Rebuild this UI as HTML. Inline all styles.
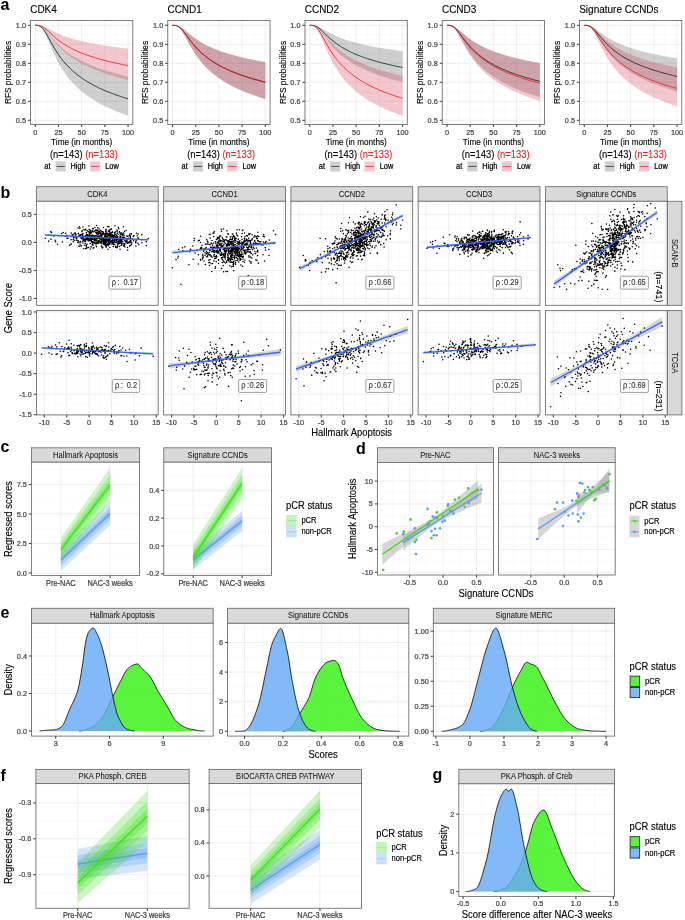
<!DOCTYPE html>
<html><head><meta charset="utf-8"><style>
html,body{margin:0;padding:0;background:#fff;}
svg{display:block;font-family:"Liberation Sans", sans-serif;will-change:transform;}
</style></head><body>
<svg width="685" height="920" viewBox="0 0 685 920">
<text x="0.6" y="9.6" font-size="16" font-weight="bold">a</text>
<rect x="30.5" y="20.5" width="102.3" height="104" fill="#fff"/>
<line x1="46.85" y1="20.5" x2="46.85" y2="124.5" stroke="#f3f3f3" stroke-width="0.45"/>
<line x1="70.05" y1="20.5" x2="70.05" y2="124.5" stroke="#f3f3f3" stroke-width="0.45"/>
<line x1="93.25" y1="20.5" x2="93.25" y2="124.5" stroke="#f3f3f3" stroke-width="0.45"/>
<line x1="116.45" y1="20.5" x2="116.45" y2="124.5" stroke="#f3f3f3" stroke-width="0.45"/>
<line x1="30.5" y1="110.8" x2="132.8" y2="110.8" stroke="#f3f3f3" stroke-width="0.45"/>
<line x1="30.5" y1="91.8" x2="132.8" y2="91.8" stroke="#f3f3f3" stroke-width="0.45"/>
<line x1="30.5" y1="72.8" x2="132.8" y2="72.8" stroke="#f3f3f3" stroke-width="0.45"/>
<line x1="30.5" y1="53.8" x2="132.8" y2="53.8" stroke="#f3f3f3" stroke-width="0.45"/>
<line x1="30.5" y1="34.8" x2="132.8" y2="34.8" stroke="#f3f3f3" stroke-width="0.45"/>
<line x1="35.25" y1="20.5" x2="35.25" y2="124.5" stroke="#e8e8e8" stroke-width="0.7"/>
<line x1="58.45" y1="20.5" x2="58.45" y2="124.5" stroke="#e8e8e8" stroke-width="0.7"/>
<line x1="81.65" y1="20.5" x2="81.65" y2="124.5" stroke="#e8e8e8" stroke-width="0.7"/>
<line x1="104.85" y1="20.5" x2="104.85" y2="124.5" stroke="#e8e8e8" stroke-width="0.7"/>
<line x1="128.05" y1="20.5" x2="128.05" y2="124.5" stroke="#e8e8e8" stroke-width="0.7"/>
<line x1="30.5" y1="120.3" x2="132.8" y2="120.3" stroke="#e8e8e8" stroke-width="0.7"/>
<line x1="30.5" y1="101.3" x2="132.8" y2="101.3" stroke="#e8e8e8" stroke-width="0.7"/>
<line x1="30.5" y1="82.3" x2="132.8" y2="82.3" stroke="#e8e8e8" stroke-width="0.7"/>
<line x1="30.5" y1="63.3" x2="132.8" y2="63.3" stroke="#e8e8e8" stroke-width="0.7"/>
<line x1="30.5" y1="44.3" x2="132.8" y2="44.3" stroke="#e8e8e8" stroke-width="0.7"/>
<line x1="30.5" y1="25.3" x2="132.8" y2="25.3" stroke="#e8e8e8" stroke-width="0.7"/>
<path d="M35.25 25.3 L36.18 25.3 L37.11 25.34 L38.03 25.42 L38.96 25.58 L39.89 25.84 L40.82 26.21 L41.75 26.71 L42.67 27.33 L43.6 28.08 L44.53 28.93 L45.46 29.87 L46.39 30.88 L47.31 31.95 L48.24 33.05 L49.17 34.17 L50.1 35.3 L51.03 36.43 L51.95 37.54 L52.88 38.64 L53.81 39.71 L54.74 40.76 L55.67 41.79 L56.59 42.78 L57.52 43.75 L58.45 44.68 L59.38 45.59 L60.31 46.47 L61.23 47.33 L62.16 48.15 L63.09 48.96 L64.02 49.74 L64.95 50.49 L65.87 51.22 L66.8 51.94 L67.73 52.63 L68.66 53.3 L69.59 53.95 L70.51 54.59 L71.44 55.21 L72.37 55.81 L73.3 56.4 L74.23 56.97 L75.15 57.53 L76.08 58.07 L77.01 58.6 L77.94 59.12 L78.87 59.62 L79.79 60.12 L80.72 60.6 L81.65 61.08 L82.58 61.54 L83.51 61.99 L84.43 62.43 L85.36 62.87 L86.29 63.29 L87.22 63.71 L88.15 64.12 L89.07 64.52 L90 64.91 L90.93 65.29 L91.86 65.67 L92.79 66.04 L93.71 66.41 L94.64 66.77 L95.57 67.12 L96.5 67.46 L97.43 67.8 L98.35 68.14 L99.28 68.47 L100.21 68.79 L101.14 69.11 L102.07 69.42 L102.99 69.73 L103.92 70.03 L104.85 70.33 L105.78 70.63 L106.71 70.92 L107.63 71.2 L108.56 71.48 L109.49 71.76 L110.42 72.03 L111.35 72.3 L112.27 72.57 L113.2 72.83 L114.13 73.09 L115.06 73.35 L115.99 73.6 L116.91 73.85 L117.84 74.09 L118.77 74.33 L119.7 74.57 L120.63 74.81 L121.55 75.04 L122.48 75.27 L123.41 75.5 L124.34 75.73 L125.27 75.95 L126.19 76.17 L127.12 76.39 L128.05 76.6 L128.05 115.55 L127.12 115.23 L126.19 114.91 L125.27 114.59 L124.34 114.26 L123.41 113.93 L122.48 113.59 L121.55 113.24 L120.63 112.9 L119.7 112.54 L118.77 112.18 L117.84 111.82 L116.91 111.45 L115.99 111.08 L115.06 110.7 L114.13 110.31 L113.2 109.92 L112.27 109.52 L111.35 109.12 L110.42 108.71 L109.49 108.29 L108.56 107.87 L107.63 107.44 L106.71 107 L105.78 106.55 L104.85 106.1 L103.92 105.64 L102.99 105.17 L102.07 104.69 L101.14 104.21 L100.21 103.71 L99.28 103.21 L98.35 102.69 L97.43 102.17 L96.5 101.63 L95.57 101.09 L94.64 100.53 L93.71 99.96 L92.79 99.39 L91.86 98.79 L90.93 98.19 L90 97.57 L89.07 96.94 L88.15 96.3 L87.22 95.64 L86.29 94.97 L85.36 94.28 L84.43 93.57 L83.51 92.85 L82.58 92.11 L81.65 91.35 L80.72 90.57 L79.79 89.77 L78.87 88.95 L77.94 88.11 L77.01 87.24 L76.08 86.35 L75.15 85.44 L74.23 84.5 L73.3 83.53 L72.37 82.53 L71.44 81.5 L70.51 80.44 L69.59 79.34 L68.66 78.21 L67.73 77.05 L66.8 75.84 L65.87 74.59 L64.95 73.3 L64.02 71.97 L63.09 70.58 L62.16 69.15 L61.23 67.66 L60.31 66.12 L59.38 64.52 L58.45 62.87 L57.52 61.15 L56.59 59.37 L55.67 57.52 L54.74 55.61 L53.81 53.64 L52.88 51.61 L51.95 49.52 L51.03 47.39 L50.1 45.22 L49.17 43.03 L48.24 40.83 L47.31 38.67 L46.39 36.56 L45.46 34.54 L44.53 32.65 L43.6 30.94 L42.67 29.44 L41.75 28.18 L40.82 27.17 L39.89 26.4 L38.96 25.87 L38.03 25.54 L37.11 25.37 L36.18 25.31 L35.25 25.3Z" fill="#000000" fill-opacity="0.19"/>
<path d="M35.25 25.3 L36.18 25.3 L37.11 25.31 L38.03 25.35 L38.96 25.42 L39.89 25.53 L40.82 25.68 L41.75 25.89 L42.67 26.15 L43.6 26.46 L44.53 26.82 L45.46 27.22 L46.39 27.65 L47.31 28.1 L48.24 28.57 L49.17 29.05 L50.1 29.54 L51.03 30.02 L51.95 30.51 L52.88 30.98 L53.81 31.45 L54.74 31.91 L55.67 32.36 L56.59 32.8 L57.52 33.22 L58.45 33.64 L59.38 34.04 L60.31 34.43 L61.23 34.82 L62.16 35.19 L63.09 35.55 L64.02 35.9 L64.95 36.24 L65.87 36.58 L66.8 36.9 L67.73 37.21 L68.66 37.52 L69.59 37.82 L70.51 38.11 L71.44 38.4 L72.37 38.68 L73.3 38.95 L74.23 39.21 L75.15 39.47 L76.08 39.72 L77.01 39.97 L77.94 40.21 L78.87 40.45 L79.79 40.68 L80.72 40.91 L81.65 41.13 L82.58 41.35 L83.51 41.56 L84.43 41.77 L85.36 41.98 L86.29 42.18 L87.22 42.38 L88.15 42.57 L89.07 42.76 L90 42.95 L90.93 43.13 L91.86 43.32 L92.79 43.49 L93.71 43.67 L94.64 43.84 L95.57 44.01 L96.5 44.18 L97.43 44.34 L98.35 44.5 L99.28 44.66 L100.21 44.82 L101.14 44.97 L102.07 45.13 L102.99 45.28 L103.92 45.42 L104.85 45.57 L105.78 45.71 L106.71 45.86 L107.63 46 L108.56 46.13 L109.49 46.27 L110.42 46.4 L111.35 46.54 L112.27 46.67 L113.2 46.8 L114.13 46.92 L115.06 47.05 L115.99 47.18 L116.91 47.3 L117.84 47.42 L118.77 47.54 L119.7 47.66 L120.63 47.78 L121.55 47.89 L122.48 48.01 L123.41 48.12 L124.34 48.23 L125.27 48.34 L126.19 48.45 L127.12 48.56 L128.05 48.67 L128.05 79.83 L127.12 79.6 L126.19 79.38 L125.27 79.15 L124.34 78.91 L123.41 78.68 L122.48 78.44 L121.55 78.19 L120.63 77.95 L119.7 77.7 L118.77 77.45 L117.84 77.2 L116.91 76.94 L115.99 76.68 L115.06 76.41 L114.13 76.14 L113.2 75.87 L112.27 75.59 L111.35 75.31 L110.42 75.03 L109.49 74.74 L108.56 74.45 L107.63 74.15 L106.71 73.85 L105.78 73.55 L104.85 73.24 L103.92 72.92 L102.99 72.6 L102.07 72.28 L101.14 71.95 L100.21 71.61 L99.28 71.27 L98.35 70.93 L97.43 70.57 L96.5 70.22 L95.57 69.85 L94.64 69.48 L93.71 69.1 L92.79 68.72 L91.86 68.32 L90.93 67.93 L90 67.52 L89.07 67.1 L88.15 66.68 L87.22 66.25 L86.29 65.81 L85.36 65.36 L84.43 64.9 L83.51 64.43 L82.58 63.95 L81.65 63.47 L80.72 62.96 L79.79 62.45 L78.87 61.93 L77.94 61.39 L77.01 60.85 L76.08 60.28 L75.15 59.71 L74.23 59.12 L73.3 58.51 L72.37 57.89 L71.44 57.25 L70.51 56.59 L69.59 55.92 L68.66 55.22 L67.73 54.51 L66.8 53.77 L65.87 53.02 L64.95 52.24 L64.02 51.43 L63.09 50.6 L62.16 49.75 L61.23 48.87 L60.31 47.96 L59.38 47.02 L58.45 46.05 L57.52 45.05 L56.59 44.02 L55.67 42.96 L54.74 41.87 L53.81 40.75 L52.88 39.6 L51.95 38.43 L51.03 37.24 L50.1 36.03 L49.17 34.82 L48.24 33.62 L47.31 32.44 L46.39 31.29 L45.46 30.21 L44.53 29.2 L43.6 28.28 L42.67 27.49 L41.75 26.82 L40.82 26.28 L39.89 25.88 L38.96 25.6 L38.03 25.43 L37.11 25.34 L36.18 25.3 L35.25 25.3Z" fill="#cb1f3b" fill-opacity="0.25"/>
<path d="M35.25 25.3 L36.18 25.31 L37.11 25.36 L38.03 25.49 L38.96 25.74 L39.89 26.14 L40.82 26.72 L41.75 27.49 L42.67 28.45 L43.6 29.6 L44.53 30.91 L45.46 32.36 L46.39 33.91 L47.31 35.54 L48.24 37.22 L49.17 38.92 L50.1 40.63 L51.03 42.32 L51.95 44 L52.88 45.64 L53.81 47.24 L54.74 48.8 L55.67 50.31 L56.59 51.78 L57.52 53.2 L58.45 54.57 L59.38 55.9 L60.31 57.19 L61.23 58.43 L62.16 59.63 L63.09 60.79 L64.02 61.91 L64.95 63 L65.87 64.05 L66.8 65.07 L67.73 66.06 L68.66 67.02 L69.59 67.95 L70.51 68.85 L71.44 69.73 L72.37 70.58 L73.3 71.4 L74.23 72.21 L75.15 72.99 L76.08 73.75 L77.01 74.5 L77.94 75.22 L78.87 75.92 L79.79 76.61 L80.72 77.28 L81.65 77.94 L82.58 78.58 L83.51 79.2 L84.43 79.81 L85.36 80.41 L86.29 81 L87.22 81.57 L88.15 82.13 L89.07 82.67 L90 83.21 L90.93 83.74 L91.86 84.25 L92.79 84.76 L93.71 85.25 L94.64 85.74 L95.57 86.22 L96.5 86.68 L97.43 87.14 L98.35 87.59 L99.28 88.04 L100.21 88.47 L101.14 88.9 L102.07 89.32 L102.99 89.74 L103.92 90.14 L104.85 90.54 L105.78 90.94 L106.71 91.32 L107.63 91.7 L108.56 92.08 L109.49 92.45 L110.42 92.81 L111.35 93.17 L112.27 93.52 L113.2 93.87 L114.13 94.21 L115.06 94.55 L115.99 94.89 L116.91 95.21 L117.84 95.54 L118.77 95.86 L119.7 96.17 L120.63 96.48 L121.55 96.79 L122.48 97.09 L123.41 97.39 L124.34 97.69 L125.27 97.98 L126.19 98.27 L127.12 98.55 L128.05 98.83" fill="none" stroke="#222" stroke-width="0.9" stroke-linejoin="round"/>
<path d="M35.25 25.3 L36.18 25.3 L37.11 25.33 L38.03 25.39 L38.96 25.51 L39.89 25.71 L40.82 25.99 L41.75 26.37 L42.67 26.84 L43.6 27.41 L44.53 28.05 L45.46 28.77 L46.39 29.54 L47.31 30.36 L48.24 31.2 L49.17 32.06 L50.1 32.92 L51.03 33.79 L51.95 34.64 L52.88 35.49 L53.81 36.32 L54.74 37.13 L55.67 37.92 L56.59 38.69 L57.52 39.44 L58.45 40.16 L59.38 40.87 L60.31 41.56 L61.23 42.22 L62.16 42.87 L63.09 43.5 L64.02 44.1 L64.95 44.7 L65.87 45.27 L66.8 45.83 L67.73 46.37 L68.66 46.9 L69.59 47.42 L70.51 47.92 L71.44 48.41 L72.37 48.88 L73.3 49.35 L74.23 49.8 L75.15 50.24 L76.08 50.67 L77.01 51.09 L77.94 51.5 L78.87 51.9 L79.79 52.3 L80.72 52.68 L81.65 53.06 L82.58 53.43 L83.51 53.79 L84.43 54.14 L85.36 54.49 L86.29 54.83 L87.22 55.16 L88.15 55.49 L89.07 55.81 L90 56.12 L90.93 56.43 L91.86 56.73 L92.79 57.03 L93.71 57.32 L94.64 57.61 L95.57 57.89 L96.5 58.17 L97.43 58.45 L98.35 58.71 L99.28 58.98 L100.21 59.24 L101.14 59.5 L102.07 59.75 L102.99 60 L103.92 60.24 L104.85 60.48 L105.78 60.72 L106.71 60.96 L107.63 61.19 L108.56 61.42 L109.49 61.64 L110.42 61.86 L111.35 62.08 L112.27 62.3 L113.2 62.51 L114.13 62.72 L115.06 62.93 L115.99 63.13 L116.91 63.34 L117.84 63.53 L118.77 63.73 L119.7 63.93 L120.63 64.12 L121.55 64.31 L122.48 64.5 L123.41 64.68 L124.34 64.87 L125.27 65.05 L126.19 65.23 L127.12 65.4 L128.05 65.58" fill="none" stroke="#ee2020" stroke-width="0.9" stroke-linejoin="round"/>
<rect x="30.5" y="20.5" width="102.3" height="104" fill="none" stroke="#707070" stroke-width="0.9"/>
<line x1="27.9" y1="120.3" x2="30.5" y2="120.3" stroke="#4a4a4a" stroke-width="1.1"/>
<text x="26" y="122.85" font-size="7.3" stroke="#444444" stroke-width="0.22" text-anchor="end" fill="#444444" transform="translate(26 122.85) scale(1 1.1) translate(-26 -122.85)">0.5</text>
<line x1="27.9" y1="101.3" x2="30.5" y2="101.3" stroke="#4a4a4a" stroke-width="1.1"/>
<text x="26" y="103.85" font-size="7.3" stroke="#444444" stroke-width="0.22" text-anchor="end" fill="#444444" transform="translate(26 103.85) scale(1 1.1) translate(-26 -103.85)">0.6</text>
<line x1="27.9" y1="82.3" x2="30.5" y2="82.3" stroke="#4a4a4a" stroke-width="1.1"/>
<text x="26" y="84.86" font-size="7.3" stroke="#444444" stroke-width="0.22" text-anchor="end" fill="#444444" transform="translate(26 84.86) scale(1 1.1) translate(-26 -84.86)">0.7</text>
<line x1="27.9" y1="63.3" x2="30.5" y2="63.3" stroke="#4a4a4a" stroke-width="1.1"/>
<text x="26" y="65.85" font-size="7.3" stroke="#444444" stroke-width="0.22" text-anchor="end" fill="#444444" transform="translate(26 65.85) scale(1 1.1) translate(-26 -65.85)">0.8</text>
<line x1="27.9" y1="44.3" x2="30.5" y2="44.3" stroke="#4a4a4a" stroke-width="1.1"/>
<text x="26" y="46.85" font-size="7.3" stroke="#444444" stroke-width="0.22" text-anchor="end" fill="#444444" transform="translate(26 46.85) scale(1 1.1) translate(-26 -46.85)">0.9</text>
<line x1="27.9" y1="25.3" x2="30.5" y2="25.3" stroke="#4a4a4a" stroke-width="1.1"/>
<text x="26" y="27.86" font-size="7.3" stroke="#444444" stroke-width="0.22" text-anchor="end" fill="#444444" transform="translate(26 27.86) scale(1 1.1) translate(-26 -27.86)">1.0</text>
<line x1="35.25" y1="124.5" x2="35.25" y2="127.1" stroke="#4a4a4a" stroke-width="1.1"/>
<text x="35.25" y="134.56" font-size="7.3" stroke="#444444" stroke-width="0.22" text-anchor="middle" fill="#444444" transform="translate(35.25 134.56) scale(1 1.1) translate(-35.25 -134.56)">0</text>
<line x1="58.45" y1="124.5" x2="58.45" y2="127.1" stroke="#4a4a4a" stroke-width="1.1"/>
<text x="58.45" y="134.56" font-size="7.3" stroke="#444444" stroke-width="0.22" text-anchor="middle" fill="#444444" transform="translate(58.45 134.56) scale(1 1.1) translate(-58.45 -134.56)">25</text>
<line x1="81.65" y1="124.5" x2="81.65" y2="127.1" stroke="#4a4a4a" stroke-width="1.1"/>
<text x="81.65" y="134.56" font-size="7.3" stroke="#444444" stroke-width="0.22" text-anchor="middle" fill="#444444" transform="translate(81.65 134.56) scale(1 1.1) translate(-81.65 -134.56)">50</text>
<line x1="104.85" y1="124.5" x2="104.85" y2="127.1" stroke="#4a4a4a" stroke-width="1.1"/>
<text x="104.85" y="134.56" font-size="7.3" stroke="#444444" stroke-width="0.22" text-anchor="middle" fill="#444444" transform="translate(104.85 134.56) scale(1 1.1) translate(-104.85 -134.56)">75</text>
<line x1="128.05" y1="124.5" x2="128.05" y2="127.1" stroke="#4a4a4a" stroke-width="1.1"/>
<text x="128.05" y="134.56" font-size="7.3" stroke="#444444" stroke-width="0.22" text-anchor="middle" fill="#444444" transform="translate(128.05 134.56) scale(1 1.1) translate(-128.05 -134.56)">100</text>
<text x="30.2" y="13.3" font-size="10" stroke="#000" stroke-width="0.12" transform="translate(30.2 13.3) scale(1 1.1) translate(-30.2 -13.3)">CDK4</text>
<text x="11.1" y="72.5" font-size="8.3" stroke="#000" stroke-width="0.12" text-anchor="middle" transform="rotate(-90 11.1 72.5) translate(11.1 72.5) scale(1 1.1) translate(-11.1 -72.5)">RFS probabilities</text>
<text x="81.7" y="144.9" font-size="8.2" stroke="#000" stroke-width="0.12" text-anchor="middle" transform="translate(81.7 144.9) scale(1 1.1) translate(-81.7 -144.9)">Time (in months)</text>
<text x="83.9" y="158.2" font-size="9.4" text-anchor="middle" stroke="#000" stroke-width="0.1" transform="translate(83.9 158.2) scale(1 1.1) translate(-83.9 -158.2)">(n=143) <tspan fill="#ee2222" stroke="#ee2222">(n=133)</tspan></text>
<text x="44.3" y="169.1" font-size="7.4" stroke="#000" stroke-width="0.22" transform="translate(44.3 169.1) scale(1 1.1) translate(-44.3 -169.1)">at</text>
<rect x="55.6" y="161.4" width="10.2" height="10.1" fill="#cfcfcf"/>
<line x1="56.7" y1="166.45" x2="64.7" y2="166.45" stroke="#222" stroke-width="0.75"/>
<text x="70.5" y="169.1" font-size="7.4" stroke="#000" stroke-width="0.22" transform="translate(70.5 169.1) scale(1 1.1) translate(-70.5 -169.1)">High</text>
<rect x="89.9" y="161.4" width="10.4" height="10.1" fill="#f2c7ce"/>
<line x1="91" y1="166.45" x2="99.2" y2="166.45" stroke="#ee2020" stroke-width="0.75"/>
<text x="105.2" y="169.1" font-size="7.4" stroke="#000" stroke-width="0.22" transform="translate(105.2 169.1) scale(1 1.1) translate(-105.2 -169.1)">Low</text>
<rect x="167.75" y="20.5" width="102.3" height="104" fill="#fff"/>
<line x1="184.1" y1="20.5" x2="184.1" y2="124.5" stroke="#f3f3f3" stroke-width="0.45"/>
<line x1="207.3" y1="20.5" x2="207.3" y2="124.5" stroke="#f3f3f3" stroke-width="0.45"/>
<line x1="230.5" y1="20.5" x2="230.5" y2="124.5" stroke="#f3f3f3" stroke-width="0.45"/>
<line x1="253.7" y1="20.5" x2="253.7" y2="124.5" stroke="#f3f3f3" stroke-width="0.45"/>
<line x1="167.75" y1="110.8" x2="270.05" y2="110.8" stroke="#f3f3f3" stroke-width="0.45"/>
<line x1="167.75" y1="91.8" x2="270.05" y2="91.8" stroke="#f3f3f3" stroke-width="0.45"/>
<line x1="167.75" y1="72.8" x2="270.05" y2="72.8" stroke="#f3f3f3" stroke-width="0.45"/>
<line x1="167.75" y1="53.8" x2="270.05" y2="53.8" stroke="#f3f3f3" stroke-width="0.45"/>
<line x1="167.75" y1="34.8" x2="270.05" y2="34.8" stroke="#f3f3f3" stroke-width="0.45"/>
<line x1="172.5" y1="20.5" x2="172.5" y2="124.5" stroke="#e8e8e8" stroke-width="0.7"/>
<line x1="195.7" y1="20.5" x2="195.7" y2="124.5" stroke="#e8e8e8" stroke-width="0.7"/>
<line x1="218.9" y1="20.5" x2="218.9" y2="124.5" stroke="#e8e8e8" stroke-width="0.7"/>
<line x1="242.1" y1="20.5" x2="242.1" y2="124.5" stroke="#e8e8e8" stroke-width="0.7"/>
<line x1="265.3" y1="20.5" x2="265.3" y2="124.5" stroke="#e8e8e8" stroke-width="0.7"/>
<line x1="167.75" y1="120.3" x2="270.05" y2="120.3" stroke="#e8e8e8" stroke-width="0.7"/>
<line x1="167.75" y1="101.3" x2="270.05" y2="101.3" stroke="#e8e8e8" stroke-width="0.7"/>
<line x1="167.75" y1="82.3" x2="270.05" y2="82.3" stroke="#e8e8e8" stroke-width="0.7"/>
<line x1="167.75" y1="63.3" x2="270.05" y2="63.3" stroke="#e8e8e8" stroke-width="0.7"/>
<line x1="167.75" y1="44.3" x2="270.05" y2="44.3" stroke="#e8e8e8" stroke-width="0.7"/>
<line x1="167.75" y1="25.3" x2="270.05" y2="25.3" stroke="#e8e8e8" stroke-width="0.7"/>
<path d="M172.5 25.3 L173.43 25.3 L174.36 25.32 L175.28 25.38 L176.21 25.49 L177.14 25.67 L178.07 25.93 L179 26.27 L179.92 26.7 L180.85 27.21 L181.78 27.79 L182.71 28.44 L183.64 29.14 L184.56 29.88 L185.49 30.65 L186.42 31.43 L187.35 32.21 L188.28 33 L189.2 33.78 L190.13 34.55 L191.06 35.3 L191.99 36.04 L192.92 36.76 L193.84 37.46 L194.77 38.14 L195.7 38.81 L196.63 39.45 L197.56 40.08 L198.48 40.68 L199.41 41.27 L200.34 41.85 L201.27 42.4 L202.2 42.95 L203.12 43.47 L204.05 43.98 L204.98 44.48 L205.91 44.96 L206.84 45.44 L207.76 45.89 L208.69 46.34 L209.62 46.78 L210.55 47.2 L211.48 47.62 L212.4 48.02 L213.33 48.42 L214.26 48.8 L215.19 49.18 L216.12 49.55 L217.04 49.91 L217.97 50.26 L218.9 50.61 L219.83 50.95 L220.76 51.28 L221.68 51.61 L222.61 51.92 L223.54 52.24 L224.47 52.54 L225.4 52.84 L226.32 53.14 L227.25 53.43 L228.18 53.71 L229.11 53.99 L230.04 54.27 L230.96 54.53 L231.89 54.8 L232.82 55.06 L233.75 55.32 L234.68 55.57 L235.6 55.82 L236.53 56.06 L237.46 56.3 L238.39 56.54 L239.32 56.77 L240.24 57 L241.17 57.23 L242.1 57.45 L243.03 57.67 L243.96 57.89 L244.88 58.1 L245.81 58.31 L246.74 58.52 L247.67 58.72 L248.6 58.92 L249.52 59.12 L250.45 59.32 L251.38 59.51 L252.31 59.71 L253.24 59.9 L254.16 60.08 L255.09 60.27 L256.02 60.45 L256.95 60.63 L257.88 60.81 L258.8 60.98 L259.73 61.16 L260.66 61.33 L261.59 61.5 L262.52 61.67 L263.44 61.83 L264.37 62 L265.3 62.16 L265.3 99.02 L264.37 98.74 L263.44 98.45 L262.52 98.17 L261.59 97.88 L260.66 97.58 L259.73 97.28 L258.8 96.98 L257.88 96.67 L256.95 96.36 L256.02 96.04 L255.09 95.72 L254.16 95.4 L253.24 95.07 L252.31 94.74 L251.38 94.4 L250.45 94.05 L249.52 93.7 L248.6 93.35 L247.67 92.99 L246.74 92.63 L245.81 92.26 L244.88 91.88 L243.96 91.5 L243.03 91.11 L242.1 90.72 L241.17 90.32 L240.24 89.91 L239.32 89.49 L238.39 89.07 L237.46 88.64 L236.53 88.21 L235.6 87.76 L234.68 87.31 L233.75 86.85 L232.82 86.38 L231.89 85.9 L230.96 85.42 L230.04 84.92 L229.11 84.41 L228.18 83.9 L227.25 83.37 L226.32 82.83 L225.4 82.28 L224.47 81.72 L223.54 81.15 L222.61 80.56 L221.68 79.97 L220.76 79.35 L219.83 78.73 L218.9 78.09 L217.97 77.43 L217.04 76.76 L216.12 76.07 L215.19 75.36 L214.26 74.64 L213.33 73.89 L212.4 73.13 L211.48 72.34 L210.55 71.54 L209.62 70.71 L208.69 69.86 L207.76 68.98 L206.84 68.07 L205.91 67.14 L204.98 66.18 L204.05 65.19 L203.12 64.17 L202.2 63.11 L201.27 62.02 L200.34 60.9 L199.41 59.73 L198.48 58.53 L197.56 57.28 L196.63 56 L195.7 54.66 L194.77 53.28 L193.84 51.86 L192.92 50.39 L191.99 48.87 L191.06 47.31 L190.13 45.7 L189.2 44.06 L188.28 42.38 L187.35 40.68 L186.42 38.96 L185.49 37.26 L184.56 35.57 L183.64 33.94 L182.71 32.38 L181.78 30.93 L180.85 29.62 L179.92 28.47 L179 27.5 L178.07 26.72 L177.14 26.14 L176.21 25.74 L175.28 25.49 L174.36 25.36 L173.43 25.31 L172.5 25.3Z" fill="#000000" fill-opacity="0.19"/>
<path d="M172.5 25.3 L173.43 25.3 L174.36 25.32 L175.28 25.38 L176.21 25.49 L177.14 25.67 L178.07 25.93 L179 26.27 L179.92 26.7 L180.85 27.21 L181.78 27.79 L182.71 28.44 L183.64 29.14 L184.56 29.88 L185.49 30.65 L186.42 31.43 L187.35 32.21 L188.28 33 L189.2 33.78 L190.13 34.55 L191.06 35.3 L191.99 36.04 L192.92 36.76 L193.84 37.46 L194.77 38.14 L195.7 38.81 L196.63 39.45 L197.56 40.08 L198.48 40.68 L199.41 41.27 L200.34 41.85 L201.27 42.4 L202.2 42.95 L203.12 43.47 L204.05 43.98 L204.98 44.48 L205.91 44.96 L206.84 45.44 L207.76 45.89 L208.69 46.34 L209.62 46.78 L210.55 47.2 L211.48 47.62 L212.4 48.02 L213.33 48.42 L214.26 48.8 L215.19 49.18 L216.12 49.55 L217.04 49.91 L217.97 50.26 L218.9 50.61 L219.83 50.95 L220.76 51.28 L221.68 51.61 L222.61 51.92 L223.54 52.24 L224.47 52.54 L225.4 52.84 L226.32 53.14 L227.25 53.43 L228.18 53.71 L229.11 53.99 L230.04 54.27 L230.96 54.53 L231.89 54.8 L232.82 55.06 L233.75 55.32 L234.68 55.57 L235.6 55.82 L236.53 56.06 L237.46 56.3 L238.39 56.54 L239.32 56.77 L240.24 57 L241.17 57.23 L242.1 57.45 L243.03 57.67 L243.96 57.89 L244.88 58.1 L245.81 58.31 L246.74 58.52 L247.67 58.72 L248.6 58.92 L249.52 59.12 L250.45 59.32 L251.38 59.51 L252.31 59.71 L253.24 59.9 L254.16 60.08 L255.09 60.27 L256.02 60.45 L256.95 60.63 L257.88 60.81 L258.8 60.98 L259.73 61.16 L260.66 61.33 L261.59 61.5 L262.52 61.67 L263.44 61.83 L264.37 62 L265.3 62.16 L265.3 99.02 L264.37 98.74 L263.44 98.45 L262.52 98.17 L261.59 97.88 L260.66 97.58 L259.73 97.28 L258.8 96.98 L257.88 96.67 L256.95 96.36 L256.02 96.04 L255.09 95.72 L254.16 95.4 L253.24 95.07 L252.31 94.74 L251.38 94.4 L250.45 94.05 L249.52 93.7 L248.6 93.35 L247.67 92.99 L246.74 92.63 L245.81 92.26 L244.88 91.88 L243.96 91.5 L243.03 91.11 L242.1 90.72 L241.17 90.32 L240.24 89.91 L239.32 89.49 L238.39 89.07 L237.46 88.64 L236.53 88.21 L235.6 87.76 L234.68 87.31 L233.75 86.85 L232.82 86.38 L231.89 85.9 L230.96 85.42 L230.04 84.92 L229.11 84.41 L228.18 83.9 L227.25 83.37 L226.32 82.83 L225.4 82.28 L224.47 81.72 L223.54 81.15 L222.61 80.56 L221.68 79.97 L220.76 79.35 L219.83 78.73 L218.9 78.09 L217.97 77.43 L217.04 76.76 L216.12 76.07 L215.19 75.36 L214.26 74.64 L213.33 73.89 L212.4 73.13 L211.48 72.34 L210.55 71.54 L209.62 70.71 L208.69 69.86 L207.76 68.98 L206.84 68.07 L205.91 67.14 L204.98 66.18 L204.05 65.19 L203.12 64.17 L202.2 63.11 L201.27 62.02 L200.34 60.9 L199.41 59.73 L198.48 58.53 L197.56 57.28 L196.63 56 L195.7 54.66 L194.77 53.28 L193.84 51.86 L192.92 50.39 L191.99 48.87 L191.06 47.31 L190.13 45.7 L189.2 44.06 L188.28 42.38 L187.35 40.68 L186.42 38.96 L185.49 37.26 L184.56 35.57 L183.64 33.94 L182.71 32.38 L181.78 30.93 L180.85 29.62 L179.92 28.47 L179 27.5 L178.07 26.72 L177.14 26.14 L176.21 25.74 L175.28 25.49 L174.36 25.36 L173.43 25.31 L172.5 25.3Z" fill="#cb1f3b" fill-opacity="0.25"/>
<path d="M172.5 25.3 L173.43 25.31 L174.36 25.34 L175.28 25.43 L176.21 25.62 L177.14 25.91 L178.07 26.33 L179 26.89 L179.92 27.6 L180.85 28.43 L181.78 29.39 L182.71 30.45 L183.64 31.59 L184.56 32.79 L185.49 34.03 L186.42 35.29 L187.35 36.55 L188.28 37.82 L189.2 39.06 L190.13 40.29 L191.06 41.49 L191.99 42.66 L192.92 43.8 L193.84 44.91 L194.77 45.99 L195.7 47.03 L196.63 48.04 L197.56 49.02 L198.48 49.97 L199.41 50.89 L200.34 51.78 L201.27 52.65 L202.2 53.48 L203.12 54.3 L204.05 55.08 L204.98 55.85 L205.91 56.59 L206.84 57.32 L207.76 58.02 L208.69 58.7 L209.62 59.37 L210.55 60.01 L211.48 60.64 L212.4 61.26 L213.33 61.86 L214.26 62.44 L215.19 63.01 L216.12 63.57 L217.04 64.11 L217.97 64.64 L218.9 65.16 L219.83 65.67 L220.76 66.17 L221.68 66.66 L222.61 67.13 L223.54 67.6 L224.47 68.05 L225.4 68.5 L226.32 68.94 L227.25 69.37 L228.18 69.79 L229.11 70.21 L230.04 70.61 L230.96 71.01 L231.89 71.4 L232.82 71.79 L233.75 72.17 L234.68 72.54 L235.6 72.9 L236.53 73.26 L237.46 73.61 L238.39 73.96 L239.32 74.3 L240.24 74.64 L241.17 74.97 L242.1 75.3 L243.03 75.62 L243.96 75.93 L244.88 76.24 L245.81 76.55 L246.74 76.85 L247.67 77.15 L248.6 77.44 L249.52 77.73 L250.45 78.02 L251.38 78.3 L252.31 78.58 L253.24 78.85 L254.16 79.12 L255.09 79.39 L256.02 79.65 L256.95 79.91 L257.88 80.17 L258.8 80.42 L259.73 80.67 L260.66 80.92 L261.59 81.16 L262.52 81.4 L263.44 81.64 L264.37 81.88 L265.3 82.11" fill="none" stroke="#222" stroke-width="0.9" stroke-linejoin="round"/>
<path d="M172.5 25.3 L173.43 25.31 L174.36 25.34 L175.28 25.44 L176.21 25.62 L177.14 25.91 L178.07 26.34 L179 26.91 L179.92 27.61 L180.85 28.46 L181.78 29.42 L182.71 30.49 L183.64 31.64 L184.56 32.85 L185.49 34.1 L186.42 35.37 L187.35 36.64 L188.28 37.91 L189.2 39.17 L190.13 40.4 L191.06 41.61 L191.99 42.79 L192.92 43.94 L193.84 45.06 L194.77 46.14 L195.7 47.19 L196.63 48.21 L197.56 49.2 L198.48 50.16 L199.41 51.08 L200.34 51.98 L201.27 52.85 L202.2 53.69 L203.12 54.51 L204.05 55.3 L204.98 56.07 L205.91 56.82 L206.84 57.55 L207.76 58.26 L208.69 58.94 L209.62 59.61 L210.55 60.26 L211.48 60.9 L212.4 61.52 L213.33 62.12 L214.26 62.71 L215.19 63.28 L216.12 63.84 L217.04 64.39 L217.97 64.93 L218.9 65.45 L219.83 65.96 L220.76 66.46 L221.68 66.95 L222.61 67.43 L223.54 67.9 L224.47 68.36 L225.4 68.81 L226.32 69.25 L227.25 69.68 L228.18 70.1 L229.11 70.52 L230.04 70.93 L230.96 71.33 L231.89 71.72 L232.82 72.11 L233.75 72.49 L234.68 72.86 L235.6 73.23 L236.53 73.59 L237.46 73.95 L238.39 74.3 L239.32 74.64 L240.24 74.98 L241.17 75.31 L242.1 75.64 L243.03 75.96 L243.96 76.28 L244.88 76.59 L245.81 76.9 L246.74 77.2 L247.67 77.5 L248.6 77.8 L249.52 78.09 L250.45 78.38 L251.38 78.66 L252.31 78.94 L253.24 79.21 L254.16 79.49 L255.09 79.75 L256.02 80.02 L256.95 80.28 L257.88 80.54 L258.8 80.79 L259.73 81.04 L260.66 81.29 L261.59 81.54 L262.52 81.78 L263.44 82.02 L264.37 82.26 L265.3 82.49" fill="none" stroke="#ee2020" stroke-width="0.9" stroke-linejoin="round"/>
<rect x="167.75" y="20.5" width="102.3" height="104" fill="none" stroke="#707070" stroke-width="0.9"/>
<line x1="165.15" y1="120.3" x2="167.75" y2="120.3" stroke="#4a4a4a" stroke-width="1.1"/>
<text x="163.25" y="122.85" font-size="7.3" stroke="#444444" stroke-width="0.22" text-anchor="end" fill="#444444" transform="translate(163.25 122.85) scale(1 1.1) translate(-163.25 -122.85)">0.5</text>
<line x1="165.15" y1="101.3" x2="167.75" y2="101.3" stroke="#4a4a4a" stroke-width="1.1"/>
<text x="163.25" y="103.85" font-size="7.3" stroke="#444444" stroke-width="0.22" text-anchor="end" fill="#444444" transform="translate(163.25 103.85) scale(1 1.1) translate(-163.25 -103.85)">0.6</text>
<line x1="165.15" y1="82.3" x2="167.75" y2="82.3" stroke="#4a4a4a" stroke-width="1.1"/>
<text x="163.25" y="84.86" font-size="7.3" stroke="#444444" stroke-width="0.22" text-anchor="end" fill="#444444" transform="translate(163.25 84.86) scale(1 1.1) translate(-163.25 -84.86)">0.7</text>
<line x1="165.15" y1="63.3" x2="167.75" y2="63.3" stroke="#4a4a4a" stroke-width="1.1"/>
<text x="163.25" y="65.85" font-size="7.3" stroke="#444444" stroke-width="0.22" text-anchor="end" fill="#444444" transform="translate(163.25 65.85) scale(1 1.1) translate(-163.25 -65.85)">0.8</text>
<line x1="165.15" y1="44.3" x2="167.75" y2="44.3" stroke="#4a4a4a" stroke-width="1.1"/>
<text x="163.25" y="46.85" font-size="7.3" stroke="#444444" stroke-width="0.22" text-anchor="end" fill="#444444" transform="translate(163.25 46.85) scale(1 1.1) translate(-163.25 -46.85)">0.9</text>
<line x1="165.15" y1="25.3" x2="167.75" y2="25.3" stroke="#4a4a4a" stroke-width="1.1"/>
<text x="163.25" y="27.86" font-size="7.3" stroke="#444444" stroke-width="0.22" text-anchor="end" fill="#444444" transform="translate(163.25 27.86) scale(1 1.1) translate(-163.25 -27.86)">1.0</text>
<line x1="172.5" y1="124.5" x2="172.5" y2="127.1" stroke="#4a4a4a" stroke-width="1.1"/>
<text x="172.5" y="134.56" font-size="7.3" stroke="#444444" stroke-width="0.22" text-anchor="middle" fill="#444444" transform="translate(172.5 134.56) scale(1 1.1) translate(-172.5 -134.56)">0</text>
<line x1="195.7" y1="124.5" x2="195.7" y2="127.1" stroke="#4a4a4a" stroke-width="1.1"/>
<text x="195.7" y="134.56" font-size="7.3" stroke="#444444" stroke-width="0.22" text-anchor="middle" fill="#444444" transform="translate(195.7 134.56) scale(1 1.1) translate(-195.7 -134.56)">25</text>
<line x1="218.9" y1="124.5" x2="218.9" y2="127.1" stroke="#4a4a4a" stroke-width="1.1"/>
<text x="218.9" y="134.56" font-size="7.3" stroke="#444444" stroke-width="0.22" text-anchor="middle" fill="#444444" transform="translate(218.9 134.56) scale(1 1.1) translate(-218.9 -134.56)">50</text>
<line x1="242.1" y1="124.5" x2="242.1" y2="127.1" stroke="#4a4a4a" stroke-width="1.1"/>
<text x="242.1" y="134.56" font-size="7.3" stroke="#444444" stroke-width="0.22" text-anchor="middle" fill="#444444" transform="translate(242.1 134.56) scale(1 1.1) translate(-242.1 -134.56)">75</text>
<line x1="265.3" y1="124.5" x2="265.3" y2="127.1" stroke="#4a4a4a" stroke-width="1.1"/>
<text x="265.3" y="134.56" font-size="7.3" stroke="#444444" stroke-width="0.22" text-anchor="middle" fill="#444444" transform="translate(265.3 134.56) scale(1 1.1) translate(-265.3 -134.56)">100</text>
<text x="167.45" y="13.3" font-size="10" stroke="#000" stroke-width="0.12" transform="translate(167.45 13.3) scale(1 1.1) translate(-167.45 -13.3)">CCND1</text>
<text x="148.35" y="72.5" font-size="8.3" stroke="#000" stroke-width="0.12" text-anchor="middle" transform="rotate(-90 148.35 72.5) translate(148.35 72.5) scale(1 1.1) translate(-148.35 -72.5)">RFS probabilities</text>
<text x="218.95" y="144.9" font-size="8.2" stroke="#000" stroke-width="0.12" text-anchor="middle" transform="translate(218.95 144.9) scale(1 1.1) translate(-218.95 -144.9)">Time (in months)</text>
<text x="221.15" y="158.2" font-size="9.4" text-anchor="middle" stroke="#000" stroke-width="0.1" transform="translate(221.15 158.2) scale(1 1.1) translate(-221.15 -158.2)">(n=143) <tspan fill="#ee2222" stroke="#ee2222">(n=133)</tspan></text>
<text x="181.55" y="169.1" font-size="7.4" stroke="#000" stroke-width="0.22" transform="translate(181.55 169.1) scale(1 1.1) translate(-181.55 -169.1)">at</text>
<rect x="192.85" y="161.4" width="10.2" height="10.1" fill="#cfcfcf"/>
<line x1="193.95" y1="166.45" x2="201.95" y2="166.45" stroke="#222" stroke-width="0.75"/>
<text x="207.75" y="169.1" font-size="7.4" stroke="#000" stroke-width="0.22" transform="translate(207.75 169.1) scale(1 1.1) translate(-207.75 -169.1)">High</text>
<rect x="227.15" y="161.4" width="10.4" height="10.1" fill="#f2c7ce"/>
<line x1="228.25" y1="166.45" x2="236.45" y2="166.45" stroke="#ee2020" stroke-width="0.75"/>
<text x="242.45" y="169.1" font-size="7.4" stroke="#000" stroke-width="0.22" transform="translate(242.45 169.1) scale(1 1.1) translate(-242.45 -169.1)">Low</text>
<rect x="305" y="20.5" width="102.3" height="104" fill="#fff"/>
<line x1="321.35" y1="20.5" x2="321.35" y2="124.5" stroke="#f3f3f3" stroke-width="0.45"/>
<line x1="344.55" y1="20.5" x2="344.55" y2="124.5" stroke="#f3f3f3" stroke-width="0.45"/>
<line x1="367.75" y1="20.5" x2="367.75" y2="124.5" stroke="#f3f3f3" stroke-width="0.45"/>
<line x1="390.95" y1="20.5" x2="390.95" y2="124.5" stroke="#f3f3f3" stroke-width="0.45"/>
<line x1="305" y1="110.8" x2="407.3" y2="110.8" stroke="#f3f3f3" stroke-width="0.45"/>
<line x1="305" y1="91.8" x2="407.3" y2="91.8" stroke="#f3f3f3" stroke-width="0.45"/>
<line x1="305" y1="72.8" x2="407.3" y2="72.8" stroke="#f3f3f3" stroke-width="0.45"/>
<line x1="305" y1="53.8" x2="407.3" y2="53.8" stroke="#f3f3f3" stroke-width="0.45"/>
<line x1="305" y1="34.8" x2="407.3" y2="34.8" stroke="#f3f3f3" stroke-width="0.45"/>
<line x1="309.75" y1="20.5" x2="309.75" y2="124.5" stroke="#e8e8e8" stroke-width="0.7"/>
<line x1="332.95" y1="20.5" x2="332.95" y2="124.5" stroke="#e8e8e8" stroke-width="0.7"/>
<line x1="356.15" y1="20.5" x2="356.15" y2="124.5" stroke="#e8e8e8" stroke-width="0.7"/>
<line x1="379.35" y1="20.5" x2="379.35" y2="124.5" stroke="#e8e8e8" stroke-width="0.7"/>
<line x1="402.55" y1="20.5" x2="402.55" y2="124.5" stroke="#e8e8e8" stroke-width="0.7"/>
<line x1="305" y1="120.3" x2="407.3" y2="120.3" stroke="#e8e8e8" stroke-width="0.7"/>
<line x1="305" y1="101.3" x2="407.3" y2="101.3" stroke="#e8e8e8" stroke-width="0.7"/>
<line x1="305" y1="82.3" x2="407.3" y2="82.3" stroke="#e8e8e8" stroke-width="0.7"/>
<line x1="305" y1="63.3" x2="407.3" y2="63.3" stroke="#e8e8e8" stroke-width="0.7"/>
<line x1="305" y1="44.3" x2="407.3" y2="44.3" stroke="#e8e8e8" stroke-width="0.7"/>
<line x1="305" y1="25.3" x2="407.3" y2="25.3" stroke="#e8e8e8" stroke-width="0.7"/>
<path d="M309.75 25.3 L310.68 25.3 L311.61 25.32 L312.53 25.36 L313.46 25.43 L314.39 25.55 L315.32 25.72 L316.25 25.96 L317.17 26.25 L318.1 26.6 L319.03 26.99 L319.96 27.44 L320.89 27.91 L321.81 28.42 L322.74 28.94 L323.67 29.48 L324.6 30.01 L325.53 30.55 L326.45 31.09 L327.38 31.62 L328.31 32.14 L329.24 32.65 L330.17 33.14 L331.09 33.63 L332.02 34.1 L332.95 34.56 L333.88 35.01 L334.81 35.45 L335.73 35.87 L336.66 36.28 L337.59 36.68 L338.52 37.07 L339.45 37.45 L340.37 37.82 L341.3 38.17 L342.23 38.52 L343.16 38.86 L344.09 39.19 L345.01 39.52 L345.94 39.83 L346.87 40.14 L347.8 40.44 L348.73 40.73 L349.65 41.01 L350.58 41.29 L351.51 41.57 L352.44 41.83 L353.37 42.1 L354.29 42.35 L355.22 42.6 L356.15 42.85 L357.08 43.09 L358.01 43.32 L358.93 43.55 L359.86 43.78 L360.79 44 L361.72 44.22 L362.65 44.43 L363.57 44.65 L364.5 44.85 L365.43 45.05 L366.36 45.25 L367.29 45.45 L368.21 45.64 L369.14 45.83 L370.07 46.02 L371 46.2 L371.93 46.38 L372.85 46.56 L373.78 46.74 L374.71 46.91 L375.64 47.08 L376.57 47.25 L377.49 47.41 L378.42 47.57 L379.35 47.73 L380.28 47.89 L381.21 48.05 L382.13 48.2 L383.06 48.35 L383.99 48.5 L384.92 48.65 L385.85 48.8 L386.77 48.94 L387.7 49.08 L388.63 49.22 L389.56 49.36 L390.49 49.5 L391.41 49.63 L392.34 49.77 L393.27 49.9 L394.2 50.03 L395.13 50.16 L396.05 50.29 L396.98 50.41 L397.91 50.54 L398.84 50.66 L399.77 50.78 L400.69 50.9 L401.62 51.02 L402.55 51.14 L402.55 82.3 L401.62 82.07 L400.69 81.83 L399.77 81.59 L398.84 81.35 L397.91 81.11 L396.98 80.86 L396.05 80.61 L395.13 80.35 L394.2 80.1 L393.27 79.83 L392.34 79.57 L391.41 79.3 L390.49 79.03 L389.56 78.76 L388.63 78.48 L387.7 78.2 L386.77 77.91 L385.85 77.62 L384.92 77.33 L383.99 77.03 L383.06 76.72 L382.13 76.42 L381.21 76.11 L380.28 75.79 L379.35 75.47 L378.42 75.14 L377.49 74.81 L376.57 74.47 L375.64 74.13 L374.71 73.78 L373.78 73.43 L372.85 73.07 L371.93 72.7 L371 72.33 L370.07 71.95 L369.14 71.56 L368.21 71.17 L367.29 70.77 L366.36 70.36 L365.43 69.95 L364.5 69.52 L363.57 69.09 L362.65 68.65 L361.72 68.2 L360.79 67.75 L359.86 67.28 L358.93 66.8 L358.01 66.31 L357.08 65.82 L356.15 65.31 L355.22 64.78 L354.29 64.25 L353.37 63.71 L352.44 63.15 L351.51 62.58 L350.58 61.99 L349.65 61.39 L348.73 60.77 L347.8 60.14 L346.87 59.49 L345.94 58.82 L345.01 58.14 L344.09 57.43 L343.16 56.71 L342.23 55.96 L341.3 55.19 L340.37 54.4 L339.45 53.59 L338.52 52.75 L337.59 51.88 L336.66 50.99 L335.73 50.06 L334.81 49.11 L333.88 48.13 L332.95 47.11 L332.02 46.07 L331.09 44.99 L330.17 43.87 L329.24 42.73 L328.31 41.55 L327.38 40.35 L326.45 39.12 L325.53 37.86 L324.6 36.6 L323.67 35.33 L322.74 34.06 L321.81 32.82 L320.89 31.62 L319.96 30.47 L319.03 29.41 L318.1 28.45 L317.17 27.6 L316.25 26.9 L315.32 26.34 L314.39 25.91 L313.46 25.62 L312.53 25.44 L311.61 25.34 L310.68 25.31 L309.75 25.3Z" fill="#000000" fill-opacity="0.19"/>
<path d="M309.75 25.3 L310.68 25.3 L311.61 25.34 L312.53 25.42 L313.46 25.58 L314.39 25.83 L315.32 26.2 L316.25 26.69 L317.17 27.31 L318.1 28.04 L319.03 28.88 L319.96 29.81 L320.89 30.81 L321.81 31.86 L322.74 32.95 L323.67 34.06 L324.6 35.18 L325.53 36.29 L326.45 37.39 L327.38 38.47 L328.31 39.53 L329.24 40.57 L330.17 41.58 L331.09 42.56 L332.02 43.52 L332.95 44.44 L333.88 45.34 L334.81 46.21 L335.73 47.06 L336.66 47.87 L337.59 48.67 L338.52 49.44 L339.45 50.18 L340.37 50.91 L341.3 51.61 L342.23 52.3 L343.16 52.96 L344.09 53.61 L345.01 54.24 L345.94 54.85 L346.87 55.45 L347.8 56.03 L348.73 56.59 L349.65 57.14 L350.58 57.68 L351.51 58.21 L352.44 58.72 L353.37 59.22 L354.29 59.71 L355.22 60.19 L356.15 60.66 L357.08 61.11 L358.01 61.56 L358.93 62 L359.86 62.43 L360.79 62.85 L361.72 63.26 L362.65 63.67 L363.57 64.06 L364.5 64.45 L365.43 64.83 L366.36 65.21 L367.29 65.57 L368.21 65.93 L369.14 66.29 L370.07 66.64 L371 66.98 L371.93 67.32 L372.85 67.65 L373.78 67.97 L374.71 68.29 L375.64 68.61 L376.57 68.92 L377.49 69.22 L378.42 69.52 L379.35 69.82 L380.28 70.11 L381.21 70.4 L382.13 70.68 L383.06 70.96 L383.99 71.23 L384.92 71.51 L385.85 71.77 L386.77 72.04 L387.7 72.3 L388.63 72.55 L389.56 72.81 L390.49 73.05 L391.41 73.3 L392.34 73.54 L393.27 73.78 L394.2 74.02 L395.13 74.26 L396.05 74.49 L396.98 74.72 L397.91 74.94 L398.84 75.16 L399.77 75.38 L400.69 75.6 L401.62 75.82 L402.55 76.03 L402.55 115.74 L401.62 115.42 L400.69 115.1 L399.77 114.78 L398.84 114.45 L397.91 114.11 L396.98 113.77 L396.05 113.43 L395.13 113.08 L394.2 112.73 L393.27 112.37 L392.34 112.01 L391.41 111.64 L390.49 111.26 L389.56 110.88 L388.63 110.5 L387.7 110.11 L386.77 109.71 L385.85 109.3 L384.92 108.89 L383.99 108.47 L383.06 108.05 L382.13 107.62 L381.21 107.18 L380.28 106.73 L379.35 106.28 L378.42 105.82 L377.49 105.35 L376.57 104.87 L375.64 104.38 L374.71 103.89 L373.78 103.38 L372.85 102.86 L371.93 102.34 L371 101.8 L370.07 101.26 L369.14 100.7 L368.21 100.13 L367.29 99.55 L366.36 98.96 L365.43 98.36 L364.5 97.74 L363.57 97.11 L362.65 96.46 L361.72 95.8 L360.79 95.13 L359.86 94.44 L358.93 93.73 L358.01 93.01 L357.08 92.26 L356.15 91.5 L355.22 90.72 L354.29 89.92 L353.37 89.1 L352.44 88.26 L351.51 87.39 L350.58 86.5 L349.65 85.58 L348.73 84.64 L347.8 83.67 L346.87 82.67 L345.94 81.64 L345.01 80.58 L344.09 79.48 L343.16 78.35 L342.23 77.18 L341.3 75.97 L340.37 74.72 L339.45 73.43 L338.52 72.09 L337.59 70.7 L336.66 69.26 L335.73 67.77 L334.81 66.23 L333.88 64.63 L332.95 62.97 L332.02 61.24 L331.09 59.46 L330.17 57.61 L329.24 55.7 L328.31 53.72 L327.38 51.68 L326.45 49.59 L325.53 47.45 L324.6 45.27 L323.67 43.08 L322.74 40.88 L321.81 38.7 L320.89 36.59 L319.96 34.57 L319.03 32.68 L318.1 30.96 L317.17 29.46 L316.25 28.19 L315.32 27.17 L314.39 26.41 L313.46 25.87 L312.53 25.54 L311.61 25.37 L310.68 25.31 L309.75 25.3Z" fill="#cb1f3b" fill-opacity="0.25"/>
<path d="M309.75 25.3 L310.68 25.3 L311.61 25.33 L312.53 25.4 L313.46 25.52 L314.39 25.73 L315.32 26.03 L316.25 26.43 L317.17 26.92 L318.1 27.52 L319.03 28.2 L319.96 28.95 L320.89 29.77 L321.81 30.62 L322.74 31.51 L323.67 32.41 L324.6 33.32 L325.53 34.23 L326.45 35.13 L327.38 36.02 L328.31 36.89 L329.24 37.74 L330.17 38.57 L331.09 39.38 L332.02 40.16 L332.95 40.93 L333.88 41.67 L334.81 42.39 L335.73 43.08 L336.66 43.76 L337.59 44.42 L338.52 45.06 L339.45 45.68 L340.37 46.28 L341.3 46.87 L342.23 47.43 L343.16 47.99 L344.09 48.53 L345.01 49.05 L345.94 49.56 L346.87 50.06 L347.8 50.54 L348.73 51.02 L349.65 51.48 L350.58 51.93 L351.51 52.37 L352.44 52.8 L353.37 53.22 L354.29 53.63 L355.22 54.03 L356.15 54.43 L357.08 54.81 L358.01 55.19 L358.93 55.56 L359.86 55.92 L360.79 56.27 L361.72 56.62 L362.65 56.96 L363.57 57.3 L364.5 57.62 L365.43 57.95 L366.36 58.26 L367.29 58.57 L368.21 58.88 L369.14 59.18 L370.07 59.47 L371 59.76 L371.93 60.05 L372.85 60.33 L373.78 60.61 L374.71 60.88 L375.64 61.14 L376.57 61.41 L377.49 61.67 L378.42 61.92 L379.35 62.17 L380.28 62.42 L381.21 62.67 L382.13 62.91 L383.06 63.15 L383.99 63.38 L384.92 63.61 L385.85 63.84 L386.77 64.06 L387.7 64.29 L388.63 64.5 L389.56 64.72 L390.49 64.93 L391.41 65.14 L392.34 65.35 L393.27 65.56 L394.2 65.76 L395.13 65.96 L396.05 66.16 L396.98 66.35 L397.91 66.55 L398.84 66.74 L399.77 66.93 L400.69 67.11 L401.62 67.3 L402.55 67.48" fill="none" stroke="#222" stroke-width="0.9" stroke-linejoin="round"/>
<path d="M309.75 25.3 L310.68 25.31 L311.61 25.35 L312.53 25.48 L313.46 25.73 L314.39 26.13 L315.32 26.7 L316.25 27.47 L317.17 28.42 L318.1 29.56 L319.03 30.86 L319.96 32.29 L320.89 33.83 L321.81 35.44 L322.74 37.1 L323.67 38.79 L324.6 40.48 L325.53 42.16 L326.45 43.82 L327.38 45.44 L328.31 47.03 L329.24 48.58 L330.17 50.08 L331.09 51.53 L332.02 52.94 L332.95 54.3 L333.88 55.62 L334.81 56.9 L335.73 58.13 L336.66 59.32 L337.59 60.47 L338.52 61.59 L339.45 62.67 L340.37 63.71 L341.3 64.72 L342.23 65.7 L343.16 66.65 L344.09 67.57 L345.01 68.47 L345.94 69.34 L346.87 70.18 L347.8 71 L348.73 71.8 L349.65 72.58 L350.58 73.34 L351.51 74.07 L352.44 74.79 L353.37 75.49 L354.29 76.18 L355.22 76.84 L356.15 77.49 L357.08 78.13 L358.01 78.75 L358.93 79.36 L359.86 79.95 L360.79 80.53 L361.72 81.1 L362.65 81.65 L363.57 82.2 L364.5 82.73 L365.43 83.25 L366.36 83.77 L367.29 84.27 L368.21 84.76 L369.14 85.24 L370.07 85.72 L371 86.18 L371.93 86.64 L372.85 87.09 L373.78 87.53 L374.71 87.96 L375.64 88.39 L376.57 88.8 L377.49 89.22 L378.42 89.62 L379.35 90.02 L380.28 90.41 L381.21 90.79 L382.13 91.17 L383.06 91.55 L383.99 91.91 L384.92 92.28 L385.85 92.63 L386.77 92.98 L387.7 93.33 L388.63 93.67 L389.56 94.01 L390.49 94.34 L391.41 94.66 L392.34 94.99 L393.27 95.3 L394.2 95.62 L395.13 95.93 L396.05 96.23 L396.98 96.53 L397.91 96.83 L398.84 97.12 L399.77 97.41 L400.69 97.7 L401.62 97.98 L402.55 98.26" fill="none" stroke="#ee2020" stroke-width="0.9" stroke-linejoin="round"/>
<rect x="305" y="20.5" width="102.3" height="104" fill="none" stroke="#707070" stroke-width="0.9"/>
<line x1="302.4" y1="120.3" x2="305" y2="120.3" stroke="#4a4a4a" stroke-width="1.1"/>
<text x="300.5" y="122.85" font-size="7.3" stroke="#444444" stroke-width="0.22" text-anchor="end" fill="#444444" transform="translate(300.5 122.85) scale(1 1.1) translate(-300.5 -122.85)">0.5</text>
<line x1="302.4" y1="101.3" x2="305" y2="101.3" stroke="#4a4a4a" stroke-width="1.1"/>
<text x="300.5" y="103.85" font-size="7.3" stroke="#444444" stroke-width="0.22" text-anchor="end" fill="#444444" transform="translate(300.5 103.85) scale(1 1.1) translate(-300.5 -103.85)">0.6</text>
<line x1="302.4" y1="82.3" x2="305" y2="82.3" stroke="#4a4a4a" stroke-width="1.1"/>
<text x="300.5" y="84.86" font-size="7.3" stroke="#444444" stroke-width="0.22" text-anchor="end" fill="#444444" transform="translate(300.5 84.86) scale(1 1.1) translate(-300.5 -84.86)">0.7</text>
<line x1="302.4" y1="63.3" x2="305" y2="63.3" stroke="#4a4a4a" stroke-width="1.1"/>
<text x="300.5" y="65.85" font-size="7.3" stroke="#444444" stroke-width="0.22" text-anchor="end" fill="#444444" transform="translate(300.5 65.85) scale(1 1.1) translate(-300.5 -65.85)">0.8</text>
<line x1="302.4" y1="44.3" x2="305" y2="44.3" stroke="#4a4a4a" stroke-width="1.1"/>
<text x="300.5" y="46.85" font-size="7.3" stroke="#444444" stroke-width="0.22" text-anchor="end" fill="#444444" transform="translate(300.5 46.85) scale(1 1.1) translate(-300.5 -46.85)">0.9</text>
<line x1="302.4" y1="25.3" x2="305" y2="25.3" stroke="#4a4a4a" stroke-width="1.1"/>
<text x="300.5" y="27.86" font-size="7.3" stroke="#444444" stroke-width="0.22" text-anchor="end" fill="#444444" transform="translate(300.5 27.86) scale(1 1.1) translate(-300.5 -27.86)">1.0</text>
<line x1="309.75" y1="124.5" x2="309.75" y2="127.1" stroke="#4a4a4a" stroke-width="1.1"/>
<text x="309.75" y="134.56" font-size="7.3" stroke="#444444" stroke-width="0.22" text-anchor="middle" fill="#444444" transform="translate(309.75 134.56) scale(1 1.1) translate(-309.75 -134.56)">0</text>
<line x1="332.95" y1="124.5" x2="332.95" y2="127.1" stroke="#4a4a4a" stroke-width="1.1"/>
<text x="332.95" y="134.56" font-size="7.3" stroke="#444444" stroke-width="0.22" text-anchor="middle" fill="#444444" transform="translate(332.95 134.56) scale(1 1.1) translate(-332.95 -134.56)">25</text>
<line x1="356.15" y1="124.5" x2="356.15" y2="127.1" stroke="#4a4a4a" stroke-width="1.1"/>
<text x="356.15" y="134.56" font-size="7.3" stroke="#444444" stroke-width="0.22" text-anchor="middle" fill="#444444" transform="translate(356.15 134.56) scale(1 1.1) translate(-356.15 -134.56)">50</text>
<line x1="379.35" y1="124.5" x2="379.35" y2="127.1" stroke="#4a4a4a" stroke-width="1.1"/>
<text x="379.35" y="134.56" font-size="7.3" stroke="#444444" stroke-width="0.22" text-anchor="middle" fill="#444444" transform="translate(379.35 134.56) scale(1 1.1) translate(-379.35 -134.56)">75</text>
<line x1="402.55" y1="124.5" x2="402.55" y2="127.1" stroke="#4a4a4a" stroke-width="1.1"/>
<text x="402.55" y="134.56" font-size="7.3" stroke="#444444" stroke-width="0.22" text-anchor="middle" fill="#444444" transform="translate(402.55 134.56) scale(1 1.1) translate(-402.55 -134.56)">100</text>
<text x="304.7" y="13.3" font-size="10" stroke="#000" stroke-width="0.12" transform="translate(304.7 13.3) scale(1 1.1) translate(-304.7 -13.3)">CCND2</text>
<text x="285.6" y="72.5" font-size="8.3" stroke="#000" stroke-width="0.12" text-anchor="middle" transform="rotate(-90 285.6 72.5) translate(285.6 72.5) scale(1 1.1) translate(-285.6 -72.5)">RFS probabilities</text>
<text x="356.2" y="144.9" font-size="8.2" stroke="#000" stroke-width="0.12" text-anchor="middle" transform="translate(356.2 144.9) scale(1 1.1) translate(-356.2 -144.9)">Time (in months)</text>
<text x="358.4" y="158.2" font-size="9.4" text-anchor="middle" stroke="#000" stroke-width="0.1" transform="translate(358.4 158.2) scale(1 1.1) translate(-358.4 -158.2)">(n=143) <tspan fill="#ee2222" stroke="#ee2222">(n=133)</tspan></text>
<text x="318.8" y="169.1" font-size="7.4" stroke="#000" stroke-width="0.22" transform="translate(318.8 169.1) scale(1 1.1) translate(-318.8 -169.1)">at</text>
<rect x="330.1" y="161.4" width="10.2" height="10.1" fill="#cfcfcf"/>
<line x1="331.2" y1="166.45" x2="339.2" y2="166.45" stroke="#222" stroke-width="0.75"/>
<text x="345" y="169.1" font-size="7.4" stroke="#000" stroke-width="0.22" transform="translate(345 169.1) scale(1 1.1) translate(-345 -169.1)">High</text>
<rect x="364.4" y="161.4" width="10.4" height="10.1" fill="#f2c7ce"/>
<line x1="365.5" y1="166.45" x2="373.7" y2="166.45" stroke="#ee2020" stroke-width="0.75"/>
<text x="379.7" y="169.1" font-size="7.4" stroke="#000" stroke-width="0.22" transform="translate(379.7 169.1) scale(1 1.1) translate(-379.7 -169.1)">Low</text>
<rect x="442.25" y="20.5" width="102.3" height="104" fill="#fff"/>
<line x1="458.6" y1="20.5" x2="458.6" y2="124.5" stroke="#f3f3f3" stroke-width="0.45"/>
<line x1="481.8" y1="20.5" x2="481.8" y2="124.5" stroke="#f3f3f3" stroke-width="0.45"/>
<line x1="505" y1="20.5" x2="505" y2="124.5" stroke="#f3f3f3" stroke-width="0.45"/>
<line x1="528.2" y1="20.5" x2="528.2" y2="124.5" stroke="#f3f3f3" stroke-width="0.45"/>
<line x1="442.25" y1="110.8" x2="544.55" y2="110.8" stroke="#f3f3f3" stroke-width="0.45"/>
<line x1="442.25" y1="91.8" x2="544.55" y2="91.8" stroke="#f3f3f3" stroke-width="0.45"/>
<line x1="442.25" y1="72.8" x2="544.55" y2="72.8" stroke="#f3f3f3" stroke-width="0.45"/>
<line x1="442.25" y1="53.8" x2="544.55" y2="53.8" stroke="#f3f3f3" stroke-width="0.45"/>
<line x1="442.25" y1="34.8" x2="544.55" y2="34.8" stroke="#f3f3f3" stroke-width="0.45"/>
<line x1="447" y1="20.5" x2="447" y2="124.5" stroke="#e8e8e8" stroke-width="0.7"/>
<line x1="470.2" y1="20.5" x2="470.2" y2="124.5" stroke="#e8e8e8" stroke-width="0.7"/>
<line x1="493.4" y1="20.5" x2="493.4" y2="124.5" stroke="#e8e8e8" stroke-width="0.7"/>
<line x1="516.6" y1="20.5" x2="516.6" y2="124.5" stroke="#e8e8e8" stroke-width="0.7"/>
<line x1="539.8" y1="20.5" x2="539.8" y2="124.5" stroke="#e8e8e8" stroke-width="0.7"/>
<line x1="442.25" y1="120.3" x2="544.55" y2="120.3" stroke="#e8e8e8" stroke-width="0.7"/>
<line x1="442.25" y1="101.3" x2="544.55" y2="101.3" stroke="#e8e8e8" stroke-width="0.7"/>
<line x1="442.25" y1="82.3" x2="544.55" y2="82.3" stroke="#e8e8e8" stroke-width="0.7"/>
<line x1="442.25" y1="63.3" x2="544.55" y2="63.3" stroke="#e8e8e8" stroke-width="0.7"/>
<line x1="442.25" y1="44.3" x2="544.55" y2="44.3" stroke="#e8e8e8" stroke-width="0.7"/>
<line x1="442.25" y1="25.3" x2="544.55" y2="25.3" stroke="#e8e8e8" stroke-width="0.7"/>
<path d="M447 25.3 L447.93 25.3 L448.86 25.32 L449.78 25.38 L450.71 25.5 L451.64 25.68 L452.57 25.94 L453.5 26.29 L454.42 26.73 L455.35 27.25 L456.28 27.85 L457.21 28.52 L458.14 29.23 L459.06 29.99 L459.99 30.77 L460.92 31.57 L461.85 32.37 L462.78 33.17 L463.7 33.97 L464.63 34.75 L465.56 35.52 L466.49 36.28 L467.42 37.01 L468.34 37.73 L469.27 38.43 L470.2 39.11 L471.13 39.76 L472.06 40.4 L472.98 41.02 L473.91 41.63 L474.84 42.21 L475.77 42.78 L476.7 43.33 L477.62 43.87 L478.55 44.39 L479.48 44.9 L480.41 45.39 L481.34 45.87 L482.26 46.34 L483.19 46.8 L484.12 47.24 L485.05 47.68 L485.98 48.1 L486.9 48.51 L487.83 48.92 L488.76 49.31 L489.69 49.7 L490.62 50.07 L491.54 50.44 L492.47 50.8 L493.4 51.15 L494.33 51.5 L495.26 51.84 L496.18 52.17 L497.11 52.49 L498.04 52.81 L498.97 53.12 L499.9 53.43 L500.82 53.73 L501.75 54.02 L502.68 54.31 L503.61 54.6 L504.54 54.88 L505.46 55.15 L506.39 55.42 L507.32 55.69 L508.25 55.95 L509.18 56.21 L510.1 56.46 L511.03 56.71 L511.96 56.95 L512.89 57.19 L513.82 57.43 L514.74 57.67 L515.67 57.9 L516.6 58.12 L517.53 58.35 L518.46 58.57 L519.38 58.79 L520.31 59 L521.24 59.21 L522.17 59.42 L523.1 59.63 L524.02 59.83 L524.95 60.03 L525.88 60.23 L526.81 60.42 L527.74 60.61 L528.66 60.81 L529.59 60.99 L530.52 61.18 L531.45 61.36 L532.38 61.54 L533.3 61.72 L534.23 61.9 L535.16 62.07 L536.09 62.25 L537.02 62.42 L537.94 62.59 L538.87 62.75 L539.8 62.92 L539.8 97.12 L538.87 96.84 L537.94 96.56 L537.02 96.28 L536.09 95.99 L535.16 95.7 L534.23 95.41 L533.3 95.11 L532.38 94.81 L531.45 94.51 L530.52 94.2 L529.59 93.88 L528.66 93.56 L527.74 93.24 L526.81 92.91 L525.88 92.58 L524.95 92.24 L524.02 91.9 L523.1 91.55 L522.17 91.2 L521.24 90.84 L520.31 90.48 L519.38 90.11 L518.46 89.74 L517.53 89.36 L516.6 88.97 L515.67 88.58 L514.74 88.18 L513.82 87.77 L512.89 87.36 L511.96 86.94 L511.03 86.51 L510.1 86.07 L509.18 85.63 L508.25 85.18 L507.32 84.72 L506.39 84.25 L505.46 83.78 L504.54 83.29 L503.61 82.79 L502.68 82.29 L501.75 81.77 L500.82 81.25 L499.9 80.71 L498.97 80.16 L498.04 79.6 L497.11 79.03 L496.18 78.44 L495.26 77.84 L494.33 77.23 L493.4 76.6 L492.47 75.96 L491.54 75.3 L490.62 74.63 L489.69 73.94 L488.76 73.23 L487.83 72.51 L486.9 71.76 L485.98 70.99 L485.05 70.21 L484.12 69.4 L483.19 68.57 L482.26 67.71 L481.34 66.83 L480.41 65.92 L479.48 64.98 L478.55 64.02 L477.62 63.02 L476.7 62 L475.77 60.93 L474.84 59.84 L473.91 58.7 L472.98 57.53 L472.06 56.32 L471.13 55.07 L470.2 53.77 L469.27 52.43 L468.34 51.05 L467.42 49.62 L466.49 48.14 L465.56 46.62 L464.63 45.06 L463.7 43.47 L462.78 41.84 L461.85 40.19 L460.92 38.53 L459.99 36.87 L459.06 35.24 L458.14 33.66 L457.21 32.15 L456.28 30.75 L455.35 29.48 L454.42 28.36 L453.5 27.43 L452.57 26.68 L451.64 26.11 L450.71 25.72 L449.78 25.48 L448.86 25.35 L447.93 25.31 L447 25.3Z" fill="#000000" fill-opacity="0.19"/>
<path d="M447 25.3 L447.93 25.3 L448.86 25.33 L449.78 25.38 L450.71 25.5 L451.64 25.68 L452.57 25.95 L453.5 26.3 L454.42 26.75 L455.35 27.27 L456.28 27.88 L457.21 28.55 L458.14 29.28 L459.06 30.04 L459.99 30.83 L460.92 31.64 L461.85 32.45 L462.78 33.26 L463.7 34.07 L464.63 34.86 L465.56 35.64 L466.49 36.4 L467.42 37.14 L468.34 37.87 L469.27 38.57 L470.2 39.26 L471.13 39.92 L472.06 40.57 L472.98 41.19 L473.91 41.8 L474.84 42.39 L475.77 42.97 L476.7 43.53 L477.62 44.07 L478.55 44.6 L479.48 45.11 L480.41 45.61 L481.34 46.09 L482.26 46.57 L483.19 47.03 L484.12 47.48 L485.05 47.91 L485.98 48.34 L486.9 48.76 L487.83 49.17 L488.76 49.56 L489.69 49.95 L490.62 50.33 L491.54 50.7 L492.47 51.07 L493.4 51.42 L494.33 51.77 L495.26 52.11 L496.18 52.45 L497.11 52.78 L498.04 53.1 L498.97 53.41 L499.9 53.72 L500.82 54.03 L501.75 54.32 L502.68 54.62 L503.61 54.9 L504.54 55.19 L505.46 55.46 L506.39 55.74 L507.32 56 L508.25 56.27 L509.18 56.53 L510.1 56.78 L511.03 57.03 L511.96 57.28 L512.89 57.52 L513.82 57.76 L514.74 58 L515.67 58.23 L516.6 58.46 L517.53 58.69 L518.46 58.91 L519.38 59.13 L520.31 59.34 L521.24 59.56 L522.17 59.77 L523.1 59.98 L524.02 60.18 L524.95 60.38 L525.88 60.58 L526.81 60.78 L527.74 60.97 L528.66 61.17 L529.59 61.36 L530.52 61.54 L531.45 61.73 L532.38 61.91 L533.3 62.09 L534.23 62.27 L535.16 62.45 L536.09 62.62 L537.02 62.79 L537.94 62.96 L538.87 63.13 L539.8 63.3 L539.8 100.92 L538.87 100.63 L537.94 100.35 L537.02 100.05 L536.09 99.76 L535.16 99.46 L534.23 99.15 L533.3 98.84 L532.38 98.53 L531.45 98.21 L530.52 97.89 L529.59 97.57 L528.66 97.24 L527.74 96.9 L526.81 96.56 L525.88 96.22 L524.95 95.87 L524.02 95.51 L523.1 95.15 L522.17 94.79 L521.24 94.42 L520.31 94.04 L519.38 93.65 L518.46 93.27 L517.53 92.87 L516.6 92.47 L515.67 92.06 L514.74 91.64 L513.82 91.22 L512.89 90.79 L511.96 90.36 L511.03 89.91 L510.1 89.46 L509.18 89 L508.25 88.53 L507.32 88.05 L506.39 87.56 L505.46 87.06 L504.54 86.56 L503.61 86.04 L502.68 85.51 L501.75 84.98 L500.82 84.43 L499.9 83.87 L498.97 83.29 L498.04 82.71 L497.11 82.11 L496.18 81.5 L495.26 80.87 L494.33 80.23 L493.4 79.58 L492.47 78.91 L491.54 78.22 L490.62 77.51 L489.69 76.79 L488.76 76.05 L487.83 75.29 L486.9 74.5 L485.98 73.7 L485.05 72.88 L484.12 72.03 L483.19 71.15 L482.26 70.25 L481.34 69.33 L480.41 68.37 L479.48 67.39 L478.55 66.37 L477.62 65.33 L476.7 64.24 L475.77 63.12 L474.84 61.97 L473.91 60.77 L472.98 59.54 L472.06 58.26 L471.13 56.93 L470.2 55.57 L469.27 54.15 L468.34 52.68 L467.42 51.17 L466.49 49.61 L465.56 48 L464.63 46.35 L463.7 44.65 L462.78 42.92 L461.85 41.17 L460.92 39.41 L459.99 37.64 L459.06 35.91 L458.14 34.22 L457.21 32.61 L456.28 31.12 L455.35 29.76 L454.42 28.57 L453.5 27.57 L452.57 26.77 L451.64 26.17 L450.71 25.75 L449.78 25.49 L448.86 25.36 L447.93 25.31 L447 25.3Z" fill="#cb1f3b" fill-opacity="0.25"/>
<path d="M447 25.3 L447.93 25.3 L448.86 25.34 L449.78 25.43 L450.71 25.61 L451.64 25.9 L452.57 26.31 L453.5 26.87 L454.42 27.56 L455.35 28.38 L456.28 29.33 L457.21 30.37 L458.14 31.49 L459.06 32.67 L459.99 33.89 L460.92 35.13 L461.85 36.38 L462.78 37.62 L463.7 38.85 L464.63 40.06 L465.56 41.24 L466.49 42.4 L467.42 43.52 L468.34 44.61 L469.27 45.67 L470.2 46.7 L471.13 47.7 L472.06 48.67 L472.98 49.6 L473.91 50.51 L474.84 51.39 L475.77 52.24 L476.7 53.07 L477.62 53.87 L478.55 54.65 L479.48 55.4 L480.41 56.13 L481.34 56.85 L482.26 57.54 L483.19 58.22 L484.12 58.87 L485.05 59.51 L485.98 60.13 L486.9 60.74 L487.83 61.33 L488.76 61.91 L489.69 62.47 L490.62 63.02 L491.54 63.56 L492.47 64.08 L493.4 64.6 L494.33 65.1 L495.26 65.59 L496.18 66.07 L497.11 66.54 L498.04 67 L498.97 67.45 L499.9 67.89 L500.82 68.33 L501.75 68.75 L502.68 69.17 L503.61 69.58 L504.54 69.98 L505.46 70.37 L506.39 70.76 L507.32 71.14 L508.25 71.51 L509.18 71.88 L510.1 72.24 L511.03 72.6 L511.96 72.95 L512.89 73.29 L513.82 73.63 L514.74 73.96 L515.67 74.29 L516.6 74.61 L517.53 74.93 L518.46 75.24 L519.38 75.55 L520.31 75.85 L521.24 76.15 L522.17 76.44 L523.1 76.73 L524.02 77.02 L524.95 77.3 L525.88 77.58 L526.81 77.85 L527.74 78.13 L528.66 78.39 L529.59 78.66 L530.52 78.92 L531.45 79.17 L532.38 79.43 L533.3 79.68 L534.23 79.93 L535.16 80.17 L536.09 80.41 L537.02 80.65 L537.94 80.89 L538.87 81.12 L539.8 81.35" fill="none" stroke="#222" stroke-width="0.9" stroke-linejoin="round"/>
<path d="M447 25.3 L447.93 25.31 L448.86 25.34 L449.78 25.44 L450.71 25.62 L451.64 25.92 L452.57 26.36 L453.5 26.93 L454.42 27.65 L455.35 28.51 L456.28 29.49 L457.21 30.57 L458.14 31.74 L459.06 32.97 L459.99 34.23 L460.92 35.52 L461.85 36.82 L462.78 38.11 L463.7 39.38 L464.63 40.64 L465.56 41.86 L466.49 43.06 L467.42 44.23 L468.34 45.36 L469.27 46.46 L470.2 47.52 L471.13 48.56 L472.06 49.56 L472.98 50.53 L473.91 51.46 L474.84 52.37 L475.77 53.26 L476.7 54.11 L477.62 54.94 L478.55 55.74 L479.48 56.52 L480.41 57.28 L481.34 58.02 L482.26 58.74 L483.19 59.43 L484.12 60.11 L485.05 60.77 L485.98 61.41 L486.9 62.04 L487.83 62.65 L488.76 63.24 L489.69 63.83 L490.62 64.39 L491.54 64.95 L492.47 65.49 L493.4 66.02 L494.33 66.53 L495.26 67.04 L496.18 67.54 L497.11 68.02 L498.04 68.49 L498.97 68.96 L499.9 69.41 L500.82 69.86 L501.75 70.3 L502.68 70.73 L503.61 71.15 L504.54 71.56 L505.46 71.97 L506.39 72.37 L507.32 72.76 L508.25 73.14 L509.18 73.52 L510.1 73.89 L511.03 74.26 L511.96 74.62 L512.89 74.97 L513.82 75.32 L514.74 75.66 L515.67 75.99 L516.6 76.33 L517.53 76.65 L518.46 76.97 L519.38 77.29 L520.31 77.6 L521.24 77.91 L522.17 78.21 L523.1 78.51 L524.02 78.8 L524.95 79.09 L525.88 79.38 L526.81 79.66 L527.74 79.94 L528.66 80.21 L529.59 80.49 L530.52 80.75 L531.45 81.02 L532.38 81.28 L533.3 81.53 L534.23 81.79 L535.16 82.04 L536.09 82.29 L537.02 82.53 L537.94 82.77 L538.87 83.01 L539.8 83.25" fill="none" stroke="#ee2020" stroke-width="0.9" stroke-linejoin="round"/>
<rect x="442.25" y="20.5" width="102.3" height="104" fill="none" stroke="#707070" stroke-width="0.9"/>
<line x1="439.65" y1="120.3" x2="442.25" y2="120.3" stroke="#4a4a4a" stroke-width="1.1"/>
<text x="437.75" y="122.85" font-size="7.3" stroke="#444444" stroke-width="0.22" text-anchor="end" fill="#444444" transform="translate(437.75 122.85) scale(1 1.1) translate(-437.75 -122.85)">0.5</text>
<line x1="439.65" y1="101.3" x2="442.25" y2="101.3" stroke="#4a4a4a" stroke-width="1.1"/>
<text x="437.75" y="103.85" font-size="7.3" stroke="#444444" stroke-width="0.22" text-anchor="end" fill="#444444" transform="translate(437.75 103.85) scale(1 1.1) translate(-437.75 -103.85)">0.6</text>
<line x1="439.65" y1="82.3" x2="442.25" y2="82.3" stroke="#4a4a4a" stroke-width="1.1"/>
<text x="437.75" y="84.86" font-size="7.3" stroke="#444444" stroke-width="0.22" text-anchor="end" fill="#444444" transform="translate(437.75 84.86) scale(1 1.1) translate(-437.75 -84.86)">0.7</text>
<line x1="439.65" y1="63.3" x2="442.25" y2="63.3" stroke="#4a4a4a" stroke-width="1.1"/>
<text x="437.75" y="65.85" font-size="7.3" stroke="#444444" stroke-width="0.22" text-anchor="end" fill="#444444" transform="translate(437.75 65.85) scale(1 1.1) translate(-437.75 -65.85)">0.8</text>
<line x1="439.65" y1="44.3" x2="442.25" y2="44.3" stroke="#4a4a4a" stroke-width="1.1"/>
<text x="437.75" y="46.85" font-size="7.3" stroke="#444444" stroke-width="0.22" text-anchor="end" fill="#444444" transform="translate(437.75 46.85) scale(1 1.1) translate(-437.75 -46.85)">0.9</text>
<line x1="439.65" y1="25.3" x2="442.25" y2="25.3" stroke="#4a4a4a" stroke-width="1.1"/>
<text x="437.75" y="27.86" font-size="7.3" stroke="#444444" stroke-width="0.22" text-anchor="end" fill="#444444" transform="translate(437.75 27.86) scale(1 1.1) translate(-437.75 -27.86)">1.0</text>
<line x1="447" y1="124.5" x2="447" y2="127.1" stroke="#4a4a4a" stroke-width="1.1"/>
<text x="447" y="134.56" font-size="7.3" stroke="#444444" stroke-width="0.22" text-anchor="middle" fill="#444444" transform="translate(447 134.56) scale(1 1.1) translate(-447 -134.56)">0</text>
<line x1="470.2" y1="124.5" x2="470.2" y2="127.1" stroke="#4a4a4a" stroke-width="1.1"/>
<text x="470.2" y="134.56" font-size="7.3" stroke="#444444" stroke-width="0.22" text-anchor="middle" fill="#444444" transform="translate(470.2 134.56) scale(1 1.1) translate(-470.2 -134.56)">25</text>
<line x1="493.4" y1="124.5" x2="493.4" y2="127.1" stroke="#4a4a4a" stroke-width="1.1"/>
<text x="493.4" y="134.56" font-size="7.3" stroke="#444444" stroke-width="0.22" text-anchor="middle" fill="#444444" transform="translate(493.4 134.56) scale(1 1.1) translate(-493.4 -134.56)">50</text>
<line x1="516.6" y1="124.5" x2="516.6" y2="127.1" stroke="#4a4a4a" stroke-width="1.1"/>
<text x="516.6" y="134.56" font-size="7.3" stroke="#444444" stroke-width="0.22" text-anchor="middle" fill="#444444" transform="translate(516.6 134.56) scale(1 1.1) translate(-516.6 -134.56)">75</text>
<line x1="539.8" y1="124.5" x2="539.8" y2="127.1" stroke="#4a4a4a" stroke-width="1.1"/>
<text x="539.8" y="134.56" font-size="7.3" stroke="#444444" stroke-width="0.22" text-anchor="middle" fill="#444444" transform="translate(539.8 134.56) scale(1 1.1) translate(-539.8 -134.56)">100</text>
<text x="441.95" y="13.3" font-size="10" stroke="#000" stroke-width="0.12" transform="translate(441.95 13.3) scale(1 1.1) translate(-441.95 -13.3)">CCND3</text>
<text x="422.85" y="72.5" font-size="8.3" stroke="#000" stroke-width="0.12" text-anchor="middle" transform="rotate(-90 422.85 72.5) translate(422.85 72.5) scale(1 1.1) translate(-422.85 -72.5)">RFS probabilities</text>
<text x="493.45" y="144.9" font-size="8.2" stroke="#000" stroke-width="0.12" text-anchor="middle" transform="translate(493.45 144.9) scale(1 1.1) translate(-493.45 -144.9)">Time (in months)</text>
<text x="495.65" y="158.2" font-size="9.4" text-anchor="middle" stroke="#000" stroke-width="0.1" transform="translate(495.65 158.2) scale(1 1.1) translate(-495.65 -158.2)">(n=143) <tspan fill="#ee2222" stroke="#ee2222">(n=133)</tspan></text>
<text x="456.05" y="169.1" font-size="7.4" stroke="#000" stroke-width="0.22" transform="translate(456.05 169.1) scale(1 1.1) translate(-456.05 -169.1)">at</text>
<rect x="467.35" y="161.4" width="10.2" height="10.1" fill="#cfcfcf"/>
<line x1="468.45" y1="166.45" x2="476.45" y2="166.45" stroke="#222" stroke-width="0.75"/>
<text x="482.25" y="169.1" font-size="7.4" stroke="#000" stroke-width="0.22" transform="translate(482.25 169.1) scale(1 1.1) translate(-482.25 -169.1)">High</text>
<rect x="501.65" y="161.4" width="10.4" height="10.1" fill="#f2c7ce"/>
<line x1="502.75" y1="166.45" x2="510.95" y2="166.45" stroke="#ee2020" stroke-width="0.75"/>
<text x="516.95" y="169.1" font-size="7.4" stroke="#000" stroke-width="0.22" transform="translate(516.95 169.1) scale(1 1.1) translate(-516.95 -169.1)">Low</text>
<rect x="579.5" y="20.5" width="102.3" height="104" fill="#fff"/>
<line x1="595.85" y1="20.5" x2="595.85" y2="124.5" stroke="#f3f3f3" stroke-width="0.45"/>
<line x1="619.05" y1="20.5" x2="619.05" y2="124.5" stroke="#f3f3f3" stroke-width="0.45"/>
<line x1="642.25" y1="20.5" x2="642.25" y2="124.5" stroke="#f3f3f3" stroke-width="0.45"/>
<line x1="665.45" y1="20.5" x2="665.45" y2="124.5" stroke="#f3f3f3" stroke-width="0.45"/>
<line x1="579.5" y1="110.8" x2="681.8" y2="110.8" stroke="#f3f3f3" stroke-width="0.45"/>
<line x1="579.5" y1="91.8" x2="681.8" y2="91.8" stroke="#f3f3f3" stroke-width="0.45"/>
<line x1="579.5" y1="72.8" x2="681.8" y2="72.8" stroke="#f3f3f3" stroke-width="0.45"/>
<line x1="579.5" y1="53.8" x2="681.8" y2="53.8" stroke="#f3f3f3" stroke-width="0.45"/>
<line x1="579.5" y1="34.8" x2="681.8" y2="34.8" stroke="#f3f3f3" stroke-width="0.45"/>
<line x1="584.25" y1="20.5" x2="584.25" y2="124.5" stroke="#e8e8e8" stroke-width="0.7"/>
<line x1="607.45" y1="20.5" x2="607.45" y2="124.5" stroke="#e8e8e8" stroke-width="0.7"/>
<line x1="630.65" y1="20.5" x2="630.65" y2="124.5" stroke="#e8e8e8" stroke-width="0.7"/>
<line x1="653.85" y1="20.5" x2="653.85" y2="124.5" stroke="#e8e8e8" stroke-width="0.7"/>
<line x1="677.05" y1="20.5" x2="677.05" y2="124.5" stroke="#e8e8e8" stroke-width="0.7"/>
<line x1="579.5" y1="120.3" x2="681.8" y2="120.3" stroke="#e8e8e8" stroke-width="0.7"/>
<line x1="579.5" y1="101.3" x2="681.8" y2="101.3" stroke="#e8e8e8" stroke-width="0.7"/>
<line x1="579.5" y1="82.3" x2="681.8" y2="82.3" stroke="#e8e8e8" stroke-width="0.7"/>
<line x1="579.5" y1="63.3" x2="681.8" y2="63.3" stroke="#e8e8e8" stroke-width="0.7"/>
<line x1="579.5" y1="44.3" x2="681.8" y2="44.3" stroke="#e8e8e8" stroke-width="0.7"/>
<line x1="579.5" y1="25.3" x2="681.8" y2="25.3" stroke="#e8e8e8" stroke-width="0.7"/>
<path d="M584.25 25.3 L585.18 25.3 L586.11 25.32 L587.03 25.37 L587.96 25.47 L588.89 25.63 L589.82 25.86 L590.75 26.16 L591.67 26.54 L592.6 26.99 L593.53 27.51 L594.46 28.09 L595.39 28.71 L596.31 29.37 L597.24 30.05 L598.17 30.74 L599.1 31.44 L600.03 32.14 L600.95 32.83 L601.88 33.52 L602.81 34.19 L603.74 34.85 L604.67 35.49 L605.59 36.12 L606.52 36.73 L607.45 37.32 L608.38 37.9 L609.31 38.46 L610.23 39 L611.16 39.53 L612.09 40.04 L613.02 40.54 L613.95 41.03 L614.87 41.5 L615.8 41.96 L616.73 42.4 L617.66 42.84 L618.59 43.26 L619.51 43.67 L620.44 44.07 L621.37 44.46 L622.3 44.85 L623.23 45.22 L624.15 45.58 L625.08 45.94 L626.01 46.29 L626.94 46.63 L627.87 46.96 L628.79 47.28 L629.72 47.6 L630.65 47.91 L631.58 48.22 L632.51 48.52 L633.43 48.81 L634.36 49.1 L635.29 49.38 L636.22 49.65 L637.15 49.93 L638.07 50.19 L639 50.45 L639.93 50.71 L640.86 50.96 L641.79 51.21 L642.71 51.45 L643.64 51.69 L644.57 51.93 L645.5 52.16 L646.43 52.39 L647.35 52.61 L648.28 52.83 L649.21 53.05 L650.14 53.26 L651.07 53.47 L651.99 53.68 L652.92 53.89 L653.85 54.09 L654.78 54.29 L655.71 54.48 L656.63 54.68 L657.56 54.87 L658.49 55.06 L659.42 55.24 L660.35 55.42 L661.27 55.61 L662.2 55.78 L663.13 55.96 L664.06 56.13 L664.99 56.31 L665.91 56.47 L666.84 56.64 L667.77 56.81 L668.7 56.97 L669.63 57.13 L670.55 57.29 L671.48 57.45 L672.41 57.61 L673.34 57.76 L674.27 57.91 L675.19 58.06 L676.12 58.21 L677.05 58.36 L677.05 91.42 L676.12 91.16 L675.19 90.9 L674.27 90.63 L673.34 90.36 L672.41 90.08 L671.48 89.81 L670.55 89.53 L669.63 89.24 L668.7 88.95 L667.77 88.66 L666.84 88.37 L665.91 88.07 L664.99 87.76 L664.06 87.45 L663.13 87.14 L662.2 86.82 L661.27 86.5 L660.35 86.18 L659.42 85.84 L658.49 85.51 L657.56 85.17 L656.63 84.82 L655.71 84.47 L654.78 84.11 L653.85 83.75 L652.92 83.38 L651.99 83.01 L651.07 82.63 L650.14 82.24 L649.21 81.84 L648.28 81.44 L647.35 81.04 L646.43 80.62 L645.5 80.2 L644.57 79.77 L643.64 79.33 L642.71 78.89 L641.79 78.43 L640.86 77.97 L639.93 77.5 L639 77.02 L638.07 76.53 L637.15 76.03 L636.22 75.51 L635.29 74.99 L634.36 74.46 L633.43 73.91 L632.51 73.36 L631.58 72.79 L630.65 72.21 L629.72 71.61 L628.79 71 L627.87 70.37 L626.94 69.73 L626.01 69.08 L625.08 68.4 L624.15 67.71 L623.23 67 L622.3 66.27 L621.37 65.53 L620.44 64.76 L619.51 63.97 L618.59 63.15 L617.66 62.31 L616.73 61.45 L615.8 60.56 L614.87 59.64 L613.95 58.7 L613.02 57.72 L612.09 56.71 L611.16 55.67 L610.23 54.59 L609.31 53.48 L608.38 52.33 L607.45 51.15 L606.52 49.92 L605.59 48.66 L604.67 47.35 L603.74 46 L602.81 44.62 L601.88 43.2 L600.95 41.74 L600.03 40.26 L599.1 38.77 L598.17 37.26 L597.24 35.76 L596.31 34.28 L595.39 32.85 L594.46 31.48 L593.53 30.21 L592.6 29.07 L591.67 28.06 L590.75 27.22 L589.82 26.54 L588.89 26.03 L587.96 25.68 L587.03 25.46 L586.11 25.35 L585.18 25.31 L584.25 25.3Z" fill="#000000" fill-opacity="0.19"/>
<path d="M584.25 25.3 L585.18 25.3 L586.11 25.33 L587.03 25.4 L587.96 25.52 L588.89 25.73 L589.82 26.03 L590.75 26.43 L591.67 26.92 L592.6 27.52 L593.53 28.2 L594.46 28.95 L595.39 29.77 L596.31 30.62 L597.24 31.51 L598.17 32.41 L599.1 33.32 L600.03 34.23 L600.95 35.13 L601.88 36.02 L602.81 36.89 L603.74 37.74 L604.67 38.57 L605.59 39.38 L606.52 40.16 L607.45 40.93 L608.38 41.67 L609.31 42.39 L610.23 43.08 L611.16 43.76 L612.09 44.42 L613.02 45.06 L613.95 45.68 L614.87 46.28 L615.8 46.87 L616.73 47.43 L617.66 47.99 L618.59 48.53 L619.51 49.05 L620.44 49.56 L621.37 50.06 L622.3 50.54 L623.23 51.02 L624.15 51.48 L625.08 51.93 L626.01 52.37 L626.94 52.8 L627.87 53.22 L628.79 53.63 L629.72 54.03 L630.65 54.43 L631.58 54.81 L632.51 55.19 L633.43 55.56 L634.36 55.92 L635.29 56.27 L636.22 56.62 L637.15 56.96 L638.07 57.3 L639 57.62 L639.93 57.95 L640.86 58.26 L641.79 58.57 L642.71 58.88 L643.64 59.18 L644.57 59.47 L645.5 59.76 L646.43 60.05 L647.35 60.33 L648.28 60.61 L649.21 60.88 L650.14 61.14 L651.07 61.41 L651.99 61.67 L652.92 61.92 L653.85 62.17 L654.78 62.42 L655.71 62.67 L656.63 62.91 L657.56 63.15 L658.49 63.38 L659.42 63.61 L660.35 63.84 L661.27 64.06 L662.2 64.29 L663.13 64.5 L664.06 64.72 L664.99 64.93 L665.91 65.14 L666.84 65.35 L667.77 65.56 L668.7 65.76 L669.63 65.96 L670.55 66.16 L671.48 66.35 L672.41 66.55 L673.34 66.74 L674.27 66.93 L675.19 67.11 L676.12 67.3 L677.05 67.48 L677.05 106.24 L676.12 105.94 L675.19 105.64 L674.27 105.33 L673.34 105.03 L672.41 104.71 L671.48 104.39 L670.55 104.07 L669.63 103.74 L668.7 103.41 L667.77 103.08 L666.84 102.74 L665.91 102.39 L664.99 102.04 L664.06 101.69 L663.13 101.33 L662.2 100.96 L661.27 100.59 L660.35 100.21 L659.42 99.83 L658.49 99.44 L657.56 99.04 L656.63 98.64 L655.71 98.23 L654.78 97.82 L653.85 97.4 L652.92 96.97 L651.99 96.53 L651.07 96.09 L650.14 95.63 L649.21 95.18 L648.28 94.71 L647.35 94.23 L646.43 93.75 L645.5 93.25 L644.57 92.75 L643.64 92.23 L642.71 91.71 L641.79 91.18 L640.86 90.63 L639.93 90.07 L639 89.51 L638.07 88.93 L637.15 88.33 L636.22 87.73 L635.29 87.11 L634.36 86.48 L633.43 85.83 L632.51 85.17 L631.58 84.49 L630.65 83.79 L629.72 83.08 L628.79 82.35 L627.87 81.61 L626.94 80.84 L626.01 80.05 L625.08 79.24 L624.15 78.41 L623.23 77.56 L622.3 76.68 L621.37 75.77 L620.44 74.84 L619.51 73.88 L618.59 72.89 L617.66 71.88 L616.73 70.82 L615.8 69.74 L614.87 68.62 L613.95 67.46 L613.02 66.26 L612.09 65.02 L611.16 63.74 L610.23 62.41 L609.31 61.04 L608.38 59.62 L607.45 58.15 L606.52 56.62 L605.59 55.04 L604.67 53.41 L603.74 51.72 L602.81 49.98 L601.88 48.2 L600.95 46.36 L600.03 44.49 L599.1 42.59 L598.17 40.67 L597.24 38.76 L596.31 36.87 L595.39 35.04 L594.46 33.29 L593.53 31.65 L592.6 30.17 L591.67 28.87 L590.75 27.78 L589.82 26.91 L588.89 26.25 L587.96 25.79 L587.03 25.51 L586.11 25.36 L585.18 25.31 L584.25 25.3Z" fill="#cb1f3b" fill-opacity="0.25"/>
<path d="M584.25 25.3 L585.18 25.3 L586.11 25.34 L587.03 25.42 L587.96 25.58 L588.89 25.84 L589.82 26.21 L590.75 26.71 L591.67 27.33 L592.6 28.07 L593.53 28.91 L594.46 29.85 L595.39 30.86 L596.31 31.92 L597.24 33.02 L598.17 34.14 L599.1 35.26 L600.03 36.38 L600.95 37.49 L601.88 38.58 L602.81 39.65 L603.74 40.7 L604.67 41.72 L605.59 42.71 L606.52 43.67 L607.45 44.6 L608.38 45.51 L609.31 46.38 L610.23 47.24 L611.16 48.06 L612.09 48.86 L613.02 49.64 L613.95 50.39 L614.87 51.12 L615.8 51.83 L616.73 52.52 L617.66 53.19 L618.59 53.84 L619.51 54.47 L620.44 55.09 L621.37 55.69 L622.3 56.27 L623.23 56.84 L624.15 57.4 L625.08 57.94 L626.01 58.47 L626.94 58.99 L627.87 59.49 L628.79 59.98 L629.72 60.46 L630.65 60.94 L631.58 61.4 L632.51 61.85 L633.43 62.29 L634.36 62.72 L635.29 63.14 L636.22 63.56 L637.15 63.97 L638.07 64.36 L639 64.76 L639.93 65.14 L640.86 65.52 L641.79 65.89 L642.71 66.25 L643.64 66.61 L644.57 66.96 L645.5 67.3 L646.43 67.64 L647.35 67.97 L648.28 68.3 L649.21 68.62 L650.14 68.94 L651.07 69.25 L651.99 69.56 L652.92 69.86 L653.85 70.16 L654.78 70.45 L655.71 70.74 L656.63 71.03 L657.56 71.31 L658.49 71.58 L659.42 71.86 L660.35 72.13 L661.27 72.39 L662.2 72.65 L663.13 72.91 L664.06 73.17 L664.99 73.42 L665.91 73.66 L666.84 73.91 L667.77 74.15 L668.7 74.39 L669.63 74.63 L670.55 74.86 L671.48 75.09 L672.41 75.31 L673.34 75.54 L674.27 75.76 L675.19 75.98 L676.12 76.2 L677.05 76.41" fill="none" stroke="#222" stroke-width="0.9" stroke-linejoin="round"/>
<path d="M584.25 25.3 L585.18 25.31 L586.11 25.35 L587.03 25.45 L587.96 25.66 L588.89 25.99 L589.82 26.47 L590.75 27.11 L591.67 27.9 L592.6 28.85 L593.53 29.94 L594.46 31.14 L595.39 32.43 L596.31 33.78 L597.24 35.18 L598.17 36.6 L599.1 38.03 L600.03 39.45 L600.95 40.85 L601.88 42.23 L602.81 43.58 L603.74 44.89 L604.67 46.17 L605.59 47.41 L606.52 48.62 L607.45 49.78 L608.38 50.91 L609.31 52 L610.23 53.06 L611.16 54.09 L612.09 55.08 L613.02 56.04 L613.95 56.97 L614.87 57.87 L615.8 58.75 L616.73 59.6 L617.66 60.42 L618.59 61.22 L619.51 62 L620.44 62.76 L621.37 63.49 L622.3 64.21 L623.23 64.9 L624.15 65.58 L625.08 66.24 L626.01 66.89 L626.94 67.52 L627.87 68.13 L628.79 68.73 L629.72 69.32 L630.65 69.89 L631.58 70.45 L632.51 70.99 L633.43 71.53 L634.36 72.05 L635.29 72.56 L636.22 73.06 L637.15 73.55 L638.07 74.03 L639 74.5 L639.93 74.97 L640.86 75.42 L641.79 75.87 L642.71 76.3 L643.64 76.73 L644.57 77.15 L645.5 77.56 L646.43 77.97 L647.35 78.37 L648.28 78.76 L649.21 79.15 L650.14 79.52 L651.07 79.9 L651.99 80.26 L652.92 80.62 L653.85 80.98 L654.78 81.33 L655.71 81.67 L656.63 82.01 L657.56 82.35 L658.49 82.67 L659.42 83 L660.35 83.32 L661.27 83.63 L662.2 83.94 L663.13 84.25 L664.06 84.55 L664.99 84.85 L665.91 85.14 L666.84 85.43 L667.77 85.72 L668.7 86 L669.63 86.28 L670.55 86.55 L671.48 86.82 L672.41 87.09 L673.34 87.35 L674.27 87.62 L675.19 87.87 L676.12 88.13 L677.05 88.38" fill="none" stroke="#ee2020" stroke-width="0.9" stroke-linejoin="round"/>
<rect x="579.5" y="20.5" width="102.3" height="104" fill="none" stroke="#707070" stroke-width="0.9"/>
<line x1="576.9" y1="120.3" x2="579.5" y2="120.3" stroke="#4a4a4a" stroke-width="1.1"/>
<text x="575" y="122.85" font-size="7.3" stroke="#444444" stroke-width="0.22" text-anchor="end" fill="#444444" transform="translate(575 122.85) scale(1 1.1) translate(-575 -122.85)">0.5</text>
<line x1="576.9" y1="101.3" x2="579.5" y2="101.3" stroke="#4a4a4a" stroke-width="1.1"/>
<text x="575" y="103.85" font-size="7.3" stroke="#444444" stroke-width="0.22" text-anchor="end" fill="#444444" transform="translate(575 103.85) scale(1 1.1) translate(-575 -103.85)">0.6</text>
<line x1="576.9" y1="82.3" x2="579.5" y2="82.3" stroke="#4a4a4a" stroke-width="1.1"/>
<text x="575" y="84.86" font-size="7.3" stroke="#444444" stroke-width="0.22" text-anchor="end" fill="#444444" transform="translate(575 84.86) scale(1 1.1) translate(-575 -84.86)">0.7</text>
<line x1="576.9" y1="63.3" x2="579.5" y2="63.3" stroke="#4a4a4a" stroke-width="1.1"/>
<text x="575" y="65.85" font-size="7.3" stroke="#444444" stroke-width="0.22" text-anchor="end" fill="#444444" transform="translate(575 65.85) scale(1 1.1) translate(-575 -65.85)">0.8</text>
<line x1="576.9" y1="44.3" x2="579.5" y2="44.3" stroke="#4a4a4a" stroke-width="1.1"/>
<text x="575" y="46.85" font-size="7.3" stroke="#444444" stroke-width="0.22" text-anchor="end" fill="#444444" transform="translate(575 46.85) scale(1 1.1) translate(-575 -46.85)">0.9</text>
<line x1="576.9" y1="25.3" x2="579.5" y2="25.3" stroke="#4a4a4a" stroke-width="1.1"/>
<text x="575" y="27.86" font-size="7.3" stroke="#444444" stroke-width="0.22" text-anchor="end" fill="#444444" transform="translate(575 27.86) scale(1 1.1) translate(-575 -27.86)">1.0</text>
<line x1="584.25" y1="124.5" x2="584.25" y2="127.1" stroke="#4a4a4a" stroke-width="1.1"/>
<text x="584.25" y="134.56" font-size="7.3" stroke="#444444" stroke-width="0.22" text-anchor="middle" fill="#444444" transform="translate(584.25 134.56) scale(1 1.1) translate(-584.25 -134.56)">0</text>
<line x1="607.45" y1="124.5" x2="607.45" y2="127.1" stroke="#4a4a4a" stroke-width="1.1"/>
<text x="607.45" y="134.56" font-size="7.3" stroke="#444444" stroke-width="0.22" text-anchor="middle" fill="#444444" transform="translate(607.45 134.56) scale(1 1.1) translate(-607.45 -134.56)">25</text>
<line x1="630.65" y1="124.5" x2="630.65" y2="127.1" stroke="#4a4a4a" stroke-width="1.1"/>
<text x="630.65" y="134.56" font-size="7.3" stroke="#444444" stroke-width="0.22" text-anchor="middle" fill="#444444" transform="translate(630.65 134.56) scale(1 1.1) translate(-630.65 -134.56)">50</text>
<line x1="653.85" y1="124.5" x2="653.85" y2="127.1" stroke="#4a4a4a" stroke-width="1.1"/>
<text x="653.85" y="134.56" font-size="7.3" stroke="#444444" stroke-width="0.22" text-anchor="middle" fill="#444444" transform="translate(653.85 134.56) scale(1 1.1) translate(-653.85 -134.56)">75</text>
<line x1="677.05" y1="124.5" x2="677.05" y2="127.1" stroke="#4a4a4a" stroke-width="1.1"/>
<text x="677.05" y="134.56" font-size="7.3" stroke="#444444" stroke-width="0.22" text-anchor="middle" fill="#444444" transform="translate(677.05 134.56) scale(1 1.1) translate(-677.05 -134.56)">100</text>
<text x="579.2" y="13.3" font-size="10" stroke="#000" stroke-width="0.12" transform="translate(579.2 13.3) scale(1 1.1) translate(-579.2 -13.3)">Signature CCNDs</text>
<text x="560.1" y="72.5" font-size="8.3" stroke="#000" stroke-width="0.12" text-anchor="middle" transform="rotate(-90 560.1 72.5) translate(560.1 72.5) scale(1 1.1) translate(-560.1 -72.5)">RFS probabilities</text>
<text x="630.7" y="144.9" font-size="8.2" stroke="#000" stroke-width="0.12" text-anchor="middle" transform="translate(630.7 144.9) scale(1 1.1) translate(-630.7 -144.9)">Time (in months)</text>
<text x="632.9" y="158.2" font-size="9.4" text-anchor="middle" stroke="#000" stroke-width="0.1" transform="translate(632.9 158.2) scale(1 1.1) translate(-632.9 -158.2)">(n=143) <tspan fill="#ee2222" stroke="#ee2222">(n=133)</tspan></text>
<text x="593.3" y="169.1" font-size="7.4" stroke="#000" stroke-width="0.22" transform="translate(593.3 169.1) scale(1 1.1) translate(-593.3 -169.1)">at</text>
<rect x="604.6" y="161.4" width="10.2" height="10.1" fill="#cfcfcf"/>
<line x1="605.7" y1="166.45" x2="613.7" y2="166.45" stroke="#222" stroke-width="0.75"/>
<text x="619.5" y="169.1" font-size="7.4" stroke="#000" stroke-width="0.22" transform="translate(619.5 169.1) scale(1 1.1) translate(-619.5 -169.1)">High</text>
<rect x="638.9" y="161.4" width="10.4" height="10.1" fill="#f2c7ce"/>
<line x1="640" y1="166.45" x2="648.2" y2="166.45" stroke="#ee2020" stroke-width="0.75"/>
<text x="654.2" y="169.1" font-size="7.4" stroke="#000" stroke-width="0.22" transform="translate(654.2 169.1) scale(1 1.1) translate(-654.2 -169.1)">Low</text>
<text x="0.6" y="198" font-size="16" font-weight="bold">b</text>
<rect x="36.4" y="186.7" width="121.8" height="14.6" fill="#d9d9d9" stroke="#707070" stroke-width="0.9"/>
<text x="97.3" y="196.66" font-size="7.6" stroke="#1a1a1a" stroke-width="0.05" text-anchor="middle" fill="#1a1a1a" transform="translate(97.3 196.66) scale(1 1.1) translate(-97.3 -196.66)">CDK4</text>
<rect x="36.4" y="201.3" width="121.8" height="104" fill="#fff"/>
<line x1="33.1" y1="201.3" x2="33.1" y2="305.3" stroke="#f3f3f3" stroke-width="0.45"/>
<line x1="55.5" y1="201.3" x2="55.5" y2="305.3" stroke="#f3f3f3" stroke-width="0.45"/>
<line x1="77.9" y1="201.3" x2="77.9" y2="305.3" stroke="#f3f3f3" stroke-width="0.45"/>
<line x1="100.3" y1="201.3" x2="100.3" y2="305.3" stroke="#f3f3f3" stroke-width="0.45"/>
<line x1="122.7" y1="201.3" x2="122.7" y2="305.3" stroke="#f3f3f3" stroke-width="0.45"/>
<line x1="145.1" y1="201.3" x2="145.1" y2="305.3" stroke="#f3f3f3" stroke-width="0.45"/>
<line x1="36.4" y1="284.45" x2="158.2" y2="284.45" stroke="#f3f3f3" stroke-width="0.45"/>
<line x1="36.4" y1="256.42" x2="158.2" y2="256.42" stroke="#f3f3f3" stroke-width="0.45"/>
<line x1="36.4" y1="228.38" x2="158.2" y2="228.38" stroke="#f3f3f3" stroke-width="0.45"/>
<line x1="44.3" y1="201.3" x2="44.3" y2="305.3" stroke="#e8e8e8" stroke-width="0.7"/>
<line x1="66.7" y1="201.3" x2="66.7" y2="305.3" stroke="#e8e8e8" stroke-width="0.7"/>
<line x1="89.1" y1="201.3" x2="89.1" y2="305.3" stroke="#e8e8e8" stroke-width="0.7"/>
<line x1="111.5" y1="201.3" x2="111.5" y2="305.3" stroke="#e8e8e8" stroke-width="0.7"/>
<line x1="133.9" y1="201.3" x2="133.9" y2="305.3" stroke="#e8e8e8" stroke-width="0.7"/>
<line x1="156.3" y1="201.3" x2="156.3" y2="305.3" stroke="#e8e8e8" stroke-width="0.7"/>
<line x1="36.4" y1="298.47" x2="158.2" y2="298.47" stroke="#e8e8e8" stroke-width="0.7"/>
<line x1="36.4" y1="270.44" x2="158.2" y2="270.44" stroke="#e8e8e8" stroke-width="0.7"/>
<line x1="36.4" y1="242.4" x2="158.2" y2="242.4" stroke="#e8e8e8" stroke-width="0.7"/>
<line x1="36.4" y1="214.37" x2="158.2" y2="214.37" stroke="#e8e8e8" stroke-width="0.7"/>
<path d="M45.2 233.84 L48.75 234.08 L52.3 234.31 L55.86 234.54 L59.41 234.78 L62.96 235.01 L66.51 235.24 L70.07 235.47 L73.62 235.7 L77.17 235.92 L80.73 236.15 L84.28 236.37 L87.83 236.59 L91.39 236.8 L94.94 237.01 L98.49 237.2 L102.05 237.38 L105.6 237.55 L109.15 237.7 L112.7 237.84 L116.26 237.97 L119.81 238.09 L123.36 238.21 L126.92 238.32 L130.47 238.43 L134.02 238.54 L137.58 238.65 L141.13 238.75 L144.68 238.86 L148.24 238.96 L148.24 240.79 L144.68 240.56 L141.13 240.33 L137.58 240.1 L134.02 239.87 L130.47 239.64 L126.92 239.41 L123.36 239.19 L119.81 238.97 L116.26 238.76 L112.7 238.55 L109.15 238.35 L105.6 238.17 L102.05 238 L98.49 237.84 L94.94 237.7 L91.39 237.57 L87.83 237.45 L84.28 237.33 L80.73 237.21 L77.17 237.1 L73.62 236.99 L70.07 236.88 L66.51 236.78 L62.96 236.67 L59.41 236.57 L55.86 236.46 L52.3 236.36 L48.75 236.26 L45.2 236.15Z" fill="#999999" fill-opacity="0.4"/>
<path d="M106.59 238.2h0.01M111.26 236.21h0.01M102.27 234.95h0.01M92.61 237.57h0.01M99.44 233.25h0.01M91.02 246.89h0.01M107.52 238.51h0.01M127.59 243.25h0.01M98.85 233.51h0.01M96.84 238.41h0.01M114.25 242.01h0.01M112.17 236.6h0.01M108.22 241.82h0.01M91.98 242.51h0.01M106.11 244.47h0.01M117.47 238.53h0.01M85.49 239.77h0.01M99.4 233.26h0.01M76.76 237.09h0.01M86.35 232.54h0.01M77.69 236.46h0.01M102.89 238.12h0.01M86.7 234.55h0.01M110.83 233.65h0.01M109.03 239.46h0.01M103.64 242.92h0.01M67.11 238.27h0.01M98.13 237.16h0.01M105.81 241.65h0.01M108.35 233.67h0.01M82.58 238.45h0.01M99.08 240.63h0.01M91.23 240.65h0.01M93.89 235.8h0.01M123.21 237.05h0.01M93.91 239.07h0.01M106.06 229.38h0.01M120.44 240.87h0.01M97.42 230h0.01M104.82 233.79h0.01M108.3 240.77h0.01M107.57 239.56h0.01M87.36 237h0.01M107.77 240.3h0.01M127.88 238.71h0.01M82.31 238.34h0.01M120.05 249.25h0.01M108.44 242.12h0.01M96.51 246.76h0.01M137.94 237.83h0.01M118.52 241.52h0.01M87.77 240.02h0.01M107.74 238.88h0.01M115.61 237.19h0.01M103.61 243.79h0.01M117.28 246.85h0.01M105.53 242.34h0.01M117.03 247.82h0.01M129.13 243.04h0.01M95.98 230.71h0.01M109.76 242.5h0.01M99.31 237.1h0.01M108.57 243.77h0.01M87.96 238.24h0.01M97.49 238.82h0.01M103.5 238.01h0.01M120.66 236.18h0.01M124.53 231.37h0.01M85.82 238.68h0.01M94.11 236.79h0.01M116.72 242.48h0.01M75.33 233.97h0.01M99.31 238.6h0.01M105.05 234.33h0.01M126.28 241.33h0.01M117.38 231.1h0.01M101.44 246h0.01M100.79 238.88h0.01M102.65 234.01h0.01M130.46 240.51h0.01M99.86 240.92h0.01M101.81 238.8h0.01M112.1 243.97h0.01M104.68 237.31h0.01M103.48 227.5h0.01M89.1 232.26h0.01M106.39 242.56h0.01M99.62 241.25h0.01M124.86 240.47h0.01M116.81 235.85h0.01M106.19 241.34h0.01M117.05 241.3h0.01M101.24 233.93h0.01M123.07 235.05h0.01M106.49 239.47h0.01M115.72 247.17h0.01M86.33 245.39h0.01M112.01 241.66h0.01M80.1 246.03h0.01M74.66 233.24h0.01M101.8 240.33h0.01M92.46 235.21h0.01M109.14 230.17h0.01M141.77 234.64h0.01M93.53 242.13h0.01M96.79 233.79h0.01M109.79 237.44h0.01M114.3 241.41h0.01M103.81 241.78h0.01M103.34 238.21h0.01M117.59 245.16h0.01M114.72 233.94h0.01M90.36 248.9h0.01M105.33 242.5h0.01M107.13 239.06h0.01M90.04 238.08h0.01M110.65 237.4h0.01M93.12 237.53h0.01M121.81 239.52h0.01M109.59 233.27h0.01M107.97 249.16h0.01M97.3 238.74h0.01M104.71 240.82h0.01M75.25 235.86h0.01M88.83 236.14h0.01M112.26 242.62h0.01M73.2 239.71h0.01M119.85 237.95h0.01M79.19 235.14h0.01M118.44 241.33h0.01M93.31 228.7h0.01M118.79 228.77h0.01M108.63 244.15h0.01M82.47 236.3h0.01M126.16 230.44h0.01M129.18 235.68h0.01M105.54 236.93h0.01M102.28 238.58h0.01M104.07 240.06h0.01M91.28 238.74h0.01M123.8 243.47h0.01M98.06 236.66h0.01M105.77 239.54h0.01M94.13 239.17h0.01M96.76 242.5h0.01M86.54 237.16h0.01M126.28 242.6h0.01M104.16 240.16h0.01M121.72 234.24h0.01M106.78 236.38h0.01M95.68 235.79h0.01M101.45 236.16h0.01M97.79 237.24h0.01M106.7 238.45h0.01M100.69 238.92h0.01M101.87 234.49h0.01M84.96 241.44h0.01M93.92 231.67h0.01M132.51 238.99h0.01M96.05 245.11h0.01M90.04 239.87h0.01M111.86 241h0.01M128.64 238.28h0.01M83.77 240.56h0.01M103.3 232.95h0.01M96.66 240.72h0.01M78.96 246.15h0.01M118.1 243.77h0.01M106.2 246.33h0.01M107.69 238.13h0.01M94.78 236.93h0.01M113.7 235.52h0.01M98.12 243.13h0.01M104.33 241.68h0.01M89.19 229.6h0.01M87.5 235.66h0.01M127.51 238.88h0.01M98.62 233.09h0.01M111.15 229.15h0.01M106.04 232.43h0.01M99.65 236.99h0.01M98.61 236.04h0.01M116.45 235.78h0.01M101.84 240.26h0.01M104.2 242.24h0.01M106.92 237.7h0.01M125.02 243.93h0.01M117.24 238.67h0.01M112.57 238.33h0.01M97.74 227.78h0.01M84.9 240.65h0.01M121.46 239.12h0.01M121.73 239.31h0.01M104.37 235.96h0.01M115.07 234.25h0.01M118.83 241.17h0.01M119.6 241.98h0.01M121.02 245.49h0.01M99.43 241.46h0.01M130.33 236.77h0.01M87.03 236.79h0.01M120.08 242.81h0.01M114.32 239.84h0.01M120.27 242.92h0.01M136.03 240.16h0.01M129.85 241.5h0.01M88.62 238.23h0.01M80.09 244.3h0.01M119.38 243.35h0.01M90.66 230.35h0.01M106.38 247.1h0.01M119.74 239.95h0.01M80.8 235.76h0.01M73.49 237.91h0.01M110.64 241.5h0.01M107.27 238.19h0.01M102.72 237.74h0.01M107.18 238.28h0.01M93.08 245.16h0.01M82.84 237.4h0.01M103.96 241.38h0.01M91.34 239.49h0.01M80.8 235.73h0.01M114.5 235.59h0.01M105.61 234.09h0.01M112.95 243.42h0.01M91.06 233.28h0.01M96.25 232.48h0.01M90.91 233.17h0.01M92.67 231.4h0.01M109.64 238.66h0.01M94.29 238.06h0.01M112.16 234.7h0.01M111.9 243.9h0.01M138.33 238.53h0.01M84.73 239.1h0.01M120.49 240.11h0.01M105.17 245.16h0.01M106.35 241.64h0.01M83.84 236.91h0.01M99.36 236.16h0.01M118.23 234.29h0.01M105.28 238.4h0.01M107.84 238.76h0.01M102.01 241.18h0.01M124.68 237.62h0.01M106.24 242.41h0.01M72.07 235.06h0.01M95.72 230.02h0.01M75.7 236.92h0.01M55.59 241.79h0.01M98.26 241.13h0.01M127.48 247.48h0.01M107.31 244.73h0.01M88.19 231.55h0.01M91.82 239.44h0.01M124.3 245.14h0.01M109.04 235.27h0.01M107.32 234.07h0.01M105.73 240.5h0.01M107.17 240.78h0.01M119.2 239.92h0.01M115.24 237.12h0.01M109.95 235.37h0.01M90.22 232.16h0.01M114.59 233.19h0.01M95.84 232.41h0.01M123.72 232.99h0.01M86.64 234.18h0.01M104.41 244.24h0.01M106.46 238.45h0.01M85.8 235.6h0.01M133.57 240.79h0.01M129.47 235.16h0.01M99.3 241.55h0.01M118.67 242.37h0.01M112.51 232.11h0.01M65.59 233.16h0.01M110.5 237.17h0.01M105.61 233.96h0.01M107.88 233.5h0.01M89.69 235.87h0.01M102.35 248.04h0.01M103.78 240.61h0.01M125.2 240.71h0.01M111.82 242.29h0.01M106.48 237.06h0.01M130.55 238.72h0.01M97.87 241.04h0.01M100.47 242.64h0.01M78.09 228.03h0.01M131.18 240.97h0.01M121.69 244.63h0.01M120.95 238.35h0.01M117.06 236.61h0.01M108.3 240.95h0.01M109.95 234.74h0.01M102.62 239.77h0.01M103.38 241.63h0.01M107.42 237.19h0.01M130.28 235.79h0.01M115.29 242.44h0.01M105.66 240.1h0.01M97.49 237.87h0.01M96.62 225.56h0.01M131.7 242.92h0.01M114.52 232.46h0.01M107.63 238.17h0.01M101.14 238.18h0.01M89.18 234.05h0.01M105.52 234.1h0.01M120.27 237.16h0.01M100.42 238.58h0.01M103.01 240.26h0.01M103.11 240h0.01M108.29 235.84h0.01M81.59 234.28h0.01M102.88 231.85h0.01M93.18 235.51h0.01M120.44 234.1h0.01M94.49 230.95h0.01M115.62 237.64h0.01M130.48 245.28h0.01M101.65 242.63h0.01M97.14 243.5h0.01M109.57 231.35h0.01M106.54 242.25h0.01M90.99 231.99h0.01M113.8 241.1h0.01M138.18 234h0.01M102.52 233.49h0.01M103.39 238.18h0.01M90.19 237.97h0.01M111.58 237.78h0.01M87.02 237.93h0.01M89.22 239.31h0.01M126.64 238.99h0.01M92.37 230.46h0.01M123.53 245.87h0.01M130.47 237.95h0.01M110.64 241.91h0.01M115.25 237.53h0.01M137.18 235.82h0.01M103.49 238h0.01M97.27 234.21h0.01M85.35 243.59h0.01M107.23 233.28h0.01M129.76 241.54h0.01M121.62 240.16h0.01M91.8 236.44h0.01M93.16 248.14h0.01M98.67 240.71h0.01M111.15 237.19h0.01M103.35 232.38h0.01M109.93 240.11h0.01M111.22 237.04h0.01M101.89 243.64h0.01M105.94 231.86h0.01M109.81 232.12h0.01M105.26 237.72h0.01M114.47 239.2h0.01M135.91 246.1h0.01M115.85 234.63h0.01M107.45 226.58h0.01M80.13 235.11h0.01M112.66 235.15h0.01M76.05 234.18h0.01M84.48 245.2h0.01M119.97 235.93h0.01M117.65 243.62h0.01M104.22 238.68h0.01M79.76 235.46h0.01M100.75 233.92h0.01M95.93 235.65h0.01M116.56 240.63h0.01M141.97 242.78h0.01M109.97 243.49h0.01M94.35 237.07h0.01M88.22 240.78h0.01M105.69 243.36h0.01M103.8 244.38h0.01M88.52 239.11h0.01M108.4 245.78h0.01M88.53 247.42h0.01M124.01 245.61h0.01M123.23 237.93h0.01M123.58 237.28h0.01M99.14 229.11h0.01M114.64 244.58h0.01M104.5 240.66h0.01M100.48 233.81h0.01M101.25 238.56h0.01M86.19 238.31h0.01M83.93 229.65h0.01M119.03 239.92h0.01M103.57 242.62h0.01M109.97 244.27h0.01M122.28 237.24h0.01M79.4 235.33h0.01M94.28 243.09h0.01M109.32 242.18h0.01M112.72 235.95h0.01M100.66 235.2h0.01M122.71 241.37h0.01M109.87 235.65h0.01M87.55 234.6h0.01M91.98 244.71h0.01M119.2 239.81h0.01M113.84 236.5h0.01M76.79 238.9h0.01M127.7 250.12h0.01M115.95 239.54h0.01M127.64 236.26h0.01M100.56 234.49h0.01M101.94 246.9h0.01M88.91 226.08h0.01M146.35 245.46h0.01M103.82 233.75h0.01M131.46 233.89h0.01M96.42 233.29h0.01M109.14 237.4h0.01M80.37 241.55h0.01M100.57 234.99h0.01M122 241.64h0.01M86.94 247.58h0.01M123.38 226.8h0.01M111.86 235.18h0.01M90.2 230.27h0.01M98.71 242.81h0.01M99.37 231.39h0.01M105.8 231.18h0.01M98.17 230.97h0.01M93.6 239.47h0.01M101.8 242.73h0.01M90.47 240.49h0.01M86.35 246.21h0.01M105.82 245.03h0.01M120.42 238.17h0.01M82.59 240.94h0.01M106.63 238.6h0.01M96.38 240.45h0.01M91.25 231.96h0.01M119.95 233.08h0.01M98.45 237.71h0.01M130.07 233.93h0.01M94.34 240.6h0.01M112.63 243.01h0.01M103.01 233.91h0.01M94.75 242.57h0.01M115.79 240.78h0.01M104.14 243.34h0.01M116.03 237.86h0.01M105.83 231h0.01M89.55 240.26h0.01M104.97 236.88h0.01M107.39 243.89h0.01M121.6 243.45h0.01M92.36 242.43h0.01M105.96 233.3h0.01M79.57 226.69h0.01M116.79 236.36h0.01M89.61 240.11h0.01M78.25 233.6h0.01M105.64 239.82h0.01M123.91 235.36h0.01M82.67 235.55h0.01M89.51 235.92h0.01M94.92 236.02h0.01M88.86 239.5h0.01M112.52 239.89h0.01M93.91 247.72h0.01M95.26 239.23h0.01M115.72 246.32h0.01M94.73 237.95h0.01M113.36 246.43h0.01M91.34 236.76h0.01M87.57 235.8h0.01M77.79 242.51h0.01M135.76 242.71h0.01M101.55 241.63h0.01M110.4 236.57h0.01M106.09 230.71h0.01M109.08 234.58h0.01M107.35 239.41h0.01M136.49 233.16h0.01M90.28 243.5h0.01M82.15 230.44h0.01M90.7 240.68h0.01M85.64 248.61h0.01M118.28 227.31h0.01M119.44 231.88h0.01M91.5 241.53h0.01M84.77 236.16h0.01M101.01 241.7h0.01M128.38 238.51h0.01M62.36 242.05h0.01M114.83 241.16h0.01M89.7 235.14h0.01M122.88 238.3h0.01M89.67 232.06h0.01M102.1 237.36h0.01M82.95 226.91h0.01M91.25 240.19h0.01M128.3 242.17h0.01M119.44 246.57h0.01M100.27 242.88h0.01M92.93 231.67h0.01M76.88 240.46h0.01M100.4 235.38h0.01M106.09 238.14h0.01M105.25 242.58h0.01M105.1 239.3h0.01M88.98 240.79h0.01M105.53 239.9h0.01M105.97 234.71h0.01M126.81 236.12h0.01M135.84 241.72h0.01M104.42 241.62h0.01M94.56 239.31h0.01M105.55 238.28h0.01M97.04 233.13h0.01M94.93 227.5h0.01M105.65 234.32h0.01M90.21 237.28h0.01M116.08 239.08h0.01M104.94 241.43h0.01M110.49 241.9h0.01M103.7 241.99h0.01M95.17 239.03h0.01M91.71 239h0.01M102.85 234.6h0.01M97.97 241.89h0.01M110.24 238.91h0.01M106.5 244.84h0.01M85.21 229.98h0.01M107.62 235.82h0.01M85.52 229.38h0.01M96.91 235.7h0.01M101.96 231.42h0.01M74.03 237.41h0.01M108.01 234.96h0.01M108.94 226.64h0.01M104.09 242.93h0.01M99.92 232.8h0.01M100.71 230.49h0.01M91.26 235.41h0.01M102.34 234.49h0.01M97.91 232.11h0.01M108.01 240.79h0.01M87.69 235.26h0.01M110.27 241.81h0.01M108.82 240.92h0.01M104.35 240.46h0.01M99.69 240.41h0.01M115.23 237.68h0.01M80.47 234.72h0.01M113.79 244.35h0.01M110.38 229.56h0.01M111.02 233.14h0.01M112.58 235.06h0.01M96.32 238.96h0.01M102.5 238.27h0.01M116.56 236.02h0.01M113.32 236.45h0.01M109.81 247.52h0.01M82.83 233.59h0.01M115.01 225.74h0.01M124.91 246.73h0.01M122.4 235.23h0.01M110.24 236.49h0.01M82.15 237.23h0.01M121.35 232.69h0.01M104.26 242.9h0.01M66.86 235.32h0.01M112.49 231.87h0.01M83.17 239.14h0.01M86.24 238.75h0.01M96.62 238.62h0.01M126.53 240.77h0.01M100.76 230.95h0.01M110.82 242.02h0.01M133.98 235.43h0.01M131.57 244.5h0.01M104.95 234.94h0.01M102.78 238.18h0.01M86.8 248.13h0.01M95.68 239.17h0.01M113.24 242.83h0.01M112.78 240.12h0.01M108.3 231.34h0.01M122.17 243.47h0.01M94.46 243.2h0.01M105.69 231.64h0.01M118.04 237.95h0.01M115.73 231.67h0.01M123.36 237.79h0.01M112.8 243.81h0.01M101.72 237.96h0.01M112.25 234.57h0.01M90.85 233.52h0.01M80.87 237.08h0.01M115.68 238.12h0.01M105.71 238.35h0.01M111.41 240.63h0.01M79.95 228.29h0.01M100.85 237.6h0.01M97.17 242.35h0.01M93.02 239.33h0.01M71.21 233.09h0.01M101.32 234.88h0.01M120.64 239.57h0.01M112.55 241.08h0.01M97.15 237.35h0.01M106.34 245.13h0.01M118.44 244.09h0.01M63.29 232.4h0.01M104.62 239.92h0.01M115.09 236.69h0.01M117.27 233.14h0.01M133.24 236.52h0.01M124.37 238.66h0.01M111.47 228.94h0.01M111.31 235.24h0.01M118.91 240.02h0.01M98.12 234.34h0.01M105.94 236.11h0.01M120.78 242.28h0.01M137.26 239.67h0.01M104.07 239.15h0.01M105.81 246.37h0.01M109.68 238.8h0.01M127.63 241.32h0.01M106.1 239.78h0.01M129.61 246.11h0.01M91.41 238.72h0.01M103.65 239.16h0.01M103.46 237.7h0.01M118.9 243.4h0.01M122.96 238.94h0.01M82.9 242.95h0.01M92.22 238.19h0.01M111.85 232.51h0.01M96.24 243.04h0.01M82.7 238.98h0.01M122.86 234.04h0.01M114.32 239.93h0.01M114.31 239.55h0.01M99.12 236.6h0.01M122.71 234.13h0.01M102.81 247.25h0.01M123.76 243.63h0.01M92.28 241.58h0.01M93.18 241.96h0.01M109.78 243.08h0.01M95.56 241.01h0.01M117.16 237.11h0.01M110.65 241.93h0.01M92.1 236.69h0.01M107.71 236.23h0.01M101.06 242.27h0.01M120.93 241.27h0.01M96.65 230.38h0.01M99.69 236.19h0.01M125.56 241.55h0.01M141.67 239.85h0.01M137.92 243.33h0.01M107.56 236.79h0.01M110 234.36h0.01M130.62 242.57h0.01M104.62 239.24h0.01M91.26 232.58h0.01M108.4 240.13h0.01M113.65 237.43h0.01M93.57 242.57h0.01M80.76 242.12h0.01M84.04 239.58h0.01M117.01 229.9h0.01M94.68 239.06h0.01M104.36 240.03h0.01M109.9 240.43h0.01M116.28 239.67h0.01M101.32 235.56h0.01M114.39 238.36h0.01M92.62 228.59h0.01M100.9 238.77h0.01M90.51 231.06h0.01M124.32 237.58h0.01M106.15 236.28h0.01M94.98 243.43h0.01M101.05 238.18h0.01M103.1 238.03h0.01M117.56 239.45h0.01M81.55 245.77h0.01M90.31 233.43h0.01M100.64 239.25h0.01M146.28 241.63h0.01M121.56 239.69h0.01M104.82 238.78h0.01M117.74 236.72h0.01M138.83 244.78h0.01M74.76 240.31h0.01M72.98 235.09h0.01M94.19 237.73h0.01M84.54 240.88h0.01M86.92 239.39h0.01M71.07 239.73h0.01M103.76 238.02h0.01M100.88 232.67h0.01M85.51 241.36h0.01M87.1 230.58h0.01M50.65 231.71h0.01M86.47 239.61h0.01M75.29 233.13h0.01M83.73 248.74h0.01M87.07 244.26h0.01M73.31 241.75h0.01M55.18 240.3h0.01M82.84 238.15h0.01M67.94 238.24h0.01M73.46 236.41h0.01M69.78 245.14h0.01M73.31 234.25h0.01M48.78 241.14h0.01M94.26 240.1h0.01M81.3 238.44h0.01M92.84 243.86h0.01M104.51 243.57h0.01M78.2 240.79h0.01M53.68 236.06h0.01M65.89 236.15h0.01M61.68 233.41h0.01M71.15 244.14h0.01M78.97 242.35h0.01M50.99 239.14h0.01M82.5 234.87h0.01M57.6 244.15h0.01M81.9 231.53h0.01M76.43 238.52h0.01M45.2 238.29h0.01M148.24 238.45h0.01M51.47 232.46h0.01" stroke="#000" stroke-width="1.55" stroke-linecap="round"/>
<line x1="45.2" y1="235" x2="148.24" y2="239.88" stroke="#3366ff" stroke-width="1.35"/>
<rect x="36.4" y="201.3" width="121.8" height="104" fill="none" stroke="#707070" stroke-width="0.9"/>
<rect x="109" y="276.2" width="31.6" height="12.9" fill="#fff" stroke="#7f7f7f" stroke-width="0.75" rx="1.3"/>
<text x="111.7" y="285.1" font-size="7.6" stroke="#333" stroke-width="0.1" fill="#333" transform="translate(111.7 285.1) scale(1 1.1) translate(-111.7 -285.1)">ρ</text>
<text x="117.4" y="285.1" font-size="7.6" stroke="#333" stroke-width="0.1" fill="#333" transform="translate(117.4 285.1) scale(1 1.1) translate(-117.4 -285.1)">:</text>
<text x="138" y="285.1" font-size="7.5" stroke="#333" stroke-width="0.1" text-anchor="end" fill="#333" transform="translate(138 285.1) scale(1 1.1) translate(-138 -285.1)">0.17</text>
<line x1="33.8" y1="298.47" x2="36.4" y2="298.47" stroke="#4a4a4a" stroke-width="1.1"/>
<text x="31.9" y="301.03" font-size="7.3" stroke="#444444" stroke-width="0.22" text-anchor="end" fill="#444444" transform="translate(31.9 301.03) scale(1 1.1) translate(-31.9 -301.03)">-1.0</text>
<line x1="33.8" y1="270.44" x2="36.4" y2="270.44" stroke="#4a4a4a" stroke-width="1.1"/>
<text x="31.9" y="272.99" font-size="7.3" stroke="#444444" stroke-width="0.22" text-anchor="end" fill="#444444" transform="translate(31.9 272.99) scale(1 1.1) translate(-31.9 -272.99)">-0.5</text>
<line x1="33.8" y1="242.4" x2="36.4" y2="242.4" stroke="#4a4a4a" stroke-width="1.1"/>
<text x="31.9" y="244.96" font-size="7.3" stroke="#444444" stroke-width="0.22" text-anchor="end" fill="#444444" transform="translate(31.9 244.96) scale(1 1.1) translate(-31.9 -244.96)">0.0</text>
<line x1="33.8" y1="214.37" x2="36.4" y2="214.37" stroke="#4a4a4a" stroke-width="1.1"/>
<text x="31.9" y="216.92" font-size="7.3" stroke="#444444" stroke-width="0.22" text-anchor="end" fill="#444444" transform="translate(31.9 216.92) scale(1 1.1) translate(-31.9 -216.92)">0.5</text>
<rect x="36.4" y="310.6" width="121.8" height="104.3" fill="#fff"/>
<line x1="33.1" y1="310.6" x2="33.1" y2="414.9" stroke="#f3f3f3" stroke-width="0.45"/>
<line x1="55.5" y1="310.6" x2="55.5" y2="414.9" stroke="#f3f3f3" stroke-width="0.45"/>
<line x1="77.9" y1="310.6" x2="77.9" y2="414.9" stroke="#f3f3f3" stroke-width="0.45"/>
<line x1="100.3" y1="310.6" x2="100.3" y2="414.9" stroke="#f3f3f3" stroke-width="0.45"/>
<line x1="122.7" y1="310.6" x2="122.7" y2="414.9" stroke="#f3f3f3" stroke-width="0.45"/>
<line x1="145.1" y1="310.6" x2="145.1" y2="414.9" stroke="#f3f3f3" stroke-width="0.45"/>
<line x1="36.4" y1="404.48" x2="158.2" y2="404.48" stroke="#f3f3f3" stroke-width="0.45"/>
<line x1="36.4" y1="383.93" x2="158.2" y2="383.93" stroke="#f3f3f3" stroke-width="0.45"/>
<line x1="36.4" y1="363.38" x2="158.2" y2="363.38" stroke="#f3f3f3" stroke-width="0.45"/>
<line x1="36.4" y1="342.83" x2="158.2" y2="342.83" stroke="#f3f3f3" stroke-width="0.45"/>
<line x1="36.4" y1="322.28" x2="158.2" y2="322.28" stroke="#f3f3f3" stroke-width="0.45"/>
<line x1="44.3" y1="310.6" x2="44.3" y2="414.9" stroke="#e8e8e8" stroke-width="0.7"/>
<line x1="66.7" y1="310.6" x2="66.7" y2="414.9" stroke="#e8e8e8" stroke-width="0.7"/>
<line x1="89.1" y1="310.6" x2="89.1" y2="414.9" stroke="#e8e8e8" stroke-width="0.7"/>
<line x1="111.5" y1="310.6" x2="111.5" y2="414.9" stroke="#e8e8e8" stroke-width="0.7"/>
<line x1="133.9" y1="310.6" x2="133.9" y2="414.9" stroke="#e8e8e8" stroke-width="0.7"/>
<line x1="156.3" y1="310.6" x2="156.3" y2="414.9" stroke="#e8e8e8" stroke-width="0.7"/>
<line x1="36.4" y1="414.75" x2="158.2" y2="414.75" stroke="#e8e8e8" stroke-width="0.7"/>
<line x1="36.4" y1="394.2" x2="158.2" y2="394.2" stroke="#e8e8e8" stroke-width="0.7"/>
<line x1="36.4" y1="373.65" x2="158.2" y2="373.65" stroke="#e8e8e8" stroke-width="0.7"/>
<line x1="36.4" y1="353.1" x2="158.2" y2="353.1" stroke="#e8e8e8" stroke-width="0.7"/>
<line x1="36.4" y1="332.55" x2="158.2" y2="332.55" stroke="#e8e8e8" stroke-width="0.7"/>
<line x1="36.4" y1="312" x2="158.2" y2="312" stroke="#e8e8e8" stroke-width="0.7"/>
<path d="M41.61 346.67 L45.46 346.95 L49.31 347.24 L53.15 347.52 L57 347.8 L60.85 348.08 L64.69 348.36 L68.54 348.64 L72.38 348.9 L76.23 349.17 L80.08 349.42 L83.92 349.66 L87.77 349.89 L91.62 350.1 L95.46 350.29 L99.31 350.46 L103.16 350.62 L107 350.77 L110.85 350.92 L114.7 351.05 L118.54 351.18 L122.39 351.31 L126.24 351.43 L130.08 351.56 L133.93 351.68 L137.78 351.8 L141.62 351.92 L145.47 352.03 L149.32 352.15 L153.16 352.27 L153.16 355.33 L149.32 355.04 L145.47 354.75 L141.62 354.47 L137.78 354.18 L133.93 353.89 L130.08 353.61 L126.24 353.33 L122.39 353.04 L118.54 352.77 L114.7 352.49 L110.85 352.22 L107 351.96 L103.16 351.7 L99.31 351.46 L95.46 351.23 L91.62 351.02 L87.77 350.82 L83.92 350.64 L80.08 350.48 L76.23 350.32 L72.38 350.18 L68.54 350.04 L64.69 349.91 L60.85 349.79 L57 349.66 L53.15 349.54 L49.31 349.42 L45.46 349.3 L41.61 349.18Z" fill="#999999" fill-opacity="0.4"/>
<path d="M84.26 344.36h0.01M89 348.3h0.01M79.8 348.06h0.01M78.37 350.63h0.01M57.27 353.69h0.01M89.86 350.78h0.01M126.82 356.09h0.01M129.48 349.23h0.01M116.5 351.97h0.01M104.36 345.41h0.01M77.11 348.49h0.01M118.88 350.63h0.01M89.34 352.64h0.01M89.09 349.69h0.01M84.7 347.91h0.01M92.26 347.37h0.01M81.87 352.52h0.01M88.79 352.71h0.01M69.06 340.21h0.01M83.08 350.42h0.01M135.4 353.76h0.01M89.07 352.84h0.01M85.74 356.63h0.01M100.94 346.89h0.01M104.4 351.02h0.01M68.49 348.29h0.01M86.36 343.83h0.01M108.55 342.68h0.01M95.76 353.88h0.01M92.85 346.94h0.01M121.08 349.93h0.01M77.08 351.38h0.01M92.08 349.31h0.01M80.19 350.03h0.01M119.82 346.48h0.01M51.97 346.31h0.01M77.23 348.59h0.01M80.01 345.58h0.01M103.52 350.99h0.01M102.39 349.51h0.01M117.95 352.72h0.01M59.42 342.72h0.01M105.24 349.48h0.01M84.66 350.49h0.01M77.32 352.79h0.01M101.08 352.25h0.01M72.31 353.2h0.01M49.5 347.95h0.01M83.15 349.2h0.01M60.92 357.03h0.01M77.65 350.43h0.01M97.77 348.6h0.01M96.59 350.23h0.01M121.72 355.47h0.01M86.51 345.85h0.01M60.22 351.33h0.01M75.54 353.99h0.01M72.32 353.31h0.01M66.44 349.27h0.01M99.03 347.5h0.01M77.73 345.74h0.01M51.47 347.7h0.01M104.18 358.14h0.01M88.25 352.67h0.01M97.48 354.85h0.01M92.53 351.22h0.01M102.9 357.34h0.01M91.19 350.14h0.01M114.81 349.52h0.01M98.82 351.45h0.01M98.17 350.01h0.01M98.52 355.78h0.01M61.73 355.71h0.01M87.2 352.55h0.01M85.33 346.18h0.01M94.54 348.21h0.01M63.66 351.47h0.01M122.66 347.98h0.01M92.5 351.73h0.01M66.57 343.95h0.01M56.76 347.03h0.01M84.9 351.78h0.01M88.68 347.62h0.01M76.29 352.45h0.01M92.26 353.86h0.01M77.81 356.77h0.01M101.32 350.16h0.01M76.16 349.93h0.01M89.69 350.72h0.01M109.74 353.74h0.01M141.14 348.14h0.01M70.58 351.58h0.01M81.29 352.54h0.01M73.89 345.27h0.01M105.9 346.46h0.01M67.81 348.12h0.01M80.9 356.07h0.01M89.86 356.08h0.01M71.15 347.34h0.01M71.57 350.16h0.01M81.07 349.19h0.01M49.04 353.09h0.01M61.95 346.62h0.01M82.3 352.26h0.01M93.37 346.03h0.01M86.78 350.56h0.01M55.48 345.05h0.01M81.3 352.27h0.01M106.18 356.25h0.01M101.4 354.95h0.01M88.89 352.53h0.01M72.95 353.8h0.01M102.89 350.97h0.01M79.03 345.22h0.01M67.4 348.33h0.01M74.63 353.27h0.01M118.99 352.41h0.01M94.78 353.12h0.01M113.3 346.62h0.01M81 348.89h0.01M108.94 350.46h0.01M78.59 351.27h0.01M87.34 357.36h0.01M139.45 355.77h0.01M105.57 357.2h0.01M80.56 348.68h0.01M88.77 352.27h0.01M96.87 353.63h0.01M114.3 353.11h0.01M80.8 344.51h0.01M56.12 354.43h0.01M84.93 353.57h0.01M90.75 351.31h0.01M92.6 353.05h0.01M116.4 353.65h0.01M96.69 348.97h0.01M106.47 345.76h0.01M68.74 355.57h0.01M107.55 355.8h0.01M131.76 352.53h0.01M105.68 351.59h0.01M95.44 351.41h0.01M93.48 351.84h0.01M125.67 350.26h0.01M72.17 352.63h0.01M88.25 350.82h0.01M99.52 351.23h0.01M105.11 352.89h0.01M81.82 350.64h0.01M96.5 347.32h0.01M84.97 350.24h0.01M92.82 350.01h0.01M87.84 350.54h0.01M67.94 352.81h0.01M90.03 353.37h0.01M107.73 355.07h0.01M71.38 349.09h0.01M85.69 352.74h0.01M103.55 357.75h0.01M69.35 348.55h0.01M94.04 351.8h0.01M69.55 355.54h0.01M112.81 347.28h0.01M136.03 352.78h0.01M130.31 352.98h0.01M86.12 346.54h0.01M105.03 351.02h0.01M92.83 352.73h0.01M92.46 342.93h0.01M120.95 355.86h0.01M64.44 349.47h0.01M111.25 348.63h0.01M89.48 354.72h0.01M118.21 352.31h0.01M94.13 351.4h0.01M77.18 345.73h0.01M95.91 354.35h0.01M104.95 351.43h0.01M91.15 348.23h0.01M100.06 350.72h0.01M80.16 354.15h0.01M48.38 346.85h0.01M108.19 351.05h0.01M104.23 349.66h0.01M93.36 346.7h0.01M91.79 347.03h0.01M110.87 350.15h0.01M81.43 348.93h0.01M76.52 353.6h0.01M86.73 350.77h0.01M113.88 351.74h0.01M63.1 351.3h0.01M113.94 351.39h0.01M77.84 352.71h0.01M68.75 346.93h0.01M115.28 345.38h0.01M88.53 352.39h0.01M64.81 347.75h0.01M83.37 353.99h0.01M108.8 347.05h0.01M113.94 350.21h0.01M82.03 349.86h0.01M98.45 351.7h0.01M104.52 350.8h0.01M77.74 353.32h0.01M97.44 348.5h0.01M89.82 352.96h0.01M79.88 348.07h0.01M80.74 351.4h0.01M91.77 346.74h0.01M91.03 350.58h0.01M79.3 346.33h0.01M82.05 354.16h0.01M112.39 349.52h0.01M94.66 351.5h0.01M107.89 350.73h0.01M114.13 353.23h0.01M102.05 347.83h0.01M135.21 359.91h0.01M74.18 350.82h0.01M106.38 359.28h0.01M84.17 345.95h0.01M127.03 361.53h0.01M123.96 356.17h0.01M51.92 354.31h0.01M71.35 343.76h0.01M103.54 355.69h0.01M106.01 350.92h0.01M104.96 353.13h0.01M41.61 354.21h0.01M153.16 356.36h0.01" stroke="#000" stroke-width="1.55" stroke-linecap="round"/>
<line x1="41.61" y1="347.92" x2="153.16" y2="353.8" stroke="#3366ff" stroke-width="1.35"/>
<rect x="36.4" y="310.6" width="121.8" height="104.3" fill="none" stroke="#707070" stroke-width="0.9"/>
<rect x="112.3" y="379.5" width="27.4" height="12.9" fill="#fff" stroke="#7f7f7f" stroke-width="0.75" rx="1.3"/>
<text x="115" y="388.4" font-size="7.6" stroke="#333" stroke-width="0.1" fill="#333" transform="translate(115 388.4) scale(1 1.1) translate(-115 -388.4)">ρ</text>
<text x="120.7" y="388.4" font-size="7.6" stroke="#333" stroke-width="0.1" fill="#333" transform="translate(120.7 388.4) scale(1 1.1) translate(-120.7 -388.4)">:</text>
<text x="137.1" y="388.4" font-size="7.5" stroke="#333" stroke-width="0.1" text-anchor="end" fill="#333" transform="translate(137.1 388.4) scale(1 1.1) translate(-137.1 -388.4)">0.2</text>
<line x1="33.8" y1="414.75" x2="36.4" y2="414.75" stroke="#4a4a4a" stroke-width="1.1"/>
<text x="31.9" y="417.31" font-size="7.3" stroke="#444444" stroke-width="0.22" text-anchor="end" fill="#444444" transform="translate(31.9 417.31) scale(1 1.1) translate(-31.9 -417.31)">-1.5</text>
<line x1="33.8" y1="394.2" x2="36.4" y2="394.2" stroke="#4a4a4a" stroke-width="1.1"/>
<text x="31.9" y="396.76" font-size="7.3" stroke="#444444" stroke-width="0.22" text-anchor="end" fill="#444444" transform="translate(31.9 396.76) scale(1 1.1) translate(-31.9 -396.76)">-1.0</text>
<line x1="33.8" y1="373.65" x2="36.4" y2="373.65" stroke="#4a4a4a" stroke-width="1.1"/>
<text x="31.9" y="376.21" font-size="7.3" stroke="#444444" stroke-width="0.22" text-anchor="end" fill="#444444" transform="translate(31.9 376.21) scale(1 1.1) translate(-31.9 -376.21)">-0.5</text>
<line x1="33.8" y1="353.1" x2="36.4" y2="353.1" stroke="#4a4a4a" stroke-width="1.1"/>
<text x="31.9" y="355.66" font-size="7.3" stroke="#444444" stroke-width="0.22" text-anchor="end" fill="#444444" transform="translate(31.9 355.66) scale(1 1.1) translate(-31.9 -355.66)">0.0</text>
<line x1="33.8" y1="332.55" x2="36.4" y2="332.55" stroke="#4a4a4a" stroke-width="1.1"/>
<text x="31.9" y="335.11" font-size="7.3" stroke="#444444" stroke-width="0.22" text-anchor="end" fill="#444444" transform="translate(31.9 335.11) scale(1 1.1) translate(-31.9 -335.11)">0.5</text>
<line x1="33.8" y1="312" x2="36.4" y2="312" stroke="#4a4a4a" stroke-width="1.1"/>
<text x="31.9" y="314.56" font-size="7.3" stroke="#444444" stroke-width="0.22" text-anchor="end" fill="#444444" transform="translate(31.9 314.56) scale(1 1.1) translate(-31.9 -314.56)">1.0</text>
<line x1="44.3" y1="414.9" x2="44.3" y2="417.5" stroke="#4a4a4a" stroke-width="1.1"/>
<text x="44.3" y="424.96" font-size="7.3" stroke="#444444" stroke-width="0.22" text-anchor="middle" fill="#444444" transform="translate(44.3 424.96) scale(1 1.1) translate(-44.3 -424.96)">-10</text>
<line x1="66.7" y1="414.9" x2="66.7" y2="417.5" stroke="#4a4a4a" stroke-width="1.1"/>
<text x="66.7" y="424.96" font-size="7.3" stroke="#444444" stroke-width="0.22" text-anchor="middle" fill="#444444" transform="translate(66.7 424.96) scale(1 1.1) translate(-66.7 -424.96)">-5</text>
<line x1="89.1" y1="414.9" x2="89.1" y2="417.5" stroke="#4a4a4a" stroke-width="1.1"/>
<text x="89.1" y="424.96" font-size="7.3" stroke="#444444" stroke-width="0.22" text-anchor="middle" fill="#444444" transform="translate(89.1 424.96) scale(1 1.1) translate(-89.1 -424.96)">0</text>
<line x1="111.5" y1="414.9" x2="111.5" y2="417.5" stroke="#4a4a4a" stroke-width="1.1"/>
<text x="111.5" y="424.96" font-size="7.3" stroke="#444444" stroke-width="0.22" text-anchor="middle" fill="#444444" transform="translate(111.5 424.96) scale(1 1.1) translate(-111.5 -424.96)">5</text>
<line x1="133.9" y1="414.9" x2="133.9" y2="417.5" stroke="#4a4a4a" stroke-width="1.1"/>
<text x="133.9" y="424.96" font-size="7.3" stroke="#444444" stroke-width="0.22" text-anchor="middle" fill="#444444" transform="translate(133.9 424.96) scale(1 1.1) translate(-133.9 -424.96)">10</text>
<line x1="156.3" y1="414.9" x2="156.3" y2="417.5" stroke="#4a4a4a" stroke-width="1.1"/>
<text x="156.3" y="424.96" font-size="7.3" stroke="#444444" stroke-width="0.22" text-anchor="middle" fill="#444444" transform="translate(156.3 424.96) scale(1 1.1) translate(-156.3 -424.96)">15</text>
<rect x="163.65" y="186.7" width="121.8" height="14.6" fill="#d9d9d9" stroke="#707070" stroke-width="0.9"/>
<text x="224.55" y="196.66" font-size="7.6" stroke="#1a1a1a" stroke-width="0.05" text-anchor="middle" fill="#1a1a1a" transform="translate(224.55 196.66) scale(1 1.1) translate(-224.55 -196.66)">CCND1</text>
<rect x="163.65" y="201.3" width="121.8" height="104" fill="#fff"/>
<line x1="160.35" y1="201.3" x2="160.35" y2="305.3" stroke="#f3f3f3" stroke-width="0.45"/>
<line x1="182.75" y1="201.3" x2="182.75" y2="305.3" stroke="#f3f3f3" stroke-width="0.45"/>
<line x1="205.15" y1="201.3" x2="205.15" y2="305.3" stroke="#f3f3f3" stroke-width="0.45"/>
<line x1="227.55" y1="201.3" x2="227.55" y2="305.3" stroke="#f3f3f3" stroke-width="0.45"/>
<line x1="249.95" y1="201.3" x2="249.95" y2="305.3" stroke="#f3f3f3" stroke-width="0.45"/>
<line x1="272.35" y1="201.3" x2="272.35" y2="305.3" stroke="#f3f3f3" stroke-width="0.45"/>
<line x1="163.65" y1="284.45" x2="285.45" y2="284.45" stroke="#f3f3f3" stroke-width="0.45"/>
<line x1="163.65" y1="256.42" x2="285.45" y2="256.42" stroke="#f3f3f3" stroke-width="0.45"/>
<line x1="163.65" y1="228.38" x2="285.45" y2="228.38" stroke="#f3f3f3" stroke-width="0.45"/>
<line x1="171.55" y1="201.3" x2="171.55" y2="305.3" stroke="#e8e8e8" stroke-width="0.7"/>
<line x1="193.95" y1="201.3" x2="193.95" y2="305.3" stroke="#e8e8e8" stroke-width="0.7"/>
<line x1="216.35" y1="201.3" x2="216.35" y2="305.3" stroke="#e8e8e8" stroke-width="0.7"/>
<line x1="238.75" y1="201.3" x2="238.75" y2="305.3" stroke="#e8e8e8" stroke-width="0.7"/>
<line x1="261.15" y1="201.3" x2="261.15" y2="305.3" stroke="#e8e8e8" stroke-width="0.7"/>
<line x1="283.55" y1="201.3" x2="283.55" y2="305.3" stroke="#e8e8e8" stroke-width="0.7"/>
<line x1="163.65" y1="298.47" x2="285.45" y2="298.47" stroke="#e8e8e8" stroke-width="0.7"/>
<line x1="163.65" y1="270.44" x2="285.45" y2="270.44" stroke="#e8e8e8" stroke-width="0.7"/>
<line x1="163.65" y1="242.4" x2="285.45" y2="242.4" stroke="#e8e8e8" stroke-width="0.7"/>
<line x1="163.65" y1="214.37" x2="285.45" y2="214.37" stroke="#e8e8e8" stroke-width="0.7"/>
<path d="M172.45 250.58 L176 250.35 L179.55 250.13 L183.11 249.9 L186.66 249.68 L190.21 249.45 L193.76 249.22 L197.32 248.99 L200.87 248.76 L204.42 248.52 L207.98 248.28 L211.53 248.04 L215.08 247.79 L218.64 247.52 L222.19 247.25 L225.74 246.96 L229.3 246.64 L232.85 246.3 L236.4 245.93 L239.95 245.55 L243.51 245.14 L247.06 244.73 L250.61 244.3 L254.17 243.87 L257.72 243.43 L261.27 242.99 L264.83 242.55 L268.38 242.1 L271.93 241.66 L275.49 241.21 L275.49 244.37 L271.93 244.6 L268.38 244.83 L264.83 245.06 L261.27 245.29 L257.72 245.52 L254.17 245.76 L250.61 246.01 L247.06 246.26 L243.51 246.51 L239.95 246.78 L236.4 247.07 L232.85 247.38 L229.3 247.72 L225.74 248.07 L222.19 248.46 L218.64 248.86 L215.08 249.27 L211.53 249.69 L207.98 250.12 L204.42 250.56 L200.87 251 L197.32 251.44 L193.76 251.89 L190.21 252.33 L186.66 252.78 L183.11 253.23 L179.55 253.68 L176 254.13 L172.45 254.58Z" fill="#999999" fill-opacity="0.4"/>
<path d="M233.84 250.91h0.01M238.51 241.86h0.01M229.52 251.51h0.01M219.86 249h0.01M226.69 244.86h0.01M218.27 237.93h0.01M234.77 241.07h0.01M254.84 235.51h0.01M226.1 250.43h0.01M224.09 249.91h0.01M241.5 249.66h0.01M239.42 248.41h0.01M235.47 262.62h0.01M219.23 236.09h0.01M233.36 248.26h0.01M244.72 252.75h0.01M212.74 245.2h0.01M226.65 245.16h0.01M204.01 248.99h0.01M213.6 243.05h0.01M204.94 252.68h0.01M230.14 250.68h0.01M213.95 260.88h0.01M238.08 256.75h0.01M236.28 233.13h0.01M230.89 259.01h0.01M194.36 238.56h0.01M225.38 254.9h0.01M233.06 248.52h0.01M235.6 240.49h0.01M209.83 244.43h0.01M226.33 245.4h0.01M218.48 260.23h0.01M221.14 245.31h0.01M250.46 252.62h0.01M221.16 229.23h0.01M233.31 248.35h0.01M247.69 244.06h0.01M224.67 255.98h0.01M232.07 250.4h0.01M235.55 264.14h0.01M234.82 239.5h0.01M214.61 250.48h0.01M235.02 242.53h0.01M255.13 253.6h0.01M209.56 254.89h0.01M247.3 236.08h0.01M235.69 253.65h0.01M223.76 261.65h0.01M265.19 247.8h0.01M245.77 253.93h0.01M215.02 251.74h0.01M234.99 240.27h0.01M242.86 259h0.01M230.86 247.46h0.01M244.53 262.19h0.01M232.78 241.71h0.01M244.28 238.2h0.01M256.38 248.04h0.01M223.23 249.31h0.01M237.01 252.51h0.01M226.56 245.98h0.01M235.82 238.18h0.01M215.21 268.27h0.01M224.74 250.69h0.01M230.75 259.37h0.01M247.91 251.68h0.01M251.78 258.07h0.01M213.07 233.38h0.01M221.36 247.5h0.01M243.97 244h0.01M202.58 254.64h0.01M226.56 239.92h0.01M232.3 262.22h0.01M253.53 244.68h0.01M244.63 233.07h0.01M228.69 252.59h0.01M228.04 256.16h0.01M229.9 242.22h0.01M257.71 250.39h0.01M227.11 247.22h0.01M229.06 241.47h0.01M239.35 252.73h0.01M231.93 250.19h0.01M230.73 253.62h0.01M216.35 248.44h0.01M233.64 246.36h0.01M226.87 236.8h0.01M252.11 239.73h0.01M244.06 247.55h0.01M233.44 264.62h0.01M244.3 240.54h0.01M228.49 249.37h0.01M250.32 251.86h0.01M233.74 270.67h0.01M242.97 254.2h0.01M213.58 250.97h0.01M239.26 253.99h0.01M207.35 252.61h0.01M201.91 248.17h0.01M229.05 241.54h0.01M219.71 248.22h0.01M236.39 249.15h0.01M269.02 255.27h0.01M220.78 236.1h0.01M224.04 253.88h0.01M237.04 260.49h0.01M241.55 256.19h0.01M231.06 252.77h0.01M230.59 242.83h0.01M244.84 250.96h0.01M241.97 239.47h0.01M217.61 245.65h0.01M232.58 248.26h0.01M234.38 247.41h0.01M217.29 244.68h0.01M237.9 252.59h0.01M220.37 250.4h0.01M249.06 233.64h0.01M236.84 255.27h0.01M235.22 250.07h0.01M224.55 247.46h0.01M231.96 248.09h0.01M202.5 259.05h0.01M216.08 258.08h0.01M239.51 242.3h0.01M200.45 242.48h0.01M247.1 244.08h0.01M206.44 251.5h0.01M245.69 243.77h0.01M220.56 255.54h0.01M246.04 244.36h0.01M235.88 251.49h0.01M209.72 250.71h0.01M253.41 243.37h0.01M256.43 236.8h0.01M232.79 254.06h0.01M229.53 245.13h0.01M231.32 250.44h0.01M218.53 259.87h0.01M251.05 247.46h0.01M225.31 258.92h0.01M233.02 246.79h0.01M221.38 245.82h0.01M224.01 249.14h0.01M213.79 255.76h0.01M253.53 247.17h0.01M231.41 246.95h0.01M248.97 255.81h0.01M234.03 246.42h0.01M222.93 256.91h0.01M228.7 258.39h0.01M225.04 248.27h0.01M233.95 245.34h0.01M227.94 259.31h0.01M229.12 258.59h0.01M212.21 251h0.01M221.17 244.49h0.01M259.76 241.66h0.01M223.3 241.24h0.01M217.29 239.02h0.01M239.11 242.63h0.01M255.89 260h0.01M211.02 256.43h0.01M230.55 260.62h0.01M223.91 253.77h0.01M206.21 247.42h0.01M245.35 244.04h0.01M233.45 246.75h0.01M234.94 247.75h0.01M222.03 243.27h0.01M240.95 255.07h0.01M225.37 253.98h0.01M231.58 244.71h0.01M216.44 252.38h0.01M214.75 258.6h0.01M254.76 241.18h0.01M225.87 248.03h0.01M238.4 247.92h0.01M233.29 249.96h0.01M226.9 230.8h0.01M225.86 253.04h0.01M243.7 247.4h0.01M229.09 245.26h0.01M231.45 255.39h0.01M234.17 247.43h0.01M252.27 238.82h0.01M244.49 238.93h0.01M239.82 243.34h0.01M224.99 257.32h0.01M212.15 257.32h0.01M248.71 238.35h0.01M248.98 246.44h0.01M231.62 257.8h0.01M242.32 245.2h0.01M246.08 238.98h0.01M246.85 243.1h0.01M248.27 240.46h0.01M226.68 262.18h0.01M257.58 235.8h0.01M214.28 231.54h0.01M247.33 235.73h0.01M241.57 248.33h0.01M247.52 251.63h0.01M263.28 241.93h0.01M257.1 251.73h0.01M215.87 243.16h0.01M207.34 253.09h0.01M246.63 244.27h0.01M217.91 248.21h0.01M233.63 261.58h0.01M246.99 243.36h0.01M208.05 254.29h0.01M200.74 260.17h0.01M237.89 250.86h0.01M234.52 248.28h0.01M229.97 239.58h0.01M234.43 257.78h0.01M220.33 240.37h0.01M210.09 234.29h0.01M231.21 242.64h0.01M218.59 247.44h0.01M208.05 249.29h0.01M241.75 254.56h0.01M232.86 242.94h0.01M240.2 243.34h0.01M218.31 242.89h0.01M223.5 229h0.01M218.16 242.93h0.01M219.92 245.1h0.01M236.89 235.07h0.01M221.54 257.72h0.01M239.41 254.55h0.01M239.15 248.98h0.01M265.58 250.34h0.01M211.98 243.76h0.01M247.74 247.74h0.01M232.42 234.2h0.01M233.6 235.69h0.01M211.09 243.29h0.01M226.61 250.25h0.01M245.48 241.14h0.01M232.53 241.2h0.01M235.09 260.79h0.01M229.26 244.64h0.01M251.93 247.96h0.01M233.49 245.2h0.01M199.32 240.18h0.01M222.97 238.93h0.01M202.95 255.7h0.01M182.84 250.68h0.01M225.51 263.09h0.01M254.73 240.54h0.01M234.56 253h0.01M215.44 241.76h0.01M219.07 252.91h0.01M251.55 246.58h0.01M236.29 247.57h0.01M234.57 257.29h0.01M232.98 233.96h0.01M234.42 247.95h0.01M246.45 235.51h0.01M242.49 242.79h0.01M237.2 241.51h0.01M217.47 237.53h0.01M241.84 244.27h0.01M223.09 241.2h0.01M250.97 263.14h0.01M213.89 247.51h0.01M231.66 248.72h0.01M233.71 247.74h0.01M213.05 248.66h0.01M260.82 241.66h0.01M256.72 238.38h0.01M226.55 260.95h0.01M245.92 245.28h0.01M239.76 251.41h0.01M192.84 246.09h0.01M237.75 249.46h0.01M232.86 243.51h0.01M235.13 249.52h0.01M216.94 245.03h0.01M229.6 239.75h0.01M231.03 249.91h0.01M252.45 249.75h0.01M239.07 256.6h0.01M233.73 244.53h0.01M257.8 243.91h0.01M225.12 251.62h0.01M227.72 259.93h0.01M205.34 264.57h0.01M258.43 263.13h0.01M248.94 256.98h0.01M248.2 248.92h0.01M244.31 245.62h0.01M235.55 247.16h0.01M237.2 246.92h0.01M229.87 242h0.01M230.63 262.33h0.01M234.67 255.88h0.01M257.53 255.61h0.01M242.54 230.52h0.01M232.91 266.31h0.01M224.74 248.9h0.01M223.87 239.59h0.01M258.95 243.44h0.01M241.77 252.8h0.01M234.88 246.63h0.01M228.39 240.97h0.01M216.43 239.59h0.01M232.77 259.4h0.01M247.52 239.9h0.01M227.67 245.49h0.01M230.26 239.04h0.01M230.36 236.94h0.01M235.54 249.09h0.01M208.84 262.78h0.01M230.13 244.21h0.01M220.43 241.49h0.01M247.69 248.9h0.01M221.74 246.22h0.01M242.87 230h0.01M257.73 252.06h0.01M228.9 240.63h0.01M224.39 251.8h0.01M236.82 246.1h0.01M233.79 246.1h0.01M218.24 242.6h0.01M241.05 259.16h0.01M265.43 247.65h0.01M229.77 265.71h0.01M230.64 256.41h0.01M217.44 251.64h0.01M238.83 243.2h0.01M214.27 256.43h0.01M216.47 255.53h0.01M253.89 237.27h0.01M219.62 249.37h0.01M250.78 240.58h0.01M257.72 240.63h0.01M237.89 251.98h0.01M242.5 257.29h0.01M264.43 236.66h0.01M230.74 251.69h0.01M224.52 240.46h0.01M212.6 263.43h0.01M234.48 258.75h0.01M257.01 260.16h0.01M248.87 251.71h0.01M219.05 240.56h0.01M220.41 243.9h0.01M225.92 252.1h0.01M238.4 250.39h0.01M230.6 241.51h0.01M237.18 248.63h0.01M238.47 243.42h0.01M229.14 258.22h0.01M233.19 262.75h0.01M237.06 249.25h0.01M232.51 236.97h0.01M241.72 248.88h0.01M263.16 245h0.01M243.1 250.29h0.01M234.7 251.97h0.01M207.38 241.07h0.01M239.91 248.12h0.01M203.3 257.1h0.01M211.73 271.53h0.01M247.22 249.65h0.01M244.9 260.03h0.01M231.47 266.72h0.01M207.01 243.92h0.01M228 242.14h0.01M223.18 265.53h0.01M243.81 241.45h0.01M269.22 240.04h0.01M237.22 252.14h0.01M221.6 246.7h0.01M215.47 266.74h0.01M232.94 255.61h0.01M231.05 257.51h0.01M215.77 256.56h0.01M235.65 240.17h0.01M215.78 258.18h0.01M251.26 253.48h0.01M250.48 256.93h0.01M250.83 243.71h0.01M226.39 249.93h0.01M241.89 242.13h0.01M231.75 252.13h0.01M227.73 257.61h0.01M228.5 257.97h0.01M213.44 250.31h0.01M211.18 255.71h0.01M246.28 243.57h0.01M230.82 236.71h0.01M237.22 250.71h0.01M249.53 244.99h0.01M206.65 239.54h0.01M221.53 252.71h0.01M236.57 252.74h0.01M239.97 254.22h0.01M227.91 244.5h0.01M249.96 241.56h0.01M237.12 250.3h0.01M214.8 248.36h0.01M219.23 238.97h0.01M246.45 239.36h0.01M241.09 256.41h0.01M204.04 249.79h0.01M254.95 244.13h0.01M243.2 246.55h0.01M254.89 251.16h0.01M227.81 254.16h0.01M229.19 261.67h0.01M216.16 261.76h0.01M273.6 243.35h0.01M231.07 251.56h0.01M258.71 241.19h0.01M223.67 255.4h0.01M236.39 249.9h0.01M207.62 256.59h0.01M227.82 255.32h0.01M249.25 240.42h0.01M214.19 252.24h0.01M250.63 242.16h0.01M239.11 254.66h0.01M217.45 247.85h0.01M225.96 271.55h0.01M226.62 251.19h0.01M233.05 257.32h0.01M225.42 243.58h0.01M220.85 246.96h0.01M229.05 248.77h0.01M217.72 245.96h0.01M213.6 247.58h0.01M233.07 247.14h0.01M247.67 240.16h0.01M209.84 249.82h0.01M233.88 249.19h0.01M223.63 245.65h0.01M218.5 251.56h0.01M247.2 251.29h0.01M225.7 239.77h0.01M257.32 238.62h0.01M221.59 254.15h0.01M239.88 255.86h0.01M230.26 247.82h0.01M222 258.96h0.01M243.04 242.68h0.01M231.39 257h0.01M243.28 247.71h0.01M233.08 248.86h0.01M216.8 252.18h0.01M232.22 248.4h0.01M234.64 236.72h0.01M248.85 234.82h0.01M219.61 243.86h0.01M233.21 245.19h0.01M206.82 256.71h0.01M244.04 242.06h0.01M216.86 248.28h0.01M205.5 248.18h0.01M232.89 250.95h0.01M251.16 246.14h0.01M209.92 250.7h0.01M216.76 246.42h0.01M222.17 237.81h0.01M216.11 250.85h0.01M239.77 258.59h0.01M221.16 255.35h0.01M222.51 259.69h0.01M242.97 261.41h0.01M221.98 255.04h0.01M240.61 243.53h0.01M218.59 252.9h0.01M214.82 246.96h0.01M205.04 255.34h0.01M263.01 254.66h0.01M228.8 260.37h0.01M237.65 258.85h0.01M233.34 236.81h0.01M236.33 257.87h0.01M234.6 237.98h0.01M263.74 234.6h0.01M217.53 249.98h0.01M209.4 265.41h0.01M217.95 253.07h0.01M212.89 249.28h0.01M245.53 241.21h0.01M246.69 250.03h0.01M218.75 241.29h0.01M212.02 240.55h0.01M228.26 245.15h0.01M255.63 242.67h0.01M189.61 251.77h0.01M242.08 243.82h0.01M216.95 256.83h0.01M250.13 251.95h0.01M216.92 247.24h0.01M229.35 253.82h0.01M210.2 238.11h0.01M218.5 263.59h0.01M255.55 253.27h0.01M246.69 247.3h0.01M227.52 271.41h0.01M220.18 254.18h0.01M204.13 261.04h0.01M227.65 254.75h0.01M233.34 248.14h0.01M232.5 244.93h0.01M232.35 239.24h0.01M216.23 245.01h0.01M232.78 238.62h0.01M233.22 242.91h0.01M254.06 248.62h0.01M263.09 236.24h0.01M231.67 250.9h0.01M221.81 252.75h0.01M232.8 241.6h0.01M224.29 242.31h0.01M222.18 246.65h0.01M232.9 241.76h0.01M217.46 242.3h0.01M243.33 256.16h0.01M232.19 247.98h0.01M237.74 255.36h0.01M230.95 253.23h0.01M222.42 257.7h0.01M218.96 244.98h0.01M230.1 243.73h0.01M225.22 253.88h0.01M237.49 246.94h0.01M233.75 263.51h0.01M212.46 248.88h0.01M234.87 253.07h0.01M212.77 247.24h0.01M224.16 262.12h0.01M229.21 259.65h0.01M201.28 247.3h0.01M235.26 244.79h0.01M236.19 238.49h0.01M231.34 256.76h0.01M227.17 243.98h0.01M227.96 253.92h0.01M218.51 247.19h0.01M229.59 244.61h0.01M225.16 248.77h0.01M235.26 251.23h0.01M214.94 247.61h0.01M237.52 255.32h0.01M236.07 257.23h0.01M231.6 243.33h0.01M226.94 248.22h0.01M242.48 266.21h0.01M207.72 255.84h0.01M241.04 246.34h0.01M237.63 235.86h0.01M238.27 239.13h0.01M239.83 240.78h0.01M223.57 271.66h0.01M229.75 248.27h0.01M243.81 242.75h0.01M240.57 259.07h0.01M237.06 243.83h0.01M210.08 259.46h0.01M242.26 233.56h0.01M252.16 234.67h0.01M249.65 246.35h0.01M237.49 253.96h0.01M209.4 234.53h0.01M248.6 249.8h0.01M231.51 241.61h0.01M194.11 240.58h0.01M239.74 253.49h0.01M210.42 247.28h0.01M213.49 251.64h0.01M223.87 244.37h0.01M253.78 242.94h0.01M228.01 233.55h0.01M238.07 242.47h0.01M261.23 244.63h0.01M258.82 236.6h0.01M232.2 249.31h0.01M230.03 250.2h0.01M214.05 232.74h0.01M222.93 254.19h0.01M240.49 250.1h0.01M240.03 260.14h0.01M235.55 254.71h0.01M249.42 261.06h0.01M221.71 240.63h0.01M232.94 252.98h0.01M245.29 250.03h0.01M242.98 249.02h0.01M250.61 252.73h0.01M240.05 254.41h0.01M228.97 247.97h0.01M239.5 229.65h0.01M218.1 243.3h0.01M208.12 244.17h0.01M242.93 257.28h0.01M232.96 247.43h0.01M238.66 255.34h0.01M207.2 244.08h0.01M228.1 249.38h0.01M224.42 247.79h0.01M220.27 249.48h0.01M198.46 254.79h0.01M228.57 258.77h0.01M247.89 241.62h0.01M239.8 257.03h0.01M224.4 257.37h0.01M233.59 249.37h0.01M245.69 252.28h0.01M190.54 249.38h0.01M231.87 248.36h0.01M242.34 244.55h0.01M244.52 244.73h0.01M260.49 244.47h0.01M251.62 244.81h0.01M238.72 261.97h0.01M238.56 244.05h0.01M246.16 252.81h0.01M225.37 256.97h0.01M233.19 247.2h0.01M248.03 248.65h0.01M264.51 261.01h0.01M231.32 239.39h0.01M233.06 264.2h0.01M236.93 247.41h0.01M254.88 236.81h0.01M233.35 240.9h0.01M256.86 243.63h0.01M218.66 247.88h0.01M230.9 257.92h0.01M230.71 255.67h0.01M246.15 240.82h0.01M250.21 242.99h0.01M210.15 254.76h0.01M219.47 250.5h0.01M239.1 244.77h0.01M223.49 260.92h0.01M209.95 254.65h0.01M250.11 233.84h0.01M241.57 236.77h0.01M241.56 247.23h0.01M226.37 237.12h0.01M249.96 249.47h0.01M230.06 253.44h0.01M251.01 261.86h0.01M219.53 244.81h0.01M220.43 251.18h0.01M237.03 229.82h0.01M222.81 245.8h0.01M244.41 250.5h0.01M237.9 259.95h0.01M219.35 237.61h0.01M234.96 249.71h0.01M228.31 250.32h0.01M248.18 275.61h0.01M223.9 241.36h0.01M226.94 240.62h0.01M252.81 254.67h0.01M268.92 249.57h0.01M265.17 242.6h0.01M234.81 240.05h0.01M237.25 246.08h0.01M257.87 232.32h0.01M231.87 249.11h0.01M218.51 253.04h0.01M235.65 250.39h0.01M240.9 264.98h0.01M220.82 254.28h0.01M208.01 242.27h0.01M211.29 247.37h0.01M244.26 252.13h0.01M221.93 246.74h0.01M231.61 262.08h0.01M237.15 248.91h0.01M243.53 242.4h0.01M228.57 251.19h0.01M241.64 252.05h0.01M219.87 241.82h0.01M228.15 234.43h0.01M217.76 251.78h0.01M251.57 240.06h0.01M233.4 266.15h0.01M222.23 262.54h0.01M228.3 243.2h0.01M230.35 258.62h0.01M244.81 253.22h0.01M208.8 260.25h0.01M217.56 250.82h0.01M227.89 241.79h0.01M273.53 230.83h0.01M248.81 247.29h0.01M232.07 259.33h0.01M244.99 236.78h0.01M266.08 241.56h0.01M202.01 245.18h0.01M200.23 248.99h0.01M221.44 231.36h0.01M211.79 251.79h0.01M214.17 252.27h0.01M198.32 264.01h0.01M231.01 251.61h0.01M228.13 256.07h0.01M212.76 249.34h0.01M214.35 254.38h0.01M177.9 257.9h0.01M213.72 236.41h0.01M202.54 257.86h0.01M210.98 263.69h0.01M214.32 247.24h0.01M200.56 259.4h0.01M182.43 247.84h0.01M210.09 244.76h0.01M195.19 252.92h0.01M200.71 236.34h0.01M197.03 250.02h0.01M200.56 248.23h0.01M176.03 259.61h0.01M221.51 268.52h0.01M208.55 254.12h0.01M220.09 250.77h0.01M231.76 254.41h0.01M205.45 244.21h0.01M180.93 284.37h0.01M193.14 259.26h0.01M188.93 264.71h0.01M198.4 240.7h0.01M206.22 253.86h0.01M178.24 256.16h0.01M209.75 262.2h0.01M184.85 246.87h0.01M209.15 252.47h0.01M203.68 251.31h0.01M172.45 267.79h0.01M275.49 234.62h0.01M178.72 249.47h0.01" stroke="#000" stroke-width="1.55" stroke-linecap="round"/>
<line x1="172.45" y1="252.58" x2="275.49" y2="242.79" stroke="#3366ff" stroke-width="1.35"/>
<rect x="163.65" y="201.3" width="121.8" height="104" fill="none" stroke="#707070" stroke-width="0.9"/>
<rect x="238.65" y="276.2" width="28" height="12.9" fill="#fff" stroke="#7f7f7f" stroke-width="0.75" rx="1.3"/>
<text x="241.35" y="285.1" font-size="7.6" stroke="#333" stroke-width="0.1" fill="#333" transform="translate(241.35 285.1) scale(1 1.1) translate(-241.35 -285.1)">ρ</text>
<text x="247.05" y="285.1" font-size="7.6" stroke="#333" stroke-width="0.1" fill="#333" transform="translate(247.05 285.1) scale(1 1.1) translate(-247.05 -285.1)">:</text>
<text x="264.05" y="285.1" font-size="7.5" stroke="#333" stroke-width="0.1" text-anchor="end" fill="#333" transform="translate(264.05 285.1) scale(1 1.1) translate(-264.05 -285.1)">0.18</text>
<rect x="163.65" y="310.6" width="121.8" height="104.3" fill="#fff"/>
<line x1="160.35" y1="310.6" x2="160.35" y2="414.9" stroke="#f3f3f3" stroke-width="0.45"/>
<line x1="182.75" y1="310.6" x2="182.75" y2="414.9" stroke="#f3f3f3" stroke-width="0.45"/>
<line x1="205.15" y1="310.6" x2="205.15" y2="414.9" stroke="#f3f3f3" stroke-width="0.45"/>
<line x1="227.55" y1="310.6" x2="227.55" y2="414.9" stroke="#f3f3f3" stroke-width="0.45"/>
<line x1="249.95" y1="310.6" x2="249.95" y2="414.9" stroke="#f3f3f3" stroke-width="0.45"/>
<line x1="272.35" y1="310.6" x2="272.35" y2="414.9" stroke="#f3f3f3" stroke-width="0.45"/>
<line x1="163.65" y1="404.48" x2="285.45" y2="404.48" stroke="#f3f3f3" stroke-width="0.45"/>
<line x1="163.65" y1="383.93" x2="285.45" y2="383.93" stroke="#f3f3f3" stroke-width="0.45"/>
<line x1="163.65" y1="363.38" x2="285.45" y2="363.38" stroke="#f3f3f3" stroke-width="0.45"/>
<line x1="163.65" y1="342.83" x2="285.45" y2="342.83" stroke="#f3f3f3" stroke-width="0.45"/>
<line x1="163.65" y1="322.28" x2="285.45" y2="322.28" stroke="#f3f3f3" stroke-width="0.45"/>
<line x1="171.55" y1="310.6" x2="171.55" y2="414.9" stroke="#e8e8e8" stroke-width="0.7"/>
<line x1="193.95" y1="310.6" x2="193.95" y2="414.9" stroke="#e8e8e8" stroke-width="0.7"/>
<line x1="216.35" y1="310.6" x2="216.35" y2="414.9" stroke="#e8e8e8" stroke-width="0.7"/>
<line x1="238.75" y1="310.6" x2="238.75" y2="414.9" stroke="#e8e8e8" stroke-width="0.7"/>
<line x1="261.15" y1="310.6" x2="261.15" y2="414.9" stroke="#e8e8e8" stroke-width="0.7"/>
<line x1="283.55" y1="310.6" x2="283.55" y2="414.9" stroke="#e8e8e8" stroke-width="0.7"/>
<line x1="163.65" y1="414.75" x2="285.45" y2="414.75" stroke="#e8e8e8" stroke-width="0.7"/>
<line x1="163.65" y1="394.2" x2="285.45" y2="394.2" stroke="#e8e8e8" stroke-width="0.7"/>
<line x1="163.65" y1="373.65" x2="285.45" y2="373.65" stroke="#e8e8e8" stroke-width="0.7"/>
<line x1="163.65" y1="353.1" x2="285.45" y2="353.1" stroke="#e8e8e8" stroke-width="0.7"/>
<line x1="163.65" y1="332.55" x2="285.45" y2="332.55" stroke="#e8e8e8" stroke-width="0.7"/>
<line x1="163.65" y1="312" x2="285.45" y2="312" stroke="#e8e8e8" stroke-width="0.7"/>
<path d="M168.86 363.03 L172.71 362.75 L176.56 362.47 L180.4 362.18 L184.25 361.89 L188.1 361.59 L191.94 361.29 L195.79 360.98 L199.63 360.66 L203.48 360.32 L207.33 359.96 L211.17 359.58 L215.02 359.16 L218.87 358.71 L222.71 358.22 L226.56 357.68 L230.41 357.12 L234.25 356.54 L238.1 355.93 L241.95 355.31 L245.79 354.68 L249.64 354.04 L253.49 353.4 L257.33 352.75 L261.18 352.1 L265.03 351.44 L268.87 350.78 L272.72 350.12 L276.57 349.46 L280.41 348.8 L280.41 355.65 L276.57 355.92 L272.72 356.2 L268.87 356.48 L265.03 356.76 L261.18 357.05 L257.33 357.33 L253.49 357.62 L249.64 357.92 L245.79 358.22 L241.95 358.53 L238.1 358.85 L234.25 359.18 L230.41 359.53 L226.56 359.91 L222.71 360.32 L218.87 360.76 L215.02 361.25 L211.17 361.77 L207.33 362.33 L203.48 362.91 L199.63 363.51 L195.79 364.13 L191.94 364.76 L188.1 365.39 L184.25 366.04 L180.4 366.69 L176.56 367.34 L172.71 367.99 L168.86 368.65Z" fill="#999999" fill-opacity="0.4"/>
<path d="M211.51 357.32h0.01M216.25 352.72h0.01M207.05 364.05h0.01M205.62 386.65h0.01M184.52 366.14h0.01M217.11 368.73h0.01M254.07 370.62h0.01M256.73 361.16h0.01M243.75 342.19h0.01M231.61 357.6h0.01M204.36 367.19h0.01M246.13 359.75h0.01M216.59 367.94h0.01M216.34 361.99h0.01M211.95 348.33h0.01M219.51 360.74h0.01M209.12 353.1h0.01M216.04 366.84h0.01M196.31 359.48h0.01M210.33 342.19h0.01M262.65 364.77h0.01M216.32 349.82h0.01M212.99 359.22h0.01M228.19 372.68h0.01M231.65 368.78h0.01M195.74 369.58h0.01M213.61 352.21h0.01M235.8 361.61h0.01M223.01 359.94h0.01M220.1 353.46h0.01M248.33 355.41h0.01M204.33 359.15h0.01M219.33 361.59h0.01M207.44 351.76h0.01M247.07 361.77h0.01M179.22 350.9h0.01M204.48 374.87h0.01M207.26 373.42h0.01M230.77 352.64h0.01M229.64 354.31h0.01M245.2 376.22h0.01M186.67 362.29h0.01M232.49 368.03h0.01M211.91 368.65h0.01M204.57 354.75h0.01M228.33 372.66h0.01M199.56 358.74h0.01M176.75 367.27h0.01M210.4 345.1h0.01M188.17 363.66h0.01M204.9 370.05h0.01M225.02 375.02h0.01M223.84 365.64h0.01M248.97 380.45h0.01M213.76 363.49h0.01M187.47 355.45h0.01M202.79 359.85h0.01M199.57 360.55h0.01M193.69 368.35h0.01M226.28 359.31h0.01M204.98 358.62h0.01M178.72 358h0.01M231.43 351.56h0.01M215.5 363.89h0.01M224.73 373.5h0.01M219.78 365.42h0.01M230.15 359.73h0.01M218.44 378.72h0.01M242.06 360.12h0.01M226.07 354.85h0.01M225.42 362.84h0.01M225.77 367.13h0.01M188.98 349.2h0.01M214.45 348.98h0.01M212.58 362.04h0.01M221.79 355.08h0.01M190.91 352.53h0.01M249.91 376.03h0.01M219.75 338.23h0.01M193.82 369.65h0.01M184.01 388.78h0.01M212.15 381.88h0.01M215.93 359.04h0.01M203.54 371.43h0.01M219.51 359.27h0.01M205.06 352.53h0.01M228.57 356.45h0.01M203.41 363.25h0.01M216.94 347.47h0.01M236.99 364.1h0.01M268.39 345.71h0.01M197.83 364.24h0.01M208.54 358.9h0.01M201.14 361.24h0.01M233.15 359.14h0.01M195.06 366.26h0.01M208.15 366.75h0.01M217.11 376.04h0.01M198.4 358.4h0.01M198.82 362.64h0.01M208.32 373.18h0.01M176.29 370.07h0.01M189.2 377.19h0.01M209.55 360.94h0.01M220.62 357.77h0.01M214.03 359.26h0.01M182.73 368.91h0.01M208.55 360.52h0.01M233.43 368.31h0.01M228.65 386.35h0.01M216.14 372.57h0.01M200.2 374.61h0.01M230.14 372.48h0.01M206.28 370.39h0.01M194.65 369.64h0.01M201.88 370.97h0.01M246.24 353.97h0.01M222.03 362.9h0.01M240.55 366.49h0.01M208.25 375.49h0.01M236.19 353.78h0.01M205.84 358.08h0.01M214.59 354h0.01M266.7 339.39h0.01M232.82 355.71h0.01M207.81 358.69h0.01M216.02 360.86h0.01M224.12 370.77h0.01M241.55 359.53h0.01M208.05 367.88h0.01M183.37 348.34h0.01M212.18 374.94h0.01M218 357.72h0.01M219.85 356.02h0.01M243.65 355.41h0.01M223.94 366.51h0.01M233.72 359.31h0.01M195.99 366.03h0.01M234.8 366.09h0.01M259.01 355.11h0.01M232.93 361.13h0.01M222.69 363.51h0.01M220.73 364.17h0.01M252.92 363.8h0.01M199.42 358.63h0.01M215.5 364.88h0.01M226.77 357.92h0.01M232.36 357.53h0.01M209.07 359.04h0.01M223.75 369.32h0.01M212.22 377.52h0.01M220.07 366.28h0.01M215.09 358.85h0.01M195.19 356.82h0.01M217.28 351.54h0.01M234.98 361.7h0.01M198.63 361.58h0.01M212.94 373.11h0.01M230.8 375.62h0.01M196.6 369.26h0.01M221.29 366.28h0.01M196.8 374.6h0.01M240.06 371.08h0.01M263.28 350.23h0.01M257.56 361.35h0.01M213.37 373.59h0.01M232.28 344.79h0.01M220.08 370.72h0.01M219.71 377.25h0.01M248.2 350.99h0.01M191.69 369.09h0.01M238.5 353.34h0.01M216.73 372.89h0.01M245.46 366.81h0.01M221.38 360.65h0.01M204.43 387.62h0.01M223.16 348.39h0.01M232.2 377.22h0.01M218.4 365.67h0.01M227.31 357.04h0.01M207.41 356.95h0.01M175.63 357.41h0.01M235.44 355.25h0.01M231.48 344.87h0.01M220.61 365.65h0.01M219.04 358.58h0.01M238.12 350.96h0.01M208.68 364.91h0.01M203.77 365.59h0.01M213.98 364.2h0.01M241.13 382.53h0.01M190.35 372.27h0.01M241.19 361.6h0.01M205.09 373.75h0.01M196 359.86h0.01M242.53 369.53h0.01M215.78 344.34h0.01M192.06 362.05h0.01M210.62 352.45h0.01M236.05 359.6h0.01M241.19 361.9h0.01M209.28 353.6h0.01M225.7 357.83h0.01M231.77 354.14h0.01M204.99 367.37h0.01M224.69 352.14h0.01M217.07 384.77h0.01M207.13 369.68h0.01M207.99 380.77h0.01M219.02 365.18h0.01M218.28 356.27h0.01M206.55 365.11h0.01M209.3 373.21h0.01M239.64 367.49h0.01M221.91 362.23h0.01M235.14 356.4h0.01M241.38 400.71h0.01M229.3 354.43h0.01M262.46 370.06h0.01M201.43 374.27h0.01M233.63 368.43h0.01M211.42 354.21h0.01M254.28 374.55h0.01M251.21 364.87h0.01M179.17 360.33h0.01M198.6 365.2h0.01M230.79 354.98h0.01M233.26 365.14h0.01M232.21 356.21h0.01M168.86 366.22h0.01M280.41 350.1h0.01" stroke="#000" stroke-width="1.55" stroke-linecap="round"/>
<line x1="168.86" y1="365.84" x2="280.41" y2="352.22" stroke="#3366ff" stroke-width="1.35"/>
<rect x="163.65" y="310.6" width="121.8" height="104.3" fill="none" stroke="#707070" stroke-width="0.9"/>
<rect x="238.65" y="379.5" width="28" height="12.9" fill="#fff" stroke="#7f7f7f" stroke-width="0.75" rx="1.3"/>
<text x="241.35" y="388.4" font-size="7.6" stroke="#333" stroke-width="0.1" fill="#333" transform="translate(241.35 388.4) scale(1 1.1) translate(-241.35 -388.4)">ρ</text>
<text x="247.05" y="388.4" font-size="7.6" stroke="#333" stroke-width="0.1" fill="#333" transform="translate(247.05 388.4) scale(1 1.1) translate(-247.05 -388.4)">:</text>
<text x="264.05" y="388.4" font-size="7.5" stroke="#333" stroke-width="0.1" text-anchor="end" fill="#333" transform="translate(264.05 388.4) scale(1 1.1) translate(-264.05 -388.4)">0.26</text>
<line x1="171.55" y1="414.9" x2="171.55" y2="417.5" stroke="#4a4a4a" stroke-width="1.1"/>
<text x="171.55" y="424.96" font-size="7.3" stroke="#444444" stroke-width="0.22" text-anchor="middle" fill="#444444" transform="translate(171.55 424.96) scale(1 1.1) translate(-171.55 -424.96)">-10</text>
<line x1="193.95" y1="414.9" x2="193.95" y2="417.5" stroke="#4a4a4a" stroke-width="1.1"/>
<text x="193.95" y="424.96" font-size="7.3" stroke="#444444" stroke-width="0.22" text-anchor="middle" fill="#444444" transform="translate(193.95 424.96) scale(1 1.1) translate(-193.95 -424.96)">-5</text>
<line x1="216.35" y1="414.9" x2="216.35" y2="417.5" stroke="#4a4a4a" stroke-width="1.1"/>
<text x="216.35" y="424.96" font-size="7.3" stroke="#444444" stroke-width="0.22" text-anchor="middle" fill="#444444" transform="translate(216.35 424.96) scale(1 1.1) translate(-216.35 -424.96)">0</text>
<line x1="238.75" y1="414.9" x2="238.75" y2="417.5" stroke="#4a4a4a" stroke-width="1.1"/>
<text x="238.75" y="424.96" font-size="7.3" stroke="#444444" stroke-width="0.22" text-anchor="middle" fill="#444444" transform="translate(238.75 424.96) scale(1 1.1) translate(-238.75 -424.96)">5</text>
<line x1="261.15" y1="414.9" x2="261.15" y2="417.5" stroke="#4a4a4a" stroke-width="1.1"/>
<text x="261.15" y="424.96" font-size="7.3" stroke="#444444" stroke-width="0.22" text-anchor="middle" fill="#444444" transform="translate(261.15 424.96) scale(1 1.1) translate(-261.15 -424.96)">10</text>
<line x1="283.55" y1="414.9" x2="283.55" y2="417.5" stroke="#4a4a4a" stroke-width="1.1"/>
<text x="283.55" y="424.96" font-size="7.3" stroke="#444444" stroke-width="0.22" text-anchor="middle" fill="#444444" transform="translate(283.55 424.96) scale(1 1.1) translate(-283.55 -424.96)">15</text>
<rect x="290.9" y="186.7" width="121.8" height="14.6" fill="#d9d9d9" stroke="#707070" stroke-width="0.9"/>
<text x="351.8" y="196.66" font-size="7.6" stroke="#1a1a1a" stroke-width="0.05" text-anchor="middle" fill="#1a1a1a" transform="translate(351.8 196.66) scale(1 1.1) translate(-351.8 -196.66)">CCND2</text>
<rect x="290.9" y="201.3" width="121.8" height="104" fill="#fff"/>
<line x1="287.6" y1="201.3" x2="287.6" y2="305.3" stroke="#f3f3f3" stroke-width="0.45"/>
<line x1="310" y1="201.3" x2="310" y2="305.3" stroke="#f3f3f3" stroke-width="0.45"/>
<line x1="332.4" y1="201.3" x2="332.4" y2="305.3" stroke="#f3f3f3" stroke-width="0.45"/>
<line x1="354.8" y1="201.3" x2="354.8" y2="305.3" stroke="#f3f3f3" stroke-width="0.45"/>
<line x1="377.2" y1="201.3" x2="377.2" y2="305.3" stroke="#f3f3f3" stroke-width="0.45"/>
<line x1="399.6" y1="201.3" x2="399.6" y2="305.3" stroke="#f3f3f3" stroke-width="0.45"/>
<line x1="290.9" y1="284.45" x2="412.7" y2="284.45" stroke="#f3f3f3" stroke-width="0.45"/>
<line x1="290.9" y1="256.42" x2="412.7" y2="256.42" stroke="#f3f3f3" stroke-width="0.45"/>
<line x1="290.9" y1="228.38" x2="412.7" y2="228.38" stroke="#f3f3f3" stroke-width="0.45"/>
<line x1="298.8" y1="201.3" x2="298.8" y2="305.3" stroke="#e8e8e8" stroke-width="0.7"/>
<line x1="321.2" y1="201.3" x2="321.2" y2="305.3" stroke="#e8e8e8" stroke-width="0.7"/>
<line x1="343.6" y1="201.3" x2="343.6" y2="305.3" stroke="#e8e8e8" stroke-width="0.7"/>
<line x1="366" y1="201.3" x2="366" y2="305.3" stroke="#e8e8e8" stroke-width="0.7"/>
<line x1="388.4" y1="201.3" x2="388.4" y2="305.3" stroke="#e8e8e8" stroke-width="0.7"/>
<line x1="410.8" y1="201.3" x2="410.8" y2="305.3" stroke="#e8e8e8" stroke-width="0.7"/>
<line x1="290.9" y1="298.47" x2="412.7" y2="298.47" stroke="#e8e8e8" stroke-width="0.7"/>
<line x1="290.9" y1="270.44" x2="412.7" y2="270.44" stroke="#e8e8e8" stroke-width="0.7"/>
<line x1="290.9" y1="242.4" x2="412.7" y2="242.4" stroke="#e8e8e8" stroke-width="0.7"/>
<line x1="290.9" y1="214.37" x2="412.7" y2="214.37" stroke="#e8e8e8" stroke-width="0.7"/>
<path d="M299.7 266.3 L303.25 264.61 L306.8 262.91 L310.36 261.22 L313.91 259.52 L317.46 257.82 L321.01 256.13 L324.57 254.42 L328.12 252.72 L331.67 251.01 L335.23 249.3 L338.78 247.58 L342.33 245.86 L345.89 244.12 L349.44 242.36 L352.99 240.59 L356.55 238.78 L360.1 236.94 L363.65 235.08 L367.2 233.18 L370.76 231.27 L374.31 229.34 L377.86 227.4 L381.42 225.45 L384.97 223.49 L388.52 221.54 L392.08 219.57 L395.63 217.61 L399.18 215.64 L402.74 213.67 L402.74 217.57 L399.18 219.26 L395.63 220.96 L392.08 222.66 L388.52 224.36 L384.97 226.07 L381.42 227.78 L377.86 229.5 L374.31 231.22 L370.76 232.96 L367.2 234.71 L363.65 236.48 L360.1 238.27 L356.55 240.1 L352.99 241.96 L349.44 243.85 L345.89 245.76 L342.33 247.68 L338.78 249.62 L335.23 251.57 L331.67 253.52 L328.12 255.48 L324.57 257.44 L321.01 259.41 L317.46 261.37 L313.91 263.34 L310.36 265.31 L306.8 267.28 L303.25 269.25 L299.7 271.22Z" fill="#999999" fill-opacity="0.4"/>
<path d="M361.09 224.01h0.01M365.76 230.44h0.01M356.77 250.56h0.01M347.11 256.97h0.01M353.94 233.63h0.01M345.52 257.9h0.01M362.02 239.4h0.01M382.09 229.16h0.01M353.35 222.04h0.01M351.34 244.99h0.01M368.75 221.7h0.01M366.67 245.17h0.01M362.72 243.69h0.01M346.48 235.95h0.01M360.61 238.28h0.01M371.97 247.16h0.01M339.99 242.55h0.01M353.9 235.35h0.01M331.26 258.23h0.01M340.85 245.85h0.01M332.19 252.14h0.01M357.39 243.62h0.01M341.2 252.85h0.01M365.33 241.17h0.01M363.53 238.54h0.01M358.14 250.75h0.01M321.61 258.12h0.01M352.63 261.95h0.01M360.31 237.12h0.01M362.85 243.04h0.01M337.08 259h0.01M353.58 233.67h0.01M345.73 229.7h0.01M348.39 232.14h0.01M377.71 240.99h0.01M348.41 232.59h0.01M360.56 235.72h0.01M374.94 231.39h0.01M351.92 247.43h0.01M359.32 239.12h0.01M362.8 224.15h0.01M362.07 232.04h0.01M341.86 251h0.01M362.27 242.76h0.01M382.38 230.13h0.01M336.81 244.7h0.01M374.55 213.84h0.01M362.94 245.86h0.01M351.01 243.31h0.01M392.44 224.67h0.01M373.02 237.95h0.01M342.27 243.57h0.01M362.24 231.9h0.01M370.11 245.37h0.01M358.11 248.16h0.01M371.78 229.66h0.01M360.03 239.06h0.01M371.53 227.38h0.01M383.63 230.24h0.01M350.48 246.26h0.01M364.26 231.69h0.01M353.81 245.92h0.01M363.07 246.26h0.01M342.46 247.6h0.01M351.99 234.05h0.01M358 248.28h0.01M375.16 220.75h0.01M379.03 221.91h0.01M340.32 255.79h0.01M348.61 248.51h0.01M371.22 232.57h0.01M329.83 247.89h0.01M353.81 235.24h0.01M359.55 249.78h0.01M380.78 244.64h0.01M371.88 222.69h0.01M355.94 242.63h0.01M355.29 238.97h0.01M357.15 236.47h0.01M384.96 211.49h0.01M354.36 251.6h0.01M356.31 230.19h0.01M366.6 243.72h0.01M359.18 231.93h0.01M357.98 227.1h0.01M343.6 258.7h0.01M360.89 233.93h0.01M354.12 243.46h0.01M379.36 230.56h0.01M371.31 231.75h0.01M360.69 246.94h0.01M371.55 240.56h0.01M355.74 234.32h0.01M377.57 221.4h0.01M360.99 242.49h0.01M370.22 245.61h0.01M340.83 228.45h0.01M366.51 224.86h0.01M334.6 247.87h0.01M329.16 263.01h0.01M356.3 245.04h0.01M346.96 242.54h0.01M363.64 249.01h0.01M396.27 205.05h0.01M348.03 252.18h0.01M351.29 238.98h0.01M364.29 244.87h0.01M368.8 241.47h0.01M358.31 245.82h0.01M357.84 236.63h0.01M372.09 234.08h0.01M369.22 235.77h0.01M344.86 242.98h0.01M359.83 236.06h0.01M361.63 228.94h0.01M344.54 247.68h0.01M365.15 249.88h0.01M347.62 244.45h0.01M376.31 216.61h0.01M364.09 245.06h0.01M362.47 236.26h0.01M351.8 245.35h0.01M359.21 240.87h0.01M329.75 251.3h0.01M343.33 253.72h0.01M366.76 236.49h0.01M327.7 246.31h0.01M374.35 220.89h0.01M333.69 243.38h0.01M372.94 223.67h0.01M347.81 247.18h0.01M373.29 234.32h0.01M363.13 236.91h0.01M336.97 263.87h0.01M380.66 232.38h0.01M383.68 243.62h0.01M360.04 245.07h0.01M356.78 245.85h0.01M358.57 249.33h0.01M345.78 240.18h0.01M378.3 235.01h0.01M352.56 245.03h0.01M360.27 243.64h0.01M348.63 250.31h0.01M351.26 229.93h0.01M341.04 255.47h0.01M380.78 228.8h0.01M358.66 250.16h0.01M376.22 236.95h0.01M361.28 245.85h0.01M350.18 245.72h0.01M355.95 245.19h0.01M352.29 242h0.01M361.2 223.6h0.01M355.19 241.6h0.01M356.37 241.05h0.01M339.46 251.98h0.01M348.42 222.74h0.01M387.01 209.81h0.01M350.55 237.92h0.01M344.54 239.71h0.01M366.36 240.92h0.01M383.14 235.1h0.01M338.27 253.57h0.01M357.8 238.03h0.01M351.16 250.91h0.01M333.46 258.5h0.01M372.6 226.91h0.01M360.7 234.83h0.01M362.19 259.15h0.01M349.28 242.66h0.01M368.2 222.52h0.01M352.62 247.43h0.01M358.83 236.43h0.01M343.69 259.15h0.01M342 239.89h0.01M382.01 236.4h0.01M353.12 252.5h0.01M365.65 237.82h0.01M360.54 216.8h0.01M354.15 251.93h0.01M353.11 255.76h0.01M370.95 228.23h0.01M356.34 237.81h0.01M358.7 224.02h0.01M361.42 251.32h0.01M379.52 241.89h0.01M371.74 234.65h0.01M367.07 233.1h0.01M352.24 238.8h0.01M339.4 239.01h0.01M375.96 245.87h0.01M376.23 236.82h0.01M358.87 239.68h0.01M369.57 225.74h0.01M373.33 226.87h0.01M374.1 234.37h0.01M375.52 238.91h0.01M353.93 233.3h0.01M384.83 223.07h0.01M341.53 223.59h0.01M374.58 231.97h0.01M368.82 219.1h0.01M374.77 247.83h0.01M390.53 230.86h0.01M384.35 231.33h0.01M343.12 252.03h0.01M334.59 258.73h0.01M373.88 235.55h0.01M345.16 246.06h0.01M360.88 241.43h0.01M374.24 224.78h0.01M335.3 254.52h0.01M327.99 258.29h0.01M365.14 222.32h0.01M361.77 240.61h0.01M357.22 238h0.01M361.68 237.23h0.01M347.58 243.78h0.01M337.34 247.43h0.01M358.46 245.77h0.01M345.84 235.16h0.01M335.3 236.85h0.01M369 224.99h0.01M360.11 242.19h0.01M367.45 248.08h0.01M345.56 256.12h0.01M350.75 241.34h0.01M345.41 239.22h0.01M347.17 248.29h0.01M364.14 242.29h0.01M348.79 230.33h0.01M366.66 240.38h0.01M366.4 227.15h0.01M392.83 213.04h0.01M339.23 260.32h0.01M374.99 230.38h0.01M359.67 242.99h0.01M360.85 251h0.01M338.34 265.35h0.01M353.86 254.86h0.01M372.73 227.72h0.01M359.78 244.59h0.01M362.34 234.31h0.01M356.51 249.06h0.01M379.18 230.85h0.01M360.74 242.66h0.01M326.57 268.74h0.01M350.22 261.2h0.01M330.2 252.22h0.01M310.09 262.37h0.01M352.76 253.07h0.01M381.98 227.48h0.01M361.81 231.16h0.01M342.69 230.76h0.01M346.32 252.78h0.01M378.8 222.81h0.01M363.54 217.48h0.01M361.82 241.15h0.01M360.23 224.91h0.01M361.67 259.79h0.01M373.7 218.12h0.01M369.74 237.3h0.01M364.45 252.12h0.01M344.72 238.95h0.01M369.09 229.65h0.01M350.34 232.28h0.01M378.22 217.98h0.01M341.14 247.91h0.01M358.91 246.44h0.01M360.96 241.48h0.01M340.3 248.39h0.01M388.07 220.28h0.01M383.97 235.64h0.01M353.8 240.69h0.01M373.17 223.42h0.01M367.01 231.45h0.01M320.09 238.33h0.01M365 216.37h0.01M360.11 249.91h0.01M362.38 246.31h0.01M344.19 257.6h0.01M356.85 249.79h0.01M358.28 234.01h0.01M379.7 236.5h0.01M366.32 243.88h0.01M360.98 239.79h0.01M385.05 217.96h0.01M352.37 244.99h0.01M354.97 243.66h0.01M332.59 243.97h0.01M385.68 220.53h0.01M376.19 225.55h0.01M375.45 221.61h0.01M371.56 240.88h0.01M362.8 234.58h0.01M364.45 241.21h0.01M357.12 230.36h0.01M357.88 231.83h0.01M361.92 246.13h0.01M384.78 215.63h0.01M369.79 243.17h0.01M360.16 227.53h0.01M351.99 240.25h0.01M351.12 250.19h0.01M386.2 239.69h0.01M369.02 235.96h0.01M362.13 237.04h0.01M355.64 246.44h0.01M343.68 241.37h0.01M360.02 250.27h0.01M374.77 230.37h0.01M354.92 240.54h0.01M357.51 255.72h0.01M357.61 236.43h0.01M362.79 248.4h0.01M336.09 282.87h0.01M357.38 244.69h0.01M347.68 246.3h0.01M374.94 222.24h0.01M348.99 247.9h0.01M370.12 219.7h0.01M384.98 218.76h0.01M356.15 230.26h0.01M351.64 230.55h0.01M364.07 233.96h0.01M361.04 242.31h0.01M345.49 239.68h0.01M368.3 231.61h0.01M392.68 218.97h0.01M357.02 243.82h0.01M357.89 252.88h0.01M344.69 239.85h0.01M366.08 233.72h0.01M341.52 258.97h0.01M343.72 248.39h0.01M381.14 226.95h0.01M346.87 245.67h0.01M378.03 221.7h0.01M384.97 218.38h0.01M365.14 248.34h0.01M369.75 235.57h0.01M391.68 217.3h0.01M357.99 230.86h0.01M351.77 240.73h0.01M339.85 265.29h0.01M361.73 237.63h0.01M384.26 219.08h0.01M376.12 226.47h0.01M346.3 230.06h0.01M347.66 257.07h0.01M353.17 244.76h0.01M365.65 244.35h0.01M357.85 232.89h0.01M364.43 247.37h0.01M365.72 224.5h0.01M356.39 232.89h0.01M360.44 233.39h0.01M364.31 254.94h0.01M359.76 245.92h0.01M368.97 226.67h0.01M390.41 234.81h0.01M370.35 234.72h0.01M361.95 237.85h0.01M334.63 243.13h0.01M367.16 231.74h0.01M330.55 250.69h0.01M338.98 258.4h0.01M374.47 230.42h0.01M372.15 232.86h0.01M358.72 232.14h0.01M334.26 252.8h0.01M355.25 231.23h0.01M350.43 257.92h0.01M371.06 221.6h0.01M396.47 222.63h0.01M364.47 225.63h0.01M348.85 245.99h0.01M342.72 239.28h0.01M360.19 224.6h0.01M358.3 243.73h0.01M343.02 245.99h0.01M362.9 237.96h0.01M343.03 244.85h0.01M378.51 242.75h0.01M377.73 230.32h0.01M378.08 234.9h0.01M353.64 248.2h0.01M369.14 248.63h0.01M359 252.14h0.01M354.98 228.15h0.01M355.75 236.18h0.01M340.69 231.21h0.01M338.43 256.82h0.01M373.53 241.32h0.01M358.07 236.91h0.01M364.47 253.69h0.01M376.78 231.09h0.01M333.9 257.65h0.01M348.78 246.71h0.01M363.82 233.74h0.01M367.22 239.3h0.01M355.16 223.96h0.01M377.21 223.49h0.01M364.37 247.16h0.01M342.05 238.54h0.01M346.48 256.81h0.01M373.7 234.67h0.01M368.34 244.72h0.01M331.29 260.11h0.01M382.2 214.88h0.01M370.45 237.52h0.01M382.14 235.2h0.01M355.06 245.51h0.01M356.44 242.59h0.01M343.41 233.76h0.01M400.85 228.99h0.01M358.32 249.81h0.01M385.96 219.46h0.01M350.92 256.81h0.01M363.64 239.36h0.01M334.87 240.93h0.01M355.07 240.53h0.01M376.5 233.75h0.01M341.44 253.87h0.01M377.88 236.91h0.01M366.36 244.46h0.01M344.7 244.7h0.01M353.21 230.51h0.01M353.87 232.63h0.01M360.3 242.9h0.01M352.67 253.64h0.01M348.1 238.02h0.01M356.3 256.05h0.01M344.97 249.7h0.01M340.85 250.82h0.01M360.32 247.75h0.01M374.92 239.2h0.01M337.09 246.82h0.01M361.13 252.17h0.01M350.88 250.9h0.01M345.75 256.92h0.01M374.45 229.94h0.01M352.95 258.03h0.01M384.57 216.97h0.01M348.84 246.62h0.01M367.13 236.78h0.01M357.51 247.66h0.01M349.25 249.67h0.01M370.29 241.55h0.01M358.64 228.71h0.01M370.53 230.96h0.01M360.33 239.27h0.01M344.05 242.59h0.01M359.47 248h0.01M361.89 231.67h0.01M376.1 229.72h0.01M346.86 252.88h0.01M360.46 233.45h0.01M334.07 264.84h0.01M371.29 226.67h0.01M344.11 254.27h0.01M332.75 248.7h0.01M360.14 225.98h0.01M378.41 223.76h0.01M337.17 255.38h0.01M344.01 246.92h0.01M349.42 247h0.01M343.36 257.25h0.01M367.02 244.47h0.01M348.41 243.91h0.01M349.76 238.86h0.01M370.22 253.19h0.01M349.23 244.54h0.01M367.86 229.82h0.01M345.84 244.69h0.01M342.07 256.47h0.01M332.29 243.52h0.01M390.26 233.51h0.01M356.05 234.7h0.01M364.9 221.73h0.01M360.59 256.11h0.01M363.58 234.29h0.01M361.85 234.69h0.01M390.99 220.44h0.01M344.78 260.8h0.01M336.65 253.22h0.01M345.2 258.39h0.01M340.14 247.52h0.01M372.78 227.12h0.01M373.94 237.26h0.01M346 256.47h0.01M339.27 253.32h0.01M355.51 240.86h0.01M382.88 226.13h0.01M316.86 261.64h0.01M369.33 233.07h0.01M344.2 258.18h0.01M377.38 253.57h0.01M344.17 241.22h0.01M356.6 227.73h0.01M337.45 268.53h0.01M345.75 259.2h0.01M382.8 233.21h0.01M373.94 222.93h0.01M354.77 235.5h0.01M347.43 233.75h0.01M331.38 263.88h0.01M354.9 237.5h0.01M360.59 240.48h0.01M359.75 242.45h0.01M359.6 228.15h0.01M343.48 241.56h0.01M360.03 229.9h0.01M360.47 241.72h0.01M381.31 219.17h0.01M390.34 238.88h0.01M358.92 237.15h0.01M349.06 267.16h0.01M360.05 252.83h0.01M351.54 236.42h0.01M349.43 247.95h0.01M360.15 236.94h0.01M344.71 263h0.01M370.58 219.49h0.01M359.44 233.6h0.01M364.99 238.82h0.01M358.2 235.82h0.01M349.67 249.59h0.01M346.21 236.29h0.01M357.35 238.04h0.01M352.47 255.36h0.01M364.74 238.35h0.01M361 226.77h0.01M339.71 247.08h0.01M362.12 241.15h0.01M340.02 243.5h0.01M351.41 241.96h0.01M356.46 235.03h0.01M328.53 268.71h0.01M362.51 245.14h0.01M363.44 230.93h0.01M358.59 243.3h0.01M354.42 238.35h0.01M355.21 223.83h0.01M345.76 248.63h0.01M356.84 238.06h0.01M352.41 247.36h0.01M362.51 242.74h0.01M342.19 248.39h0.01M364.77 255.87h0.01M363.32 255.52h0.01M358.85 227.47h0.01M354.19 243.67h0.01M369.73 223.68h0.01M334.97 250.39h0.01M368.29 232.97h0.01M364.88 230.16h0.01M365.52 229.41h0.01M367.08 245.45h0.01M350.82 232.69h0.01M357 248.61h0.01M371.06 231.07h0.01M367.82 212.11h0.01M364.31 243.28h0.01M337.33 238.96h0.01M369.51 236.69h0.01M379.41 225.43h0.01M376.9 229.38h0.01M364.74 232.44h0.01M336.65 260.78h0.01M375.85 238.42h0.01M358.76 236.24h0.01M321.36 272.17h0.01M366.99 242.34h0.01M337.67 244.43h0.01M340.74 253.87h0.01M351.12 250.91h0.01M381.03 237.41h0.01M355.26 239.7h0.01M365.32 238.99h0.01M388.48 222.54h0.01M386.07 226.75h0.01M359.45 222.61h0.01M357.28 243.77h0.01M341.3 265.33h0.01M350.18 242.59h0.01M367.74 234.53h0.01M367.28 237.07h0.01M362.8 251.15h0.01M376.67 220.03h0.01M348.96 244.51h0.01M360.19 238.82h0.01M372.54 245.92h0.01M370.23 229.12h0.01M377.86 229.9h0.01M367.3 222.96h0.01M356.22 244.12h0.01M366.75 245.86h0.01M345.35 244.97h0.01M335.37 261.98h0.01M370.18 239.64h0.01M360.21 247.9h0.01M365.91 236.62h0.01M334.45 259.31h0.01M355.35 241.24h0.01M351.67 254.32h0.01M347.52 252.06h0.01M325.71 256.74h0.01M355.82 245.75h0.01M375.14 241.02h0.01M367.05 238.73h0.01M351.65 262.44h0.01M360.84 244.82h0.01M372.94 219.75h0.01M317.79 257.66h0.01M359.12 233.77h0.01M369.59 229.62h0.01M371.77 236.56h0.01M387.74 235.85h0.01M378.87 221.76h0.01M365.97 228.75h0.01M365.81 230.61h0.01M373.41 227.93h0.01M352.62 238.91h0.01M360.44 238.55h0.01M375.28 231.32h0.01M391.76 222.05h0.01M358.57 241.48h0.01M360.31 246.58h0.01M364.18 241.84h0.01M382.13 223.11h0.01M360.6 241.17h0.01M384.11 247.07h0.01M345.91 244.71h0.01M358.15 259.29h0.01M357.96 223.02h0.01M373.4 225.38h0.01M377.46 223.7h0.01M337.4 260.2h0.01M346.72 255.12h0.01M366.35 241.78h0.01M350.74 243.12h0.01M337.2 256.93h0.01M377.36 228.19h0.01M368.82 228.03h0.01M368.81 229.92h0.01M353.62 250.76h0.01M377.21 252.71h0.01M357.31 239.86h0.01M378.26 234.76h0.01M346.78 241.46h0.01M347.68 230.69h0.01M364.28 222.14h0.01M350.06 241.14h0.01M371.66 222.91h0.01M365.15 221.66h0.01M346.6 244.98h0.01M362.21 234.98h0.01M355.56 235.04h0.01M375.43 230.8h0.01M351.15 249h0.01M354.19 247.89h0.01M380.06 228.04h0.01M396.17 225.12h0.01M392.42 214.86h0.01M362.06 240.22h0.01M364.5 223.53h0.01M385.12 215.06h0.01M359.12 249.5h0.01M345.76 237.77h0.01M362.9 242.8h0.01M368.15 227.12h0.01M348.07 240.14h0.01M335.26 254.95h0.01M338.54 243.68h0.01M371.51 239.86h0.01M349.18 241.12h0.01M358.86 235.65h0.01M364.4 237.34h0.01M370.78 229.47h0.01M355.82 249.05h0.01M368.89 228.97h0.01M347.12 255.34h0.01M355.4 235.36h0.01M345.01 242.01h0.01M378.82 223.97h0.01M360.65 242.73h0.01M349.48 217.77h0.01M355.55 246.92h0.01M357.6 243.45h0.01M372.06 238.49h0.01M336.05 238.39h0.01M344.81 250.1h0.01M355.14 232.26h0.01M400.78 225.27h0.01M376.06 227.29h0.01M359.32 241.73h0.01M372.24 224.59h0.01M393.33 223.49h0.01M329.26 262.79h0.01M327.48 251.11h0.01M348.69 254.18h0.01M339.04 257.14h0.01M341.42 241.2h0.01M325.57 271.86h0.01M358.26 235.92h0.01M355.38 243.94h0.01M340.01 256.24h0.01M341.6 245.54h0.01M305.15 261.03h0.01M340.97 252.9h0.01M329.79 255.19h0.01M338.23 242.96h0.01M341.57 242.03h0.01M327.81 255.12h0.01M309.68 270.58h0.01M337.34 257.79h0.01M322.44 262.5h0.01M327.96 248.81h0.01M324.28 251.57h0.01M327.81 252.06h0.01M303.28 255.47h0.01M348.76 247.67h0.01M335.8 253.72h0.01M347.34 247.81h0.01M359.01 222.31h0.01M332.7 269.52h0.01M308.18 265.19h0.01M320.39 254.63h0.01M316.18 260.05h0.01M325.65 238.75h0.01M333.47 243.73h0.01M305.49 259.53h0.01M337 263.77h0.01M312.1 260.69h0.01M336.4 253.25h0.01M330.93 252.54h0.01M299.7 267.31h0.01M402.74 219.95h0.01M305.97 260.41h0.01" stroke="#000" stroke-width="1.55" stroke-linecap="round"/>
<line x1="299.7" y1="268.76" x2="402.74" y2="215.62" stroke="#3366ff" stroke-width="1.35"/>
<rect x="290.9" y="201.3" width="121.8" height="104" fill="none" stroke="#707070" stroke-width="0.9"/>
<rect x="365.9" y="276.2" width="28" height="12.9" fill="#fff" stroke="#7f7f7f" stroke-width="0.75" rx="1.3"/>
<text x="368.6" y="285.1" font-size="7.6" stroke="#333" stroke-width="0.1" fill="#333" transform="translate(368.6 285.1) scale(1 1.1) translate(-368.6 -285.1)">ρ</text>
<text x="374.3" y="285.1" font-size="7.6" stroke="#333" stroke-width="0.1" fill="#333" transform="translate(374.3 285.1) scale(1 1.1) translate(-374.3 -285.1)">:</text>
<text x="391.3" y="285.1" font-size="7.5" stroke="#333" stroke-width="0.1" text-anchor="end" fill="#333" transform="translate(391.3 285.1) scale(1 1.1) translate(-391.3 -285.1)">0.66</text>
<rect x="290.9" y="310.6" width="121.8" height="104.3" fill="#fff"/>
<line x1="287.6" y1="310.6" x2="287.6" y2="414.9" stroke="#f3f3f3" stroke-width="0.45"/>
<line x1="310" y1="310.6" x2="310" y2="414.9" stroke="#f3f3f3" stroke-width="0.45"/>
<line x1="332.4" y1="310.6" x2="332.4" y2="414.9" stroke="#f3f3f3" stroke-width="0.45"/>
<line x1="354.8" y1="310.6" x2="354.8" y2="414.9" stroke="#f3f3f3" stroke-width="0.45"/>
<line x1="377.2" y1="310.6" x2="377.2" y2="414.9" stroke="#f3f3f3" stroke-width="0.45"/>
<line x1="399.6" y1="310.6" x2="399.6" y2="414.9" stroke="#f3f3f3" stroke-width="0.45"/>
<line x1="290.9" y1="404.48" x2="412.7" y2="404.48" stroke="#f3f3f3" stroke-width="0.45"/>
<line x1="290.9" y1="383.93" x2="412.7" y2="383.93" stroke="#f3f3f3" stroke-width="0.45"/>
<line x1="290.9" y1="363.38" x2="412.7" y2="363.38" stroke="#f3f3f3" stroke-width="0.45"/>
<line x1="290.9" y1="342.83" x2="412.7" y2="342.83" stroke="#f3f3f3" stroke-width="0.45"/>
<line x1="290.9" y1="322.28" x2="412.7" y2="322.28" stroke="#f3f3f3" stroke-width="0.45"/>
<line x1="298.8" y1="310.6" x2="298.8" y2="414.9" stroke="#e8e8e8" stroke-width="0.7"/>
<line x1="321.2" y1="310.6" x2="321.2" y2="414.9" stroke="#e8e8e8" stroke-width="0.7"/>
<line x1="343.6" y1="310.6" x2="343.6" y2="414.9" stroke="#e8e8e8" stroke-width="0.7"/>
<line x1="366" y1="310.6" x2="366" y2="414.9" stroke="#e8e8e8" stroke-width="0.7"/>
<line x1="388.4" y1="310.6" x2="388.4" y2="414.9" stroke="#e8e8e8" stroke-width="0.7"/>
<line x1="410.8" y1="310.6" x2="410.8" y2="414.9" stroke="#e8e8e8" stroke-width="0.7"/>
<line x1="290.9" y1="414.75" x2="412.7" y2="414.75" stroke="#e8e8e8" stroke-width="0.7"/>
<line x1="290.9" y1="394.2" x2="412.7" y2="394.2" stroke="#e8e8e8" stroke-width="0.7"/>
<line x1="290.9" y1="373.65" x2="412.7" y2="373.65" stroke="#e8e8e8" stroke-width="0.7"/>
<line x1="290.9" y1="353.1" x2="412.7" y2="353.1" stroke="#e8e8e8" stroke-width="0.7"/>
<line x1="290.9" y1="332.55" x2="412.7" y2="332.55" stroke="#e8e8e8" stroke-width="0.7"/>
<line x1="290.9" y1="312" x2="412.7" y2="312" stroke="#e8e8e8" stroke-width="0.7"/>
<path d="M296.11 365.9 L299.96 364.75 L303.81 363.6 L307.65 362.44 L311.5 361.28 L315.35 360.12 L319.19 358.94 L323.04 357.76 L326.88 356.57 L330.73 355.35 L334.58 354.12 L338.42 352.86 L342.27 351.56 L346.12 350.22 L349.96 348.84 L353.81 347.41 L357.66 345.95 L361.5 344.46 L365.35 342.95 L369.2 341.43 L373.04 339.9 L376.89 338.35 L380.74 336.8 L384.58 335.24 L388.43 333.68 L392.28 332.12 L396.12 330.56 L399.97 328.99 L403.82 327.42 L407.66 325.85 L407.66 333.42 L403.82 334.56 L399.97 335.71 L396.12 336.85 L392.28 338 L388.43 339.16 L384.58 340.31 L380.74 341.47 L376.89 342.64 L373.04 343.81 L369.2 344.99 L365.35 346.18 L361.5 347.39 L357.66 348.61 L353.81 349.87 L349.96 351.16 L346.12 352.49 L342.27 353.87 L338.42 355.28 L334.58 356.74 L330.73 358.22 L326.88 359.72 L323.04 361.24 L319.19 362.78 L315.35 364.32 L311.5 365.87 L307.65 367.42 L303.81 368.98 L299.96 370.54 L296.11 372.11Z" fill="#999999" fill-opacity="0.4"/>
<path d="M338.76 358.99h0.01M343.5 340.26h0.01M334.3 358.04h0.01M332.87 368.07h0.01M311.77 375.13h0.01M344.36 351.69h0.01M381.32 333.9h0.01M383.98 325.24h0.01M371 344.25h0.01M358.86 351.11h0.01M331.61 342.67h0.01M373.38 346.4h0.01M343.84 339.78h0.01M343.59 353.03h0.01M339.2 351.95h0.01M346.76 354.74h0.01M336.37 352.44h0.01M343.29 356.56h0.01M323.56 365.38h0.01M337.58 355.73h0.01M389.9 341.71h0.01M343.57 349.83h0.01M340.24 358.34h0.01M355.44 350.53h0.01M358.9 348.76h0.01M322.99 363.89h0.01M340.86 338.4h0.01M363.05 345.66h0.01M350.26 355.22h0.01M347.35 354.39h0.01M375.58 335.44h0.01M331.58 358.41h0.01M346.58 352.69h0.01M334.69 358.68h0.01M374.32 340.18h0.01M306.47 362.18h0.01M331.73 352.8h0.01M334.51 369.77h0.01M358.02 356.56h0.01M356.89 372.38h0.01M372.45 335.35h0.01M313.92 353.36h0.01M359.74 335.54h0.01M339.16 359.13h0.01M331.82 346.7h0.01M355.58 348.54h0.01M326.81 359.42h0.01M304 385.85h0.01M337.65 363.34h0.01M315.42 367.5h0.01M332.15 348.57h0.01M352.27 335.08h0.01M351.09 353.85h0.01M376.22 337.72h0.01M341.01 352.09h0.01M314.72 370.75h0.01M330.04 372.09h0.01M326.82 365.43h0.01M320.94 372.85h0.01M353.53 351.68h0.01M332.23 357.69h0.01M305.97 367.3h0.01M358.68 351.83h0.01M342.75 348.6h0.01M351.98 357.54h0.01M347.03 343.6h0.01M357.4 366.56h0.01M345.69 351.19h0.01M369.31 343.59h0.01M353.32 355.86h0.01M352.67 363.01h0.01M353.02 348.62h0.01M316.23 367.94h0.01M341.7 346.41h0.01M339.83 350.32h0.01M349.04 353.09h0.01M318.16 361.47h0.01M377.16 332.13h0.01M347 348.04h0.01M321.07 368.47h0.01M311.26 362.45h0.01M339.4 361.13h0.01M343.18 356.49h0.01M330.79 358.8h0.01M346.76 352.63h0.01M332.31 357.49h0.01M355.82 360.78h0.01M330.66 372.08h0.01M344.19 342.59h0.01M364.24 351.13h0.01M395.64 334.32h0.01M325.08 373.13h0.01M335.79 353.88h0.01M328.39 364.96h0.01M360.4 321.04h0.01M322.31 372.24h0.01M335.4 363.67h0.01M344.36 347.59h0.01M325.65 349.05h0.01M326.07 376.77h0.01M335.57 362.5h0.01M303.54 359.08h0.01M316.45 372.58h0.01M336.8 352.31h0.01M347.87 358.27h0.01M341.28 361.88h0.01M309.98 367.37h0.01M335.8 368.01h0.01M360.68 358.39h0.01M355.9 328.94h0.01M343.39 356.47h0.01M327.45 364.6h0.01M357.39 340.3h0.01M333.53 356.67h0.01M321.9 348.71h0.01M329.13 359.89h0.01M373.49 338.93h0.01M349.28 349.69h0.01M367.8 342.52h0.01M335.5 357.14h0.01M363.44 352.49h0.01M333.09 341.83h0.01M341.84 361.21h0.01M393.95 340.92h0.01M360.07 350.36h0.01M335.06 350.62h0.01M343.27 349.17h0.01M351.37 341.74h0.01M368.8 355.08h0.01M335.3 353.2h0.01M310.62 365.65h0.01M339.43 356.42h0.01M345.25 350.51h0.01M347.1 368.12h0.01M370.9 340.52h0.01M351.19 348.58h0.01M360.97 358.59h0.01M323.24 360.5h0.01M362.05 332.72h0.01M386.26 340.76h0.01M360.18 341.57h0.01M349.94 352.19h0.01M347.98 359.56h0.01M380.17 347.46h0.01M326.67 361.87h0.01M342.75 342.22h0.01M354.02 341.83h0.01M359.61 352.88h0.01M336.32 346.52h0.01M351 350.97h0.01M339.47 359.86h0.01M347.32 350.14h0.01M342.34 360.73h0.01M322.44 373.38h0.01M344.53 341.1h0.01M362.23 361.53h0.01M325.88 354.16h0.01M340.19 366.72h0.01M358.05 347.64h0.01M323.85 361.15h0.01M348.54 354.5h0.01M324.05 380.66h0.01M367.31 345.05h0.01M390.53 336.23h0.01M384.81 345.6h0.01M340.62 356.34h0.01M359.53 339.23h0.01M347.33 357.29h0.01M346.96 349.1h0.01M375.45 351.05h0.01M318.94 357.92h0.01M365.75 342h0.01M343.98 331.18h0.01M372.71 334.48h0.01M348.63 347h0.01M331.68 349.21h0.01M350.41 358.54h0.01M359.45 337.73h0.01M345.65 356.38h0.01M354.56 357.21h0.01M334.66 346.28h0.01M302.88 369.04h0.01M362.69 334.43h0.01M358.73 367.23h0.01M347.86 349.69h0.01M346.29 355.97h0.01M365.37 347.06h0.01M335.93 371.38h0.01M331.02 348.91h0.01M341.23 354.41h0.01M368.38 352.07h0.01M317.6 373.06h0.01M368.44 351.06h0.01M332.34 344.51h0.01M323.25 360.46h0.01M369.78 346.01h0.01M343.03 354.84h0.01M319.31 360.88h0.01M337.87 352.46h0.01M363.3 339.13h0.01M368.44 340.81h0.01M336.53 347.43h0.01M352.95 359.21h0.01M359.02 346.4h0.01M332.24 359.4h0.01M351.94 348.52h0.01M344.32 352.45h0.01M334.38 361.01h0.01M335.24 364.67h0.01M346.27 343.38h0.01M345.53 356.89h0.01M333.8 366.35h0.01M336.55 349.79h0.01M366.89 335.93h0.01M349.16 352.65h0.01M362.39 344.61h0.01M368.63 350.58h0.01M356.55 349.46h0.01M389.71 326.67h0.01M328.68 350.78h0.01M360.88 344.95h0.01M338.67 356.36h0.01M381.53 352.69h0.01M378.46 337.31h0.01M306.42 361.65h0.01M325.85 349.63h0.01M358.04 330.13h0.01M360.51 343.12h0.01M359.46 339.47h0.01M296.11 378.76h0.01M407.66 319.46h0.01" stroke="#000" stroke-width="1.55" stroke-linecap="round"/>
<line x1="296.11" y1="369.01" x2="407.66" y2="329.63" stroke="#3366ff" stroke-width="1.35"/>
<rect x="290.9" y="310.6" width="121.8" height="104.3" fill="none" stroke="#707070" stroke-width="0.9"/>
<rect x="365.9" y="379.5" width="28" height="12.9" fill="#fff" stroke="#7f7f7f" stroke-width="0.75" rx="1.3"/>
<text x="368.6" y="388.4" font-size="7.6" stroke="#333" stroke-width="0.1" fill="#333" transform="translate(368.6 388.4) scale(1 1.1) translate(-368.6 -388.4)">ρ</text>
<text x="374.3" y="388.4" font-size="7.6" stroke="#333" stroke-width="0.1" fill="#333" transform="translate(374.3 388.4) scale(1 1.1) translate(-374.3 -388.4)">:</text>
<text x="391.3" y="388.4" font-size="7.5" stroke="#333" stroke-width="0.1" text-anchor="end" fill="#333" transform="translate(391.3 388.4) scale(1 1.1) translate(-391.3 -388.4)">0.67</text>
<line x1="298.8" y1="414.9" x2="298.8" y2="417.5" stroke="#4a4a4a" stroke-width="1.1"/>
<text x="298.8" y="424.96" font-size="7.3" stroke="#444444" stroke-width="0.22" text-anchor="middle" fill="#444444" transform="translate(298.8 424.96) scale(1 1.1) translate(-298.8 -424.96)">-10</text>
<line x1="321.2" y1="414.9" x2="321.2" y2="417.5" stroke="#4a4a4a" stroke-width="1.1"/>
<text x="321.2" y="424.96" font-size="7.3" stroke="#444444" stroke-width="0.22" text-anchor="middle" fill="#444444" transform="translate(321.2 424.96) scale(1 1.1) translate(-321.2 -424.96)">-5</text>
<line x1="343.6" y1="414.9" x2="343.6" y2="417.5" stroke="#4a4a4a" stroke-width="1.1"/>
<text x="343.6" y="424.96" font-size="7.3" stroke="#444444" stroke-width="0.22" text-anchor="middle" fill="#444444" transform="translate(343.6 424.96) scale(1 1.1) translate(-343.6 -424.96)">0</text>
<line x1="366" y1="414.9" x2="366" y2="417.5" stroke="#4a4a4a" stroke-width="1.1"/>
<text x="366" y="424.96" font-size="7.3" stroke="#444444" stroke-width="0.22" text-anchor="middle" fill="#444444" transform="translate(366 424.96) scale(1 1.1) translate(-366 -424.96)">5</text>
<line x1="388.4" y1="414.9" x2="388.4" y2="417.5" stroke="#4a4a4a" stroke-width="1.1"/>
<text x="388.4" y="424.96" font-size="7.3" stroke="#444444" stroke-width="0.22" text-anchor="middle" fill="#444444" transform="translate(388.4 424.96) scale(1 1.1) translate(-388.4 -424.96)">10</text>
<line x1="410.8" y1="414.9" x2="410.8" y2="417.5" stroke="#4a4a4a" stroke-width="1.1"/>
<text x="410.8" y="424.96" font-size="7.3" stroke="#444444" stroke-width="0.22" text-anchor="middle" fill="#444444" transform="translate(410.8 424.96) scale(1 1.1) translate(-410.8 -424.96)">15</text>
<rect x="418.15" y="186.7" width="121.8" height="14.6" fill="#d9d9d9" stroke="#707070" stroke-width="0.9"/>
<text x="479.05" y="196.66" font-size="7.6" stroke="#1a1a1a" stroke-width="0.05" text-anchor="middle" fill="#1a1a1a" transform="translate(479.05 196.66) scale(1 1.1) translate(-479.05 -196.66)">CCND3</text>
<rect x="418.15" y="201.3" width="121.8" height="104" fill="#fff"/>
<line x1="414.85" y1="201.3" x2="414.85" y2="305.3" stroke="#f3f3f3" stroke-width="0.45"/>
<line x1="437.25" y1="201.3" x2="437.25" y2="305.3" stroke="#f3f3f3" stroke-width="0.45"/>
<line x1="459.65" y1="201.3" x2="459.65" y2="305.3" stroke="#f3f3f3" stroke-width="0.45"/>
<line x1="482.05" y1="201.3" x2="482.05" y2="305.3" stroke="#f3f3f3" stroke-width="0.45"/>
<line x1="504.45" y1="201.3" x2="504.45" y2="305.3" stroke="#f3f3f3" stroke-width="0.45"/>
<line x1="526.85" y1="201.3" x2="526.85" y2="305.3" stroke="#f3f3f3" stroke-width="0.45"/>
<line x1="418.15" y1="284.45" x2="539.95" y2="284.45" stroke="#f3f3f3" stroke-width="0.45"/>
<line x1="418.15" y1="256.42" x2="539.95" y2="256.42" stroke="#f3f3f3" stroke-width="0.45"/>
<line x1="418.15" y1="228.38" x2="539.95" y2="228.38" stroke="#f3f3f3" stroke-width="0.45"/>
<line x1="426.05" y1="201.3" x2="426.05" y2="305.3" stroke="#e8e8e8" stroke-width="0.7"/>
<line x1="448.45" y1="201.3" x2="448.45" y2="305.3" stroke="#e8e8e8" stroke-width="0.7"/>
<line x1="470.85" y1="201.3" x2="470.85" y2="305.3" stroke="#e8e8e8" stroke-width="0.7"/>
<line x1="493.25" y1="201.3" x2="493.25" y2="305.3" stroke="#e8e8e8" stroke-width="0.7"/>
<line x1="515.65" y1="201.3" x2="515.65" y2="305.3" stroke="#e8e8e8" stroke-width="0.7"/>
<line x1="538.05" y1="201.3" x2="538.05" y2="305.3" stroke="#e8e8e8" stroke-width="0.7"/>
<line x1="418.15" y1="298.47" x2="539.95" y2="298.47" stroke="#e8e8e8" stroke-width="0.7"/>
<line x1="418.15" y1="270.44" x2="539.95" y2="270.44" stroke="#e8e8e8" stroke-width="0.7"/>
<line x1="418.15" y1="242.4" x2="539.95" y2="242.4" stroke="#e8e8e8" stroke-width="0.7"/>
<line x1="418.15" y1="214.37" x2="539.95" y2="214.37" stroke="#e8e8e8" stroke-width="0.7"/>
<path d="M426.95 246.21 L430.5 245.94 L434.05 245.67 L437.61 245.4 L441.16 245.13 L444.71 244.86 L448.26 244.59 L451.82 244.31 L455.37 244.04 L458.92 243.77 L462.48 243.49 L466.03 243.21 L469.58 242.92 L473.14 242.63 L476.69 242.33 L480.24 242.02 L483.8 241.69 L487.35 241.35 L490.9 240.99 L494.45 240.62 L498.01 240.24 L501.56 239.85 L505.11 239.45 L508.67 239.05 L512.22 238.65 L515.77 238.24 L519.33 237.84 L522.88 237.43 L526.43 237.02 L529.99 236.61 L529.99 238.61 L526.43 238.88 L522.88 239.15 L519.33 239.42 L515.77 239.69 L512.22 239.97 L508.67 240.25 L505.11 240.53 L501.56 240.81 L498.01 241.1 L494.45 241.4 L490.9 241.71 L487.35 242.03 L483.8 242.37 L480.24 242.72 L476.69 243.09 L473.14 243.47 L469.58 243.86 L466.03 244.25 L462.48 244.65 L458.92 245.05 L455.37 245.46 L451.82 245.86 L448.26 246.27 L444.71 246.68 L441.16 247.09 L437.61 247.5 L434.05 247.91 L430.5 248.32 L426.95 248.73Z" fill="#999999" fill-opacity="0.4"/>
<path d="M488.34 243.13h0.01M493.01 238.56h0.01M484.02 247.16h0.01M474.36 241.07h0.01M481.19 241.33h0.01M472.77 239.13h0.01M489.27 236.97h0.01M509.34 233.41h0.01M480.6 239h0.01M478.59 238.98h0.01M496 241.25h0.01M493.92 238h0.01M489.97 245.15h0.01M473.73 247.95h0.01M487.86 237.75h0.01M499.22 240.99h0.01M467.24 241.12h0.01M481.15 246.71h0.01M458.51 238.71h0.01M468.1 245.75h0.01M459.44 242.1h0.01M484.64 241.62h0.01M468.45 242.46h0.01M492.58 243.71h0.01M490.78 245.53h0.01M485.39 250.18h0.01M448.86 246.35h0.01M479.88 249.06h0.01M487.56 238.77h0.01M490.1 236.94h0.01M464.33 253.71h0.01M480.83 247.82h0.01M472.98 241.2h0.01M475.64 236.68h0.01M504.96 241.91h0.01M475.66 241.01h0.01M487.81 238.88h0.01M502.19 237.18h0.01M479.17 234.46h0.01M486.57 238.5h0.01M490.05 246.72h0.01M489.32 243.24h0.01M469.11 242.97h0.01M489.52 247.06h0.01M509.63 240.33h0.01M464.06 246.13h0.01M501.8 243.11h0.01M490.19 237.78h0.01M478.26 243.92h0.01M519.69 243.2h0.01M500.27 244.71h0.01M469.52 242.79h0.01M489.49 231.3h0.01M497.36 239.63h0.01M485.36 234.59h0.01M499.03 237.85h0.01M487.28 251.19h0.01M498.78 238.41h0.01M510.88 246.23h0.01M477.73 248.49h0.01M491.51 245.84h0.01M481.06 233.59h0.01M490.32 253.43h0.01M469.71 245.81h0.01M479.24 236.68h0.01M485.25 241.85h0.01M502.41 247.73h0.01M506.28 239.96h0.01M467.57 247.02h0.01M475.86 243.26h0.01M498.47 238.58h0.01M457.08 247.66h0.01M481.06 243.34h0.01M486.8 235.94h0.01M508.03 247.81h0.01M499.13 241.86h0.01M483.19 239.49h0.01M482.54 247.49h0.01M484.4 245.92h0.01M512.21 253.71h0.01M481.61 241.09h0.01M483.56 246.68h0.01M493.85 237h0.01M486.43 236.63h0.01M485.23 241.75h0.01M470.85 244.6h0.01M488.14 239.99h0.01M481.37 241.57h0.01M506.61 245.06h0.01M498.56 235.23h0.01M487.94 240.17h0.01M498.8 236.52h0.01M482.99 248h0.01M504.82 235.54h0.01M488.24 233.84h0.01M497.47 237.45h0.01M468.08 249.84h0.01M493.76 240.49h0.01M461.85 243.99h0.01M456.41 245.61h0.01M483.55 242.72h0.01M474.21 240.24h0.01M490.89 243.09h0.01M523.52 236.75h0.01M475.28 245.63h0.01M478.54 243.09h0.01M491.54 236.26h0.01M496.05 242.72h0.01M485.56 238.36h0.01M485.09 245.61h0.01M499.34 243.29h0.01M496.47 242.55h0.01M472.11 236.96h0.01M487.08 244.86h0.01M488.88 235.49h0.01M471.79 249.57h0.01M492.4 243.19h0.01M474.87 238.25h0.01M503.56 236.51h0.01M491.34 245.59h0.01M489.72 246.74h0.01M479.05 238.01h0.01M486.46 248.86h0.01M457 241.51h0.01M470.58 245.32h0.01M494.01 240.71h0.01M454.95 237.07h0.01M501.6 234.14h0.01M460.94 239.92h0.01M500.19 246.46h0.01M475.06 240.99h0.01M500.54 239.79h0.01M490.38 241.48h0.01M464.22 237.3h0.01M507.91 247.32h0.01M510.93 241.21h0.01M487.29 240.72h0.01M484.03 245.11h0.01M485.82 233.43h0.01M473.03 248.57h0.01M505.55 240.1h0.01M479.81 241.66h0.01M487.52 251.48h0.01M475.88 249.06h0.01M478.51 246.66h0.01M468.29 239.47h0.01M508.03 234.94h0.01M485.91 238.69h0.01M503.47 238.65h0.01M488.53 251.43h0.01M477.43 245.37h0.01M483.2 244.1h0.01M479.54 236.62h0.01M488.45 236.28h0.01M482.44 231.38h0.01M483.62 238.38h0.01M466.71 240.16h0.01M475.67 251.39h0.01M514.26 238.38h0.01M477.8 247.99h0.01M471.79 239.46h0.01M493.61 246.28h0.01M510.39 240.12h0.01M465.52 247.23h0.01M485.05 244.98h0.01M478.41 240.05h0.01M460.71 246.5h0.01M499.85 239.11h0.01M487.95 245.95h0.01M489.44 234.63h0.01M476.53 245.37h0.01M495.45 235.84h0.01M479.87 232.09h0.01M486.08 252.81h0.01M470.94 247.53h0.01M469.25 244.03h0.01M509.26 233.79h0.01M480.37 244.27h0.01M492.9 239.04h0.01M487.79 244.7h0.01M481.4 240.25h0.01M480.36 247.67h0.01M498.2 236.71h0.01M483.59 258.35h0.01M485.95 250.31h0.01M488.67 233.2h0.01M506.77 238.69h0.01M498.99 244.42h0.01M494.32 230.39h0.01M479.49 237.19h0.01M466.65 238.06h0.01M503.21 243.35h0.01M503.48 236.9h0.01M486.12 239.1h0.01M496.82 248.2h0.01M500.58 237.31h0.01M501.35 240.88h0.01M502.77 233.86h0.01M481.18 235.83h0.01M512.08 242.31h0.01M468.78 246.78h0.01M501.83 242.95h0.01M496.07 237.46h0.01M502.02 241.88h0.01M517.78 238.99h0.01M511.6 239.44h0.01M470.37 242.14h0.01M461.84 238.35h0.01M501.13 238.93h0.01M472.41 246.96h0.01M488.13 249.57h0.01M501.49 236.21h0.01M462.55 245.31h0.01M455.24 246.07h0.01M492.39 244.49h0.01M489.02 248.59h0.01M484.47 243.48h0.01M488.93 254.89h0.01M474.83 244.46h0.01M464.59 247.76h0.01M485.71 232.89h0.01M473.09 240.64h0.01M462.55 246.18h0.01M496.25 241.86h0.01M487.36 237.95h0.01M494.7 246.79h0.01M472.81 243.85h0.01M478 243.94h0.01M472.66 231.09h0.01M474.42 242.28h0.01M491.39 250.29h0.01M476.04 238.71h0.01M493.91 231.28h0.01M493.65 245.84h0.01M520.08 221.85h0.01M466.48 244.28h0.01M502.24 236.69h0.01M486.92 246.78h0.01M488.1 242.59h0.01M465.59 251.31h0.01M481.11 246.97h0.01M499.98 250.3h0.01M487.03 236.02h0.01M489.59 246.6h0.01M483.76 239.99h0.01M506.43 239.09h0.01M487.99 248.61h0.01M453.82 248.07h0.01M477.47 242.79h0.01M457.45 247.43h0.01M437.34 245.95h0.01M480.01 243.19h0.01M509.23 244.13h0.01M489.06 247.37h0.01M469.94 247.08h0.01M473.57 242.15h0.01M506.05 233.07h0.01M490.79 237.65h0.01M489.07 240.06h0.01M487.48 236.91h0.01M488.92 240.68h0.01M500.95 236.96h0.01M496.99 242.73h0.01M491.7 239.13h0.01M471.97 244.86h0.01M496.34 240.58h0.01M477.59 233.35h0.01M505.47 247.4h0.01M468.39 243.22h0.01M486.16 244.34h0.01M488.21 239.09h0.01M467.55 234.7h0.01M515.32 240.22h0.01M511.22 252.3h0.01M481.05 239.1h0.01M500.42 237.29h0.01M494.26 248.76h0.01M447.34 246.4h0.01M492.25 241.28h0.01M487.36 255.78h0.01M489.63 239.92h0.01M471.44 240.86h0.01M484.1 240.6h0.01M485.53 246.65h0.01M506.95 246.11h0.01M493.57 243.85h0.01M488.23 241.32h0.01M512.3 243.73h0.01M479.62 235.21h0.01M482.22 240.13h0.01M459.84 254.45h0.01M512.93 230.97h0.01M503.44 239.15h0.01M502.7 244.52h0.01M498.81 239.86h0.01M490.05 249.89h0.01M491.7 240.13h0.01M484.37 253.46h0.01M485.13 246.54h0.01M489.17 236.81h0.01M512.03 233.07h0.01M497.04 242.16h0.01M487.41 246.07h0.01M479.24 237.78h0.01M478.37 242.56h0.01M513.45 237.95h0.01M496.27 237.62h0.01M489.38 246.41h0.01M482.89 238.1h0.01M470.93 254.88h0.01M487.27 234.49h0.01M502.02 247.57h0.01M482.17 244.97h0.01M484.76 244.92h0.01M484.86 238.23h0.01M490.04 237.65h0.01M463.34 242.06h0.01M484.63 239.15h0.01M474.93 240.81h0.01M502.19 240.42h0.01M476.24 251.7h0.01M497.37 252.43h0.01M512.23 253.37h0.01M483.4 243.08h0.01M478.89 243.4h0.01M491.32 241.79h0.01M488.29 242.22h0.01M472.74 244.03h0.01M495.55 246.65h0.01M519.93 245.59h0.01M484.27 252.94h0.01M485.14 235.89h0.01M471.94 239.49h0.01M493.33 247.43h0.01M468.77 244.61h0.01M470.97 240.97h0.01M508.39 231.86h0.01M474.12 249.39h0.01M505.28 238.97h0.01M512.22 233.59h0.01M492.39 249.38h0.01M497 244.12h0.01M518.93 238.69h0.01M485.24 245.19h0.01M479.02 232.18h0.01M467.1 239.3h0.01M488.98 241.46h0.01M511.51 243.83h0.01M503.37 235.84h0.01M473.55 241.78h0.01M474.91 245.2h0.01M480.42 244.29h0.01M492.9 248.03h0.01M485.1 242.85h0.01M491.68 237.71h0.01M492.97 239.87h0.01M483.64 239.12h0.01M487.69 237.55h0.01M491.56 243.97h0.01M487.01 244.88h0.01M496.22 234.92h0.01M517.66 236.49h0.01M497.6 244.39h0.01M489.2 243.17h0.01M461.88 240h0.01M494.41 238.41h0.01M457.8 245.53h0.01M466.23 246.32h0.01M501.72 238.71h0.01M499.4 234.52h0.01M485.97 240.99h0.01M461.51 247.24h0.01M482.5 240.4h0.01M477.68 249.81h0.01M498.31 239.42h0.01M523.72 240.79h0.01M491.72 236.55h0.01M476.1 242.15h0.01M469.97 238.2h0.01M487.44 230.53h0.01M485.55 242.79h0.01M470.27 247.21h0.01M490.15 239.1h0.01M470.28 243.63h0.01M505.76 239.13h0.01M504.98 242.77h0.01M505.33 237.19h0.01M480.89 241.86h0.01M496.39 251.06h0.01M486.25 243.04h0.01M482.23 240.92h0.01M483 236.35h0.01M467.94 246.2h0.01M465.68 247.49h0.01M500.78 234.8h0.01M485.32 244.69h0.01M491.72 240.66h0.01M504.03 239.62h0.01M461.15 240.56h0.01M476.03 242.63h0.01M491.07 246.55h0.01M494.47 239.25h0.01M482.41 244.13h0.01M504.46 242.44h0.01M491.62 231.59h0.01M469.3 239.11h0.01M473.73 247.96h0.01M500.95 242.59h0.01M495.59 241.97h0.01M458.54 247.93h0.01M509.45 249.85h0.01M497.7 236.77h0.01M509.39 237.79h0.01M482.31 240.91h0.01M483.69 243.86h0.01M470.66 243.08h0.01M528.1 235.62h0.01M485.57 246.74h0.01M513.21 242.85h0.01M478.17 245.14h0.01M490.89 238.5h0.01M462.12 242.76h0.01M482.32 248.28h0.01M503.75 243.64h0.01M468.69 234.96h0.01M505.13 244.53h0.01M493.61 243.07h0.01M471.95 246.08h0.01M480.46 236.31h0.01M481.12 242.51h0.01M487.55 243.67h0.01M479.92 247.92h0.01M475.35 243.92h0.01M483.55 238.02h0.01M472.22 239.85h0.01M468.1 253.01h0.01M487.57 234.16h0.01M502.17 241.91h0.01M464.34 249.63h0.01M488.38 240.91h0.01M478.13 245.46h0.01M473 246.22h0.01M501.7 243.26h0.01M480.2 242.74h0.01M511.82 241.66h0.01M476.09 250.84h0.01M494.38 238.47h0.01M484.76 248.03h0.01M476.5 236.97h0.01M497.54 238.11h0.01M485.89 238.83h0.01M497.78 239.77h0.01M487.58 235.44h0.01M471.3 244.73h0.01M486.72 246.42h0.01M489.14 239.82h0.01M503.35 253.13h0.01M474.11 244.66h0.01M487.71 241.63h0.01M461.32 247.38h0.01M498.54 234.59h0.01M471.36 239.83h0.01M460 243.72h0.01M487.39 243.54h0.01M505.66 234.68h0.01M464.42 247.06h0.01M471.26 245.56h0.01M476.67 239.12h0.01M470.61 240.42h0.01M494.27 231.31h0.01M475.66 243.79h0.01M477.01 251.57h0.01M497.47 237.55h0.01M476.48 236.72h0.01M495.11 241.69h0.01M473.09 235.61h0.01M469.32 234.92h0.01M459.54 247.48h0.01M517.51 241.05h0.01M483.3 247.99h0.01M492.15 240.33h0.01M487.84 238.2h0.01M490.83 238.67h0.01M489.1 247.35h0.01M518.24 242.33h0.01M472.03 249.92h0.01M463.9 252.17h0.01M472.45 249.48h0.01M467.39 251.08h0.01M500.03 241.32h0.01M501.19 238.33h0.01M473.25 240.05h0.01M466.52 243.76h0.01M482.76 245.3h0.01M510.13 241.61h0.01M444.11 243.11h0.01M496.58 242.19h0.01M471.45 242.94h0.01M504.63 241.47h0.01M471.42 245.69h0.01M483.85 241.85h0.01M464.7 249.14h0.01M473 240.02h0.01M510.05 246.91h0.01M501.19 238.17h0.01M482.02 248.65h0.01M474.68 235.74h0.01M458.63 240.31h0.01M482.15 246.03h0.01M487.84 243.77h0.01M487 247.06h0.01M486.85 242.01h0.01M470.73 241.33h0.01M487.28 229.95h0.01M487.72 248.12h0.01M508.56 233.86h0.01M517.59 241.96h0.01M486.17 240.5h0.01M476.31 240.84h0.01M487.3 239.12h0.01M478.79 242.85h0.01M476.68 243.64h0.01M487.4 241.72h0.01M471.96 242.44h0.01M497.83 235.01h0.01M486.69 248.94h0.01M492.24 243.55h0.01M485.45 247.77h0.01M476.92 247.61h0.01M473.46 246.79h0.01M484.6 236.76h0.01M479.72 232.33h0.01M491.99 234.84h0.01M488.25 247.21h0.01M466.96 243.28h0.01M489.37 246.86h0.01M467.27 241.7h0.01M478.66 236.51h0.01M483.71 239.26h0.01M455.78 240.59h0.01M489.76 242.16h0.01M490.69 250.68h0.01M485.84 252.28h0.01M481.67 242.7h0.01M482.46 239.81h0.01M473.01 237.06h0.01M484.09 243.65h0.01M479.66 242.07h0.01M489.76 241.15h0.01M469.44 239.92h0.01M492.02 241.57h0.01M490.57 249.68h0.01M486.1 239.16h0.01M481.44 240.31h0.01M496.98 239.9h0.01M462.22 250.1h0.01M495.54 240.94h0.01M492.13 249.35h0.01M492.77 250.65h0.01M494.33 242.14h0.01M478.07 244.63h0.01M484.25 239.31h0.01M498.31 236.21h0.01M495.07 241.11h0.01M491.56 232.84h0.01M464.58 246.65h0.01M496.76 238.04h0.01M506.66 245.83h0.01M504.15 240.08h0.01M491.99 242.74h0.01M463.9 244.92h0.01M503.1 237.4h0.01M486.01 250.72h0.01M448.61 245.49h0.01M494.24 244.87h0.01M464.92 243.71h0.01M467.99 241.69h0.01M478.37 246.22h0.01M508.28 241.45h0.01M482.51 247.6h0.01M492.57 238.6h0.01M515.73 242.15h0.01M513.32 237.11h0.01M486.7 248.48h0.01M484.53 235.5h0.01M468.55 248.31h0.01M477.43 237.18h0.01M494.99 243.07h0.01M494.53 241.1h0.01M490.05 244.69h0.01M503.92 236.9h0.01M476.21 242.73h0.01M487.44 237.16h0.01M499.79 237.33h0.01M497.48 241.7h0.01M505.11 232.11h0.01M494.55 244.29h0.01M483.47 235.92h0.01M494 240.72h0.01M472.6 250.08h0.01M462.62 241.8h0.01M497.43 241.69h0.01M487.46 233.72h0.01M493.16 243.45h0.01M461.7 243.91h0.01M482.6 243.11h0.01M478.92 252.44h0.01M474.77 240.5h0.01M452.96 249.67h0.01M483.07 238.22h0.01M502.39 236.95h0.01M494.3 241.06h0.01M478.9 249.97h0.01M488.09 240.76h0.01M500.19 241.55h0.01M445.04 243.79h0.01M486.37 243.18h0.01M496.84 247.78h0.01M499.02 241.24h0.01M514.99 243.41h0.01M506.12 231.54h0.01M493.22 244.46h0.01M493.06 244.22h0.01M500.66 243.33h0.01M479.87 248.25h0.01M487.69 243.76h0.01M502.53 240.87h0.01M519.01 240.96h0.01M485.82 244.75h0.01M487.56 235.82h0.01M491.43 241.06h0.01M509.38 246.75h0.01M487.85 243.67h0.01M511.36 235.87h0.01M473.16 246.11h0.01M485.4 241.49h0.01M485.21 242.03h0.01M500.65 239.54h0.01M504.71 240.87h0.01M464.65 244.53h0.01M473.97 249.01h0.01M493.6 239.4h0.01M477.99 246.96h0.01M464.45 238.17h0.01M504.61 240.13h0.01M496.07 241.91h0.01M496.06 237.14h0.01M480.87 242.73h0.01M504.46 239.64h0.01M484.56 242.2h0.01M505.51 243.37h0.01M474.03 249.53h0.01M474.93 247.51h0.01M491.53 235.96h0.01M477.31 245.61h0.01M498.91 242.49h0.01M492.4 243.32h0.01M473.85 239.69h0.01M489.46 232.15h0.01M482.81 247.79h0.01M502.68 237.64h0.01M478.4 241.98h0.01M481.44 243.68h0.01M507.31 237.4h0.01M523.42 244.22h0.01M519.67 234.68h0.01M489.31 240.46h0.01M491.75 245.96h0.01M512.37 231.79h0.01M486.37 239.81h0.01M473.01 241.84h0.01M490.15 248.61h0.01M495.4 242.2h0.01M475.32 245.3h0.01M462.51 241.12h0.01M465.79 237.37h0.01M498.76 249.57h0.01M476.43 243.94h0.01M486.11 242.4h0.01M491.65 236.57h0.01M498.03 240.86h0.01M483.07 248.5h0.01M496.14 241.76h0.01M474.37 247.81h0.01M482.65 245.8h0.01M472.26 245.11h0.01M506.07 242.16h0.01M487.9 240.32h0.01M476.73 249.84h0.01M482.8 231.21h0.01M484.85 236h0.01M499.31 237.17h0.01M463.3 250.07h0.01M472.06 253.3h0.01M482.39 246.22h0.01M528.03 238.89h0.01M503.31 229.67h0.01M486.57 235.62h0.01M499.49 243.51h0.01M520.58 232.83h0.01M456.51 238.89h0.01M454.73 246.02h0.01M475.94 237.06h0.01M466.29 242.15h0.01M468.67 246.56h0.01M452.82 250.52h0.01M485.51 242.44h0.01M482.63 237.45h0.01M467.26 249.98h0.01M468.85 251.03h0.01M432.4 244.36h0.01M468.22 256.29h0.01M457.04 236.71h0.01M465.48 245.85h0.01M468.82 240.9h0.01M455.06 236.04h0.01M436.93 253.33h0.01M464.59 248.8h0.01M449.69 234.75h0.01M455.21 246.1h0.01M451.53 245.72h0.01M455.06 245.68h0.01M430.53 242.16h0.01M476.01 236.54h0.01M463.05 243.5h0.01M474.59 244.49h0.01M486.26 241.96h0.01M459.95 243.14h0.01M435.43 240.5h0.01M447.64 244.85h0.01M443.43 237.33h0.01M452.9 249.02h0.01M460.72 241.74h0.01M432.74 241.61h0.01M464.25 238.74h0.01M439.35 248.48h0.01M463.65 248.11h0.01M458.18 249.85h0.01M426.95 248.2h0.01M529.99 237.41h0.01M433.22 248.04h0.01" stroke="#000" stroke-width="1.55" stroke-linecap="round"/>
<line x1="426.95" y1="247.47" x2="529.99" y2="237.61" stroke="#3366ff" stroke-width="1.35"/>
<rect x="418.15" y="201.3" width="121.8" height="104" fill="none" stroke="#707070" stroke-width="0.9"/>
<rect x="493.15" y="276.2" width="28" height="12.9" fill="#fff" stroke="#7f7f7f" stroke-width="0.75" rx="1.3"/>
<text x="495.85" y="285.1" font-size="7.6" stroke="#333" stroke-width="0.1" fill="#333" transform="translate(495.85 285.1) scale(1 1.1) translate(-495.85 -285.1)">ρ</text>
<text x="501.55" y="285.1" font-size="7.6" stroke="#333" stroke-width="0.1" fill="#333" transform="translate(501.55 285.1) scale(1 1.1) translate(-501.55 -285.1)">:</text>
<text x="518.55" y="285.1" font-size="7.5" stroke="#333" stroke-width="0.1" text-anchor="end" fill="#333" transform="translate(518.55 285.1) scale(1 1.1) translate(-518.55 -285.1)">0.29</text>
<rect x="418.15" y="310.6" width="121.8" height="104.3" fill="#fff"/>
<line x1="414.85" y1="310.6" x2="414.85" y2="414.9" stroke="#f3f3f3" stroke-width="0.45"/>
<line x1="437.25" y1="310.6" x2="437.25" y2="414.9" stroke="#f3f3f3" stroke-width="0.45"/>
<line x1="459.65" y1="310.6" x2="459.65" y2="414.9" stroke="#f3f3f3" stroke-width="0.45"/>
<line x1="482.05" y1="310.6" x2="482.05" y2="414.9" stroke="#f3f3f3" stroke-width="0.45"/>
<line x1="504.45" y1="310.6" x2="504.45" y2="414.9" stroke="#f3f3f3" stroke-width="0.45"/>
<line x1="526.85" y1="310.6" x2="526.85" y2="414.9" stroke="#f3f3f3" stroke-width="0.45"/>
<line x1="418.15" y1="404.48" x2="539.95" y2="404.48" stroke="#f3f3f3" stroke-width="0.45"/>
<line x1="418.15" y1="383.93" x2="539.95" y2="383.93" stroke="#f3f3f3" stroke-width="0.45"/>
<line x1="418.15" y1="363.38" x2="539.95" y2="363.38" stroke="#f3f3f3" stroke-width="0.45"/>
<line x1="418.15" y1="342.83" x2="539.95" y2="342.83" stroke="#f3f3f3" stroke-width="0.45"/>
<line x1="418.15" y1="322.28" x2="539.95" y2="322.28" stroke="#f3f3f3" stroke-width="0.45"/>
<line x1="426.05" y1="310.6" x2="426.05" y2="414.9" stroke="#e8e8e8" stroke-width="0.7"/>
<line x1="448.45" y1="310.6" x2="448.45" y2="414.9" stroke="#e8e8e8" stroke-width="0.7"/>
<line x1="470.85" y1="310.6" x2="470.85" y2="414.9" stroke="#e8e8e8" stroke-width="0.7"/>
<line x1="493.25" y1="310.6" x2="493.25" y2="414.9" stroke="#e8e8e8" stroke-width="0.7"/>
<line x1="515.65" y1="310.6" x2="515.65" y2="414.9" stroke="#e8e8e8" stroke-width="0.7"/>
<line x1="538.05" y1="310.6" x2="538.05" y2="414.9" stroke="#e8e8e8" stroke-width="0.7"/>
<line x1="418.15" y1="414.75" x2="539.95" y2="414.75" stroke="#e8e8e8" stroke-width="0.7"/>
<line x1="418.15" y1="394.2" x2="539.95" y2="394.2" stroke="#e8e8e8" stroke-width="0.7"/>
<line x1="418.15" y1="373.65" x2="539.95" y2="373.65" stroke="#e8e8e8" stroke-width="0.7"/>
<line x1="418.15" y1="353.1" x2="539.95" y2="353.1" stroke="#e8e8e8" stroke-width="0.7"/>
<line x1="418.15" y1="332.55" x2="539.95" y2="332.55" stroke="#e8e8e8" stroke-width="0.7"/>
<line x1="418.15" y1="312" x2="539.95" y2="312" stroke="#e8e8e8" stroke-width="0.7"/>
<path d="M423.36 351.21 L427.21 351.04 L431.06 350.87 L434.9 350.7 L438.75 350.52 L442.6 350.34 L446.44 350.16 L450.29 349.97 L454.13 349.78 L457.98 349.58 L461.83 349.37 L465.67 349.15 L469.52 348.91 L473.37 348.65 L477.21 348.37 L481.06 348.06 L484.91 347.75 L488.75 347.42 L492.6 347.07 L496.45 346.73 L500.29 346.37 L504.14 346.01 L507.99 345.65 L511.83 345.29 L515.68 344.92 L519.53 344.56 L523.37 344.19 L527.22 343.82 L531.07 343.45 L534.91 343.08 L534.91 346.68 L531.07 346.85 L527.22 347.02 L523.37 347.19 L519.53 347.36 L515.68 347.53 L511.83 347.7 L507.99 347.88 L504.14 348.05 L500.29 348.23 L496.45 348.42 L492.6 348.61 L488.75 348.81 L484.91 349.01 L481.06 349.24 L477.21 349.47 L473.37 349.73 L469.52 350.01 L465.67 350.3 L461.83 350.62 L457.98 350.95 L454.13 351.29 L450.29 351.63 L446.44 351.99 L442.6 352.34 L438.75 352.7 L434.9 353.07 L431.06 353.43 L427.21 353.8 L423.36 354.17Z" fill="#999999" fill-opacity="0.4"/>
<path d="M466.01 350.77h0.01M470.75 338.72h0.01M461.55 350.02h0.01M460.12 353.39h0.01M439.02 344.37h0.01M471.61 352.73h0.01M508.57 352.78h0.01M511.23 350.81h0.01M498.25 350.21h0.01M486.11 349.75h0.01M458.86 348.89h0.01M500.63 353.7h0.01M471.09 347.98h0.01M470.84 340.17h0.01M466.45 352.74h0.01M474.01 352.03h0.01M463.62 347.64h0.01M470.54 344.46h0.01M450.81 355.19h0.01M464.83 353.89h0.01M517.15 350.42h0.01M470.82 344.89h0.01M467.49 345.94h0.01M482.69 357.65h0.01M486.15 357.3h0.01M450.24 356.06h0.01M468.11 355.9h0.01M490.3 349.79h0.01M477.51 348.07h0.01M474.6 341.03h0.01M502.83 343.91h0.01M458.83 349.79h0.01M473.83 344.96h0.01M461.94 354.2h0.01M501.57 353.13h0.01M433.72 353.18h0.01M458.98 346.37h0.01M461.76 356.85h0.01M485.27 344.71h0.01M484.14 344.94h0.01M499.7 349.53h0.01M441.17 350.83h0.01M486.99 349.47h0.01M466.41 350.55h0.01M459.07 346.91h0.01M482.83 351.97h0.01M454.06 347.84h0.01M431.25 348.59h0.01M464.9 346.08h0.01M442.67 359.65h0.01M459.4 358.03h0.01M479.52 345.96h0.01M478.34 351.38h0.01M503.47 350.05h0.01M468.26 354.08h0.01M441.97 357.08h0.01M457.29 351.89h0.01M454.07 353.65h0.01M448.19 357.17h0.01M480.78 346.76h0.01M459.48 356.99h0.01M433.22 347.4h0.01M485.93 357.68h0.01M470 339.05h0.01M479.23 354.55h0.01M474.28 346.78h0.01M484.65 344.68h0.01M472.94 349.33h0.01M496.56 344.55h0.01M480.57 352.53h0.01M479.92 356.19h0.01M480.27 351.65h0.01M443.48 346.59h0.01M468.95 357.48h0.01M467.08 356.82h0.01M476.29 351.6h0.01M445.41 349.88h0.01M504.41 345.85h0.01M474.25 344.6h0.01M448.32 348.7h0.01M438.51 349.6h0.01M466.65 359.72h0.01M470.43 342.06h0.01M458.04 350.15h0.01M474.01 345.63h0.01M459.56 351.7h0.01M483.07 349.24h0.01M457.91 350.11h0.01M471.44 342.82h0.01M491.49 341.66h0.01M522.89 345.53h0.01M452.33 342.65h0.01M463.04 355.42h0.01M455.64 348.34h0.01M487.65 350.18h0.01M449.56 347.32h0.01M462.65 349.86h0.01M471.61 345.29h0.01M452.9 343.47h0.01M453.32 359.35h0.01M462.82 340.9h0.01M430.79 350.9h0.01M443.7 352.67h0.01M464.05 357.94h0.01M475.12 350.4h0.01M468.53 359.24h0.01M437.23 353.2h0.01M463.05 350.69h0.01M487.93 340.57h0.01M483.15 351.5h0.01M470.64 344.93h0.01M454.7 345.65h0.01M484.64 339.79h0.01M460.78 351.16h0.01M449.15 347.74h0.01M456.38 356.81h0.01M500.74 353.35h0.01M476.53 350.16h0.01M495.05 347.82h0.01M462.75 355.09h0.01M490.69 349.76h0.01M460.34 348.37h0.01M469.09 351.45h0.01M521.2 346.53h0.01M487.32 352h0.01M462.31 344.19h0.01M470.52 341.94h0.01M478.62 348.32h0.01M496.05 348.12h0.01M462.55 342.97h0.01M437.87 349.69h0.01M466.68 352.51h0.01M472.5 354.96h0.01M474.35 351.63h0.01M498.15 338.24h0.01M478.44 351.36h0.01M488.22 336h0.01M450.49 350.83h0.01M489.3 350.43h0.01M513.51 340.83h0.01M487.43 349.26h0.01M477.19 347.35h0.01M475.23 353.88h0.01M507.42 352.07h0.01M453.92 353.68h0.01M470 348.51h0.01M481.27 351.46h0.01M486.86 356.54h0.01M463.57 347.89h0.01M478.25 349.56h0.01M466.72 350.85h0.01M474.57 351.71h0.01M469.59 358.96h0.01M449.69 344.16h0.01M471.78 351.34h0.01M489.48 345.85h0.01M453.13 344.75h0.01M467.44 344.92h0.01M485.3 347.51h0.01M451.1 350.72h0.01M475.79 347.74h0.01M451.3 346.92h0.01M494.56 346.59h0.01M517.78 347.97h0.01M512.06 345.08h0.01M467.87 347.99h0.01M486.78 345.33h0.01M474.58 348.25h0.01M474.21 343.36h0.01M502.7 346.29h0.01M446.19 347.35h0.01M493 347.64h0.01M471.23 356.32h0.01M499.96 351.32h0.01M475.88 349.69h0.01M458.93 347.94h0.01M477.66 343.55h0.01M486.7 348.64h0.01M472.9 354.4h0.01M481.81 350.75h0.01M461.91 344.55h0.01M430.13 351.77h0.01M489.94 351.67h0.01M485.98 345.19h0.01M475.11 354.64h0.01M473.54 348.69h0.01M492.62 348.03h0.01M463.18 351.3h0.01M458.27 355.12h0.01M468.48 345.4h0.01M495.63 340.54h0.01M444.85 356.77h0.01M495.69 347.12h0.01M459.59 347.44h0.01M450.5 341.27h0.01M497.03 353.2h0.01M470.28 354.01h0.01M446.56 351.09h0.01M465.12 341.28h0.01M490.55 347.7h0.01M495.69 346.51h0.01M463.78 342.38h0.01M480.2 357.71h0.01M486.27 357.42h0.01M459.49 346.34h0.01M479.19 345.52h0.01M471.57 355.16h0.01M461.63 347.83h0.01M462.49 349.78h0.01M473.52 348.26h0.01M472.78 352.62h0.01M461.05 351.96h0.01M463.8 353.56h0.01M494.14 347.52h0.01M476.41 349.95h0.01M489.64 340.96h0.01M495.88 344.97h0.01M483.8 355.5h0.01M516.96 344.39h0.01M455.93 344.37h0.01M488.13 346.97h0.01M465.92 345.13h0.01M508.78 346.85h0.01M505.71 343.96h0.01M433.67 355.91h0.01M453.1 347.29h0.01M485.29 354.16h0.01M487.76 344.29h0.01M486.71 354.63h0.01M423.36 361.6h0.01M534.91 344.68h0.01" stroke="#000" stroke-width="1.55" stroke-linecap="round"/>
<line x1="423.36" y1="352.69" x2="534.91" y2="344.88" stroke="#3366ff" stroke-width="1.35"/>
<rect x="418.15" y="310.6" width="121.8" height="104.3" fill="none" stroke="#707070" stroke-width="0.9"/>
<rect x="493.15" y="379.5" width="28" height="12.9" fill="#fff" stroke="#7f7f7f" stroke-width="0.75" rx="1.3"/>
<text x="495.85" y="388.4" font-size="7.6" stroke="#333" stroke-width="0.1" fill="#333" transform="translate(495.85 388.4) scale(1 1.1) translate(-495.85 -388.4)">ρ</text>
<text x="501.55" y="388.4" font-size="7.6" stroke="#333" stroke-width="0.1" fill="#333" transform="translate(501.55 388.4) scale(1 1.1) translate(-501.55 -388.4)">:</text>
<text x="518.55" y="388.4" font-size="7.5" stroke="#333" stroke-width="0.1" text-anchor="end" fill="#333" transform="translate(518.55 388.4) scale(1 1.1) translate(-518.55 -388.4)">0.25</text>
<line x1="426.05" y1="414.9" x2="426.05" y2="417.5" stroke="#4a4a4a" stroke-width="1.1"/>
<text x="426.05" y="424.96" font-size="7.3" stroke="#444444" stroke-width="0.22" text-anchor="middle" fill="#444444" transform="translate(426.05 424.96) scale(1 1.1) translate(-426.05 -424.96)">-10</text>
<line x1="448.45" y1="414.9" x2="448.45" y2="417.5" stroke="#4a4a4a" stroke-width="1.1"/>
<text x="448.45" y="424.96" font-size="7.3" stroke="#444444" stroke-width="0.22" text-anchor="middle" fill="#444444" transform="translate(448.45 424.96) scale(1 1.1) translate(-448.45 -424.96)">-5</text>
<line x1="470.85" y1="414.9" x2="470.85" y2="417.5" stroke="#4a4a4a" stroke-width="1.1"/>
<text x="470.85" y="424.96" font-size="7.3" stroke="#444444" stroke-width="0.22" text-anchor="middle" fill="#444444" transform="translate(470.85 424.96) scale(1 1.1) translate(-470.85 -424.96)">0</text>
<line x1="493.25" y1="414.9" x2="493.25" y2="417.5" stroke="#4a4a4a" stroke-width="1.1"/>
<text x="493.25" y="424.96" font-size="7.3" stroke="#444444" stroke-width="0.22" text-anchor="middle" fill="#444444" transform="translate(493.25 424.96) scale(1 1.1) translate(-493.25 -424.96)">5</text>
<line x1="515.65" y1="414.9" x2="515.65" y2="417.5" stroke="#4a4a4a" stroke-width="1.1"/>
<text x="515.65" y="424.96" font-size="7.3" stroke="#444444" stroke-width="0.22" text-anchor="middle" fill="#444444" transform="translate(515.65 424.96) scale(1 1.1) translate(-515.65 -424.96)">10</text>
<line x1="538.05" y1="414.9" x2="538.05" y2="417.5" stroke="#4a4a4a" stroke-width="1.1"/>
<text x="538.05" y="424.96" font-size="7.3" stroke="#444444" stroke-width="0.22" text-anchor="middle" fill="#444444" transform="translate(538.05 424.96) scale(1 1.1) translate(-538.05 -424.96)">15</text>
<rect x="545.4" y="186.7" width="121.8" height="14.6" fill="#d9d9d9" stroke="#707070" stroke-width="0.9"/>
<text x="606.3" y="196.66" font-size="7.6" stroke="#1a1a1a" stroke-width="0.05" text-anchor="middle" fill="#1a1a1a" transform="translate(606.3 196.66) scale(1 1.1) translate(-606.3 -196.66)">Signature CCNDs</text>
<rect x="545.4" y="201.3" width="121.8" height="104" fill="#fff"/>
<line x1="542.1" y1="201.3" x2="542.1" y2="305.3" stroke="#f3f3f3" stroke-width="0.45"/>
<line x1="564.5" y1="201.3" x2="564.5" y2="305.3" stroke="#f3f3f3" stroke-width="0.45"/>
<line x1="586.9" y1="201.3" x2="586.9" y2="305.3" stroke="#f3f3f3" stroke-width="0.45"/>
<line x1="609.3" y1="201.3" x2="609.3" y2="305.3" stroke="#f3f3f3" stroke-width="0.45"/>
<line x1="631.7" y1="201.3" x2="631.7" y2="305.3" stroke="#f3f3f3" stroke-width="0.45"/>
<line x1="654.1" y1="201.3" x2="654.1" y2="305.3" stroke="#f3f3f3" stroke-width="0.45"/>
<line x1="545.4" y1="284.45" x2="667.2" y2="284.45" stroke="#f3f3f3" stroke-width="0.45"/>
<line x1="545.4" y1="256.42" x2="667.2" y2="256.42" stroke="#f3f3f3" stroke-width="0.45"/>
<line x1="545.4" y1="228.38" x2="667.2" y2="228.38" stroke="#f3f3f3" stroke-width="0.45"/>
<line x1="553.3" y1="201.3" x2="553.3" y2="305.3" stroke="#e8e8e8" stroke-width="0.7"/>
<line x1="575.7" y1="201.3" x2="575.7" y2="305.3" stroke="#e8e8e8" stroke-width="0.7"/>
<line x1="598.1" y1="201.3" x2="598.1" y2="305.3" stroke="#e8e8e8" stroke-width="0.7"/>
<line x1="620.5" y1="201.3" x2="620.5" y2="305.3" stroke="#e8e8e8" stroke-width="0.7"/>
<line x1="642.9" y1="201.3" x2="642.9" y2="305.3" stroke="#e8e8e8" stroke-width="0.7"/>
<line x1="665.3" y1="201.3" x2="665.3" y2="305.3" stroke="#e8e8e8" stroke-width="0.7"/>
<line x1="545.4" y1="298.47" x2="667.2" y2="298.47" stroke="#e8e8e8" stroke-width="0.7"/>
<line x1="545.4" y1="270.44" x2="667.2" y2="270.44" stroke="#e8e8e8" stroke-width="0.7"/>
<line x1="545.4" y1="242.4" x2="667.2" y2="242.4" stroke="#e8e8e8" stroke-width="0.7"/>
<line x1="545.4" y1="214.37" x2="667.2" y2="214.37" stroke="#e8e8e8" stroke-width="0.7"/>
<path d="M554.2 280.64 L557.75 278.35 L561.3 276.06 L564.86 273.77 L568.41 271.48 L571.96 269.19 L575.51 266.89 L579.07 264.59 L582.62 262.29 L586.17 259.99 L589.73 257.67 L593.28 255.35 L596.83 253.02 L600.39 250.67 L603.94 248.3 L607.49 245.91 L611.05 243.47 L614.6 240.99 L618.15 238.48 L621.7 235.93 L625.26 233.35 L628.81 230.75 L632.36 228.14 L635.92 225.51 L639.47 222.88 L643.02 220.25 L646.58 217.61 L650.13 214.96 L653.68 212.32 L657.24 209.67 L657.24 214.78 L653.68 217.07 L650.13 219.36 L646.58 221.66 L643.02 223.96 L639.47 226.27 L635.92 228.58 L632.36 230.89 L628.81 233.22 L625.26 235.56 L621.7 237.93 L618.15 240.32 L614.6 242.74 L611.05 245.21 L607.49 247.71 L603.94 250.25 L600.39 252.83 L596.83 255.42 L593.28 258.03 L589.73 260.65 L586.17 263.28 L582.62 265.91 L579.07 268.55 L575.51 271.2 L571.96 273.84 L568.41 276.49 L564.86 279.14 L561.3 281.79 L557.75 284.44 L554.2 287.1Z" fill="#999999" fill-opacity="0.4"/>
<path d="M615.59 246.64h0.01M620.26 227.25h0.01M611.27 238.71h0.01M601.61 228.64h0.01M608.44 253.62h0.01M600.02 234.78h0.01M616.52 251.68h0.01M636.59 228.54h0.01M607.85 261.17h0.01M605.84 241.7h0.01M623.25 236.49h0.01M621.17 229.89h0.01M617.22 222.35h0.01M600.98 251.93h0.01M615.11 236.95h0.01M626.47 224.15h0.01M594.49 266.85h0.01M608.4 252.58h0.01M585.76 261.47h0.01M595.35 249.23h0.01M586.69 251.98h0.01M611.89 233.84h0.01M595.7 262.84h0.01M619.83 232.9h0.01M618.03 225.54h0.01M612.64 250.52h0.01M576.11 268.77h0.01M607.13 254.3h0.01M614.81 239.67h0.01M617.35 219.36h0.01M591.58 255.75h0.01M608.08 257.73h0.01M600.23 247.7h0.01M602.89 247.38h0.01M632.21 218.31h0.01M602.91 266.12h0.01M615.06 254.77h0.01M629.44 232.39h0.01M606.42 265.81h0.01M613.82 228.91h0.01M617.3 268.16h0.01M616.57 250.22h0.01M596.36 271.9h0.01M616.77 248.2h0.01M636.88 216.83h0.01M591.31 250.86h0.01M629.05 220.8h0.01M617.44 232.68h0.01M605.51 277.26h0.01M646.94 218.56h0.01M627.52 254.58h0.01M596.77 260.12h0.01M616.74 244.92h0.01M624.61 247.6h0.01M612.61 237.36h0.01M626.28 243.21h0.01M614.53 221.38h0.01M626.03 226.76h0.01M638.13 211.48h0.01M604.98 245.04h0.01M618.76 228.34h0.01M608.31 246.65h0.01M617.57 216.53h0.01M596.96 271.63h0.01M606.49 241.97h0.01M612.5 255.62h0.01M629.66 233.94h0.01M633.53 224.85h0.01M594.82 274.45h0.01M603.11 239.5h0.01M625.72 228.1h0.01M584.33 261.66h0.01M608.31 242.58h0.01M614.05 257.26h0.01M635.28 248.73h0.01M626.38 240.42h0.01M610.44 247.45h0.01M609.79 215.7h0.01M611.65 246.51h0.01M639.46 212.3h0.01M608.86 235.78h0.01M610.81 219.5h0.01M621.1 235.87h0.01M613.68 234.69h0.01M612.48 245.52h0.01M598.1 263.94h0.01M615.39 253.07h0.01M608.62 255.17h0.01M633.86 211.52h0.01M625.81 230.6h0.01M615.19 243.17h0.01M626.05 234.01h0.01M610.24 251.45h0.01M632.07 230.01h0.01M615.49 245.14h0.01M624.72 227.04h0.01M595.33 244.41h0.01M621.01 263.33h0.01M589.1 256.75h0.01M583.66 253.17h0.01M610.8 262.37h0.01M601.46 253.84h0.01M618.14 237.3h0.01M650.77 203.62h0.01M602.53 243.11h0.01M605.79 250.46h0.01M618.79 232.94h0.01M623.3 223.48h0.01M612.81 238.4h0.01M612.34 221.41h0.01M626.59 228.43h0.01M623.72 250.11h0.01M599.36 261.58h0.01M614.33 251.03h0.01M616.13 243.12h0.01M599.04 247.67h0.01M619.65 234.06h0.01M602.12 230.2h0.01M630.81 220.9h0.01M618.59 221.45h0.01M616.97 249.08h0.01M606.3 252.53h0.01M613.71 234.27h0.01M584.25 261.74h0.01M597.83 245.98h0.01M621.26 234.13h0.01M582.2 271.56h0.01M628.85 211.73h0.01M588.19 246.61h0.01M627.44 251.09h0.01M602.31 257.51h0.01M627.79 232.26h0.01M617.63 231.58h0.01M591.47 258.62h0.01M635.16 244.09h0.01M638.18 215.5h0.01M614.54 249.05h0.01M611.28 229.82h0.01M613.07 239.18h0.01M600.28 239.83h0.01M632.8 219.17h0.01M607.06 236.51h0.01M614.77 247.53h0.01M603.13 237.51h0.01M605.76 245.4h0.01M595.54 273.28h0.01M635.28 231.91h0.01M613.16 246.62h0.01M630.72 224.91h0.01M615.78 232.75h0.01M604.68 261.65h0.01M610.45 235.98h0.01M606.79 247.82h0.01M615.7 253.29h0.01M609.69 235.23h0.01M610.87 260.51h0.01M593.96 270h0.01M602.92 240.83h0.01M641.51 212.31h0.01M605.05 256h0.01M599.04 239.98h0.01M620.86 225.45h0.01M637.64 231.67h0.01M592.77 233.27h0.01M612.3 253.9h0.01M605.66 245.15h0.01M587.96 288.15h0.01M627.1 225.41h0.01M615.2 248.43h0.01M616.69 234.93h0.01M603.78 269.19h0.01M622.7 222.33h0.01M607.12 229.64h0.01M613.33 220.23h0.01M598.19 287.67h0.01M596.5 247.22h0.01M636.51 222.25h0.01M607.62 289.44h0.01M620.15 252.13h0.01M615.04 242.2h0.01M608.65 228.92h0.01M607.61 265.39h0.01M625.45 231.52h0.01M610.84 244.77h0.01M613.2 238.15h0.01M615.92 245.23h0.01M634.02 217.46h0.01M626.24 221.93h0.01M621.57 257.56h0.01M606.74 233.73h0.01M593.9 264.61h0.01M630.46 233.63h0.01M630.73 216.99h0.01M613.37 241.11h0.01M624.07 228.06h0.01M627.83 226h0.01M628.6 230.39h0.01M630.02 236.98h0.01M608.43 262.17h0.01M639.33 216.16h0.01M596.03 245.36h0.01M629.08 227.08h0.01M623.32 237.5h0.01M629.27 221.07h0.01M645.03 220.48h0.01M638.85 246.97h0.01M597.62 249.82h0.01M589.09 253.12h0.01M628.38 230.36h0.01M599.66 264.78h0.01M615.38 249.57h0.01M628.74 227.55h0.01M589.8 263.76h0.01M582.49 264.38h0.01M619.64 226.73h0.01M616.27 242.11h0.01M611.72 221.81h0.01M616.18 236.71h0.01M602.08 234.5h0.01M591.84 244.94h0.01M612.96 214.89h0.01M600.34 250.87h0.01M589.8 259.37h0.01M623.5 219.59h0.01M614.61 247.12h0.01M621.95 241.4h0.01M600.06 248.26h0.01M605.25 243.11h0.01M599.91 267.68h0.01M601.67 247h0.01M618.64 241.81h0.01M603.29 249.14h0.01M621.16 235.16h0.01M620.9 238.79h0.01M647.33 205.6h0.01M593.73 249.88h0.01M629.49 232.73h0.01M614.17 242.94h0.01M615.35 228.16h0.01M592.84 246.77h0.01M608.36 231.31h0.01M627.23 233.65h0.01M614.28 241.49h0.01M616.84 215.67h0.01M611.01 243.71h0.01M633.68 207.82h0.01M615.24 230.42h0.01M581.07 271.62h0.01M604.72 263.96h0.01M584.7 254.07h0.01M564.59 283.73h0.01M607.26 263.48h0.01M636.48 245.73h0.01M616.31 225.62h0.01M597.19 251.59h0.01M600.82 249.96h0.01M633.3 223.06h0.01M618.04 235.43h0.01M616.32 238.35h0.01M614.73 234.52h0.01M616.17 242.78h0.01M628.2 261.39h0.01M624.24 225.32h0.01M618.95 239.5h0.01M599.22 251.07h0.01M623.59 215.82h0.01M604.84 263.75h0.01M632.72 261.88h0.01M595.64 236.42h0.01M613.41 237.54h0.01M615.46 259.25h0.01M594.8 259.17h0.01M642.57 213.95h0.01M638.47 238.23h0.01M608.3 239.96h0.01M627.67 208.65h0.01M621.51 219.58h0.01M574.59 268.82h0.01M619.5 233.45h0.01M614.61 251.72h0.01M616.88 237.51h0.01M598.69 255.58h0.01M611.35 254.52h0.01M612.78 257.6h0.01M634.2 204.44h0.01M620.82 235.31h0.01M615.48 257.12h0.01M639.55 230.34h0.01M606.87 228.83h0.01M609.47 225.26h0.01M587.09 266.96h0.01M640.18 220.57h0.01M630.69 219.04h0.01M629.95 234.02h0.01M626.06 246.42h0.01M617.3 250.17h0.01M618.95 237.5h0.01M611.62 251.75h0.01M612.38 257.34h0.01M616.42 242.14h0.01M639.28 212.6h0.01M624.29 225.94h0.01M614.66 244.1h0.01M606.49 224h0.01M605.62 262.93h0.01M640.7 226.19h0.01M623.52 251.11h0.01M616.63 230.16h0.01M610.14 245.23h0.01M598.18 271.75h0.01M614.52 250.4h0.01M629.27 212.99h0.01M609.42 235.84h0.01M612.01 244.93h0.01M612.11 232.32h0.01M617.29 261.45h0.01M590.59 267.05h0.01M611.88 258.09h0.01M602.18 263.73h0.01M629.44 234.86h0.01M603.49 242.25h0.01M624.62 221.97h0.01M639.48 211.98h0.01M610.65 212.08h0.01M606.14 252.37h0.01M618.57 249.66h0.01M615.54 234.13h0.01M599.99 260.57h0.01M622.8 238.39h0.01M647.18 213.31h0.01M611.52 253.2h0.01M612.39 236.78h0.01M599.19 239.69h0.01M620.58 249.64h0.01M596.02 280.38h0.01M598.22 251.18h0.01M635.64 238.31h0.01M601.37 247.95h0.01M632.53 236.01h0.01M639.47 221.46h0.01M619.64 225.22h0.01M624.25 224.53h0.01M646.18 223.02h0.01M612.49 255.94h0.01M606.27 275.64h0.01M594.35 280.32h0.01M616.23 249.01h0.01M638.76 222.93h0.01M630.62 240.67h0.01M600.8 257.49h0.01M602.16 268.28h0.01M607.67 265.09h0.01M620.15 257.31h0.01M612.35 235.35h0.01M618.93 261.22h0.01M620.22 229.31h0.01M610.89 254.31h0.01M614.94 234.7h0.01M618.81 235.53h0.01M614.26 232.71h0.01M623.47 221.27h0.01M644.91 229.45h0.01M624.85 245.82h0.01M616.45 245.29h0.01M589.13 270.08h0.01M621.66 228.89h0.01M585.05 263.67h0.01M593.48 256.21h0.01M628.97 226.75h0.01M626.65 246.97h0.01M613.22 229.77h0.01M588.76 281.16h0.01M609.75 247.75h0.01M604.93 242.59h0.01M625.56 243.09h0.01M650.97 224.56h0.01M618.97 228.14h0.01M603.35 258.81h0.01M597.22 280.48h0.01M614.69 257.52h0.01M612.8 234h0.01M597.52 264h0.01M617.4 224.53h0.01M597.53 237.66h0.01M633.01 241.34h0.01M632.23 223.21h0.01M632.58 239.02h0.01M608.14 252.89h0.01M623.64 243.75h0.01M613.5 235.73h0.01M609.48 260.46h0.01M610.25 246.43h0.01M595.19 254.79h0.01M592.93 250.9h0.01M628.03 257.41h0.01M612.57 264.26h0.01M618.97 249.18h0.01M631.28 232.94h0.01M588.4 258.51h0.01M603.28 247.71h0.01M618.32 215.73h0.01M621.72 229.33h0.01M609.66 238.51h0.01M631.71 235.78h0.01M618.87 229.83h0.01M596.55 246.43h0.01M600.98 243.6h0.01M628.2 233.85h0.01M622.84 228.96h0.01M585.79 244.17h0.01M636.7 236.71h0.01M624.95 269.63h0.01M636.64 220.18h0.01M609.56 238.29h0.01M610.94 248.57h0.01M597.91 265.13h0.01M612.82 248.69h0.01M640.46 238.3h0.01M605.42 253.99h0.01M618.14 233.7h0.01M589.37 266.73h0.01M609.57 260.05h0.01M631 227.06h0.01M595.94 265.12h0.01M632.38 228.19h0.01M620.86 239.11h0.01M599.2 265.18h0.01M607.71 246.01h0.01M608.37 259.96h0.01M614.8 231.02h0.01M607.17 258.66h0.01M602.6 253.2h0.01M610.8 265.97h0.01M599.47 257.81h0.01M595.35 270.07h0.01M614.82 224.47h0.01M629.42 233.19h0.01M591.59 254.54h0.01M615.63 261.82h0.01M605.38 262.99h0.01M600.25 255.9h0.01M628.95 247.97h0.01M607.45 233.73h0.01M639.07 236.44h0.01M603.34 248.19h0.01M621.63 233.69h0.01M612.01 245.67h0.01M603.75 240.63h0.01M624.79 242.9h0.01M613.14 238.88h0.01M625.03 220.91h0.01M614.83 239.49h0.01M598.55 251.85h0.01M613.97 246.45h0.01M616.39 240.23h0.01M630.6 223.16h0.01M601.36 254.21h0.01M614.96 267.17h0.01M588.57 258.34h0.01M625.79 236.12h0.01M598.61 247.81h0.01M587.25 260.71h0.01M614.64 223.83h0.01M632.91 243.41h0.01M591.67 269.38h0.01M598.51 245.77h0.01M603.92 261.55h0.01M597.86 250.02h0.01M621.52 243.96h0.01M602.91 273.1h0.01M604.26 241.62h0.01M624.72 219.24h0.01M603.73 254.51h0.01M622.36 253.03h0.01M600.34 242.96h0.01M596.57 266.79h0.01M586.79 262.93h0.01M644.76 216.44h0.01M610.55 254.04h0.01M619.4 258.47h0.01M615.09 243.51h0.01M618.08 241.86h0.01M616.35 250.87h0.01M645.49 229.76h0.01M599.28 245.14h0.01M591.15 263.01h0.01M599.7 262.73h0.01M594.64 262.99h0.01M627.28 231.45h0.01M628.44 231.53h0.01M600.5 254.03h0.01M593.77 284.13h0.01M610.01 249.71h0.01M637.38 236.62h0.01M571.36 271.54h0.01M623.83 222.52h0.01M598.7 242.35h0.01M631.88 222.84h0.01M598.67 252.05h0.01M611.1 250.01h0.01M591.95 254.14h0.01M600.25 257.71h0.01M637.3 230.39h0.01M628.44 243.48h0.01M609.27 255.02h0.01M601.93 251.97h0.01M585.88 241.08h0.01M609.4 239.54h0.01M615.09 246.87h0.01M614.25 233.62h0.01M614.1 248.04h0.01M597.98 242.24h0.01M614.53 233.4h0.01M614.97 209.47h0.01M635.81 239.94h0.01M644.84 230.65h0.01M613.42 244.41h0.01M603.56 246.56h0.01M614.55 234.16h0.01M606.04 259.38h0.01M603.93 257.99h0.01M614.65 238.78h0.01M599.21 247.21h0.01M625.08 247.81h0.01M613.94 260.45h0.01M619.49 245.39h0.01M612.7 238.7h0.01M604.17 237.12h0.01M600.71 264.1h0.01M611.85 248.38h0.01M606.97 244.99h0.01M619.24 234.02h0.01M615.5 243h0.01M594.21 257.75h0.01M616.62 229.34h0.01M594.52 261.18h0.01M605.91 254.55h0.01M610.96 250.42h0.01M583.03 270.03h0.01M617.01 241.06h0.01M617.94 242.32h0.01M613.09 253.1h0.01M608.92 230.07h0.01M609.71 242.24h0.01M600.26 256.07h0.01M611.34 230.19h0.01M606.91 253.87h0.01M617.01 243.48h0.01M596.69 269.41h0.01M619.27 245.53h0.01M617.82 244.38h0.01M613.35 242.19h0.01M608.69 262.61h0.01M624.23 239.98h0.01M589.47 256.92h0.01M622.79 233.46h0.01M619.38 235.58h0.01M620.02 212.06h0.01M621.58 229.9h0.01M605.32 250.34h0.01M611.5 249.99h0.01M625.56 234.68h0.01M622.32 231.99h0.01M618.81 242.69h0.01M591.83 241.12h0.01M624.01 248.17h0.01M633.91 221.74h0.01M631.4 224.93h0.01M619.24 254.22h0.01M591.15 251.52h0.01M630.35 225.08h0.01M613.26 250.4h0.01M575.86 245.32h0.01M621.49 229.51h0.01M592.17 261.58h0.01M595.24 261.11h0.01M605.62 256.88h0.01M635.53 224.84h0.01M609.76 244.96h0.01M619.82 254.5h0.01M642.98 237.43h0.01M640.57 232.25h0.01M613.95 247.26h0.01M611.78 248.31h0.01M595.8 262.85h0.01M604.68 242.01h0.01M622.24 226.35h0.01M621.78 236.48h0.01M617.3 265.02h0.01M631.17 232.54h0.01M603.46 247.02h0.01M614.69 245.15h0.01M627.04 231.9h0.01M624.73 234.11h0.01M632.36 246.67h0.01M621.8 265.64h0.01M610.72 238.05h0.01M621.25 243.53h0.01M599.85 247.93h0.01M589.87 262.92h0.01M624.68 237.21h0.01M614.71 226.92h0.01M620.41 251.68h0.01M588.95 269.32h0.01M609.85 257.86h0.01M606.17 255.32h0.01M602.02 245.74h0.01M580.21 258.95h0.01M610.32 243.61h0.01M629.64 249.23h0.01M621.55 234.76h0.01M606.15 247.15h0.01M615.34 230.68h0.01M627.44 209.45h0.01M572.29 269.78h0.01M613.62 254.39h0.01M624.09 241.54h0.01M626.27 233.26h0.01M642.24 211.4h0.01M633.37 242.04h0.01M620.47 228.02h0.01M620.31 231.07h0.01M627.91 242.79h0.01M607.12 242.42h0.01M614.94 250.62h0.01M629.78 231.81h0.01M646.26 223.69h0.01M613.07 240.74h0.01M614.81 271.14h0.01M618.68 237.79h0.01M636.63 253.5h0.01M615.1 246.52h0.01M638.61 231.94h0.01M600.41 234.57h0.01M612.65 237.67h0.01M612.46 249.25h0.01M627.9 243.05h0.01M631.96 229.86h0.01M591.9 268.88h0.01M601.22 226.64h0.01M620.85 268.98h0.01M605.24 252.23h0.01M591.7 285.7h0.01M631.86 218.72h0.01M623.32 249.74h0.01M623.31 218.34h0.01M608.12 262.72h0.01M631.71 218.33h0.01M611.81 245.92h0.01M632.76 219.6h0.01M601.28 251.32h0.01M602.18 289.21h0.01M618.78 254.45h0.01M604.56 266.71h0.01M626.16 226.34h0.01M619.65 232.79h0.01M601.1 251.63h0.01M616.71 235.76h0.01M610.06 243.26h0.01M629.93 248.78h0.01M605.65 228.96h0.01M608.69 243.75h0.01M634.56 230.59h0.01M650.67 233.62h0.01M646.92 226.78h0.01M616.56 240.81h0.01M619 249.5h0.01M639.62 230.24h0.01M613.62 243.56h0.01M600.26 264.84h0.01M617.4 240.27h0.01M622.65 254.01h0.01M602.57 263.85h0.01M589.76 267.84h0.01M593.04 251.74h0.01M626.01 228.91h0.01M603.68 251.3h0.01M613.36 256.04h0.01M618.9 250.3h0.01M625.28 225.93h0.01M610.32 233.21h0.01M623.39 252.68h0.01M601.62 256.15h0.01M609.9 244.37h0.01M599.51 248.88h0.01M633.32 229.19h0.01M615.15 234.44h0.01M603.98 265.85h0.01M610.05 228.04h0.01M612.1 256.83h0.01M626.56 233.31h0.01M590.55 253.15h0.01M599.31 239.85h0.01M609.64 235.59h0.01M655.28 208.03h0.01M630.56 216.85h0.01M613.82 244.59h0.01M626.74 225.41h0.01M583.76 272.16h0.01M581.98 280.58h0.01M603.19 267.65h0.01M593.54 241.03h0.01M595.92 241.27h0.01M580.07 277.06h0.01M612.76 240.73h0.01M609.88 240.16h0.01M594.51 244.38h0.01M596.1 276.15h0.01M559.65 286.65h0.01M595.47 258.39h0.01M584.29 259.66h0.01M592.73 256.51h0.01M596.07 258.59h0.01M582.31 261.35h0.01M591.84 223.44h0.01M576.94 261.46h0.01M582.46 260.07h0.01M578.78 280.67h0.01M582.31 259.91h0.01M557.78 264.67h0.01M603.26 229.57h0.01M590.3 268.75h0.01M601.84 264.92h0.01M613.51 241.04h0.01M587.2 268.99h0.01M562.68 268.62h0.01M574.89 284.09h0.01M570.68 283.33h0.01M580.15 263h0.01M587.97 266.6h0.01M559.99 268.18h0.01M591.5 270.92h0.01M566.6 289.35h0.01M590.9 262.5h0.01M585.43 253.02h0.01M554.2 287.48h0.01M657.24 219.09h0.01M560.47 270.64h0.01" stroke="#000" stroke-width="1.55" stroke-linecap="round"/>
<line x1="554.2" y1="283.87" x2="657.24" y2="212.22" stroke="#3366ff" stroke-width="1.35"/>
<rect x="545.4" y="201.3" width="121.8" height="104" fill="none" stroke="#707070" stroke-width="0.9"/>
<rect x="620.4" y="276.2" width="28" height="12.9" fill="#fff" stroke="#7f7f7f" stroke-width="0.75" rx="1.3"/>
<text x="623.1" y="285.1" font-size="7.6" stroke="#333" stroke-width="0.1" fill="#333" transform="translate(623.1 285.1) scale(1 1.1) translate(-623.1 -285.1)">ρ</text>
<text x="628.8" y="285.1" font-size="7.6" stroke="#333" stroke-width="0.1" fill="#333" transform="translate(628.8 285.1) scale(1 1.1) translate(-628.8 -285.1)">:</text>
<text x="645.8" y="285.1" font-size="7.5" stroke="#333" stroke-width="0.1" text-anchor="end" fill="#333" transform="translate(645.8 285.1) scale(1 1.1) translate(-645.8 -285.1)">0.65</text>
<rect x="667.4" y="201.3" width="14.5" height="104" fill="#d9d9d9" stroke="#707070" stroke-width="0.9"/>
<text x="671.99" y="253.3" font-size="7.6" stroke="#1a1a1a" stroke-width="0.05" text-anchor="middle" fill="#1a1a1a" transform="rotate(90 671.99 253.3) translate(671.99 253.3) scale(1 1.1) translate(-671.99 -253.3)">SCAN-B</text>
<text x="656.1" y="286.8" font-size="9" stroke="#000" stroke-width="0.12" text-anchor="middle" transform="rotate(90 656.1 286.8) translate(656.1 286.8) scale(1 1.1) translate(-656.1 -286.8)">(n=741)</text>
<rect x="545.4" y="310.6" width="121.8" height="104.3" fill="#fff"/>
<line x1="542.1" y1="310.6" x2="542.1" y2="414.9" stroke="#f3f3f3" stroke-width="0.45"/>
<line x1="564.5" y1="310.6" x2="564.5" y2="414.9" stroke="#f3f3f3" stroke-width="0.45"/>
<line x1="586.9" y1="310.6" x2="586.9" y2="414.9" stroke="#f3f3f3" stroke-width="0.45"/>
<line x1="609.3" y1="310.6" x2="609.3" y2="414.9" stroke="#f3f3f3" stroke-width="0.45"/>
<line x1="631.7" y1="310.6" x2="631.7" y2="414.9" stroke="#f3f3f3" stroke-width="0.45"/>
<line x1="654.1" y1="310.6" x2="654.1" y2="414.9" stroke="#f3f3f3" stroke-width="0.45"/>
<line x1="545.4" y1="404.48" x2="667.2" y2="404.48" stroke="#f3f3f3" stroke-width="0.45"/>
<line x1="545.4" y1="383.93" x2="667.2" y2="383.93" stroke="#f3f3f3" stroke-width="0.45"/>
<line x1="545.4" y1="363.38" x2="667.2" y2="363.38" stroke="#f3f3f3" stroke-width="0.45"/>
<line x1="545.4" y1="342.83" x2="667.2" y2="342.83" stroke="#f3f3f3" stroke-width="0.45"/>
<line x1="545.4" y1="322.28" x2="667.2" y2="322.28" stroke="#f3f3f3" stroke-width="0.45"/>
<line x1="553.3" y1="310.6" x2="553.3" y2="414.9" stroke="#e8e8e8" stroke-width="0.7"/>
<line x1="575.7" y1="310.6" x2="575.7" y2="414.9" stroke="#e8e8e8" stroke-width="0.7"/>
<line x1="598.1" y1="310.6" x2="598.1" y2="414.9" stroke="#e8e8e8" stroke-width="0.7"/>
<line x1="620.5" y1="310.6" x2="620.5" y2="414.9" stroke="#e8e8e8" stroke-width="0.7"/>
<line x1="642.9" y1="310.6" x2="642.9" y2="414.9" stroke="#e8e8e8" stroke-width="0.7"/>
<line x1="665.3" y1="310.6" x2="665.3" y2="414.9" stroke="#e8e8e8" stroke-width="0.7"/>
<line x1="545.4" y1="414.75" x2="667.2" y2="414.75" stroke="#e8e8e8" stroke-width="0.7"/>
<line x1="545.4" y1="394.2" x2="667.2" y2="394.2" stroke="#e8e8e8" stroke-width="0.7"/>
<line x1="545.4" y1="373.65" x2="667.2" y2="373.65" stroke="#e8e8e8" stroke-width="0.7"/>
<line x1="545.4" y1="353.1" x2="667.2" y2="353.1" stroke="#e8e8e8" stroke-width="0.7"/>
<line x1="545.4" y1="332.55" x2="667.2" y2="332.55" stroke="#e8e8e8" stroke-width="0.7"/>
<line x1="545.4" y1="312" x2="667.2" y2="312" stroke="#e8e8e8" stroke-width="0.7"/>
<path d="M550.61 378.53 L554.46 376.71 L558.31 374.88 L562.15 373.05 L566 371.21 L569.85 369.36 L573.69 367.51 L577.54 365.64 L581.38 363.76 L585.23 361.86 L589.08 359.93 L592.92 357.96 L596.77 355.94 L600.62 353.87 L604.46 351.75 L608.31 349.57 L612.16 347.34 L616 345.09 L619.85 342.8 L623.7 340.49 L627.54 338.17 L631.39 335.84 L635.24 333.5 L639.08 331.16 L642.93 328.81 L646.78 326.45 L650.62 324.09 L654.47 321.73 L658.32 319.37 L662.16 317 L662.16 326.73 L658.32 328.55 L654.47 330.37 L650.62 332.19 L646.78 334.01 L642.93 335.84 L639.08 337.67 L635.24 339.51 L631.39 341.35 L627.54 343.2 L623.7 345.07 L619.85 346.95 L616 348.84 L612.16 350.77 L608.31 352.73 L604.46 354.73 L600.62 356.79 L596.77 358.91 L592.92 361.07 L589.08 363.29 L585.23 365.54 L581.38 367.82 L577.54 370.12 L573.69 372.44 L569.85 374.77 L566 377.11 L562.15 379.45 L558.31 381.8 L554.46 384.16 L550.61 386.51Z" fill="#999999" fill-opacity="0.4"/>
<path d="M593.26 354.09h0.01M598 348.72h0.01M588.8 346.37h0.01M587.37 369.15h0.01M566.27 367.96h0.01M598.86 348.5h0.01M635.82 346.73h0.01M638.48 335.85h0.01M625.5 351.95h0.01M613.36 350.92h0.01M586.11 359.57h0.01M627.88 363.26h0.01M598.34 366.24h0.01M598.09 365.65h0.01M593.7 358.1h0.01M601.26 363.15h0.01M590.87 356.54h0.01M597.79 366.36h0.01M578.06 373.32h0.01M592.08 353.32h0.01M644.4 328.04h0.01M598.07 355.07h0.01M594.74 359.9h0.01M609.94 339.22h0.01M613.4 333.24h0.01M577.49 372.03h0.01M595.36 369.59h0.01M617.55 357.63h0.01M604.76 337.18h0.01M601.85 364.57h0.01M630.08 353.94h0.01M586.08 360.31h0.01M601.08 343.51h0.01M589.19 375.2h0.01M628.82 341.39h0.01M560.97 392.75h0.01M586.23 370.85h0.01M589.01 344.43h0.01M612.52 347.03h0.01M611.39 359h0.01M626.95 340.25h0.01M568.42 369.75h0.01M614.24 349.09h0.01M593.66 372.24h0.01M586.32 382.83h0.01M610.08 328.04h0.01M581.31 374.29h0.01M558.5 368.74h0.01M592.15 367.88h0.01M569.92 357.7h0.01M586.65 367.89h0.01M606.77 354.33h0.01M605.59 330.48h0.01M630.72 349.28h0.01M595.51 360.71h0.01M569.22 381.89h0.01M584.54 372.66h0.01M581.32 378.07h0.01M575.44 381.49h0.01M608.03 354.91h0.01M586.73 349.07h0.01M560.47 396.36h0.01M613.18 365.45h0.01M597.25 367.69h0.01M606.48 357.3h0.01M601.53 343.71h0.01M611.9 341.27h0.01M600.19 350.31h0.01M623.81 340.49h0.01M607.82 325.02h0.01M607.17 364.21h0.01M607.52 367.89h0.01M570.73 371.88h0.01M596.2 358.32h0.01M594.33 361.38h0.01M603.54 363.03h0.01M572.66 384.98h0.01M631.66 341.52h0.01M601.5 363.8h0.01M575.57 374.28h0.01M565.76 386.23h0.01M593.9 344.23h0.01M597.68 352.62h0.01M585.29 348.88h0.01M601.26 364.08h0.01M586.81 362.21h0.01M610.32 352.81h0.01M585.16 363.52h0.01M598.69 359.22h0.01M618.74 347.31h0.01M650.14 350.15h0.01M579.58 373.45h0.01M590.29 353.34h0.01M582.89 386.46h0.01M614.9 351.42h0.01M576.81 361.98h0.01M589.9 347.22h0.01M598.86 357.23h0.01M580.15 361.45h0.01M580.57 351.05h0.01M590.07 352.4h0.01M558.04 383.47h0.01M570.95 384.39h0.01M591.3 349.18h0.01M602.37 351.94h0.01M595.78 363.95h0.01M564.48 377.54h0.01M590.3 357.47h0.01M615.18 349.63h0.01M610.4 352.82h0.01M597.89 361.23h0.01M581.95 381.93h0.01M611.89 331.66h0.01M588.03 355.91h0.01M576.4 351.83h0.01M583.63 366.06h0.01M627.99 343.69h0.01M603.78 347.28h0.01M622.3 334.51h0.01M590 381.26h0.01M617.94 342.02h0.01M587.59 373.43h0.01M596.34 358.46h0.01M648.45 336.63h0.01M614.57 328.98h0.01M589.56 355.42h0.01M597.77 357.19h0.01M605.87 337.12h0.01M623.3 343.79h0.01M589.8 369.21h0.01M565.12 376.69h0.01M593.93 363h0.01M599.75 356.3h0.01M601.6 345.55h0.01M625.4 343.16h0.01M605.69 353.3h0.01M615.47 338.39h0.01M577.74 364.6h0.01M616.55 336.22h0.01M640.76 332.02h0.01M614.68 362.04h0.01M604.44 365.61h0.01M602.48 372.59h0.01M634.67 324.29h0.01M581.17 361.35h0.01M597.25 362.39h0.01M608.52 363.55h0.01M614.11 344.03h0.01M590.82 362.12h0.01M605.5 349.16h0.01M593.97 370.48h0.01M601.82 366.89h0.01M596.84 347.7h0.01M576.94 378.69h0.01M599.03 356.45h0.01M616.73 331.86h0.01M580.38 388.27h0.01M594.69 350.86h0.01M612.55 355.64h0.01M578.35 369.02h0.01M603.04 353.82h0.01M578.55 388.23h0.01M621.81 368.27h0.01M639.31 342.16h0.01M595.12 348.53h0.01M614.03 335.86h0.01M601.83 351.51h0.01M601.46 349.86h0.01M629.95 331.55h0.01M573.44 366.11h0.01M620.25 339.25h0.01M598.48 342.63h0.01M627.21 344.07h0.01M603.13 358.61h0.01M586.18 362.25h0.01M604.91 355.66h0.01M613.95 342.31h0.01M600.15 334.19h0.01M609.06 341.51h0.01M589.16 360.99h0.01M557.38 356.99h0.01M617.19 342.69h0.01M613.23 344.53h0.01M602.36 348.96h0.01M600.79 358.87h0.01M619.87 358.11h0.01M590.43 359.4h0.01M585.52 367.37h0.01M595.73 367.46h0.01M622.88 341.89h0.01M572.1 377.64h0.01M622.94 349.67h0.01M586.84 382.31h0.01M577.75 376.07h0.01M624.28 328.26h0.01M597.53 361.29h0.01M573.81 358.01h0.01M592.37 360.03h0.01M617.8 334.9h0.01M622.94 350.55h0.01M591.03 365.54h0.01M607.45 356.41h0.01M613.52 363.94h0.01M586.74 362.23h0.01M606.44 351.91h0.01M598.82 337.77h0.01M588.88 369.36h0.01M589.74 356.59h0.01M600.77 362.37h0.01M600.03 361.61h0.01M588.3 391.61h0.01M591.05 370.81h0.01M621.39 331.66h0.01M603.66 347.96h0.01M616.89 344.72h0.01M623.13 318.41h0.01M611.05 343.69h0.01M644.21 345.17h0.01M583.18 367h0.01M615.38 347.9h0.01M593.17 341.71h0.01M636.03 348.05h0.01M632.96 333.06h0.01M560.92 366.15h0.01M580.35 375.2h0.01M612.54 347.84h0.01M615.01 369.52h0.01M613.96 346.94h0.01M550.61 406.65h0.01M662.16 326.05h0.01" stroke="#000" stroke-width="1.55" stroke-linecap="round"/>
<line x1="550.61" y1="382.52" x2="662.16" y2="321.86" stroke="#3366ff" stroke-width="1.35"/>
<rect x="545.4" y="310.6" width="121.8" height="104.3" fill="none" stroke="#707070" stroke-width="0.9"/>
<rect x="620.4" y="379.5" width="28" height="12.9" fill="#fff" stroke="#7f7f7f" stroke-width="0.75" rx="1.3"/>
<text x="623.1" y="388.4" font-size="7.6" stroke="#333" stroke-width="0.1" fill="#333" transform="translate(623.1 388.4) scale(1 1.1) translate(-623.1 -388.4)">ρ</text>
<text x="628.8" y="388.4" font-size="7.6" stroke="#333" stroke-width="0.1" fill="#333" transform="translate(628.8 388.4) scale(1 1.1) translate(-628.8 -388.4)">:</text>
<text x="645.8" y="388.4" font-size="7.5" stroke="#333" stroke-width="0.1" text-anchor="end" fill="#333" transform="translate(645.8 388.4) scale(1 1.1) translate(-645.8 -388.4)">0.69</text>
<line x1="553.3" y1="414.9" x2="553.3" y2="417.5" stroke="#4a4a4a" stroke-width="1.1"/>
<text x="553.3" y="424.96" font-size="7.3" stroke="#444444" stroke-width="0.22" text-anchor="middle" fill="#444444" transform="translate(553.3 424.96) scale(1 1.1) translate(-553.3 -424.96)">-10</text>
<line x1="575.7" y1="414.9" x2="575.7" y2="417.5" stroke="#4a4a4a" stroke-width="1.1"/>
<text x="575.7" y="424.96" font-size="7.3" stroke="#444444" stroke-width="0.22" text-anchor="middle" fill="#444444" transform="translate(575.7 424.96) scale(1 1.1) translate(-575.7 -424.96)">-5</text>
<line x1="598.1" y1="414.9" x2="598.1" y2="417.5" stroke="#4a4a4a" stroke-width="1.1"/>
<text x="598.1" y="424.96" font-size="7.3" stroke="#444444" stroke-width="0.22" text-anchor="middle" fill="#444444" transform="translate(598.1 424.96) scale(1 1.1) translate(-598.1 -424.96)">0</text>
<line x1="620.5" y1="414.9" x2="620.5" y2="417.5" stroke="#4a4a4a" stroke-width="1.1"/>
<text x="620.5" y="424.96" font-size="7.3" stroke="#444444" stroke-width="0.22" text-anchor="middle" fill="#444444" transform="translate(620.5 424.96) scale(1 1.1) translate(-620.5 -424.96)">5</text>
<line x1="642.9" y1="414.9" x2="642.9" y2="417.5" stroke="#4a4a4a" stroke-width="1.1"/>
<text x="642.9" y="424.96" font-size="7.3" stroke="#444444" stroke-width="0.22" text-anchor="middle" fill="#444444" transform="translate(642.9 424.96) scale(1 1.1) translate(-642.9 -424.96)">10</text>
<line x1="665.3" y1="414.9" x2="665.3" y2="417.5" stroke="#4a4a4a" stroke-width="1.1"/>
<text x="665.3" y="424.96" font-size="7.3" stroke="#444444" stroke-width="0.22" text-anchor="middle" fill="#444444" transform="translate(665.3 424.96) scale(1 1.1) translate(-665.3 -424.96)">15</text>
<rect x="667.4" y="310.6" width="14.5" height="104.3" fill="#d9d9d9" stroke="#707070" stroke-width="0.9"/>
<text x="671.99" y="362.75" font-size="7.6" stroke="#1a1a1a" stroke-width="0.05" text-anchor="middle" fill="#1a1a1a" transform="rotate(90 671.99 362.75) translate(671.99 362.75) scale(1 1.1) translate(-671.99 -362.75)">TCGA</text>
<text x="656.1" y="396.25" font-size="9" stroke="#000" stroke-width="0.12" text-anchor="middle" transform="rotate(90 656.1 396.25) translate(656.1 396.25) scale(1 1.1) translate(-656.1 -396.25)">(n=231)</text>
<text x="351.7" y="436" font-size="9.45" stroke="#000" stroke-width="0.12" text-anchor="middle" transform="translate(351.7 436) scale(1 1.1) translate(-351.7 -436)">Hallmark Apoptosis</text>
<text x="12" y="308.1" font-size="9.45" stroke="#000" stroke-width="0.12" text-anchor="middle" transform="rotate(-90 12 308.1) translate(12 308.1) scale(1 1.1) translate(-12 -308.1)">Gene Score</text>
<text x="0.6" y="451.6" font-size="16" font-weight="bold">c</text>
<rect x="31.4" y="447.8" width="108.2" height="14.4" fill="#d9d9d9" stroke="#707070" stroke-width="0.9"/>
<text x="85.5" y="457.66" font-size="7.6" stroke="#1a1a1a" stroke-width="0.05" text-anchor="middle" fill="#1a1a1a" transform="translate(85.5 457.66) scale(1 1.1) translate(-85.5 -457.66)">Hallmark Apoptosis</text>
<rect x="31.4" y="462.2" width="108.2" height="113.2" fill="#fff"/>
<line x1="31.4" y1="558.25" x2="139.6" y2="558.25" stroke="#f3f3f3" stroke-width="0.45"/>
<line x1="31.4" y1="528.75" x2="139.6" y2="528.75" stroke="#f3f3f3" stroke-width="0.45"/>
<line x1="31.4" y1="499.25" x2="139.6" y2="499.25" stroke="#f3f3f3" stroke-width="0.45"/>
<line x1="31.4" y1="469.75" x2="139.6" y2="469.75" stroke="#f3f3f3" stroke-width="0.45"/>
<line x1="60.91" y1="462.2" x2="60.91" y2="575.4" stroke="#e8e8e8" stroke-width="0.7"/>
<line x1="110.09" y1="462.2" x2="110.09" y2="575.4" stroke="#e8e8e8" stroke-width="0.7"/>
<line x1="31.4" y1="573" x2="139.6" y2="573" stroke="#e8e8e8" stroke-width="0.7"/>
<line x1="31.4" y1="543.5" x2="139.6" y2="543.5" stroke="#e8e8e8" stroke-width="0.7"/>
<line x1="31.4" y1="514" x2="139.6" y2="514" stroke="#e8e8e8" stroke-width="0.7"/>
<line x1="31.4" y1="484.5" x2="139.6" y2="484.5" stroke="#e8e8e8" stroke-width="0.7"/>
<path d="M60.91 549.02 L110.09 501.91 L110.09 524.91 L60.91 571.02Z" fill="#5599ee" fill-opacity="0.25"/>
<path d="M60.91 553.64 L110.09 506.74 L110.09 520.08 L60.91 566.4Z" fill="#5599ee" fill-opacity="0.25"/>
<path d="M60.91 556.94 L110.09 510.19 L110.09 516.63 L60.91 563.1Z" fill="#5599ee" fill-opacity="0.25"/>
<line x1="60.91" y1="560.02" x2="110.09" y2="513.41" stroke="#5fa2f5" stroke-width="1.5"/>
<path d="M60.91 537.4 L110.09 468.09 L110.09 502.09 L60.91 561.4Z" fill="#33dd11" fill-opacity="0.25"/>
<path d="M60.91 542.44 L110.09 475.23 L110.09 494.95 L60.91 556.36Z" fill="#33dd11" fill-opacity="0.25"/>
<path d="M60.91 546.04 L110.09 480.33 L110.09 489.85 L60.91 552.76Z" fill="#33dd11" fill-opacity="0.25"/>
<line x1="60.91" y1="549.4" x2="110.09" y2="485.09" stroke="#3ee61a" stroke-width="1.5"/>
<rect x="31.4" y="462.2" width="108.2" height="113.2" fill="none" stroke="#707070" stroke-width="0.9"/>
<line x1="28.8" y1="573" x2="31.4" y2="573" stroke="#4a4a4a" stroke-width="1.1"/>
<text x="26.9" y="575.55" font-size="7.3" stroke="#444444" stroke-width="0.22" text-anchor="end" fill="#444444" transform="translate(26.9 575.55) scale(1 1.1) translate(-26.9 -575.55)">0.0</text>
<line x1="28.8" y1="543.5" x2="31.4" y2="543.5" stroke="#4a4a4a" stroke-width="1.1"/>
<text x="26.9" y="546.05" font-size="7.3" stroke="#444444" stroke-width="0.22" text-anchor="end" fill="#444444" transform="translate(26.9 546.05) scale(1 1.1) translate(-26.9 -546.05)">2.5</text>
<line x1="28.8" y1="514" x2="31.4" y2="514" stroke="#4a4a4a" stroke-width="1.1"/>
<text x="26.9" y="516.55" font-size="7.3" stroke="#444444" stroke-width="0.22" text-anchor="end" fill="#444444" transform="translate(26.9 516.55) scale(1 1.1) translate(-26.9 -516.55)">5.0</text>
<line x1="28.8" y1="484.5" x2="31.4" y2="484.5" stroke="#4a4a4a" stroke-width="1.1"/>
<text x="26.9" y="487.06" font-size="7.3" stroke="#444444" stroke-width="0.22" text-anchor="end" fill="#444444" transform="translate(26.9 487.06) scale(1 1.1) translate(-26.9 -487.06)">7.5</text>
<line x1="60.91" y1="575.4" x2="60.91" y2="578" stroke="#4a4a4a" stroke-width="1.1"/>
<text x="60.91" y="585.53" font-size="7.4" stroke="#444444" stroke-width="0.22" text-anchor="middle" fill="#444444" transform="translate(60.91 585.53) scale(1 1.1) translate(-60.91 -585.53)">Pre-NAC</text>
<line x1="110.09" y1="575.4" x2="110.09" y2="578" stroke="#4a4a4a" stroke-width="1.1"/>
<text x="110.09" y="585.53" font-size="7.4" stroke="#444444" stroke-width="0.22" text-anchor="middle" fill="#444444" transform="translate(110.09 585.53) scale(1 1.1) translate(-110.09 -585.53)">NAC-3 weeks</text>
<rect x="163.8" y="447.8" width="107.7" height="14.4" fill="#d9d9d9" stroke="#707070" stroke-width="0.9"/>
<text x="217.65" y="457.66" font-size="7.6" stroke="#1a1a1a" stroke-width="0.05" text-anchor="middle" fill="#1a1a1a" transform="translate(217.65 457.66) scale(1 1.1) translate(-217.65 -457.66)">Signature CCNDs</text>
<rect x="163.8" y="462.2" width="107.7" height="113.2" fill="#fff"/>
<line x1="163.8" y1="559.9" x2="271.5" y2="559.9" stroke="#f3f3f3" stroke-width="0.45"/>
<line x1="163.8" y1="532.1" x2="271.5" y2="532.1" stroke="#f3f3f3" stroke-width="0.45"/>
<line x1="163.8" y1="504.3" x2="271.5" y2="504.3" stroke="#f3f3f3" stroke-width="0.45"/>
<line x1="163.8" y1="476.5" x2="271.5" y2="476.5" stroke="#f3f3f3" stroke-width="0.45"/>
<line x1="193.17" y1="462.2" x2="193.17" y2="575.4" stroke="#e8e8e8" stroke-width="0.7"/>
<line x1="242.13" y1="462.2" x2="242.13" y2="575.4" stroke="#e8e8e8" stroke-width="0.7"/>
<line x1="163.8" y1="573.8" x2="271.5" y2="573.8" stroke="#e8e8e8" stroke-width="0.7"/>
<line x1="163.8" y1="546" x2="271.5" y2="546" stroke="#e8e8e8" stroke-width="0.7"/>
<line x1="163.8" y1="518.2" x2="271.5" y2="518.2" stroke="#e8e8e8" stroke-width="0.7"/>
<line x1="163.8" y1="490.4" x2="271.5" y2="490.4" stroke="#e8e8e8" stroke-width="0.7"/>
<path d="M193.17 550.4 L242.13 510.98 L242.13 530.98 L193.17 569.4Z" fill="#5599ee" fill-opacity="0.25"/>
<path d="M193.17 554.39 L242.13 515.18 L242.13 526.78 L193.17 565.41Z" fill="#5599ee" fill-opacity="0.25"/>
<path d="M193.17 557.24 L242.13 518.18 L242.13 523.78 L193.17 562.56Z" fill="#5599ee" fill-opacity="0.25"/>
<line x1="193.17" y1="559.9" x2="242.13" y2="520.98" stroke="#5fa2f5" stroke-width="1.5"/>
<path d="M193.17 544.12 L242.13 468.15 L242.13 498.75 L193.17 570.12Z" fill="#33dd11" fill-opacity="0.25"/>
<path d="M193.17 549.58 L242.13 474.58 L242.13 492.32 L193.17 564.66Z" fill="#33dd11" fill-opacity="0.25"/>
<path d="M193.17 553.48 L242.13 479.17 L242.13 487.73 L193.17 560.76Z" fill="#33dd11" fill-opacity="0.25"/>
<line x1="193.17" y1="557.12" x2="242.13" y2="483.45" stroke="#3ee61a" stroke-width="1.5"/>
<rect x="163.8" y="462.2" width="107.7" height="113.2" fill="none" stroke="#707070" stroke-width="0.9"/>
<line x1="161.2" y1="573.8" x2="163.8" y2="573.8" stroke="#4a4a4a" stroke-width="1.1"/>
<text x="159.3" y="576.35" font-size="7.3" stroke="#444444" stroke-width="0.22" text-anchor="end" fill="#444444" transform="translate(159.3 576.35) scale(1 1.1) translate(-159.3 -576.35)">-0.2</text>
<line x1="161.2" y1="546" x2="163.8" y2="546" stroke="#4a4a4a" stroke-width="1.1"/>
<text x="159.3" y="548.55" font-size="7.3" stroke="#444444" stroke-width="0.22" text-anchor="end" fill="#444444" transform="translate(159.3 548.55) scale(1 1.1) translate(-159.3 -548.55)">0.0</text>
<line x1="161.2" y1="518.2" x2="163.8" y2="518.2" stroke="#4a4a4a" stroke-width="1.1"/>
<text x="159.3" y="520.75" font-size="7.3" stroke="#444444" stroke-width="0.22" text-anchor="end" fill="#444444" transform="translate(159.3 520.75) scale(1 1.1) translate(-159.3 -520.75)">0.2</text>
<line x1="161.2" y1="490.4" x2="163.8" y2="490.4" stroke="#4a4a4a" stroke-width="1.1"/>
<text x="159.3" y="492.95" font-size="7.3" stroke="#444444" stroke-width="0.22" text-anchor="end" fill="#444444" transform="translate(159.3 492.95) scale(1 1.1) translate(-159.3 -492.95)">0.4</text>
<line x1="193.17" y1="575.4" x2="193.17" y2="578" stroke="#4a4a4a" stroke-width="1.1"/>
<text x="193.17" y="585.53" font-size="7.4" stroke="#444444" stroke-width="0.22" text-anchor="middle" fill="#444444" transform="translate(193.17 585.53) scale(1 1.1) translate(-193.17 -585.53)">Pre-NAC</text>
<line x1="242.13" y1="575.4" x2="242.13" y2="578" stroke="#4a4a4a" stroke-width="1.1"/>
<text x="242.13" y="585.53" font-size="7.4" stroke="#444444" stroke-width="0.22" text-anchor="middle" fill="#444444" transform="translate(242.13 585.53) scale(1 1.1) translate(-242.13 -585.53)">NAC-3 weeks</text>
<text x="12" y="519" font-size="9.45" stroke="#000" stroke-width="0.12" text-anchor="middle" transform="rotate(-90 12 519) translate(12 519) scale(1 1.1) translate(-12 -519)">Regressed scores</text>
<text x="286" y="509.4" font-size="9.4" stroke="#000" stroke-width="0.12" transform="translate(286 509.4) scale(1 1.1) translate(-286 -509.4)">pCR status</text>
<rect x="286" y="515" width="10.6" height="11.2" fill="#33dd11" fill-opacity="0.3"/>
<line x1="287" y1="520.6" x2="295.6" y2="520.6" stroke="#3ee61a" stroke-width="0.5" stroke-opacity="0.6"/>
<text x="301.4" y="523.2" font-size="7.6" stroke="#000" stroke-width="0.14" transform="translate(301.4 523.2) scale(1 1.1) translate(-301.4 -523.2)">pCR</text>
<rect x="286" y="526.2" width="10.6" height="11.2" fill="#5599ee" fill-opacity="0.3"/>
<line x1="287" y1="531.8" x2="295.6" y2="531.8" stroke="#5fa2f5" stroke-width="0.5" stroke-opacity="0.6"/>
<text x="301.4" y="534.4" font-size="7.6" stroke="#000" stroke-width="0.14" transform="translate(301.4 534.4) scale(1 1.1) translate(-301.4 -534.4)">non-pCR</text>
<text x="356" y="454" font-size="16" font-weight="bold">d</text>
<rect x="377.4" y="447.7" width="116.1" height="14.8" fill="#d9d9d9" stroke="#707070" stroke-width="0.9"/>
<text x="435.45" y="457.76" font-size="7.6" stroke="#1a1a1a" stroke-width="0.05" text-anchor="middle" fill="#1a1a1a" transform="translate(435.45 457.76) scale(1 1.1) translate(-435.45 -457.76)">Pre-NAC</text>
<rect x="377.4" y="462.5" width="116.1" height="112.5" fill="#fff"/>
<line x1="393" y1="462.5" x2="393" y2="575" stroke="#f3f3f3" stroke-width="0.45"/>
<line x1="426.4" y1="462.5" x2="426.4" y2="575" stroke="#f3f3f3" stroke-width="0.45"/>
<line x1="459.8" y1="462.5" x2="459.8" y2="575" stroke="#f3f3f3" stroke-width="0.45"/>
<line x1="493.2" y1="462.5" x2="493.2" y2="575" stroke="#f3f3f3" stroke-width="0.45"/>
<line x1="377.4" y1="560.9" x2="493.5" y2="560.9" stroke="#f3f3f3" stroke-width="0.45"/>
<line x1="377.4" y1="538.1" x2="493.5" y2="538.1" stroke="#f3f3f3" stroke-width="0.45"/>
<line x1="377.4" y1="515.3" x2="493.5" y2="515.3" stroke="#f3f3f3" stroke-width="0.45"/>
<line x1="377.4" y1="492.5" x2="493.5" y2="492.5" stroke="#f3f3f3" stroke-width="0.45"/>
<line x1="377.4" y1="469.7" x2="493.5" y2="469.7" stroke="#f3f3f3" stroke-width="0.45"/>
<line x1="409.7" y1="462.5" x2="409.7" y2="575" stroke="#e8e8e8" stroke-width="0.7"/>
<line x1="443.1" y1="462.5" x2="443.1" y2="575" stroke="#e8e8e8" stroke-width="0.7"/>
<line x1="476.5" y1="462.5" x2="476.5" y2="575" stroke="#e8e8e8" stroke-width="0.7"/>
<line x1="377.4" y1="572.3" x2="493.5" y2="572.3" stroke="#e8e8e8" stroke-width="0.7"/>
<line x1="377.4" y1="549.5" x2="493.5" y2="549.5" stroke="#e8e8e8" stroke-width="0.7"/>
<line x1="377.4" y1="526.7" x2="493.5" y2="526.7" stroke="#e8e8e8" stroke-width="0.7"/>
<line x1="377.4" y1="503.9" x2="493.5" y2="503.9" stroke="#e8e8e8" stroke-width="0.7"/>
<line x1="377.4" y1="481.1" x2="493.5" y2="481.1" stroke="#e8e8e8" stroke-width="0.7"/>
<circle cx="383.18" cy="570.02" r="1.35" fill="#44d62c"/>
<circle cx="396.67" cy="533.4" r="1.35" fill="#44d62c"/>
<circle cx="403.82" cy="531.58" r="1.35" fill="#44d62c"/>
<circle cx="410.57" cy="519.4" r="1.35" fill="#44d62c"/>
<circle cx="414.78" cy="542.11" r="1.35" fill="#44d62c"/>
<circle cx="428.67" cy="523.6" r="1.35" fill="#44d62c"/>
<circle cx="427.74" cy="524.65" r="1.35" fill="#44d62c"/>
<circle cx="431.48" cy="538.1" r="1.35" fill="#44d62c"/>
<circle cx="436.82" cy="512.38" r="1.35" fill="#44d62c"/>
<circle cx="437.22" cy="518.31" r="1.35" fill="#44d62c"/>
<circle cx="447.78" cy="505.91" r="1.35" fill="#44d62c"/>
<circle cx="454.72" cy="499.61" r="1.35" fill="#44d62c"/>
<circle cx="458.93" cy="497.7" r="1.35" fill="#44d62c"/>
<circle cx="464.68" cy="507" r="1.35" fill="#44d62c"/>
<circle cx="468.15" cy="488.4" r="1.35" fill="#44d62c"/>
<circle cx="477.84" cy="490.22" r="1.35" fill="#44d62c"/>
<circle cx="403.15" cy="533.9" r="1.35" fill="#619cff"/>
<circle cx="414.78" cy="528.3" r="1.35" fill="#619cff"/>
<circle cx="416.38" cy="539.92" r="1.35" fill="#619cff"/>
<circle cx="415.91" cy="554.06" r="1.35" fill="#619cff"/>
<circle cx="427.47" cy="508.92" r="1.35" fill="#619cff"/>
<circle cx="431.48" cy="531.12" r="1.35" fill="#619cff"/>
<circle cx="432.68" cy="516.67" r="1.35" fill="#619cff"/>
<circle cx="433.75" cy="535.36" r="1.35" fill="#619cff"/>
<circle cx="436.55" cy="535.36" r="1.35" fill="#619cff"/>
<circle cx="434.95" cy="528.8" r="1.35" fill="#619cff"/>
<circle cx="440.03" cy="528.3" r="1.35" fill="#619cff"/>
<circle cx="442.43" cy="521.82" r="1.35" fill="#619cff"/>
<circle cx="444.7" cy="520.64" r="1.35" fill="#619cff"/>
<circle cx="448.18" cy="504.22" r="1.35" fill="#619cff"/>
<circle cx="450.05" cy="511.2" r="1.35" fill="#619cff"/>
<circle cx="453.52" cy="513.57" r="1.35" fill="#619cff"/>
<circle cx="451.92" cy="511.2" r="1.35" fill="#619cff"/>
<circle cx="468.62" cy="503.12" r="1.35" fill="#619cff"/>
<circle cx="481.38" cy="489.54" r="1.35" fill="#619cff"/>
<circle cx="429.74" cy="521.23" r="1.35" fill="#619cff"/>
<circle cx="435.08" cy="517.58" r="1.35" fill="#619cff"/>
<circle cx="443.1" cy="516.21" r="1.35" fill="#619cff"/>
<path d="M382.31 543.8 L384.76 542.61 L387.21 541.42 L389.66 540.23 L392.11 539.04 L394.56 537.85 L397.01 536.65 L399.46 535.46 L401.91 534.25 L404.36 533.05 L406.81 531.84 L409.25 530.62 L411.7 529.39 L414.15 528.16 L416.6 526.91 L419.05 525.64 L421.5 524.35 L423.95 523.02 L426.4 521.64 L428.85 520.21 L431.3 518.69 L433.75 517.07 L436.2 515.35 L438.65 513.53 L441.1 511.63 L443.55 509.67 L445.99 507.66 L448.44 505.63 L450.89 503.56 L453.34 501.48 L455.79 499.39 L458.24 497.29 L460.69 495.18 L463.14 493.06 L465.59 490.94 L468.04 488.81 L470.49 486.68 L472.94 484.55 L475.39 482.42 L477.84 480.28 L477.84 498.52 L475.39 499.71 L472.94 500.9 L470.49 502.1 L468.04 503.3 L465.59 504.5 L463.14 505.7 L460.69 506.91 L458.24 508.13 L455.79 509.36 L453.34 510.59 L450.89 511.84 L448.44 513.1 L445.99 514.39 L443.55 515.72 L441.1 517.08 L438.65 518.51 L436.2 520.02 L433.75 521.63 L431.3 523.34 L428.85 525.14 L426.4 527.03 L423.95 528.99 L421.5 530.99 L419.05 533.02 L416.6 535.08 L414.15 537.16 L411.7 539.25 L409.25 541.35 L406.81 543.46 L404.36 545.58 L401.91 547.7 L399.46 549.83 L397.01 551.96 L394.56 554.09 L392.11 556.22 L389.66 558.36 L387.21 560.5 L384.76 562.64 L382.31 564.78Z" fill="#999999" fill-opacity="0.4"/>
<path d="M403.02 535.14 L405.04 534.26 L407.05 533.39 L409.07 532.51 L411.08 531.63 L413.1 530.74 L415.12 529.85 L417.13 528.95 L419.15 528.04 L421.16 527.12 L423.18 526.19 L425.2 525.24 L427.21 524.27 L429.23 523.26 L431.24 522.21 L433.26 521.11 L435.28 519.95 L437.29 518.71 L439.31 517.4 L441.32 516.01 L443.34 514.56 L445.36 513.05 L447.37 511.51 L449.39 509.93 L451.4 508.33 L453.42 506.71 L455.44 505.08 L457.45 503.44 L459.47 501.79 L461.48 500.13 L463.5 498.47 L465.52 496.81 L467.53 495.14 L469.55 493.46 L471.56 491.79 L473.58 490.11 L475.6 488.43 L477.61 486.75 L479.63 485.06 L481.64 483.38 L481.64 502.53 L479.63 503.4 L477.61 504.26 L475.6 505.13 L473.58 506 L471.56 506.87 L469.55 507.74 L467.53 508.62 L465.52 509.5 L463.5 510.38 L461.48 511.27 L459.47 512.16 L457.45 513.06 L455.44 513.96 L453.42 514.88 L451.4 515.81 L449.39 516.76 L447.37 517.74 L445.36 518.74 L443.34 519.78 L441.32 520.88 L439.31 522.04 L437.29 523.27 L435.28 524.59 L433.26 525.97 L431.24 527.42 L429.23 528.92 L427.21 530.47 L425.2 532.04 L423.18 533.64 L421.16 535.26 L419.15 536.89 L417.13 538.53 L415.12 540.18 L413.1 541.84 L411.08 543.5 L409.07 545.16 L407.05 546.84 L405.04 548.51 L403.02 550.18Z" fill="#999999" fill-opacity="0.4"/>
<line x1="382.31" y1="554.29" x2="477.84" y2="489.4" stroke="#3fd81f" stroke-width="1.3"/>
<line x1="403.02" y1="542.66" x2="481.64" y2="492.96" stroke="#5a9cf5" stroke-width="1.3"/>
<rect x="377.4" y="462.5" width="116.1" height="112.5" fill="none" stroke="#707070" stroke-width="0.9"/>
<line x1="409.7" y1="575" x2="409.7" y2="577.6" stroke="#4a4a4a" stroke-width="1.1"/>
<text x="409.7" y="585.06" font-size="7.3" stroke="#444444" stroke-width="0.22" text-anchor="middle" fill="#444444" transform="translate(409.7 585.06) scale(1 1.1) translate(-409.7 -585.06)">-0.5</text>
<line x1="443.1" y1="575" x2="443.1" y2="577.6" stroke="#4a4a4a" stroke-width="1.1"/>
<text x="443.1" y="585.06" font-size="7.3" stroke="#444444" stroke-width="0.22" text-anchor="middle" fill="#444444" transform="translate(443.1 585.06) scale(1 1.1) translate(-443.1 -585.06)">0.0</text>
<line x1="476.5" y1="575" x2="476.5" y2="577.6" stroke="#4a4a4a" stroke-width="1.1"/>
<text x="476.5" y="585.06" font-size="7.3" stroke="#444444" stroke-width="0.22" text-anchor="middle" fill="#444444" transform="translate(476.5 585.06) scale(1 1.1) translate(-476.5 -585.06)">0.5</text>
<line x1="374.8" y1="572.3" x2="377.4" y2="572.3" stroke="#4a4a4a" stroke-width="1.1"/>
<text x="372.9" y="574.86" font-size="7.3" stroke="#444444" stroke-width="0.22" text-anchor="end" fill="#444444" transform="translate(372.9 574.86) scale(1 1.1) translate(-372.9 -574.86)">-10</text>
<line x1="374.8" y1="549.5" x2="377.4" y2="549.5" stroke="#4a4a4a" stroke-width="1.1"/>
<text x="372.9" y="552.05" font-size="7.3" stroke="#444444" stroke-width="0.22" text-anchor="end" fill="#444444" transform="translate(372.9 552.05) scale(1 1.1) translate(-372.9 -552.05)">-5</text>
<line x1="374.8" y1="526.7" x2="377.4" y2="526.7" stroke="#4a4a4a" stroke-width="1.1"/>
<text x="372.9" y="529.25" font-size="7.3" stroke="#444444" stroke-width="0.22" text-anchor="end" fill="#444444" transform="translate(372.9 529.25) scale(1 1.1) translate(-372.9 -529.25)">0</text>
<line x1="374.8" y1="503.9" x2="377.4" y2="503.9" stroke="#4a4a4a" stroke-width="1.1"/>
<text x="372.9" y="506.46" font-size="7.3" stroke="#444444" stroke-width="0.22" text-anchor="end" fill="#444444" transform="translate(372.9 506.46) scale(1 1.1) translate(-372.9 -506.46)">5</text>
<line x1="374.8" y1="481.1" x2="377.4" y2="481.1" stroke="#4a4a4a" stroke-width="1.1"/>
<text x="372.9" y="483.66" font-size="7.3" stroke="#444444" stroke-width="0.22" text-anchor="end" fill="#444444" transform="translate(372.9 483.66) scale(1 1.1) translate(-372.9 -483.66)">10</text>
<rect x="498.5" y="447.7" width="116.7" height="14.8" fill="#d9d9d9" stroke="#707070" stroke-width="0.9"/>
<text x="556.85" y="457.76" font-size="7.6" stroke="#1a1a1a" stroke-width="0.05" text-anchor="middle" fill="#1a1a1a" transform="translate(556.85 457.76) scale(1 1.1) translate(-556.85 -457.76)">NAC-3 weeks</text>
<rect x="498.5" y="462.5" width="116.7" height="112.5" fill="#fff"/>
<line x1="514.1" y1="462.5" x2="514.1" y2="575" stroke="#f3f3f3" stroke-width="0.45"/>
<line x1="547.5" y1="462.5" x2="547.5" y2="575" stroke="#f3f3f3" stroke-width="0.45"/>
<line x1="580.9" y1="462.5" x2="580.9" y2="575" stroke="#f3f3f3" stroke-width="0.45"/>
<line x1="614.3" y1="462.5" x2="614.3" y2="575" stroke="#f3f3f3" stroke-width="0.45"/>
<line x1="498.5" y1="560.9" x2="615.2" y2="560.9" stroke="#f3f3f3" stroke-width="0.45"/>
<line x1="498.5" y1="538.1" x2="615.2" y2="538.1" stroke="#f3f3f3" stroke-width="0.45"/>
<line x1="498.5" y1="515.3" x2="615.2" y2="515.3" stroke="#f3f3f3" stroke-width="0.45"/>
<line x1="498.5" y1="492.5" x2="615.2" y2="492.5" stroke="#f3f3f3" stroke-width="0.45"/>
<line x1="498.5" y1="469.7" x2="615.2" y2="469.7" stroke="#f3f3f3" stroke-width="0.45"/>
<line x1="530.8" y1="462.5" x2="530.8" y2="575" stroke="#e8e8e8" stroke-width="0.7"/>
<line x1="564.2" y1="462.5" x2="564.2" y2="575" stroke="#e8e8e8" stroke-width="0.7"/>
<line x1="597.6" y1="462.5" x2="597.6" y2="575" stroke="#e8e8e8" stroke-width="0.7"/>
<line x1="498.5" y1="572.3" x2="615.2" y2="572.3" stroke="#e8e8e8" stroke-width="0.7"/>
<line x1="498.5" y1="549.5" x2="615.2" y2="549.5" stroke="#e8e8e8" stroke-width="0.7"/>
<line x1="498.5" y1="526.7" x2="615.2" y2="526.7" stroke="#e8e8e8" stroke-width="0.7"/>
<line x1="498.5" y1="503.9" x2="615.2" y2="503.9" stroke="#e8e8e8" stroke-width="0.7"/>
<line x1="498.5" y1="481.1" x2="615.2" y2="481.1" stroke="#e8e8e8" stroke-width="0.7"/>
<circle cx="609.49" cy="474.26" r="1.35" fill="#44d62c"/>
<circle cx="587.98" cy="487.03" r="1.35" fill="#44d62c"/>
<circle cx="592.79" cy="487.03" r="1.35" fill="#44d62c"/>
<circle cx="585.11" cy="490.22" r="1.35" fill="#44d62c"/>
<circle cx="576.49" cy="500.71" r="1.35" fill="#44d62c"/>
<circle cx="578.5" cy="497.52" r="1.35" fill="#44d62c"/>
<circle cx="594.26" cy="500.25" r="1.35" fill="#44d62c"/>
<circle cx="595.6" cy="498.88" r="1.35" fill="#44d62c"/>
<circle cx="580.83" cy="517.58" r="1.35" fill="#44d62c"/>
<circle cx="605.15" cy="485.66" r="1.35" fill="#44d62c"/>
<circle cx="590.92" cy="491.59" r="1.35" fill="#44d62c"/>
<circle cx="537.21" cy="539.01" r="1.35" fill="#619cff"/>
<circle cx="555.05" cy="509.19" r="1.35" fill="#619cff"/>
<circle cx="557.05" cy="502.62" r="1.35" fill="#619cff"/>
<circle cx="563" cy="502.62" r="1.35" fill="#619cff"/>
<circle cx="563" cy="526.02" r="1.35" fill="#619cff"/>
<circle cx="565" cy="511.65" r="1.35" fill="#619cff"/>
<circle cx="568.48" cy="515.3" r="1.35" fill="#619cff"/>
<circle cx="572.22" cy="500.71" r="1.35" fill="#619cff"/>
<circle cx="572.75" cy="513.48" r="1.35" fill="#619cff"/>
<circle cx="577.09" cy="493.41" r="1.35" fill="#619cff"/>
<circle cx="577.89" cy="514.62" r="1.35" fill="#619cff"/>
<circle cx="578.5" cy="521.41" r="1.35" fill="#619cff"/>
<circle cx="579.9" cy="482.92" r="1.35" fill="#619cff"/>
<circle cx="582.24" cy="483.61" r="1.35" fill="#619cff"/>
<circle cx="583.57" cy="513.48" r="1.35" fill="#619cff"/>
<circle cx="589.38" cy="489.76" r="1.35" fill="#619cff"/>
<circle cx="599.4" cy="489.76" r="1.35" fill="#619cff"/>
<circle cx="603.61" cy="484.29" r="1.35" fill="#619cff"/>
<circle cx="607.15" cy="488.4" r="1.35" fill="#619cff"/>
<circle cx="578.9" cy="495.69" r="1.35" fill="#619cff"/>
<circle cx="584.24" cy="492.5" r="1.35" fill="#619cff"/>
<path d="M538.15 518.49 L539.98 517.75 L541.8 517 L543.63 516.26 L545.46 515.5 L547.29 514.75 L549.11 513.99 L550.94 513.23 L552.77 512.46 L554.6 511.68 L556.42 510.89 L558.25 510.1 L560.08 509.28 L561.91 508.45 L563.73 507.6 L565.56 506.72 L567.39 505.8 L569.22 504.83 L571.04 503.8 L572.87 502.69 L574.7 501.51 L576.53 500.24 L578.35 498.89 L580.18 497.46 L582.01 495.98 L583.84 494.45 L585.67 492.88 L587.49 491.28 L589.32 489.66 L591.15 488.02 L592.98 486.36 L594.8 484.7 L596.63 483.02 L598.46 481.34 L600.29 479.66 L602.11 477.96 L603.94 476.27 L605.77 474.57 L607.6 472.86 L609.42 471.16 L609.42 491.22 L607.6 491.97 L605.77 492.72 L603.94 493.47 L602.11 494.22 L600.29 494.98 L598.46 495.74 L596.63 496.51 L594.8 497.29 L592.98 498.08 L591.15 498.87 L589.32 499.68 L587.49 500.51 L585.67 501.36 L583.84 502.24 L582.01 503.16 L580.18 504.13 L578.35 505.16 L576.53 506.26 L574.7 507.44 L572.87 508.7 L571.04 510.05 L569.22 511.47 L567.39 512.95 L565.56 514.48 L563.73 516.05 L561.91 517.65 L560.08 519.27 L558.25 520.91 L556.42 522.56 L554.6 524.22 L552.77 525.9 L550.94 527.58 L549.11 529.26 L547.29 530.96 L545.46 532.65 L543.63 534.35 L541.8 536.06 L539.98 537.76 L538.15 539.47Z" fill="#999999" fill-opacity="0.4"/>
<path d="M576.89 493.09 L577.73 493.04 L578.56 492.98 L579.39 492.93 L580.23 492.86 L581.06 492.8 L581.9 492.73 L582.73 492.65 L583.57 492.57 L584.4 492.48 L585.23 492.37 L586.07 492.25 L586.9 492.11 L587.74 491.94 L588.57 491.74 L589.4 491.49 L590.24 491.17 L591.07 490.76 L591.91 490.26 L592.74 489.64 L593.57 488.91 L594.41 488.09 L595.24 487.2 L596.08 486.25 L596.91 485.25 L597.75 484.23 L598.58 483.18 L599.41 482.11 L600.25 481.04 L601.08 479.95 L601.92 478.85 L602.75 477.75 L603.58 476.64 L604.42 475.52 L605.25 474.41 L606.09 473.29 L606.92 472.17 L607.76 471.04 L608.59 469.92 L609.42 468.79 L609.42 492.5 L608.59 492.55 L607.76 492.6 L606.92 492.65 L606.09 492.7 L605.25 492.76 L604.42 492.82 L603.58 492.88 L602.75 492.95 L601.92 493.02 L601.08 493.1 L600.25 493.19 L599.41 493.29 L598.58 493.4 L597.75 493.53 L596.91 493.68 L596.08 493.86 L595.24 494.09 L594.41 494.37 L593.57 494.73 L592.74 495.18 L591.91 495.73 L591.07 496.4 L590.24 497.17 L589.4 498.03 L588.57 498.95 L587.74 499.93 L586.9 500.93 L586.07 501.97 L585.23 503.03 L584.4 504.1 L583.57 505.18 L582.73 506.27 L581.9 507.37 L581.06 508.48 L580.23 509.59 L579.39 510.71 L578.56 511.82 L577.73 512.95 L576.89 514.07Z" fill="#999999" fill-opacity="0.4"/>
<line x1="538.15" y1="528.98" x2="609.42" y2="481.19" stroke="#5a9cf5" stroke-width="1.3"/>
<line x1="576.89" y1="503.58" x2="609.42" y2="480.64" stroke="#3fd81f" stroke-width="1.3"/>
<rect x="498.5" y="462.5" width="116.7" height="112.5" fill="none" stroke="#707070" stroke-width="0.9"/>
<line x1="530.8" y1="575" x2="530.8" y2="577.6" stroke="#4a4a4a" stroke-width="1.1"/>
<text x="530.8" y="585.06" font-size="7.3" stroke="#444444" stroke-width="0.22" text-anchor="middle" fill="#444444" transform="translate(530.8 585.06) scale(1 1.1) translate(-530.8 -585.06)">-0.5</text>
<line x1="564.2" y1="575" x2="564.2" y2="577.6" stroke="#4a4a4a" stroke-width="1.1"/>
<text x="564.2" y="585.06" font-size="7.3" stroke="#444444" stroke-width="0.22" text-anchor="middle" fill="#444444" transform="translate(564.2 585.06) scale(1 1.1) translate(-564.2 -585.06)">0.0</text>
<line x1="597.6" y1="575" x2="597.6" y2="577.6" stroke="#4a4a4a" stroke-width="1.1"/>
<text x="597.6" y="585.06" font-size="7.3" stroke="#444444" stroke-width="0.22" text-anchor="middle" fill="#444444" transform="translate(597.6 585.06) scale(1 1.1) translate(-597.6 -585.06)">0.5</text>
<text x="356.2" y="518.8" font-size="9.45" stroke="#000" stroke-width="0.12" text-anchor="middle" transform="rotate(-90 356.2 518.8) translate(356.2 518.8) scale(1 1.1) translate(-356.2 -518.8)">Hallmark Apoptosis</text>
<text x="496" y="597" font-size="9.45" stroke="#000" stroke-width="0.12" text-anchor="middle" transform="translate(496 597) scale(1 1.1) translate(-496 -597)">Signature CCNDs</text>
<text x="629.5" y="509.2" font-size="9.4" stroke="#000" stroke-width="0.12" transform="translate(629.5 509.2) scale(1 1.1) translate(-629.5 -509.2)">pCR status</text>
<rect x="629.5" y="515.6" width="10" height="21.6" fill="#d6d6d6"/>
<line x1="630.5" y1="521" x2="638.5" y2="521" stroke="#3ee61a" stroke-width="0.9"/>
<circle cx="634.5" cy="521" r="1.3" fill="#3ee61a"/>
<text x="644.3" y="523.6" font-size="7.6" stroke="#000" stroke-width="0.14" transform="translate(644.3 523.6) scale(1 1.1) translate(-644.3 -523.6)">pCR</text>
<line x1="630.5" y1="531.8" x2="638.5" y2="531.8" stroke="#5fa2f5" stroke-width="0.9"/>
<circle cx="634.5" cy="531.8" r="1.3" fill="#5fa2f5"/>
<text x="644.3" y="534.4" font-size="7.6" stroke="#000" stroke-width="0.14" transform="translate(644.3 534.4) scale(1 1.1) translate(-644.3 -534.4)">non-pCR</text>
<text x="0.6" y="618.4" font-size="16" font-weight="bold">e</text>
<rect x="31.5" y="608.3" width="181.7" height="15" fill="#d9d9d9" stroke="#707070" stroke-width="0.9"/>
<text x="122.35" y="618.46" font-size="7.6" stroke="#1a1a1a" stroke-width="0.05" text-anchor="middle" fill="#1a1a1a" transform="translate(122.35 618.46) scale(1 1.1) translate(-122.35 -618.46)">Hallmark Apoptosis</text>
<rect x="31.5" y="623.3" width="181.7" height="112.8" fill="#fff"/>
<line x1="28.81" y1="623.3" x2="28.81" y2="736.1" stroke="#f3f3f3" stroke-width="0.45"/>
<line x1="82.59" y1="623.3" x2="82.59" y2="736.1" stroke="#f3f3f3" stroke-width="0.45"/>
<line x1="136.38" y1="623.3" x2="136.38" y2="736.1" stroke="#f3f3f3" stroke-width="0.45"/>
<line x1="190.18" y1="623.3" x2="190.18" y2="736.1" stroke="#f3f3f3" stroke-width="0.45"/>
<line x1="31.5" y1="712.25" x2="213.2" y2="712.25" stroke="#f3f3f3" stroke-width="0.45"/>
<line x1="31.5" y1="674.75" x2="213.2" y2="674.75" stroke="#f3f3f3" stroke-width="0.45"/>
<line x1="31.5" y1="637.25" x2="213.2" y2="637.25" stroke="#f3f3f3" stroke-width="0.45"/>
<line x1="55.7" y1="623.3" x2="55.7" y2="736.1" stroke="#e8e8e8" stroke-width="0.7"/>
<line x1="109.49" y1="623.3" x2="109.49" y2="736.1" stroke="#e8e8e8" stroke-width="0.7"/>
<line x1="163.28" y1="623.3" x2="163.28" y2="736.1" stroke="#e8e8e8" stroke-width="0.7"/>
<line x1="31.5" y1="731" x2="213.2" y2="731" stroke="#e8e8e8" stroke-width="0.7"/>
<line x1="31.5" y1="693.5" x2="213.2" y2="693.5" stroke="#e8e8e8" stroke-width="0.7"/>
<line x1="31.5" y1="656" x2="213.2" y2="656" stroke="#e8e8e8" stroke-width="0.7"/>
<path d="M79.01 731 L80.06 730.96 L81.12 730.85 L82.17 730.67 L83.23 730.44 L84.28 730.15 L85.34 729.82 L86.39 729.44 L87.45 729.03 L88.5 728.6 L89.56 728.15 L90.61 727.68 L91.67 727.2 L92.72 726.66 L93.77 726 L94.83 725.25 L95.88 724.4 L96.94 723.47 L97.99 722.45 L99.05 721.37 L100.1 720.22 L101.16 718.99 L102.21 717.52 L103.27 715.85 L104.32 714 L105.38 712.01 L106.43 709.91 L107.49 707.73 L108.54 705.51 L109.6 703.27 L110.65 701.06 L111.7 698.9 L112.76 696.82 L113.81 694.73 L114.87 692.59 L115.92 690.43 L116.98 688.26 L118.03 686.11 L119.09 683.99 L120.14 681.93 L121.2 679.94 L122.25 677.89 L123.31 675.79 L124.36 673.74 L125.42 671.87 L126.47 670.26 L127.53 669.02 L128.58 668.03 L129.63 667.16 L130.69 666.41 L131.74 665.79 L132.8 665.3 L133.85 664.85 L134.91 664.44 L135.96 664.11 L137.02 663.91 L138.07 663.99 L139.13 664.98 L140.18 666.41 L141.24 667.64 L142.29 668.76 L143.35 669.87 L144.4 670.95 L145.46 671.93 L146.51 672.83 L147.56 673.73 L148.62 674.74 L149.67 675.93 L150.73 677.43 L151.78 679.19 L152.84 681.15 L153.89 683.23 L154.95 685.36 L156 687.48 L157.06 689.5 L158.11 691.36 L159.17 693.15 L160.22 694.91 L161.28 696.64 L162.33 698.35 L163.39 700.06 L164.44 701.77 L165.49 703.48 L166.55 705.22 L167.6 706.99 L168.66 708.83 L169.71 710.83 L170.77 712.88 L171.82 714.89 L172.88 716.76 L173.93 718.37 L174.99 719.66 L176.04 720.81 L177.1 721.89 L178.15 722.88 L179.21 723.79 L180.26 724.61 L181.32 725.34 L182.37 725.98 L183.42 726.52 L184.48 727.02 L185.53 727.48 L186.59 727.9 L187.64 728.28 L188.7 728.63 L189.75 728.93 L190.81 729.18 L191.86 729.4 L192.92 729.6 L193.97 729.8 L195.03 730 L196.08 730.18 L197.14 730.35 L198.19 730.51 L199.25 730.65 L200.3 730.77 L201.35 730.87 L202.41 730.94 L203.46 730.98 L204.52 731 L204.52 731 L79.01 731Z" fill="#33f311" fill-opacity="0.82"/>
<path d="M79.01 731 L80.06 730.96 L81.12 730.85 L82.17 730.67 L83.23 730.44 L84.28 730.15 L85.34 729.82 L86.39 729.44 L87.45 729.03 L88.5 728.6 L89.56 728.15 L90.61 727.68 L91.67 727.2 L92.72 726.66 L93.77 726 L94.83 725.25 L95.88 724.4 L96.94 723.47 L97.99 722.45 L99.05 721.37 L100.1 720.22 L101.16 718.99 L102.21 717.52 L103.27 715.85 L104.32 714 L105.38 712.01 L106.43 709.91 L107.49 707.73 L108.54 705.51 L109.6 703.27 L110.65 701.06 L111.7 698.9 L112.76 696.82 L113.81 694.73 L114.87 692.59 L115.92 690.43 L116.98 688.26 L118.03 686.11 L119.09 683.99 L120.14 681.93 L121.2 679.94 L122.25 677.89 L123.31 675.79 L124.36 673.74 L125.42 671.87 L126.47 670.26 L127.53 669.02 L128.58 668.03 L129.63 667.16 L130.69 666.41 L131.74 665.79 L132.8 665.3 L133.85 664.85 L134.91 664.44 L135.96 664.11 L137.02 663.91 L138.07 663.99 L139.13 664.98 L140.18 666.41 L141.24 667.64 L142.29 668.76 L143.35 669.87 L144.4 670.95 L145.46 671.93 L146.51 672.83 L147.56 673.73 L148.62 674.74 L149.67 675.93 L150.73 677.43 L151.78 679.19 L152.84 681.15 L153.89 683.23 L154.95 685.36 L156 687.48 L157.06 689.5 L158.11 691.36 L159.17 693.15 L160.22 694.91 L161.28 696.64 L162.33 698.35 L163.39 700.06 L164.44 701.77 L165.49 703.48 L166.55 705.22 L167.6 706.99 L168.66 708.83 L169.71 710.83 L170.77 712.88 L171.82 714.89 L172.88 716.76 L173.93 718.37 L174.99 719.66 L176.04 720.81 L177.1 721.89 L178.15 722.88 L179.21 723.79 L180.26 724.61 L181.32 725.34 L182.37 725.98 L183.42 726.52 L184.48 727.02 L185.53 727.48 L186.59 727.9 L187.64 728.28 L188.7 728.63 L189.75 728.93 L190.81 729.18 L191.86 729.4 L192.92 729.6 L193.97 729.8 L195.03 730 L196.08 730.18 L197.14 730.35 L198.19 730.51 L199.25 730.65 L200.3 730.77 L201.35 730.87 L202.41 730.94 L203.46 730.98 L204.52 731" fill="none" stroke="#111" stroke-width="0.85" stroke-linejoin="round"/>
<path d="M39.56 731 L40.36 730.9 L41.16 730.8 L41.96 730.7 L42.76 730.61 L43.56 730.53 L44.35 730.45 L45.15 730.37 L45.95 730.31 L46.75 730.25 L47.55 730.2 L48.35 730.16 L49.15 730.13 L49.94 730.1 L50.74 730.07 L51.54 730.03 L52.34 729.99 L53.14 729.94 L53.94 729.87 L54.74 729.77 L55.53 729.62 L56.33 729.41 L57.13 729.16 L57.93 728.85 L58.73 728.51 L59.53 728.12 L60.33 727.69 L61.12 727.22 L61.92 726.52 L62.72 725.48 L63.52 724.13 L64.32 722.54 L65.12 720.75 L65.92 718.82 L66.71 716.8 L67.51 714.73 L68.31 712.68 L69.11 710.69 L69.91 708.8 L70.71 707.06 L71.51 705.4 L72.3 703.78 L73.1 702.16 L73.9 700.49 L74.7 698.73 L75.5 696.83 L76.3 694.75 L77.1 692.45 L77.89 689.88 L78.69 686.76 L79.49 682.91 L80.29 678.51 L81.09 673.76 L81.89 668.84 L82.69 663.69 L83.48 657.54 L84.28 651.1 L85.08 645.27 L85.88 640.94 L86.68 637.67 L87.48 634.85 L88.28 632.68 L89.07 631.36 L89.87 630.37 L90.67 629.51 L91.47 628.82 L92.27 628.33 L93.07 628.08 L93.87 628.25 L94.66 629.14 L95.46 630.53 L96.26 632.15 L97.06 633.73 L97.86 635.38 L98.66 637.22 L99.46 639.26 L100.25 641.46 L101.05 643.81 L101.85 646.3 L102.65 649.09 L103.45 652.15 L104.25 655.44 L105.05 658.88 L105.84 662.42 L106.64 665.98 L107.44 669.62 L108.24 673.45 L109.04 677.38 L109.84 681.32 L110.64 685.27 L111.43 689.36 L112.23 693.44 L113.03 697.36 L113.83 700.96 L114.63 704.29 L115.43 707.59 L116.23 710.72 L117.02 713.57 L117.82 715.98 L118.62 717.84 L119.42 719.46 L120.22 720.99 L121.02 722.43 L121.81 723.77 L122.61 724.99 L123.41 726.09 L124.21 727.05 L125.01 727.87 L125.81 728.52 L126.61 729 L127.4 729.34 L128.2 729.64 L129 729.93 L129.8 730.19 L130.6 730.42 L131.4 730.62 L132.2 730.78 L132.99 730.9 L133.79 730.97 L134.59 731 L134.59 731 L39.56 731Z" fill="#67aaf7" fill-opacity="0.82"/>
<path d="M39.56 731 L40.36 730.9 L41.16 730.8 L41.96 730.7 L42.76 730.61 L43.56 730.53 L44.35 730.45 L45.15 730.37 L45.95 730.31 L46.75 730.25 L47.55 730.2 L48.35 730.16 L49.15 730.13 L49.94 730.1 L50.74 730.07 L51.54 730.03 L52.34 729.99 L53.14 729.94 L53.94 729.87 L54.74 729.77 L55.53 729.62 L56.33 729.41 L57.13 729.16 L57.93 728.85 L58.73 728.51 L59.53 728.12 L60.33 727.69 L61.12 727.22 L61.92 726.52 L62.72 725.48 L63.52 724.13 L64.32 722.54 L65.12 720.75 L65.92 718.82 L66.71 716.8 L67.51 714.73 L68.31 712.68 L69.11 710.69 L69.91 708.8 L70.71 707.06 L71.51 705.4 L72.3 703.78 L73.1 702.16 L73.9 700.49 L74.7 698.73 L75.5 696.83 L76.3 694.75 L77.1 692.45 L77.89 689.88 L78.69 686.76 L79.49 682.91 L80.29 678.51 L81.09 673.76 L81.89 668.84 L82.69 663.69 L83.48 657.54 L84.28 651.1 L85.08 645.27 L85.88 640.94 L86.68 637.67 L87.48 634.85 L88.28 632.68 L89.07 631.36 L89.87 630.37 L90.67 629.51 L91.47 628.82 L92.27 628.33 L93.07 628.08 L93.87 628.25 L94.66 629.14 L95.46 630.53 L96.26 632.15 L97.06 633.73 L97.86 635.38 L98.66 637.22 L99.46 639.26 L100.25 641.46 L101.05 643.81 L101.85 646.3 L102.65 649.09 L103.45 652.15 L104.25 655.44 L105.05 658.88 L105.84 662.42 L106.64 665.98 L107.44 669.62 L108.24 673.45 L109.04 677.38 L109.84 681.32 L110.64 685.27 L111.43 689.36 L112.23 693.44 L113.03 697.36 L113.83 700.96 L114.63 704.29 L115.43 707.59 L116.23 710.72 L117.02 713.57 L117.82 715.98 L118.62 717.84 L119.42 719.46 L120.22 720.99 L121.02 722.43 L121.81 723.77 L122.61 724.99 L123.41 726.09 L124.21 727.05 L125.01 727.87 L125.81 728.52 L126.61 729 L127.4 729.34 L128.2 729.64 L129 729.93 L129.8 730.19 L130.6 730.42 L131.4 730.62 L132.2 730.78 L132.99 730.9 L133.79 730.97 L134.59 731" fill="none" stroke="#111" stroke-width="0.85" stroke-linejoin="round"/>
<rect x="31.5" y="623.3" width="181.7" height="112.8" fill="none" stroke="#707070" stroke-width="0.9"/>
<line x1="28.9" y1="731" x2="31.5" y2="731" stroke="#4a4a4a" stroke-width="1.1"/>
<text x="27" y="733.55" font-size="7.3" stroke="#444444" stroke-width="0.22" text-anchor="end" fill="#444444" transform="translate(27 733.55) scale(1 1.1) translate(-27 -733.55)">0.0</text>
<line x1="28.9" y1="693.5" x2="31.5" y2="693.5" stroke="#4a4a4a" stroke-width="1.1"/>
<text x="27" y="696.05" font-size="7.3" stroke="#444444" stroke-width="0.22" text-anchor="end" fill="#444444" transform="translate(27 696.05) scale(1 1.1) translate(-27 -696.05)">0.2</text>
<line x1="28.9" y1="656" x2="31.5" y2="656" stroke="#4a4a4a" stroke-width="1.1"/>
<text x="27" y="658.55" font-size="7.3" stroke="#444444" stroke-width="0.22" text-anchor="end" fill="#444444" transform="translate(27 658.55) scale(1 1.1) translate(-27 -658.55)">0.4</text>
<line x1="55.7" y1="736.1" x2="55.7" y2="738.7" stroke="#4a4a4a" stroke-width="1.1"/>
<text x="55.7" y="746.16" font-size="7.3" stroke="#444444" stroke-width="0.22" text-anchor="middle" fill="#444444" transform="translate(55.7 746.16) scale(1 1.1) translate(-55.7 -746.16)">3</text>
<line x1="109.49" y1="736.1" x2="109.49" y2="738.7" stroke="#4a4a4a" stroke-width="1.1"/>
<text x="109.49" y="746.16" font-size="7.3" stroke="#444444" stroke-width="0.22" text-anchor="middle" fill="#444444" transform="translate(109.49 746.16) scale(1 1.1) translate(-109.49 -746.16)">6</text>
<line x1="163.28" y1="736.1" x2="163.28" y2="738.7" stroke="#4a4a4a" stroke-width="1.1"/>
<text x="163.28" y="746.16" font-size="7.3" stroke="#444444" stroke-width="0.22" text-anchor="middle" fill="#444444" transform="translate(163.28 746.16) scale(1 1.1) translate(-163.28 -746.16)">9</text>
<rect x="227.5" y="608.3" width="181.3" height="15" fill="#d9d9d9" stroke="#707070" stroke-width="0.9"/>
<text x="318.15" y="618.46" font-size="7.6" stroke="#1a1a1a" stroke-width="0.05" text-anchor="middle" fill="#1a1a1a" transform="translate(318.15 618.46) scale(1 1.1) translate(-318.15 -618.46)">Signature CCNDs</text>
<rect x="227.5" y="623.3" width="181.3" height="112.8" fill="#fff"/>
<line x1="263.7" y1="623.3" x2="263.7" y2="736.1" stroke="#f3f3f3" stroke-width="0.45"/>
<line x1="302.1" y1="623.3" x2="302.1" y2="736.1" stroke="#f3f3f3" stroke-width="0.45"/>
<line x1="340.5" y1="623.3" x2="340.5" y2="736.1" stroke="#f3f3f3" stroke-width="0.45"/>
<line x1="378.9" y1="623.3" x2="378.9" y2="736.1" stroke="#f3f3f3" stroke-width="0.45"/>
<line x1="227.5" y1="716.5" x2="408.8" y2="716.5" stroke="#f3f3f3" stroke-width="0.45"/>
<line x1="227.5" y1="686.9" x2="408.8" y2="686.9" stroke="#f3f3f3" stroke-width="0.45"/>
<line x1="227.5" y1="657.3" x2="408.8" y2="657.3" stroke="#f3f3f3" stroke-width="0.45"/>
<line x1="227.5" y1="627.7" x2="408.8" y2="627.7" stroke="#f3f3f3" stroke-width="0.45"/>
<line x1="244.5" y1="623.3" x2="244.5" y2="736.1" stroke="#e8e8e8" stroke-width="0.7"/>
<line x1="282.9" y1="623.3" x2="282.9" y2="736.1" stroke="#e8e8e8" stroke-width="0.7"/>
<line x1="321.3" y1="623.3" x2="321.3" y2="736.1" stroke="#e8e8e8" stroke-width="0.7"/>
<line x1="359.7" y1="623.3" x2="359.7" y2="736.1" stroke="#e8e8e8" stroke-width="0.7"/>
<line x1="398.1" y1="623.3" x2="398.1" y2="736.1" stroke="#e8e8e8" stroke-width="0.7"/>
<line x1="227.5" y1="731.3" x2="408.8" y2="731.3" stroke="#e8e8e8" stroke-width="0.7"/>
<line x1="227.5" y1="701.7" x2="408.8" y2="701.7" stroke="#e8e8e8" stroke-width="0.7"/>
<line x1="227.5" y1="672.1" x2="408.8" y2="672.1" stroke="#e8e8e8" stroke-width="0.7"/>
<line x1="227.5" y1="642.5" x2="408.8" y2="642.5" stroke="#e8e8e8" stroke-width="0.7"/>
<path d="M282.9 731.3 L283.88 731.23 L284.86 731.01 L285.84 730.67 L286.82 730.22 L287.8 729.67 L288.79 729.04 L289.77 728.34 L290.75 727.58 L291.73 726.77 L292.71 725.93 L293.69 724.74 L294.67 723.15 L295.65 721.3 L296.63 719.32 L297.61 717.32 L298.6 715.45 L299.58 713.76 L300.56 712.15 L301.54 710.6 L302.52 709.06 L303.5 707.52 L304.48 705.95 L305.46 704.31 L306.44 702.58 L307.42 700.73 L308.41 698.73 L309.39 696.52 L310.37 693.74 L311.35 690.52 L312.33 687.11 L313.31 683.74 L314.29 680.65 L315.27 678.09 L316.25 676.16 L317.23 674.38 L318.22 672.65 L319.2 671.01 L320.18 669.45 L321.16 668 L322.14 666.67 L323.12 665.46 L324.1 664.4 L325.08 663.5 L326.06 662.76 L327.04 662.21 L328.02 661.82 L329.01 661.46 L329.99 661.14 L330.97 660.86 L331.95 660.63 L332.93 660.48 L333.91 660.41 L334.89 660.57 L335.87 661.23 L336.85 662.29 L337.83 663.61 L338.82 665.1 L339.8 667.6 L340.78 670.96 L341.76 674.48 L342.74 677.48 L343.72 680.06 L344.7 682.56 L345.68 684.98 L346.66 687.32 L347.64 689.59 L348.63 691.8 L349.61 693.95 L350.59 696.06 L351.57 698.13 L352.55 700.17 L353.53 702.21 L354.51 704.29 L355.49 706.38 L356.47 708.45 L357.45 710.47 L358.44 712.4 L359.42 714.23 L360.4 715.9 L361.38 717.4 L362.36 718.69 L363.34 719.78 L364.32 720.82 L365.3 721.82 L366.28 722.79 L367.26 723.71 L368.24 724.59 L369.23 725.41 L370.21 726.17 L371.19 726.87 L372.17 727.5 L373.15 728.05 L374.13 728.52 L375.11 728.9 L376.09 729.2 L377.07 729.43 L378.05 729.64 L379.04 729.85 L380.02 730.03 L381 730.2 L381.98 730.36 L382.96 730.5 L383.94 730.63 L384.92 730.74 L385.9 730.83 L386.88 730.91 L387.86 730.97 L388.85 731.02 L389.83 731.06 L390.81 731.1 L391.79 731.14 L392.77 731.17 L393.75 731.2 L394.73 731.23 L395.71 731.26 L396.69 731.27 L397.67 731.29 L398.66 731.3 L399.64 731.3 L399.64 731.3 L282.9 731.3Z" fill="#33f311" fill-opacity="0.82"/>
<path d="M282.9 731.3 L283.88 731.23 L284.86 731.01 L285.84 730.67 L286.82 730.22 L287.8 729.67 L288.79 729.04 L289.77 728.34 L290.75 727.58 L291.73 726.77 L292.71 725.93 L293.69 724.74 L294.67 723.15 L295.65 721.3 L296.63 719.32 L297.61 717.32 L298.6 715.45 L299.58 713.76 L300.56 712.15 L301.54 710.6 L302.52 709.06 L303.5 707.52 L304.48 705.95 L305.46 704.31 L306.44 702.58 L307.42 700.73 L308.41 698.73 L309.39 696.52 L310.37 693.74 L311.35 690.52 L312.33 687.11 L313.31 683.74 L314.29 680.65 L315.27 678.09 L316.25 676.16 L317.23 674.38 L318.22 672.65 L319.2 671.01 L320.18 669.45 L321.16 668 L322.14 666.67 L323.12 665.46 L324.1 664.4 L325.08 663.5 L326.06 662.76 L327.04 662.21 L328.02 661.82 L329.01 661.46 L329.99 661.14 L330.97 660.86 L331.95 660.63 L332.93 660.48 L333.91 660.41 L334.89 660.57 L335.87 661.23 L336.85 662.29 L337.83 663.61 L338.82 665.1 L339.8 667.6 L340.78 670.96 L341.76 674.48 L342.74 677.48 L343.72 680.06 L344.7 682.56 L345.68 684.98 L346.66 687.32 L347.64 689.59 L348.63 691.8 L349.61 693.95 L350.59 696.06 L351.57 698.13 L352.55 700.17 L353.53 702.21 L354.51 704.29 L355.49 706.38 L356.47 708.45 L357.45 710.47 L358.44 712.4 L359.42 714.23 L360.4 715.9 L361.38 717.4 L362.36 718.69 L363.34 719.78 L364.32 720.82 L365.3 721.82 L366.28 722.79 L367.26 723.71 L368.24 724.59 L369.23 725.41 L370.21 726.17 L371.19 726.87 L372.17 727.5 L373.15 728.05 L374.13 728.52 L375.11 728.9 L376.09 729.2 L377.07 729.43 L378.05 729.64 L379.04 729.85 L380.02 730.03 L381 730.2 L381.98 730.36 L382.96 730.5 L383.94 730.63 L384.92 730.74 L385.9 730.83 L386.88 730.91 L387.86 730.97 L388.85 731.02 L389.83 731.06 L390.81 731.1 L391.79 731.14 L392.77 731.17 L393.75 731.2 L394.73 731.23 L395.71 731.26 L396.69 731.27 L397.67 731.29 L398.66 731.3 L399.64 731.3" fill="none" stroke="#111" stroke-width="0.85" stroke-linejoin="round"/>
<path d="M235.09 731.3 L235.77 731.3 L236.44 731.29 L237.12 731.29 L237.8 731.28 L238.47 731.27 L239.15 731.25 L239.82 731.23 L240.5 731.21 L241.18 731.18 L241.85 731.16 L242.53 731.12 L243.2 731.09 L243.88 731.05 L244.56 731 L245.23 730.8 L245.91 730.38 L246.58 729.78 L247.26 729.07 L247.94 728.3 L248.61 727.51 L249.29 726.64 L249.96 725.65 L250.64 724.53 L251.32 723.3 L251.99 721.96 L252.67 720.52 L253.34 718.98 L254.02 717.35 L254.7 715.64 L255.37 713.85 L256.05 711.98 L256.73 710.05 L257.4 708.06 L258.08 706.02 L258.75 703.93 L259.43 701.62 L260.11 698.99 L260.78 696.11 L261.46 693.03 L262.13 689.81 L262.81 686.5 L263.49 683.15 L264.16 679.83 L264.84 676.59 L265.51 673.49 L266.19 670.33 L266.87 667.01 L267.54 663.61 L268.22 660.2 L268.89 656.84 L269.57 653.62 L270.25 650.58 L270.92 647.81 L271.6 645.37 L272.27 643.33 L272.95 641.58 L273.63 640.01 L274.3 638.59 L274.98 637.28 L275.65 636.04 L276.33 634.83 L277.01 633.52 L277.68 632.15 L278.36 630.85 L279.03 629.72 L279.71 628.88 L280.39 628.47 L281.06 628.62 L281.74 629.5 L282.41 630.99 L283.09 633.02 L283.77 635.46 L284.44 638.22 L285.12 641.2 L285.79 644.3 L286.47 647.42 L287.15 650.44 L287.82 653.77 L288.5 657.68 L289.17 661.98 L289.85 666.47 L290.53 670.98 L291.2 675.31 L291.88 679.27 L292.55 682.81 L293.23 686.31 L293.91 689.75 L294.58 693.12 L295.26 696.38 L295.94 699.51 L296.61 702.48 L297.29 705.25 L297.96 707.8 L298.64 710.11 L299.32 712.18 L299.99 714.14 L300.67 715.98 L301.34 717.69 L302.02 719.28 L302.7 720.74 L303.37 722.04 L304.05 723.2 L304.72 724.28 L305.4 725.31 L306.08 726.29 L306.75 727.17 L307.43 727.95 L308.1 728.6 L308.78 729.1 L309.46 729.45 L310.13 729.79 L310.81 730.1 L311.48 730.39 L312.16 730.64 L312.84 730.87 L313.51 731.05 L314.19 731.18 L314.86 731.27 L315.54 731.3 L315.54 731.3 L235.09 731.3Z" fill="#67aaf7" fill-opacity="0.82"/>
<path d="M235.09 731.3 L235.77 731.3 L236.44 731.29 L237.12 731.29 L237.8 731.28 L238.47 731.27 L239.15 731.25 L239.82 731.23 L240.5 731.21 L241.18 731.18 L241.85 731.16 L242.53 731.12 L243.2 731.09 L243.88 731.05 L244.56 731 L245.23 730.8 L245.91 730.38 L246.58 729.78 L247.26 729.07 L247.94 728.3 L248.61 727.51 L249.29 726.64 L249.96 725.65 L250.64 724.53 L251.32 723.3 L251.99 721.96 L252.67 720.52 L253.34 718.98 L254.02 717.35 L254.7 715.64 L255.37 713.85 L256.05 711.98 L256.73 710.05 L257.4 708.06 L258.08 706.02 L258.75 703.93 L259.43 701.62 L260.11 698.99 L260.78 696.11 L261.46 693.03 L262.13 689.81 L262.81 686.5 L263.49 683.15 L264.16 679.83 L264.84 676.59 L265.51 673.49 L266.19 670.33 L266.87 667.01 L267.54 663.61 L268.22 660.2 L268.89 656.84 L269.57 653.62 L270.25 650.58 L270.92 647.81 L271.6 645.37 L272.27 643.33 L272.95 641.58 L273.63 640.01 L274.3 638.59 L274.98 637.28 L275.65 636.04 L276.33 634.83 L277.01 633.52 L277.68 632.15 L278.36 630.85 L279.03 629.72 L279.71 628.88 L280.39 628.47 L281.06 628.62 L281.74 629.5 L282.41 630.99 L283.09 633.02 L283.77 635.46 L284.44 638.22 L285.12 641.2 L285.79 644.3 L286.47 647.42 L287.15 650.44 L287.82 653.77 L288.5 657.68 L289.17 661.98 L289.85 666.47 L290.53 670.98 L291.2 675.31 L291.88 679.27 L292.55 682.81 L293.23 686.31 L293.91 689.75 L294.58 693.12 L295.26 696.38 L295.94 699.51 L296.61 702.48 L297.29 705.25 L297.96 707.8 L298.64 710.11 L299.32 712.18 L299.99 714.14 L300.67 715.98 L301.34 717.69 L302.02 719.28 L302.7 720.74 L303.37 722.04 L304.05 723.2 L304.72 724.28 L305.4 725.31 L306.08 726.29 L306.75 727.17 L307.43 727.95 L308.1 728.6 L308.78 729.1 L309.46 729.45 L310.13 729.79 L310.81 730.1 L311.48 730.39 L312.16 730.64 L312.84 730.87 L313.51 731.05 L314.19 731.18 L314.86 731.27 L315.54 731.3" fill="none" stroke="#111" stroke-width="0.85" stroke-linejoin="round"/>
<rect x="227.5" y="623.3" width="181.3" height="112.8" fill="none" stroke="#707070" stroke-width="0.9"/>
<line x1="224.9" y1="731.3" x2="227.5" y2="731.3" stroke="#4a4a4a" stroke-width="1.1"/>
<text x="223" y="733.85" font-size="7.3" stroke="#444444" stroke-width="0.22" text-anchor="end" fill="#444444" transform="translate(223 733.85) scale(1 1.1) translate(-223 -733.85)">0</text>
<line x1="224.9" y1="701.7" x2="227.5" y2="701.7" stroke="#4a4a4a" stroke-width="1.1"/>
<text x="223" y="704.25" font-size="7.3" stroke="#444444" stroke-width="0.22" text-anchor="end" fill="#444444" transform="translate(223 704.25) scale(1 1.1) translate(-223 -704.25)">2</text>
<line x1="224.9" y1="672.1" x2="227.5" y2="672.1" stroke="#4a4a4a" stroke-width="1.1"/>
<text x="223" y="674.65" font-size="7.3" stroke="#444444" stroke-width="0.22" text-anchor="end" fill="#444444" transform="translate(223 674.65) scale(1 1.1) translate(-223 -674.65)">4</text>
<line x1="224.9" y1="642.5" x2="227.5" y2="642.5" stroke="#4a4a4a" stroke-width="1.1"/>
<text x="223" y="645.05" font-size="7.3" stroke="#444444" stroke-width="0.22" text-anchor="end" fill="#444444" transform="translate(223 645.05) scale(1 1.1) translate(-223 -645.05)">6</text>
<line x1="244.5" y1="736.1" x2="244.5" y2="738.7" stroke="#4a4a4a" stroke-width="1.1"/>
<text x="244.5" y="746.16" font-size="7.3" stroke="#444444" stroke-width="0.22" text-anchor="middle" fill="#444444" transform="translate(244.5 746.16) scale(1 1.1) translate(-244.5 -746.16)">0.0</text>
<line x1="282.9" y1="736.1" x2="282.9" y2="738.7" stroke="#4a4a4a" stroke-width="1.1"/>
<text x="282.9" y="746.16" font-size="7.3" stroke="#444444" stroke-width="0.22" text-anchor="middle" fill="#444444" transform="translate(282.9 746.16) scale(1 1.1) translate(-282.9 -746.16)">0.2</text>
<line x1="321.3" y1="736.1" x2="321.3" y2="738.7" stroke="#4a4a4a" stroke-width="1.1"/>
<text x="321.3" y="746.16" font-size="7.3" stroke="#444444" stroke-width="0.22" text-anchor="middle" fill="#444444" transform="translate(321.3 746.16) scale(1 1.1) translate(-321.3 -746.16)">0.4</text>
<line x1="359.7" y1="736.1" x2="359.7" y2="738.7" stroke="#4a4a4a" stroke-width="1.1"/>
<text x="359.7" y="746.16" font-size="7.3" stroke="#444444" stroke-width="0.22" text-anchor="middle" fill="#444444" transform="translate(359.7 746.16) scale(1 1.1) translate(-359.7 -746.16)">0.6</text>
<line x1="398.1" y1="736.1" x2="398.1" y2="738.7" stroke="#4a4a4a" stroke-width="1.1"/>
<text x="398.1" y="746.16" font-size="7.3" stroke="#444444" stroke-width="0.22" text-anchor="middle" fill="#444444" transform="translate(398.1 746.16) scale(1 1.1) translate(-398.1 -746.16)">0.8</text>
<rect x="433.3" y="608.3" width="181.3" height="15" fill="#d9d9d9" stroke="#707070" stroke-width="0.9"/>
<text x="523.95" y="618.46" font-size="7.6" stroke="#1a1a1a" stroke-width="0.05" text-anchor="middle" fill="#1a1a1a" transform="translate(523.95 618.46) scale(1 1.1) translate(-523.95 -618.46)">Signature MERC</text>
<rect x="433.3" y="623.3" width="181.3" height="112.8" fill="#fff"/>
<line x1="452.88" y1="623.3" x2="452.88" y2="736.1" stroke="#f3f3f3" stroke-width="0.45"/>
<line x1="486.91" y1="623.3" x2="486.91" y2="736.1" stroke="#f3f3f3" stroke-width="0.45"/>
<line x1="520.94" y1="623.3" x2="520.94" y2="736.1" stroke="#f3f3f3" stroke-width="0.45"/>
<line x1="554.98" y1="623.3" x2="554.98" y2="736.1" stroke="#f3f3f3" stroke-width="0.45"/>
<line x1="589" y1="623.3" x2="589" y2="736.1" stroke="#f3f3f3" stroke-width="0.45"/>
<line x1="433.3" y1="718.79" x2="614.6" y2="718.79" stroke="#f3f3f3" stroke-width="0.45"/>
<line x1="433.3" y1="693.76" x2="614.6" y2="693.76" stroke="#f3f3f3" stroke-width="0.45"/>
<line x1="433.3" y1="668.74" x2="614.6" y2="668.74" stroke="#f3f3f3" stroke-width="0.45"/>
<line x1="433.3" y1="643.71" x2="614.6" y2="643.71" stroke="#f3f3f3" stroke-width="0.45"/>
<line x1="435.87" y1="623.3" x2="435.87" y2="736.1" stroke="#e8e8e8" stroke-width="0.7"/>
<line x1="469.9" y1="623.3" x2="469.9" y2="736.1" stroke="#e8e8e8" stroke-width="0.7"/>
<line x1="503.93" y1="623.3" x2="503.93" y2="736.1" stroke="#e8e8e8" stroke-width="0.7"/>
<line x1="537.96" y1="623.3" x2="537.96" y2="736.1" stroke="#e8e8e8" stroke-width="0.7"/>
<line x1="571.99" y1="623.3" x2="571.99" y2="736.1" stroke="#e8e8e8" stroke-width="0.7"/>
<line x1="606.02" y1="623.3" x2="606.02" y2="736.1" stroke="#e8e8e8" stroke-width="0.7"/>
<line x1="433.3" y1="731.3" x2="614.6" y2="731.3" stroke="#e8e8e8" stroke-width="0.7"/>
<line x1="433.3" y1="706.27" x2="614.6" y2="706.27" stroke="#e8e8e8" stroke-width="0.7"/>
<line x1="433.3" y1="681.25" x2="614.6" y2="681.25" stroke="#e8e8e8" stroke-width="0.7"/>
<line x1="433.3" y1="656.22" x2="614.6" y2="656.22" stroke="#e8e8e8" stroke-width="0.7"/>
<line x1="433.3" y1="631.2" x2="614.6" y2="631.2" stroke="#e8e8e8" stroke-width="0.7"/>
<path d="M480.11 731.3 L481.17 731.26 L482.23 731.13 L483.28 730.94 L484.34 730.67 L485.4 730.35 L486.46 729.98 L487.52 729.56 L488.57 729.11 L489.63 728.62 L490.69 728.1 L491.75 727.36 L492.81 726.39 L493.86 725.21 L494.92 723.85 L495.98 722.36 L497.04 720.77 L498.1 719.1 L499.15 717.4 L500.21 715.68 L501.27 713.75 L502.33 711.6 L503.39 709.26 L504.44 706.76 L505.5 704.16 L506.56 701.49 L507.62 698.79 L508.68 696.11 L509.74 693.47 L510.79 690.93 L511.85 688.52 L512.91 686.26 L513.97 684.04 L515.03 681.84 L516.08 679.68 L517.14 677.57 L518.2 675.53 L519.26 673.58 L520.32 671.73 L521.37 669.87 L522.43 667.81 L523.49 665.78 L524.55 664.01 L525.61 662.75 L526.66 662.23 L527.72 662.42 L528.78 662.92 L529.84 663.54 L530.9 664.12 L531.95 664.52 L533.01 664.85 L534.07 665.2 L535.13 665.67 L536.19 666.48 L537.25 667.75 L538.3 669.39 L539.36 671.3 L540.42 673.38 L541.48 675.51 L542.54 677.62 L543.59 679.59 L544.65 681.57 L545.71 683.65 L546.77 685.8 L547.83 687.99 L548.88 690.2 L549.94 692.41 L551 694.58 L552.06 696.7 L553.12 698.73 L554.17 700.66 L555.23 702.59 L556.29 704.54 L557.35 706.5 L558.41 708.44 L559.46 710.35 L560.52 712.2 L561.58 713.97 L562.64 715.64 L563.7 717.19 L564.76 718.6 L565.81 719.84 L566.87 720.9 L567.93 721.9 L568.99 722.87 L570.05 723.8 L571.1 724.68 L572.16 725.51 L573.22 726.28 L574.28 726.98 L575.34 727.6 L576.39 728.14 L577.45 728.58 L578.51 728.92 L579.57 729.18 L580.63 729.42 L581.68 729.65 L582.74 729.86 L583.8 730.06 L584.86 730.23 L585.92 730.4 L586.97 730.54 L588.03 730.67 L589.09 730.78 L590.15 730.87 L591.21 730.94 L592.27 730.99 L593.32 731.03 L594.38 731.07 L595.44 731.11 L596.5 731.14 L597.56 731.17 L598.61 731.2 L599.67 731.23 L600.73 731.25 L601.79 731.27 L602.85 731.28 L603.9 731.29 L604.96 731.3 L606.02 731.3 L606.02 731.3 L480.11 731.3Z" fill="#33f311" fill-opacity="0.82"/>
<path d="M480.11 731.3 L481.17 731.26 L482.23 731.13 L483.28 730.94 L484.34 730.67 L485.4 730.35 L486.46 729.98 L487.52 729.56 L488.57 729.11 L489.63 728.62 L490.69 728.1 L491.75 727.36 L492.81 726.39 L493.86 725.21 L494.92 723.85 L495.98 722.36 L497.04 720.77 L498.1 719.1 L499.15 717.4 L500.21 715.68 L501.27 713.75 L502.33 711.6 L503.39 709.26 L504.44 706.76 L505.5 704.16 L506.56 701.49 L507.62 698.79 L508.68 696.11 L509.74 693.47 L510.79 690.93 L511.85 688.52 L512.91 686.26 L513.97 684.04 L515.03 681.84 L516.08 679.68 L517.14 677.57 L518.2 675.53 L519.26 673.58 L520.32 671.73 L521.37 669.87 L522.43 667.81 L523.49 665.78 L524.55 664.01 L525.61 662.75 L526.66 662.23 L527.72 662.42 L528.78 662.92 L529.84 663.54 L530.9 664.12 L531.95 664.52 L533.01 664.85 L534.07 665.2 L535.13 665.67 L536.19 666.48 L537.25 667.75 L538.3 669.39 L539.36 671.3 L540.42 673.38 L541.48 675.51 L542.54 677.62 L543.59 679.59 L544.65 681.57 L545.71 683.65 L546.77 685.8 L547.83 687.99 L548.88 690.2 L549.94 692.41 L551 694.58 L552.06 696.7 L553.12 698.73 L554.17 700.66 L555.23 702.59 L556.29 704.54 L557.35 706.5 L558.41 708.44 L559.46 710.35 L560.52 712.2 L561.58 713.97 L562.64 715.64 L563.7 717.19 L564.76 718.6 L565.81 719.84 L566.87 720.9 L567.93 721.9 L568.99 722.87 L570.05 723.8 L571.1 724.68 L572.16 725.51 L573.22 726.28 L574.28 726.98 L575.34 727.6 L576.39 728.14 L577.45 728.58 L578.51 728.92 L579.57 729.18 L580.63 729.42 L581.68 729.65 L582.74 729.86 L583.8 730.06 L584.86 730.23 L585.92 730.4 L586.97 730.54 L588.03 730.67 L589.09 730.78 L590.15 730.87 L591.21 730.94 L592.27 730.99 L593.32 731.03 L594.38 731.07 L595.44 731.11 L596.5 731.14 L597.56 731.17 L598.61 731.2 L599.67 731.23 L600.73 731.25 L601.79 731.27 L602.85 731.28 L603.9 731.29 L604.96 731.3 L606.02 731.3" fill="none" stroke="#111" stroke-width="0.85" stroke-linejoin="round"/>
<path d="M441.66 731.3 L442.46 731.27 L443.26 731.22 L444.07 731.14 L444.87 731.04 L445.67 730.93 L446.48 730.79 L447.28 730.64 L448.08 730.47 L448.89 730.3 L449.69 730.11 L450.49 729.91 L451.3 729.71 L452.1 729.5 L452.91 729.29 L453.71 729.07 L454.51 728.84 L455.32 728.58 L456.12 728.3 L456.92 727.98 L457.73 727.64 L458.53 727.26 L459.33 726.84 L460.14 726.37 L460.94 725.86 L461.74 725.3 L462.55 724.68 L463.35 723.83 L464.15 722.68 L464.96 721.27 L465.76 719.64 L466.57 717.83 L467.37 715.89 L468.17 713.84 L468.98 711.73 L469.78 709.6 L470.58 707.34 L471.39 704.79 L472.19 701.98 L472.99 698.99 L473.8 695.88 L474.6 692.7 L475.4 689.51 L476.21 686.39 L477.01 683.38 L477.82 680.4 L478.62 677.34 L479.42 674.21 L480.23 671.04 L481.03 667.87 L481.83 664.71 L482.64 661.61 L483.44 658.59 L484.24 655.68 L485.05 652.9 L485.85 650.29 L486.65 647.87 L487.46 645.67 L488.26 643.44 L489.07 641.14 L489.87 638.83 L490.67 636.58 L491.48 634.47 L492.28 632.55 L493.08 630.9 L493.89 629.58 L494.69 628.67 L495.49 628.23 L496.3 628.36 L497.1 629.17 L497.9 630.57 L498.71 632.47 L499.51 634.76 L500.32 637.36 L501.12 640.17 L501.92 643.08 L502.73 646.01 L503.53 648.86 L504.33 651.61 L505.14 654.66 L505.94 658 L506.74 661.58 L507.55 665.32 L508.35 669.15 L509.15 672.98 L509.96 676.76 L510.76 680.4 L511.57 683.84 L512.37 687 L513.17 689.95 L513.98 692.85 L514.78 695.68 L515.58 698.42 L516.39 701.05 L517.19 703.56 L517.99 705.92 L518.8 708.13 L519.6 710.17 L520.4 712.09 L521.21 713.9 L522.01 715.62 L522.82 717.23 L523.62 718.74 L524.42 720.15 L525.23 721.48 L526.03 722.83 L526.83 724.15 L527.64 725.42 L528.44 726.59 L529.24 727.62 L530.05 728.48 L530.85 729.12 L531.65 729.56 L532.46 729.95 L533.26 730.32 L534.07 730.64 L534.87 730.91 L535.67 731.12 L536.48 731.25 L537.28 731.3 L537.28 731.3 L441.66 731.3Z" fill="#67aaf7" fill-opacity="0.82"/>
<path d="M441.66 731.3 L442.46 731.27 L443.26 731.22 L444.07 731.14 L444.87 731.04 L445.67 730.93 L446.48 730.79 L447.28 730.64 L448.08 730.47 L448.89 730.3 L449.69 730.11 L450.49 729.91 L451.3 729.71 L452.1 729.5 L452.91 729.29 L453.71 729.07 L454.51 728.84 L455.32 728.58 L456.12 728.3 L456.92 727.98 L457.73 727.64 L458.53 727.26 L459.33 726.84 L460.14 726.37 L460.94 725.86 L461.74 725.3 L462.55 724.68 L463.35 723.83 L464.15 722.68 L464.96 721.27 L465.76 719.64 L466.57 717.83 L467.37 715.89 L468.17 713.84 L468.98 711.73 L469.78 709.6 L470.58 707.34 L471.39 704.79 L472.19 701.98 L472.99 698.99 L473.8 695.88 L474.6 692.7 L475.4 689.51 L476.21 686.39 L477.01 683.38 L477.82 680.4 L478.62 677.34 L479.42 674.21 L480.23 671.04 L481.03 667.87 L481.83 664.71 L482.64 661.61 L483.44 658.59 L484.24 655.68 L485.05 652.9 L485.85 650.29 L486.65 647.87 L487.46 645.67 L488.26 643.44 L489.07 641.14 L489.87 638.83 L490.67 636.58 L491.48 634.47 L492.28 632.55 L493.08 630.9 L493.89 629.58 L494.69 628.67 L495.49 628.23 L496.3 628.36 L497.1 629.17 L497.9 630.57 L498.71 632.47 L499.51 634.76 L500.32 637.36 L501.12 640.17 L501.92 643.08 L502.73 646.01 L503.53 648.86 L504.33 651.61 L505.14 654.66 L505.94 658 L506.74 661.58 L507.55 665.32 L508.35 669.15 L509.15 672.98 L509.96 676.76 L510.76 680.4 L511.57 683.84 L512.37 687 L513.17 689.95 L513.98 692.85 L514.78 695.68 L515.58 698.42 L516.39 701.05 L517.19 703.56 L517.99 705.92 L518.8 708.13 L519.6 710.17 L520.4 712.09 L521.21 713.9 L522.01 715.62 L522.82 717.23 L523.62 718.74 L524.42 720.15 L525.23 721.48 L526.03 722.83 L526.83 724.15 L527.64 725.42 L528.44 726.59 L529.24 727.62 L530.05 728.48 L530.85 729.12 L531.65 729.56 L532.46 729.95 L533.26 730.32 L534.07 730.64 L534.87 730.91 L535.67 731.12 L536.48 731.25 L537.28 731.3" fill="none" stroke="#111" stroke-width="0.85" stroke-linejoin="round"/>
<rect x="433.3" y="623.3" width="181.3" height="112.8" fill="none" stroke="#707070" stroke-width="0.9"/>
<line x1="430.7" y1="731.3" x2="433.3" y2="731.3" stroke="#4a4a4a" stroke-width="1.1"/>
<text x="428.8" y="733.85" font-size="7.3" stroke="#444444" stroke-width="0.22" text-anchor="end" fill="#444444" transform="translate(428.8 733.85) scale(1 1.1) translate(-428.8 -733.85)">0.00</text>
<line x1="430.7" y1="706.27" x2="433.3" y2="706.27" stroke="#4a4a4a" stroke-width="1.1"/>
<text x="428.8" y="708.83" font-size="7.3" stroke="#444444" stroke-width="0.22" text-anchor="end" fill="#444444" transform="translate(428.8 708.83) scale(1 1.1) translate(-428.8 -708.83)">0.25</text>
<line x1="430.7" y1="681.25" x2="433.3" y2="681.25" stroke="#4a4a4a" stroke-width="1.1"/>
<text x="428.8" y="683.8" font-size="7.3" stroke="#444444" stroke-width="0.22" text-anchor="end" fill="#444444" transform="translate(428.8 683.8) scale(1 1.1) translate(-428.8 -683.8)">0.50</text>
<line x1="430.7" y1="656.22" x2="433.3" y2="656.22" stroke="#4a4a4a" stroke-width="1.1"/>
<text x="428.8" y="658.78" font-size="7.3" stroke="#444444" stroke-width="0.22" text-anchor="end" fill="#444444" transform="translate(428.8 658.78) scale(1 1.1) translate(-428.8 -658.78)">0.75</text>
<line x1="430.7" y1="631.2" x2="433.3" y2="631.2" stroke="#4a4a4a" stroke-width="1.1"/>
<text x="428.8" y="633.75" font-size="7.3" stroke="#444444" stroke-width="0.22" text-anchor="end" fill="#444444" transform="translate(428.8 633.75) scale(1 1.1) translate(-428.8 -633.75)">1.00</text>
<line x1="435.87" y1="736.1" x2="435.87" y2="738.7" stroke="#4a4a4a" stroke-width="1.1"/>
<text x="435.87" y="746.16" font-size="7.3" stroke="#444444" stroke-width="0.22" text-anchor="middle" fill="#444444" transform="translate(435.87 746.16) scale(1 1.1) translate(-435.87 -746.16)">-1</text>
<line x1="469.9" y1="736.1" x2="469.9" y2="738.7" stroke="#4a4a4a" stroke-width="1.1"/>
<text x="469.9" y="746.16" font-size="7.3" stroke="#444444" stroke-width="0.22" text-anchor="middle" fill="#444444" transform="translate(469.9 746.16) scale(1 1.1) translate(-469.9 -746.16)">0</text>
<line x1="503.93" y1="736.1" x2="503.93" y2="738.7" stroke="#4a4a4a" stroke-width="1.1"/>
<text x="503.93" y="746.16" font-size="7.3" stroke="#444444" stroke-width="0.22" text-anchor="middle" fill="#444444" transform="translate(503.93 746.16) scale(1 1.1) translate(-503.93 -746.16)">1</text>
<line x1="537.96" y1="736.1" x2="537.96" y2="738.7" stroke="#4a4a4a" stroke-width="1.1"/>
<text x="537.96" y="746.16" font-size="7.3" stroke="#444444" stroke-width="0.22" text-anchor="middle" fill="#444444" transform="translate(537.96 746.16) scale(1 1.1) translate(-537.96 -746.16)">2</text>
<line x1="571.99" y1="736.1" x2="571.99" y2="738.7" stroke="#4a4a4a" stroke-width="1.1"/>
<text x="571.99" y="746.16" font-size="7.3" stroke="#444444" stroke-width="0.22" text-anchor="middle" fill="#444444" transform="translate(571.99 746.16) scale(1 1.1) translate(-571.99 -746.16)">3</text>
<line x1="606.02" y1="736.1" x2="606.02" y2="738.7" stroke="#4a4a4a" stroke-width="1.1"/>
<text x="606.02" y="746.16" font-size="7.3" stroke="#444444" stroke-width="0.22" text-anchor="middle" fill="#444444" transform="translate(606.02 746.16) scale(1 1.1) translate(-606.02 -746.16)">4</text>
<text x="12" y="679.8" font-size="9.45" stroke="#000" stroke-width="0.12" text-anchor="middle" transform="rotate(-90 12 679.8) translate(12 679.8) scale(1 1.1) translate(-12 -679.8)">Density</text>
<text x="323.1" y="757.8" font-size="9.45" stroke="#000" stroke-width="0.12" text-anchor="middle" transform="translate(323.1 757.8) scale(1 1.1) translate(-323.1 -757.8)">Scores</text>
<text x="629.6" y="669.8" font-size="9.4" stroke="#000" stroke-width="0.12" transform="translate(629.6 669.8) scale(1 1.1) translate(-629.6 -669.8)">pCR status</text>
<rect x="630.1" y="676.1" width="9.6" height="10.3" fill="#58f53c" stroke="#1a1a1a" stroke-width="0.8"/>
<text x="645" y="683.85" font-size="7.6" stroke="#000" stroke-width="0.14" transform="translate(645 683.85) scale(1 1.1) translate(-645 -683.85)">pCR</text>
<rect x="630.1" y="687.4" width="9.6" height="10.3" fill="#82b9f8" stroke="#1a1a1a" stroke-width="0.8"/>
<text x="645" y="695.15" font-size="7.6" stroke="#000" stroke-width="0.14" transform="translate(645 695.15) scale(1 1.1) translate(-645 -695.15)">non-pCR</text>
<text x="0.6" y="780.5" font-size="16" font-weight="bold">f</text>
<rect x="35.9" y="769.4" width="153.3" height="14.1" fill="#d9d9d9" stroke="#707070" stroke-width="0.9"/>
<text x="112.55" y="779.11" font-size="7.6" stroke="#1a1a1a" stroke-width="0.05" text-anchor="middle" fill="#1a1a1a" transform="translate(112.55 779.11) scale(1 1.1) translate(-112.55 -779.11)">PKA Phosph. CREB</text>
<rect x="35.9" y="783.5" width="153.3" height="124.8" fill="#fff"/>
<line x1="35.9" y1="892.67" x2="189.2" y2="892.67" stroke="#f3f3f3" stroke-width="0.45"/>
<line x1="35.9" y1="856.76" x2="189.2" y2="856.76" stroke="#f3f3f3" stroke-width="0.45"/>
<line x1="35.9" y1="820.86" x2="189.2" y2="820.86" stroke="#f3f3f3" stroke-width="0.45"/>
<line x1="35.9" y1="784.94" x2="189.2" y2="784.94" stroke="#f3f3f3" stroke-width="0.45"/>
<line x1="77.7" y1="783.5" x2="77.7" y2="908.3" stroke="#e8e8e8" stroke-width="0.7"/>
<line x1="147.4" y1="783.5" x2="147.4" y2="908.3" stroke="#e8e8e8" stroke-width="0.7"/>
<line x1="35.9" y1="874.72" x2="189.2" y2="874.72" stroke="#e8e8e8" stroke-width="0.7"/>
<line x1="35.9" y1="838.81" x2="189.2" y2="838.81" stroke="#e8e8e8" stroke-width="0.7"/>
<line x1="35.9" y1="802.9" x2="189.2" y2="802.9" stroke="#e8e8e8" stroke-width="0.7"/>
<path d="M77.7 848.95 L147.4 835.67 L147.4 870.67 L77.7 878.95Z" fill="#5599ee" fill-opacity="0.25"/>
<path d="M77.7 855.25 L147.4 843.02 L147.4 863.32 L77.7 872.65Z" fill="#5599ee" fill-opacity="0.25"/>
<path d="M77.7 859.75 L147.4 848.27 L147.4 858.07 L77.7 868.15Z" fill="#5599ee" fill-opacity="0.25"/>
<line x1="77.7" y1="863.95" x2="147.4" y2="853.17" stroke="#5fa2f5" stroke-width="1.5"/>
<path d="M77.7 863.1 L147.4 790.57 L147.4 841.57 L77.7 903.1Z" fill="#33dd11" fill-opacity="0.25"/>
<path d="M77.7 871.5 L147.4 801.28 L147.4 830.86 L77.7 894.7Z" fill="#33dd11" fill-opacity="0.25"/>
<path d="M77.7 877.5 L147.4 808.93 L147.4 823.21 L77.7 888.7Z" fill="#33dd11" fill-opacity="0.25"/>
<line x1="77.7" y1="883.1" x2="147.4" y2="816.07" stroke="#3ee61a" stroke-width="1.5"/>
<rect x="35.9" y="783.5" width="153.3" height="124.8" fill="none" stroke="#707070" stroke-width="0.9"/>
<line x1="33.3" y1="874.72" x2="35.9" y2="874.72" stroke="#4a4a4a" stroke-width="1.1"/>
<text x="31.4" y="877.27" font-size="7.3" stroke="#444444" stroke-width="0.22" text-anchor="end" fill="#444444" transform="translate(31.4 877.27) scale(1 1.1) translate(-31.4 -877.27)">-0.9</text>
<line x1="33.3" y1="838.81" x2="35.9" y2="838.81" stroke="#4a4a4a" stroke-width="1.1"/>
<text x="31.4" y="841.36" font-size="7.3" stroke="#444444" stroke-width="0.22" text-anchor="end" fill="#444444" transform="translate(31.4 841.36) scale(1 1.1) translate(-31.4 -841.36)">-0.6</text>
<line x1="33.3" y1="802.9" x2="35.9" y2="802.9" stroke="#4a4a4a" stroke-width="1.1"/>
<text x="31.4" y="805.45" font-size="7.3" stroke="#444444" stroke-width="0.22" text-anchor="end" fill="#444444" transform="translate(31.4 805.45) scale(1 1.1) translate(-31.4 -805.45)">-0.3</text>
<line x1="77.7" y1="908.3" x2="77.7" y2="910.9" stroke="#4a4a4a" stroke-width="1.1"/>
<text x="77.7" y="918.43" font-size="7.4" stroke="#444444" stroke-width="0.22" text-anchor="middle" fill="#444444" transform="translate(77.7 918.43) scale(1 1.1) translate(-77.7 -918.43)">Pre-NAC</text>
<line x1="147.4" y1="908.3" x2="147.4" y2="910.9" stroke="#4a4a4a" stroke-width="1.1"/>
<text x="147.4" y="918.43" font-size="7.4" stroke="#444444" stroke-width="0.22" text-anchor="middle" fill="#444444" transform="translate(147.4 918.43) scale(1 1.1) translate(-147.4 -918.43)">NAC-3 weeks</text>
<rect x="209.1" y="769.4" width="152.4" height="14.1" fill="#d9d9d9" stroke="#707070" stroke-width="0.9"/>
<text x="285.3" y="779.11" font-size="7.6" stroke="#1a1a1a" stroke-width="0.05" text-anchor="middle" fill="#1a1a1a" transform="translate(285.3 779.11) scale(1 1.1) translate(-285.3 -779.11)">BIOCARTA CREB PATHWAY</text>
<rect x="209.1" y="783.5" width="152.4" height="124.8" fill="#fff"/>
<line x1="209.1" y1="892.55" x2="361.5" y2="892.55" stroke="#f3f3f3" stroke-width="0.45"/>
<line x1="209.1" y1="859.45" x2="361.5" y2="859.45" stroke="#f3f3f3" stroke-width="0.45"/>
<line x1="209.1" y1="826.35" x2="361.5" y2="826.35" stroke="#f3f3f3" stroke-width="0.45"/>
<line x1="209.1" y1="793.25" x2="361.5" y2="793.25" stroke="#f3f3f3" stroke-width="0.45"/>
<line x1="250.66" y1="783.5" x2="250.66" y2="908.3" stroke="#e8e8e8" stroke-width="0.7"/>
<line x1="319.94" y1="783.5" x2="319.94" y2="908.3" stroke="#e8e8e8" stroke-width="0.7"/>
<line x1="209.1" y1="876" x2="361.5" y2="876" stroke="#e8e8e8" stroke-width="0.7"/>
<line x1="209.1" y1="842.9" x2="361.5" y2="842.9" stroke="#e8e8e8" stroke-width="0.7"/>
<line x1="209.1" y1="809.8" x2="361.5" y2="809.8" stroke="#e8e8e8" stroke-width="0.7"/>
<path d="M250.66 876.57 L319.94 829.55 L319.94 859.55 L250.66 903.57Z" fill="#5599ee" fill-opacity="0.25"/>
<path d="M250.66 882.24 L319.94 835.85 L319.94 853.25 L250.66 897.9Z" fill="#5599ee" fill-opacity="0.25"/>
<path d="M250.66 886.29 L319.94 840.35 L319.94 848.75 L250.66 893.85Z" fill="#5599ee" fill-opacity="0.25"/>
<line x1="250.66" y1="890.07" x2="319.94" y2="844.55" stroke="#5fa2f5" stroke-width="1.5"/>
<path d="M250.66 865.14 L319.94 790.47 L319.94 827.47 L250.66 895.14Z" fill="#33dd11" fill-opacity="0.25"/>
<path d="M250.66 871.44 L319.94 798.24 L319.94 819.7 L250.66 888.84Z" fill="#33dd11" fill-opacity="0.25"/>
<path d="M250.66 875.94 L319.94 803.79 L319.94 814.15 L250.66 884.34Z" fill="#33dd11" fill-opacity="0.25"/>
<line x1="250.66" y1="880.14" x2="319.94" y2="808.97" stroke="#3ee61a" stroke-width="1.5"/>
<rect x="209.1" y="783.5" width="152.4" height="124.8" fill="none" stroke="#707070" stroke-width="0.9"/>
<line x1="206.5" y1="876" x2="209.1" y2="876" stroke="#4a4a4a" stroke-width="1.1"/>
<text x="204.6" y="878.55" font-size="7.3" stroke="#444444" stroke-width="0.22" text-anchor="end" fill="#444444" transform="translate(204.6 878.55) scale(1 1.1) translate(-204.6 -878.55)">0.0</text>
<line x1="206.5" y1="842.9" x2="209.1" y2="842.9" stroke="#4a4a4a" stroke-width="1.1"/>
<text x="204.6" y="845.45" font-size="7.3" stroke="#444444" stroke-width="0.22" text-anchor="end" fill="#444444" transform="translate(204.6 845.45) scale(1 1.1) translate(-204.6 -845.45)">0.4</text>
<line x1="206.5" y1="809.8" x2="209.1" y2="809.8" stroke="#4a4a4a" stroke-width="1.1"/>
<text x="204.6" y="812.35" font-size="7.3" stroke="#444444" stroke-width="0.22" text-anchor="end" fill="#444444" transform="translate(204.6 812.35) scale(1 1.1) translate(-204.6 -812.35)">0.8</text>
<line x1="250.66" y1="908.3" x2="250.66" y2="910.9" stroke="#4a4a4a" stroke-width="1.1"/>
<text x="250.66" y="918.43" font-size="7.4" stroke="#444444" stroke-width="0.22" text-anchor="middle" fill="#444444" transform="translate(250.66 918.43) scale(1 1.1) translate(-250.66 -918.43)">Pre-NAC</text>
<line x1="319.94" y1="908.3" x2="319.94" y2="910.9" stroke="#4a4a4a" stroke-width="1.1"/>
<text x="319.94" y="918.43" font-size="7.4" stroke="#444444" stroke-width="0.22" text-anchor="middle" fill="#444444" transform="translate(319.94 918.43) scale(1 1.1) translate(-319.94 -918.43)">NAC-3 weeks</text>
<text x="12" y="846" font-size="9.45" stroke="#000" stroke-width="0.12" text-anchor="middle" transform="rotate(-90 12 846) translate(12 846) scale(1 1.1) translate(-12 -846)">Regressed scores</text>
<text x="376.2" y="836.8" font-size="9.4" stroke="#000" stroke-width="0.12" transform="translate(376.2 836.8) scale(1 1.1) translate(-376.2 -836.8)">pCR status</text>
<rect x="376.2" y="842" width="10.6" height="11.2" fill="#33dd11" fill-opacity="0.3"/>
<line x1="377.2" y1="847.6" x2="385.8" y2="847.6" stroke="#3ee61a" stroke-width="0.5" stroke-opacity="0.6"/>
<text x="391.6" y="850.2" font-size="7.6" stroke="#000" stroke-width="0.14" transform="translate(391.6 850.2) scale(1 1.1) translate(-391.6 -850.2)">pCR</text>
<rect x="376.2" y="853.2" width="10.6" height="11.2" fill="#5599ee" fill-opacity="0.3"/>
<line x1="377.2" y1="858.8" x2="385.8" y2="858.8" stroke="#5fa2f5" stroke-width="0.5" stroke-opacity="0.6"/>
<text x="391.6" y="861.4" font-size="7.6" stroke="#000" stroke-width="0.14" transform="translate(391.6 861.4) scale(1 1.1) translate(-391.6 -861.4)">non-pCR</text>
<text x="432.6" y="779.5" font-size="16" font-weight="bold">g</text>
<rect x="458.8" y="769.3" width="155.7" height="14.5" fill="#d9d9d9" stroke="#707070" stroke-width="0.9"/>
<text x="536.65" y="779.21" font-size="7.6" stroke="#1a1a1a" stroke-width="0.05" text-anchor="middle" fill="#1a1a1a" transform="translate(536.65 779.21) scale(1 1.1) translate(-536.65 -779.21)">PKA Phosph. of Creb</text>
<rect x="458.8" y="783.8" width="155.7" height="112.6" fill="#fff"/>
<line x1="481.9" y1="783.8" x2="481.9" y2="896.4" stroke="#f3f3f3" stroke-width="0.45"/>
<line x1="519.5" y1="783.8" x2="519.5" y2="896.4" stroke="#f3f3f3" stroke-width="0.45"/>
<line x1="557.1" y1="783.8" x2="557.1" y2="896.4" stroke="#f3f3f3" stroke-width="0.45"/>
<line x1="594.7" y1="783.8" x2="594.7" y2="896.4" stroke="#f3f3f3" stroke-width="0.45"/>
<line x1="458.8" y1="872.2" x2="614.5" y2="872.2" stroke="#f3f3f3" stroke-width="0.45"/>
<line x1="458.8" y1="833.6" x2="614.5" y2="833.6" stroke="#f3f3f3" stroke-width="0.45"/>
<line x1="458.8" y1="795" x2="614.5" y2="795" stroke="#f3f3f3" stroke-width="0.45"/>
<line x1="463.1" y1="783.8" x2="463.1" y2="896.4" stroke="#e8e8e8" stroke-width="0.7"/>
<line x1="500.7" y1="783.8" x2="500.7" y2="896.4" stroke="#e8e8e8" stroke-width="0.7"/>
<line x1="538.3" y1="783.8" x2="538.3" y2="896.4" stroke="#e8e8e8" stroke-width="0.7"/>
<line x1="575.9" y1="783.8" x2="575.9" y2="896.4" stroke="#e8e8e8" stroke-width="0.7"/>
<line x1="613.5" y1="783.8" x2="613.5" y2="896.4" stroke="#e8e8e8" stroke-width="0.7"/>
<line x1="458.8" y1="891.5" x2="614.5" y2="891.5" stroke="#e8e8e8" stroke-width="0.7"/>
<line x1="458.8" y1="852.9" x2="614.5" y2="852.9" stroke="#e8e8e8" stroke-width="0.7"/>
<line x1="458.8" y1="814.3" x2="614.5" y2="814.3" stroke="#e8e8e8" stroke-width="0.7"/>
<path d="M493.63 891.5 L494.44 891.48 L495.25 891.41 L496.07 891.3 L496.88 891.15 L497.69 890.97 L498.5 890.75 L499.31 890.5 L500.12 890.22 L500.93 889.92 L501.75 889.6 L502.56 889.26 L503.37 888.91 L504.18 888.54 L504.99 888.14 L505.8 887.6 L506.61 886.95 L507.43 886.17 L508.24 885.3 L509.05 884.33 L509.86 883.27 L510.67 882.15 L511.48 880.96 L512.29 879.72 L513.1 878.44 L513.92 877.13 L514.73 875.8 L515.54 874.46 L516.35 873.09 L517.16 871.6 L517.97 870 L518.78 868.3 L519.6 866.51 L520.41 864.63 L521.22 862.67 L522.03 860.65 L522.84 858.56 L523.65 856.42 L524.46 854.24 L525.28 852.02 L526.09 849.68 L526.9 847 L527.71 844.06 L528.52 840.95 L529.33 837.74 L530.14 834.53 L530.96 831.4 L531.77 828.45 L532.58 825.76 L533.39 823.42 L534.2 821.51 L535.01 820.03 L535.82 818.6 L536.64 817.2 L537.45 815.86 L538.26 814.6 L539.07 813.44 L539.88 812.41 L540.69 811.54 L541.5 810.84 L542.32 810.35 L543.13 810.09 L543.94 810.12 L544.75 810.67 L545.56 811.71 L546.37 813.17 L547.18 814.97 L548 817.03 L548.81 819.26 L549.62 821.6 L550.43 823.96 L551.24 826.26 L552.05 828.42 L552.86 830.39 L553.67 832.38 L554.49 834.44 L555.3 836.56 L556.11 838.72 L556.92 840.91 L557.73 843.11 L558.54 845.3 L559.35 847.47 L560.17 849.6 L560.98 851.68 L561.79 853.68 L562.6 855.6 L563.41 857.42 L564.22 859.22 L565.03 861.01 L565.85 862.8 L566.66 864.57 L567.47 866.32 L568.28 868.04 L569.09 869.72 L569.9 871.36 L570.71 872.94 L571.53 874.47 L572.34 875.94 L573.15 877.34 L573.96 878.66 L574.77 879.9 L575.58 881.04 L576.39 882.11 L577.21 883.15 L578.02 884.16 L578.83 885.14 L579.64 886.05 L580.45 886.9 L581.26 887.66 L582.07 888.33 L582.89 888.88 L583.7 889.32 L584.51 889.73 L585.32 890.12 L586.13 890.49 L586.94 890.81 L587.75 891.08 L588.57 891.3 L589.38 891.44 L590.19 891.5 L590.19 891.5 L493.63 891.5Z" fill="#33f311" fill-opacity="0.82"/>
<path d="M493.63 891.5 L494.44 891.48 L495.25 891.41 L496.07 891.3 L496.88 891.15 L497.69 890.97 L498.5 890.75 L499.31 890.5 L500.12 890.22 L500.93 889.92 L501.75 889.6 L502.56 889.26 L503.37 888.91 L504.18 888.54 L504.99 888.14 L505.8 887.6 L506.61 886.95 L507.43 886.17 L508.24 885.3 L509.05 884.33 L509.86 883.27 L510.67 882.15 L511.48 880.96 L512.29 879.72 L513.1 878.44 L513.92 877.13 L514.73 875.8 L515.54 874.46 L516.35 873.09 L517.16 871.6 L517.97 870 L518.78 868.3 L519.6 866.51 L520.41 864.63 L521.22 862.67 L522.03 860.65 L522.84 858.56 L523.65 856.42 L524.46 854.24 L525.28 852.02 L526.09 849.68 L526.9 847 L527.71 844.06 L528.52 840.95 L529.33 837.74 L530.14 834.53 L530.96 831.4 L531.77 828.45 L532.58 825.76 L533.39 823.42 L534.2 821.51 L535.01 820.03 L535.82 818.6 L536.64 817.2 L537.45 815.86 L538.26 814.6 L539.07 813.44 L539.88 812.41 L540.69 811.54 L541.5 810.84 L542.32 810.35 L543.13 810.09 L543.94 810.12 L544.75 810.67 L545.56 811.71 L546.37 813.17 L547.18 814.97 L548 817.03 L548.81 819.26 L549.62 821.6 L550.43 823.96 L551.24 826.26 L552.05 828.42 L552.86 830.39 L553.67 832.38 L554.49 834.44 L555.3 836.56 L556.11 838.72 L556.92 840.91 L557.73 843.11 L558.54 845.3 L559.35 847.47 L560.17 849.6 L560.98 851.68 L561.79 853.68 L562.6 855.6 L563.41 857.42 L564.22 859.22 L565.03 861.01 L565.85 862.8 L566.66 864.57 L567.47 866.32 L568.28 868.04 L569.09 869.72 L569.9 871.36 L570.71 872.94 L571.53 874.47 L572.34 875.94 L573.15 877.34 L573.96 878.66 L574.77 879.9 L575.58 881.04 L576.39 882.11 L577.21 883.15 L578.02 884.16 L578.83 885.14 L579.64 886.05 L580.45 886.9 L581.26 887.66 L582.07 888.33 L582.89 888.88 L583.7 889.32 L584.51 889.73 L585.32 890.12 L586.13 890.49 L586.94 890.81 L587.75 891.08 L588.57 891.3 L589.38 891.44 L590.19 891.5" fill="none" stroke="#111" stroke-width="0.85" stroke-linejoin="round"/>
<path d="M466.11 891.5 L466.79 891.48 L467.47 891.44 L468.16 891.36 L468.84 891.26 L469.52 891.13 L470.2 890.97 L470.89 890.79 L471.57 890.58 L472.25 890.35 L472.93 890.1 L473.62 889.83 L474.3 889.54 L474.98 889.23 L475.66 888.91 L476.35 888.5 L477.03 887.81 L477.71 886.84 L478.39 885.62 L479.08 884.17 L479.76 882.51 L480.44 880.66 L481.12 878.66 L481.81 876.52 L482.49 874.27 L483.17 871.92 L483.85 869.51 L484.54 867.05 L485.22 864.56 L485.9 862.08 L486.58 859.61 L487.27 856.83 L487.95 853.67 L488.63 850.21 L489.31 846.49 L490 842.61 L490.68 838.62 L491.36 834.59 L492.04 830.59 L492.73 826.69 L493.41 822.96 L494.09 819.46 L494.77 816.27 L495.45 813.46 L496.14 810.86 L496.82 808.33 L497.5 805.9 L498.18 803.61 L498.87 801.49 L499.55 799.58 L500.23 797.91 L500.91 796.51 L501.6 795.15 L502.28 793.82 L502.96 792.55 L503.64 791.41 L504.33 790.46 L505.01 789.74 L505.69 789.31 L506.37 789.24 L507.06 789.78 L507.74 790.58 L508.42 791.11 L509.1 790.95 L509.79 790.31 L510.47 789.6 L511.15 789.21 L511.83 789.54 L512.52 790.63 L513.2 792.34 L513.88 794.55 L514.56 797.1 L515.25 799.88 L515.93 802.75 L516.61 805.56 L517.29 808.35 L517.98 811.57 L518.66 815.18 L519.34 819.08 L520.02 823.18 L520.71 827.38 L521.39 831.58 L522.07 835.68 L522.75 839.59 L523.44 843.2 L524.12 846.44 L524.8 849.53 L525.48 852.62 L526.17 855.69 L526.85 858.72 L527.53 861.68 L528.21 864.54 L528.9 867.29 L529.58 869.88 L530.26 872.31 L530.94 874.55 L531.63 876.56 L532.31 878.33 L532.99 879.83 L533.67 881.15 L534.36 882.42 L535.04 883.61 L535.72 884.73 L536.4 885.76 L537.09 886.69 L537.77 887.51 L538.45 888.21 L539.13 888.77 L539.82 889.19 L540.5 889.53 L541.18 889.86 L541.86 890.16 L542.55 890.45 L543.23 890.7 L543.91 890.93 L544.59 891.13 L545.28 891.28 L545.96 891.4 L546.64 891.47 L547.32 891.5 L547.32 891.5 L466.11 891.5Z" fill="#67aaf7" fill-opacity="0.82"/>
<path d="M466.11 891.5 L466.79 891.48 L467.47 891.44 L468.16 891.36 L468.84 891.26 L469.52 891.13 L470.2 890.97 L470.89 890.79 L471.57 890.58 L472.25 890.35 L472.93 890.1 L473.62 889.83 L474.3 889.54 L474.98 889.23 L475.66 888.91 L476.35 888.5 L477.03 887.81 L477.71 886.84 L478.39 885.62 L479.08 884.17 L479.76 882.51 L480.44 880.66 L481.12 878.66 L481.81 876.52 L482.49 874.27 L483.17 871.92 L483.85 869.51 L484.54 867.05 L485.22 864.56 L485.9 862.08 L486.58 859.61 L487.27 856.83 L487.95 853.67 L488.63 850.21 L489.31 846.49 L490 842.61 L490.68 838.62 L491.36 834.59 L492.04 830.59 L492.73 826.69 L493.41 822.96 L494.09 819.46 L494.77 816.27 L495.45 813.46 L496.14 810.86 L496.82 808.33 L497.5 805.9 L498.18 803.61 L498.87 801.49 L499.55 799.58 L500.23 797.91 L500.91 796.51 L501.6 795.15 L502.28 793.82 L502.96 792.55 L503.64 791.41 L504.33 790.46 L505.01 789.74 L505.69 789.31 L506.37 789.24 L507.06 789.78 L507.74 790.58 L508.42 791.11 L509.1 790.95 L509.79 790.31 L510.47 789.6 L511.15 789.21 L511.83 789.54 L512.52 790.63 L513.2 792.34 L513.88 794.55 L514.56 797.1 L515.25 799.88 L515.93 802.75 L516.61 805.56 L517.29 808.35 L517.98 811.57 L518.66 815.18 L519.34 819.08 L520.02 823.18 L520.71 827.38 L521.39 831.58 L522.07 835.68 L522.75 839.59 L523.44 843.2 L524.12 846.44 L524.8 849.53 L525.48 852.62 L526.17 855.69 L526.85 858.72 L527.53 861.68 L528.21 864.54 L528.9 867.29 L529.58 869.88 L530.26 872.31 L530.94 874.55 L531.63 876.56 L532.31 878.33 L532.99 879.83 L533.67 881.15 L534.36 882.42 L535.04 883.61 L535.72 884.73 L536.4 885.76 L537.09 886.69 L537.77 887.51 L538.45 888.21 L539.13 888.77 L539.82 889.19 L540.5 889.53 L541.18 889.86 L541.86 890.16 L542.55 890.45 L543.23 890.7 L543.91 890.93 L544.59 891.13 L545.28 891.28 L545.96 891.4 L546.64 891.47 L547.32 891.5" fill="none" stroke="#111" stroke-width="0.85" stroke-linejoin="round"/>
<rect x="458.8" y="783.8" width="155.7" height="112.6" fill="none" stroke="#707070" stroke-width="0.9"/>
<line x1="456.2" y1="891.5" x2="458.8" y2="891.5" stroke="#4a4a4a" stroke-width="1.1"/>
<text x="454.3" y="894.05" font-size="7.3" stroke="#444444" stroke-width="0.22" text-anchor="end" fill="#444444" transform="translate(454.3 894.05) scale(1 1.1) translate(-454.3 -894.05)">0</text>
<line x1="456.2" y1="852.9" x2="458.8" y2="852.9" stroke="#4a4a4a" stroke-width="1.1"/>
<text x="454.3" y="855.45" font-size="7.3" stroke="#444444" stroke-width="0.22" text-anchor="end" fill="#444444" transform="translate(454.3 855.45) scale(1 1.1) translate(-454.3 -855.45)">1</text>
<line x1="456.2" y1="814.3" x2="458.8" y2="814.3" stroke="#4a4a4a" stroke-width="1.1"/>
<text x="454.3" y="816.85" font-size="7.3" stroke="#444444" stroke-width="0.22" text-anchor="end" fill="#444444" transform="translate(454.3 816.85) scale(1 1.1) translate(-454.3 -816.85)">2</text>
<line x1="463.1" y1="896.4" x2="463.1" y2="899" stroke="#4a4a4a" stroke-width="1.1"/>
<text x="463.1" y="906.46" font-size="7.3" stroke="#444444" stroke-width="0.22" text-anchor="middle" fill="#444444" transform="translate(463.1 906.46) scale(1 1.1) translate(-463.1 -906.46)">-0.5</text>
<line x1="500.7" y1="896.4" x2="500.7" y2="899" stroke="#4a4a4a" stroke-width="1.1"/>
<text x="500.7" y="906.46" font-size="7.3" stroke="#444444" stroke-width="0.22" text-anchor="middle" fill="#444444" transform="translate(500.7 906.46) scale(1 1.1) translate(-500.7 -906.46)">0.0</text>
<line x1="538.3" y1="896.4" x2="538.3" y2="899" stroke="#4a4a4a" stroke-width="1.1"/>
<text x="538.3" y="906.46" font-size="7.3" stroke="#444444" stroke-width="0.22" text-anchor="middle" fill="#444444" transform="translate(538.3 906.46) scale(1 1.1) translate(-538.3 -906.46)">0.5</text>
<line x1="575.9" y1="896.4" x2="575.9" y2="899" stroke="#4a4a4a" stroke-width="1.1"/>
<text x="575.9" y="906.46" font-size="7.3" stroke="#444444" stroke-width="0.22" text-anchor="middle" fill="#444444" transform="translate(575.9 906.46) scale(1 1.1) translate(-575.9 -906.46)">1.0</text>
<line x1="613.5" y1="896.4" x2="613.5" y2="899" stroke="#4a4a4a" stroke-width="1.1"/>
<text x="613.5" y="906.46" font-size="7.3" stroke="#444444" stroke-width="0.22" text-anchor="middle" fill="#444444" transform="translate(613.5 906.46) scale(1 1.1) translate(-613.5 -906.46)">1.5</text>
<text x="446.6" y="840.6" font-size="9.45" stroke="#000" stroke-width="0.12" text-anchor="middle" transform="rotate(-90 446.6 840.6) translate(446.6 840.6) scale(1 1.1) translate(-446.6 -840.6)">Density</text>
<text x="537" y="917.8" font-size="9.45" stroke="#000" stroke-width="0.12" text-anchor="middle" transform="translate(537 917.8) scale(1 1.1) translate(-537 -917.8)">Score difference after NAC-3 weeks</text>
<text x="629.6" y="830.4" font-size="9.4" stroke="#000" stroke-width="0.12" transform="translate(629.6 830.4) scale(1 1.1) translate(-629.6 -830.4)">pCR status</text>
<rect x="630.1" y="836.7" width="9.6" height="10.2" fill="#58f53c" stroke="#1a1a1a" stroke-width="0.8"/>
<text x="645" y="844.4" font-size="7.6" stroke="#000" stroke-width="0.14" transform="translate(645 844.4) scale(1 1.1) translate(-645 -844.4)">pCR</text>
<rect x="630.1" y="847.9" width="9.6" height="10.2" fill="#82b9f8" stroke="#1a1a1a" stroke-width="0.8"/>
<text x="645" y="855.6" font-size="7.6" stroke="#000" stroke-width="0.14" transform="translate(645 855.6) scale(1 1.1) translate(-645 -855.6)">non-pCR</text>
</svg>
</body></html>
